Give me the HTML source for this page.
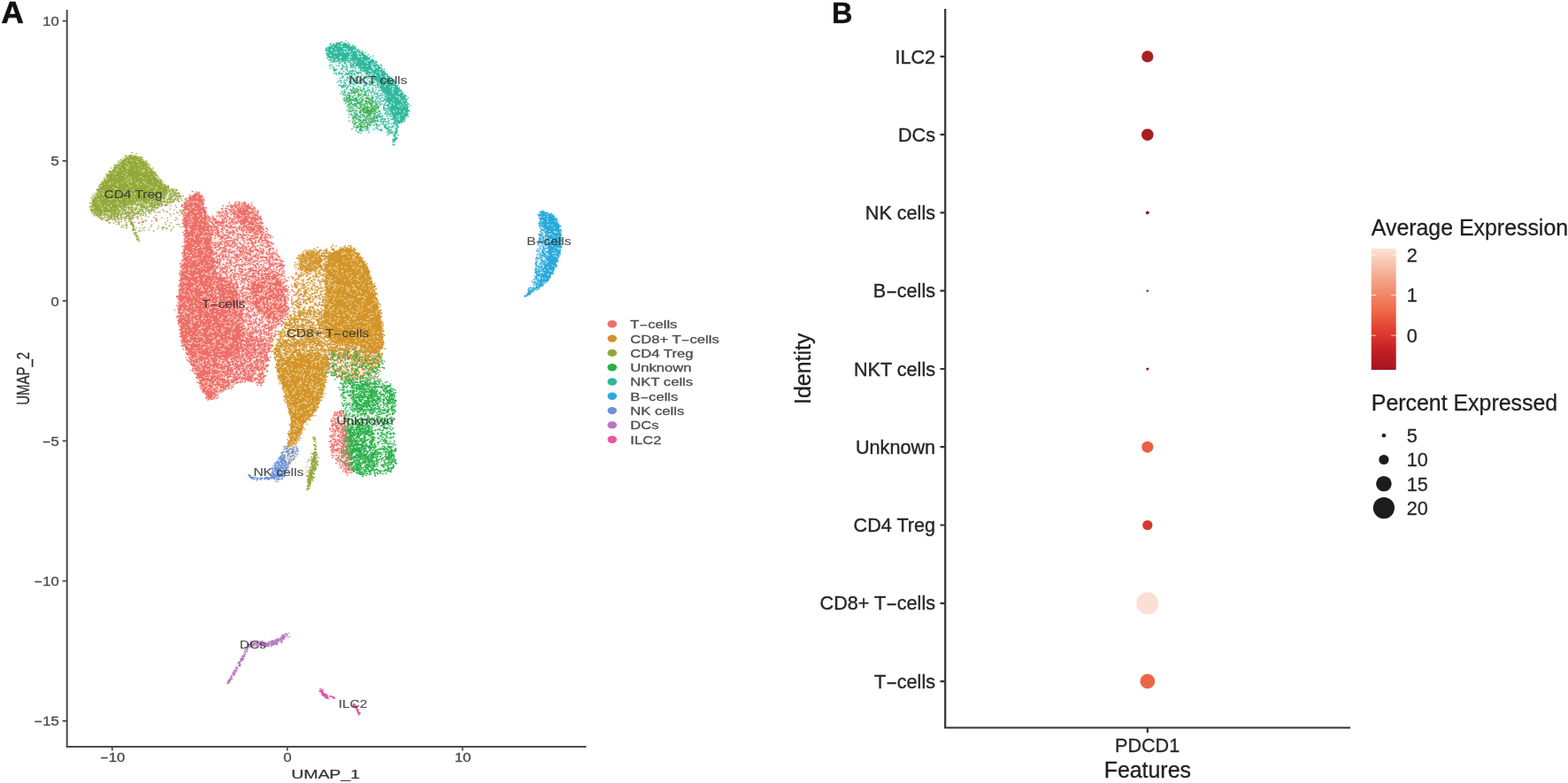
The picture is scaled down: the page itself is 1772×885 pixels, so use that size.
<!DOCTYPE html>
<html lang="en"><head><meta charset="utf-8"><title>UMAP clusters and PDCD1 dot plot</title>
<style>
html,body{margin:0;padding:0;background:#fff}
body{width:1772px;height:885px;overflow:hidden}
svg{display:block;font-family:"Liberation Sans",Arial,Helvetica,sans-serif}
</style></head><body>
<svg width="1772" height="885" viewBox="0 0 1772 885">
<rect width="1772" height="885" fill="#fff"/>
<g id="panelA">
<path d="M75.7 11V845M74.7 844H662.5" fill="none" stroke="#4a4a4a" stroke-width="2"/>
<path d="M70.6 23.6H75M70.6 181.9H75M70.6 340.2H75M70.6 498.4H75M70.6 656.6H75M70.6 814.8H75M126.8 844V848.6M324.7 844V848.6M522.7 844V848.6" fill="none" stroke="#4a4a4a" stroke-width="1.7"/>
<text transform="translate(66.80 29.00) scale(1.2056 1)" font-size="13.80" fill="#4d4d4d" stroke="#4d4d4d" stroke-width="0.35" text-anchor="end">10</text>
<text transform="translate(66.80 187.30) scale(1.2056 1)" font-size="13.80" fill="#4d4d4d" stroke="#4d4d4d" stroke-width="0.35" text-anchor="end">5</text>
<text transform="translate(66.80 345.60) scale(1.2056 1)" font-size="13.80" fill="#4d4d4d" stroke="#4d4d4d" stroke-width="0.35" text-anchor="end">0</text>
<text transform="translate(66.80 503.80) scale(1.2056 1)" font-size="13.80" fill="#4d4d4d" stroke="#4d4d4d" stroke-width="0.35" text-anchor="end"><tspan textLength="8.06" lengthAdjust="spacingAndGlyphs"><tspan textLength="8.06" lengthAdjust="spacingAndGlyphs">-</tspan></tspan>5</text>
<text transform="translate(66.80 662.00) scale(1.2056 1)" font-size="13.80" fill="#4d4d4d" stroke="#4d4d4d" stroke-width="0.35" text-anchor="end"><tspan textLength="8.06" lengthAdjust="spacingAndGlyphs"><tspan textLength="8.06" lengthAdjust="spacingAndGlyphs">-</tspan></tspan>10</text>
<text transform="translate(66.80 820.20) scale(1.2056 1)" font-size="13.80" fill="#4d4d4d" stroke="#4d4d4d" stroke-width="0.35" text-anchor="end"><tspan textLength="8.06" lengthAdjust="spacingAndGlyphs"><tspan textLength="8.06" lengthAdjust="spacingAndGlyphs">-</tspan></tspan>15</text>
<text transform="translate(127.10 861.20) scale(1.2056 1)" font-size="13.80" fill="#4d4d4d" stroke="#4d4d4d" stroke-width="0.35" text-anchor="middle"><tspan textLength="8.06" lengthAdjust="spacingAndGlyphs"><tspan textLength="8.06" lengthAdjust="spacingAndGlyphs">-</tspan></tspan>10</text>
<text transform="translate(325.00 861.20) scale(1.2056 1)" font-size="13.80" fill="#4d4d4d" stroke="#4d4d4d" stroke-width="0.35" text-anchor="middle">0</text>
<text transform="translate(523.00 861.20) scale(1.2056 1)" font-size="13.80" fill="#4d4d4d" stroke="#4d4d4d" stroke-width="0.35" text-anchor="middle">10</text>
<text transform="translate(368.00 879.70) scale(1.2464 1)" font-size="15.52" fill="#333" stroke="#333" stroke-width="0.25" text-anchor="middle">UMAP_1</text>
<text transform="translate(33.3 427.8) scale(1.3351 0.9662) rotate(-90)" text-anchor="middle" font-size="15.52" fill="#333" stroke="#333" stroke-width="0.25">UMAP_2</text>
<text x="1.4" y="26.4" font-size="35" font-weight="bold" fill="#111" stroke="#111" stroke-width="0.7">A</text>
<g id="cells">
<defs><filter id="bl" x="-20%" y="-20%" width="140%" height="140%"><feGaussianBlur stdDeviation="1.6"/></filter></defs>
<path d="M221.0 218.0L221.7 218.0L222.3 218.0L223.0 218.1L223.6 218.2L224.2 218.5L224.8 218.8L225.4 219.1L226.0 219.6L226.5 220.1L227.0 220.6L227.5 221.3L228.0 222.0L228.4 222.8L228.8 223.8L229.2 224.9L229.5 226.1L229.8 227.3L230.1 228.6L230.3 229.9L230.6 231.3L230.9 232.5L231.3 233.8L231.6 234.9L232.0 236.0L232.4 237.0L232.8 238.1L233.3 239.2L233.7 240.2L234.2 241.3L234.7 242.2L235.2 243.2L235.7 244.0L236.2 244.7L236.8 245.3L237.4 245.7L238.0 246.0L238.6 246.1L239.3 245.9L240.0 245.7L240.7 245.3L241.4 244.7L242.2 244.1L243.0 243.5L243.7 242.7L244.5 242.0L245.3 241.3L246.2 240.6L247.0 240.0L247.8 239.4L248.7 238.7L249.6 238.0L250.5 237.3L251.4 236.6L252.3 235.8L253.2 235.1L254.2 234.4L255.1 233.7L256.1 233.1L257.0 232.5L258.0 232.0L259.0 231.6L260.0 231.2L261.0 230.8L262.0 230.5L263.0 230.2L264.1 229.9L265.1 229.7L266.1 229.5L267.1 229.4L268.1 229.2L269.1 229.1L270.0 229.0L270.9 228.9L271.8 228.8L272.6 228.8L273.5 228.7L274.3 228.7L275.1 228.7L275.9 228.7L276.7 228.9L277.5 229.0L278.4 229.3L279.2 229.6L280.0 230.0L280.8 230.5L281.7 231.1L282.5 231.8L283.4 232.6L284.3 233.4L285.1 234.3L286.0 235.2L286.8 236.2L287.6 237.1L288.4 238.1L289.2 239.1L290.0 240.0L290.7 240.9L291.4 241.8L292.1 242.7L292.8 243.6L293.5 244.6L294.1 245.5L294.8 246.5L295.4 247.5L296.0 248.5L296.7 249.6L297.3 250.8L298.0 252.0L298.7 253.3L299.3 254.7L300.0 256.2L300.7 257.7L301.4 259.3L302.1 260.9L302.7 262.5L303.4 264.1L304.1 265.6L304.7 267.2L305.4 268.6L306.0 270.0L306.6 271.3L307.2 272.6L307.8 273.9L308.4 275.1L309.0 276.3L309.6 277.5L310.2 278.7L310.8 279.8L311.3 280.9L311.9 281.9L312.5 283.0L313.0 284.0L313.5 285.0L314.1 285.8L314.6 286.6L315.2 287.4L315.7 288.1L316.2 288.9L316.8 289.6L317.3 290.4L317.7 291.2L318.2 292.0L318.6 293.0L319.0 294.0L319.4 295.1L319.7 296.3L320.0 297.5L320.3 298.7L320.5 300.0L320.8 301.4L321.0 302.7L321.2 304.1L321.4 305.6L321.6 307.0L321.8 308.5L322.0 310.0L322.2 311.5L322.4 313.1L322.6 314.8L322.8 316.4L323.0 318.2L323.1 319.9L323.3 321.6L323.4 323.3L323.6 325.0L323.7 326.7L323.9 328.4L324.0 330.0L324.1 331.6L324.3 333.2L324.4 334.8L324.6 336.4L324.7 337.9L324.8 339.5L324.9 341.0L325.0 342.5L325.1 344.0L325.1 345.4L325.1 346.7L325.0 348.0L324.9 349.2L324.8 350.3L324.6 351.4L324.4 352.4L324.2 353.4L324.0 354.4L323.7 355.3L323.4 356.2L323.1 357.1L322.8 358.1L322.4 359.0L322.0 360.0L321.6 361.0L321.1 362.0L320.5 363.0L319.9 364.0L319.3 364.9L318.7 365.9L318.0 366.9L317.4 367.9L316.8 368.9L316.2 369.9L315.6 371.0L315.0 372.0L314.5 373.0L313.9 374.1L313.4 375.1L312.9 376.1L312.3 377.1L311.8 378.2L311.3 379.2L310.8 380.3L310.3 381.4L309.9 382.6L309.4 383.8L309.0 385.0L308.6 386.3L308.2 387.6L307.9 388.9L307.6 390.3L307.2 391.7L306.9 393.2L306.6 394.6L306.3 396.1L306.0 397.6L305.7 399.1L305.4 400.5L305.0 402.0L304.6 403.5L304.2 405.0L303.8 406.5L303.4 408.0L303.0 409.6L302.6 411.1L302.1 412.7L301.7 414.2L301.3 415.7L300.8 417.2L300.4 418.6L300.0 420.0L299.6 421.4L299.2 422.9L298.9 424.4L298.5 425.9L298.2 427.3L297.8 428.8L297.4 430.1L297.0 431.4L296.6 432.5L296.1 433.5L295.6 434.4L295.0 435.0L294.3 435.4L293.6 435.7L292.9 435.7L292.0 435.6L291.2 435.4L290.3 435.1L289.4 434.7L288.5 434.3L287.6 433.9L286.7 433.5L285.8 433.2L285.0 433.0L284.2 432.8L283.4 432.6L282.6 432.3L281.8 432.1L281.0 431.8L280.2 431.6L279.4 431.3L278.6 431.1L277.7 431.0L276.8 430.9L275.9 430.9L275.0 431.0L274.0 431.2L273.0 431.4L271.9 431.7L270.9 432.0L269.7 432.4L268.6 432.9L267.5 433.3L266.4 433.9L265.2 434.4L264.1 434.9L263.1 435.5L262.0 436.0L261.0 436.6L259.9 437.2L258.9 437.8L257.8 438.5L256.8 439.2L255.8 439.9L254.7 440.6L253.7 441.3L252.8 442.0L251.8 442.7L250.9 443.4L250.0 444.0L249.1 444.6L248.3 445.3L247.5 446.0L246.7 446.7L245.9 447.4L245.2 448.1L244.5 448.8L243.7 449.4L243.0 449.9L242.3 450.4L241.7 450.7L241.0 451.0L240.3 451.2L239.7 451.3L239.1 451.4L238.5 451.4L237.9 451.4L237.4 451.3L236.8 451.1L236.3 450.9L235.7 450.6L235.1 450.1L234.6 449.6L234.0 449.0L233.4 448.3L232.9 447.4L232.3 446.5L231.8 445.5L231.2 444.4L230.7 443.2L230.1 441.9L229.6 440.6L229.0 439.3L228.3 437.9L227.7 436.4L227.0 435.0L226.3 433.5L225.5 431.9L224.7 430.2L223.8 428.5L222.9 426.7L222.1 424.9L221.2 423.1L220.3 421.3L219.4 419.4L218.6 417.6L217.8 415.8L217.0 414.0L216.3 412.2L215.5 410.5L214.8 408.7L214.1 406.9L213.4 405.1L212.7 403.4L212.0 401.6L211.4 399.9L210.7 398.1L210.1 396.4L209.6 394.7L209.0 393.0L208.5 391.4L208.0 389.8L207.5 388.2L207.0 386.6L206.6 385.1L206.2 383.6L205.8 382.0L205.4 380.5L205.0 378.9L204.7 377.3L204.3 375.7L204.0 374.0L203.7 372.3L203.4 370.6L203.1 368.8L202.8 367.1L202.6 365.3L202.3 363.5L202.1 361.7L201.9 359.8L201.8 357.9L201.7 356.0L201.6 354.0L201.5 352.0L201.5 349.9L201.5 347.8L201.6 345.6L201.6 343.3L201.8 341.0L201.9 338.7L202.1 336.4L202.2 334.0L202.4 331.7L202.6 329.4L202.8 327.2L203.0 325.0L203.2 322.9L203.4 320.8L203.6 318.7L203.9 316.7L204.1 314.7L204.4 312.7L204.7 310.7L204.9 308.6L205.2 306.6L205.5 304.4L205.7 302.3L206.0 300.0L206.3 297.7L206.6 295.2L206.9 292.7L207.2 290.2L207.6 287.6L207.9 285.0L208.2 282.4L208.4 279.8L208.7 277.3L208.8 274.8L209.0 272.3L209.0 270.0L209.0 267.7L208.8 265.4L208.6 263.1L208.3 260.9L208.0 258.6L207.7 256.4L207.3 254.3L207.0 252.3L206.7 250.3L206.4 248.4L206.2 246.6L206.0 245.0L205.9 243.5L205.8 242.1L205.6 240.8L205.6 239.6L205.5 238.5L205.4 237.4L205.4 236.5L205.4 235.5L205.5 234.6L205.6 233.7L205.8 232.9L206.0 232.0L206.3 231.2L206.6 230.4L207.0 229.6L207.4 228.9L207.9 228.2L208.4 227.6L209.0 226.9L209.6 226.3L210.1 225.7L210.8 225.2L211.4 224.6L212.0 224.0L212.7 223.4L213.3 222.8L214.1 222.1L214.9 221.5L215.6 220.9L216.4 220.2L217.2 219.7L218.0 219.2L218.8 218.8L219.6 218.4L220.3 218.1Z" fill="#ee6f69" opacity="0.15" filter="url(#bl)"/>
<g transform="scale(0.1290 0.1)" fill="none" stroke-linecap="round"><path d="M1685 2164h0m59 8h0m-82 52h0m1-22h0m3 33h0m2-5h0m22-18h0m5-3h0m2 18h0m9-9h0m10 4h0m3 1h0m0 7h0m9-30h0m11 20h0m5 15h0m8-30h0m1 11h0m17-5h0m-133 56h0m3-24h0m18-2h0m17 28h0m4-9h0m2 17h0m7-4h0m1-7h0m12-9h0m5-17h0m5 27h0m8-14h0m1 2h0m9 9h0m6-6h0m3-15h0m6 35h0m9-22h0m4 21h0m8-11h0m4-7h0m13-19h0m-181 77h0m14-27h0m0-4h0m6 19h0m1 4h0m9-20h0m13 9h0m1-13h0m25 6h0m2 5h0m2 0h0m4 1h0m8-12h0m0 17h0m3 1h0m12 4h0m6-7h0m2 11h0m1 2h0m14-14h0m12-6h0m13-2h0m9-5h0m13 17h0m11 5h0m227-15h0m12 25h0m40-23h0m2 17h0m3-30h0m3 36h0m18-33h0m9 20h0m3-16h0m24 10h0m8 17h0m8-31h0m7 29h0m3-26h0m6 25h0m18-1h0m4-3h0m-579 17h0m13 18h0m6 2h0m3 11h0m12-11h0m7 7h0m1-18h0m13 7h0m25-7h0m12 24h0m4-23h0m8-4h0m3-9h0m9-3h0m10 17h0m1 11h0m2-16h0m0 27h0m13 0h0m5-21h0m15 16h0m3-6h0m2 11h0m19-13h0m23 3h0m134 10h0m8-4h0m5-27h0m23 29h0m5-1h0m7 0h0m2-30h0m7 5h0m23 0h0m2-8h0m1 19h0m5-12h0m2 6h0m8-8h0m18-1h0m9 11h0m10 16h0m2-30h0m2-1h0m7 23h0m28-6h0m16-19h0m1 20h0m6-13h0m24 7h0m1-6h0m4 17h0m7 10h0m38-28h0m3 29h0m12-14h0m9 13h0m-634 23h0m3 3h0m9 12h0m3-24h0m1 29h0m6-16h0m8-9h0m16-1h0m8 25h0m6-5h0m3-19h0m4 11h0m4-20h0m6 2h0m3 5h0m10 10h0m6 0h0m5-16h0m3-4h0m8 17h0m11-14h0m5 9h0m42 2h0m10 15h0m10 6h0m125-3h0m33-10h0m25-4h0m2 12h0m7-7h0m23-18h0m9 5h0m0 6h0m4 18h0m4-18h0m13 20h0m13-37h0m5 5h0m11 26h0m11-7h0m3-21h0m6 2h0m10-2h0m3 26h0m4-18h0m1-2h0m13 24h0m5-12h0m16-3h0m8 3h0m1-2h0m7 14h0m7-10h0m4-11h0m4-10h0m3 29h0m6 7h0m2-38h0m0 30h0m20-25h0m2 11h0m0 8h0m18 13h0m3-7h0m30 1h0m9-11h0m-666 30h0m7 8h0m31 11h0m4 9h0m10-1h0m4-22h0m1 8h0m29-19h0m1 22h0m10-9h0m7 6h0m17-14h0m3 3h0m7-2h0m9-1h0m2 16h0m3-9h0m1-2h0m9-8h0m0-4h0m8 30h0m6-30h0m3 36h0m16-20h0m2 13h0m3-29h0m13-3h0m1 10h0m16 27h0m84-36h0m15 15h0m8-16h0m9 9h0m4-2h0m0 27h0m7 5h0m2-4h0m8-31h0m9 26h0m5-13h0m11 21h0m4-37h0m5 23h0m3-13h0m4-4h0m26 17h0m2 4h0m18-16h0m1-5h0m4 18h0m9-24h0m2 25h0m2-14h0m6 14h0m3-4h0m6-14h0m25 18h0m1-16h0m11-1h0m1 30h0m3-2h0m5-30h0m10-1h0m4 4h0m5 11h0m0 8h0m7-22h0m5 16h0m1-4h0m1 11h0m0-16h0m10 11h0m7-25h0m2 10h0m1 6h0m6-2h0m13-1h0m9 6h0m0-2h0m1 7h0m6-14h0m14 8h0m5 11h0m4-3h0m20-3h0m9-22h0m-650 65h0m1-22h0m0-2h0m0 30h0m3-29h0m5 12h0m9 13h0m6-28h0m6 14h0m13 24h0m2-11h0m8 4h0m2-18h0m25 3h0m3-9h0m6 28h0m3-2h0m13-19h0m14 21h0m3-17h0m3 19h0m6-26h0m6-7h0m1 26h0m4-23h0m2-7h0m0 13h0m17 23h0m10-7h0m3-16h0m7-7h0m2 5h0m5 23h0m2-10h0m2-18h0m7 22h0m9-13h0m9 6h0m3-10h0m1 8h0m2 1h0m14 10h0m14-27h0m3 30h0m1-15h0m9 13h0m8 8h0m5-3h0m10-33h0m19-3h0m14 11h0m17 23h0m9-22h0m8 25h0m6-22h0m3 4h0m2 10h0m5 3h0m10-30h0m5 9h0m14 20h0m3-14h0m1 11h0m16 7h0m2 0h0m14 0h0m7-16h0m17-4h0m17 20h0m18-31h0m10-2h0m10 22h0m0-7h0m13 12h0m14-28h0m3-1h0m19 20h0m9-1h0m4-19h0m9 15h0m3-8h0m23-2h0m29-2h0m1 11h0m14 1h0m3 16h0m11-12h0m1-16h0m3 34h0m2-4h0m-687 13h0m13 13h0m11 0h0m3-10h0m3 11h0m9-2h0m12-9h0m19 13h0m2-9h0m3 25h0m6-28h0m6 11h0m2 1h0m14-10h0m0 22h0m8-30h0m14 32h0m35-24h0m5 25h0m9-17h0m4 13h0m14-20h0m9 20h0m0-31h0m2 10h0m6 27h0m8-19h0m6-18h0m5 2h0m2 6h0m7 13h0m5-23h0m7 33h0m6-2h0m2-9h0m14-15h0m2 6h0m9 26h0m0-26h0m9 24h0m0-9h0m6-9h0m5 15h0m9-9h0m3-1h0m7 6h0m8-1h0m12 1h0m6 9h0m2-35h0m2 14h0m3 0h0m1 6h0m5 3h0m6-6h0m16 10h0m3-9h0m4-9h0m18 25h0m3-31h0m10 31h0m9-14h0m3-9h0m2-9h0m1 28h0m3-18h0m11 22h0m4-37h0m6 20h0m12 7h0m9 10h0m6-25h0m4 19h0m4-2h0m6-13h0m7-7h0m1 15h0m4-8h0m4 4h0m6-4h0m4 4h0m11-6h0m0 9h0m2 6h0m25 4h0m6-14h0m1 1h0m0-21h0m6 16h0m1 21h0m3-5h0m2-17h0m12 4h0m1-13h0m18 26h0m0 4h0m14-32h0m3 19h0m1-1h0m1-6h0m13-3h0m1 4h0m43-13h0m2 28h0m0 2h0m-687 9h0m12 34h0m5-3h0m1 3h0m6-15h0m11-17h0m7 1h0m3 11h0m5-16h0m2 26h0m9-10h0m6 4h0m11 5h0m13 8h0m6-5h0m10-24h0m5 31h0m1-22h0m5-3h0m2 4h0m3 4h0m2 6h0m9-11h0m32 25h0m2-31h0m8 5h0m1 6h0m4 11h0m2 2h0m3-31h0m8 25h0m2-7h0m23-19h0m7 28h0m3-1h0m1 8h0m2-8h0m5 11h0m11-2h0m7-35h0m3 9h0m4 8h0m4-1h0m4 9h0m1-1h0m8 14h0m11-32h0m11-5h0m1-1h0m2 20h0m5-21h0m4 25h0m7-2h0m3-22h0m3 18h0m8-15h0m0 28h0m11 7h0m2-29h0m7 18h0m3-27h0m13 36h0m4-16h0m2 0h0m3 7h0m6 11h0m7-2h0m11-25h0m1-8h0m8 31h0m7-9h0m1 12h0m1-2h0m16-23h0m19-3h0m1 3h0m8-11h0m26 36h0m13-26h0m6-2h0m1-8h0m0 23h0m2-22h0m14 7h0m2 5h0m6 7h0m15 15h0m8-6h0m6-18h0m18-12h0m2 27h0m1 0h0m4-9h0m2-18h0m12 14h0m1 6h0m1-12h0m15 29h0m1-25h0m7 12h0m24-4h0m1 16h0m15 2h0m13-30h0m4-2h0m6-7h0m-679 44h0m19 24h0m0-14h0m4 25h0m11-28h0m10 22h0m1 6h0m23-10h0m16-16h0m7 21h0m0-1h0m1-12h0m10-9h0m9-10h0m7 5h0m16 1h0m2 7h0m9 18h0m7-20h0m5 20h0m0-23h0m12-4h0m1 33h0m5 0h0m4-15h0m12 0h0m1 9h0m13-6h0m4-25h0m25 29h0m2-29h0m1 19h0m0-9h0m5 25h0m1-35h0m0 2h0m3-2h0m11 32h0m1-23h0m7-2h0m13 8h0m0-17h0m6 36h0m1-7h0m1-25h0m7 25h0m1-23h0m28 25h0m9-9h0m1 10h0m2-13h0m15-4h0m8 18h0m21-29h0m1 33h0m12-25h0m8 2h0m7-14h0m3 16h0m15-7h0m5 6h0m1-12h0m16 13h0m0-7h0m10 24h0m9-16h0m13 0h0m2 9h0m2-22h0m0 29h0m5-23h0m13 23h0m1-16h0m13 2h0m3-13h0m5 32h0m14-16h0m20-3h0m5-15h0m6 6h0m6 10h0m31 1h0m10-12h0m8 30h0m5-5h0m9-31h0m4-3h0m1 28h0m2 1h0m7 4h0m8-12h0m7-1h0m6-5h0m5 1h0m6 6h0m2-20h0m1 26h0m5-1h0m26-6h0m10 12h0m-737 32h0m15-19h0m1 1h0m6 28h0m22-29h0m3 25h0m3-22h0m24 27h0m2-15h0m8-10h0m3 8h0m3 2h0m24-5h0m2 5h0m4 7h0m0-16h0m3-9h0m2 31h0m53-17h0m1-12h0m8 28h0m21-24h0m0 15h0m6 4h0m3-25h0m5 10h0m4-10h0m6 34h0m2-29h0m11 22h0m2-6h0m1-20h0m6 21h0m10-6h0m14-15h0m3 27h0m5-31h0m9 18h0m2 21h0m4-13h0m5-9h0m0-8h0m3 28h0m2-10h0m22-8h0m1 3h0m13 13h0m1-27h0m28 19h0m6-24h0m1 8h0m1-9h0m7 34h0m6-13h0m9 16h0m6 0h0m0-19h0m2 7h0m11-3h0m7-24h0m3 32h0m2-18h0m8 20h0m2-18h0m6 23h0m13-36h0m7 9h0m39-7h0m4-2h0m4 18h0m6-15h0m9-2h0m16 23h0m2-10h0m2 14h0m3-31h0m11 0h0m5 25h0m3-25h0m3 7h0m4 7h0m1 21h0m2-14h0m12 2h0m10-14h0m10 28h0m2-15h0m14 5h0m18 8h0m2-29h0m14 17h0m5 3h0m4 8h0m2 2h0m0-22h0m2 19h0m4-7h0m16-26h0m2 29h0m23-10h0m-720 39h0m9-9h0m6-6h0m2-2h0m2 30h0m3-13h0m3-12h0m2 30h0m14-21h0m5 8h0m7 12h0m3-16h0m9-16h0m1 8h0m8 1h0m4 21h0m32-16h0m4 6h0m11-13h0m4-9h0m11 27h0m6-16h0m4 4h0m6 17h0m21-17h0m3 5h0m8 0h0m9 9h0m1-21h0m3 3h0m6 26h0m2-8h0m7 8h0m9-37h0m7 1h0m5 13h0m9-9h0m2 8h0m4-10h0m16 9h0m4 19h0m12-31h0m1 8h0m2 1h0m10 21h0m4-2h0m1-9h0m1 8h0m3-16h0m2 4h0m0 10h0m9 6h0m14 4h0m4-23h0m11 18h0m6-9h0m1-5h0m3-1h0m3 2h0m1 0h0m0-6h0m9 11h0m15 10h0m2-17h0m7 17h0m11-33h0m22 13h0m7 7h0m27 13h0m8-21h0m3 9h0m1-20h0m1 5h0m16 0h0m1 14h0m9-5h0m8 24h0m5-15h0m5-21h0m6 5h0m5 13h0m8-3h0m1 1h0m10-4h0m14 3h0m7 0h0m20 14h0m4-8h0m3 2h0m9-1h0m0 1h0m6-3h0m5 9h0m8-28h0m4 10h0m3 21h0m1-28h0m3 26h0m3-33h0m11 16h0m3-14h0m21 34h0m7-24h0m3 9h0m3 6h0m4-19h0m21 30h0m2-30h0m1 12h0m3-6h0m4 23h0m13-33h0m3 15h0m11 1h0m6 3h0m3 2h0m-753 40h0m5-12h0m16 16h0m6-26h0m13 16h0m17-6h0m9-4h0m3 12h0m31-6h0m4 23h0m22-34h0m7 5h0m1 11h0m9-12h0m11 24h0m9-8h0m0-16h0m8 29h0m6-5h0m5 0h0m26-10h0m4-1h0m7-17h0m11 18h0m1-15h0m5 8h0m31 1h0m44 12h0m8-24h0m3 14h0m8-14h0m0 14h0m8-8h0m2-5h0m14 26h0m3-13h0m7-5h0m7-7h0m6 9h0m12-10h0m3 34h0m11-34h0m8 8h0m3 26h0m11-1h0m8-19h0m9 7h0m16-3h0m0 12h0m5-11h0m1 15h0m4-31h0m8-2h0m20 0h0m12 9h0m1 17h0m3-30h0m2 14h0m13-1h0m20 16h0m4-27h0m2 30h0m7-3h0m7-10h0m9-10h0m0 11h0m1-8h0m7 0h0m1 19h0m14-23h0m2 11h0m14-1h0m3-10h0m8-1h0m8 1h0m7-6h0m12 33h0m1-1h0m8-15h0m3-6h0m1-2h0m0-13h0m2 28h0m7-5h0m2-16h0m5 30h0m12 2h0m2-33h0m8 5h0m3 15h0m0 10h0m13 0h0m1-31h0m0 31h0m6-29h0m24-5h0m1 6h0m17-8h0m-767 51h0m7 7h0m14 16h0m4-26h0m7 14h0m10-17h0m2-5h0m5 2h0m22 37h0m18-15h0m2-3h0m2 17h0m2-10h0m6 9h0m2-17h0m31-3h0m12-3h0m3-3h0m19 7h0m12 9h0m1 2h0m2-2h0m15 8h0m7-4h0m6-5h0m4 5h0m1-19h0m4 27h0m3-13h0m4 1h0m14-10h0m23 10h0m4-3h0m7 5h0m17-11h0m16 10h0m0 11h0m8-26h0m1 9h0m2 5h0m11-25h0m14 14h0m8 20h0m2-15h0m7 2h0m2-19h0m9 14h0m1 13h0m4-25h0m11-4h0m4 23h0m11-21h0m17 18h0m1 8h0m2-11h0m8-4h0m3 17h0m1-26h0m5 20h0m5 11h0m13-2h0m22-16h0m7 10h0m33-28h0m5 18h0m25 14h0m5 3h0m4-13h0m16-20h0m9 23h0m1 4h0m1-25h0m3 22h0m3 11h0m0-6h0m0 5h0m4-21h0m12 20h0m6-12h0m6-15h0m2-7h0m0 21h0m1 0h0m1-20h0m21 6h0m6 5h0m3 5h0m22 5h0m2-19h0m14 32h0m17-34h0m1 22h0m11 0h0m3-13h0m5-6h0m1 11h0m4 8h0m2-9h0m7 1h0m16 4h0m0 8h0m8 9h0m9-4h0m-781 35h0m21-14h0m6-8h0m2 27h0m15-31h0m13 34h0m10-8h0m4-15h0m2 16h0m0-13h0m2 14h0m1-14h0m16-8h0m5 15h0m2 13h0m0-8h0m7-6h0m10 11h0m0-34h0m3 2h0m6 33h0m2-28h0m5 11h0m1 3h0m1-1h0m0 10h0m11 6h0m7-23h0m11 15h0m8-17h0m3 0h0m12-5h0m1 8h0m12-13h0m0 14h0m3-13h0m18 26h0m0-10h0m3-9h0m12 3h0m1 0h0m9 26h0m10-36h0m6 5h0m3 10h0m7 20h0m1-24h0m3-2h0m1 21h0m8 1h0m9-32h0m4 24h0m2-12h0m4-4h0m3 11h0m5-19h0m2 36h0m11 0h0m4-36h0m4 1h0m19 35h0m5-22h0m3 15h0m11-5h0m3-11h0m13-13h0m2 0h0m2 18h0m8-8h0m8 16h0m3-5h0m1-7h0m9-11h0m4 31h0m11-4h0m2-5h0m10-12h0m12 4h0m13 12h0m4 1h0m6 7h0m14-36h0m3 36h0m12-21h0m0 6h0m2-10h0m3 4h0m1 16h0m2 5h0m6-36h0m10 26h0m5-2h0m7 12h0m15-16h0m5 3h0m23 13h0m10-37h0m0 28h0m3-1h0m2-14h0m2 2h0m14 9h0m5 9h0m17-13h0m4-4h0m24-11h0m3 5h0m13 5h0m5 4h0m1 0h0m18 8h0m9 9h0m8-15h0m5-18h0m3 3h0m0 25h0m8-21h0m6 12h0m1-12h0m7 12h0m-755 29h0m20 23h0m7-25h0m1 18h0m0-8h0m4-8h0m6 4h0m0 16h0m12-3h0m3-21h0m13 15h0m14 8h0m7-8h0m15 11h0m23-33h0m11 13h0m2 25h0m1-27h0m1-11h0m1 12h0m4 13h0m9-12h0m12 23h0m1-14h0m4 1h0m29-16h0m0 28h0m2-23h0m3 12h0m6-20h0m2 14h0m0-12h0m12 13h0m2 14h0m8-21h0m1 20h0m0-23h0m1 12h0m2 4h0m9 8h0m6-6h0m10-23h0m8-2h0m11 24h0m16-5h0m2-1h0m0 4h0m9-9h0m1-2h0m2-9h0m9-3h0m11 23h0m4 7h0m1 3h0m1-32h0m2-1h0m1 35h0m4-29h0m3 29h0m2 0h0m3-19h0m2 17h0m1-10h0m9-17h0m0 13h0m18 7h0m14 1h0m3-11h0m47 21h0m10-28h0m11-7h0m0 27h0m13 7h0m2-8h0m4-14h0m3 21h0m5-32h0m7 34h0m5-31h0m8 15h0m0 5h0m7-11h0m11-12h0m8 24h0m0-20h0m1 2h0m16 22h0m13-3h0m1-21h0m4 25h0m2-12h0m1 5h0m1-8h0m1 9h0m1 4h0m14-32h0m4 34h0m2-2h0m16-19h0m4 13h0m10-10h0m2 18h0m3 1h0m7-10h0m2 9h0m15-32h0m6 16h0m8 21h0m5-2h0m5-22h0m7 7h0m1 17h0m47-10h0m0-8h0m9-10h0m0 18h0m4-18h0m15-7h0m10 10h0m31 13h0m-828 29h0m17-13h0m15 9h0m9 17h0m0-26h0m13 23h0m1 3h0m3-3h0m2-7h0m6-14h0m11 12h0m0 3h0m10-2h0m21 16h0m4-30h0m0-3h0m2 17h0m1 8h0m9 13h0m2-31h0m7 21h0m0-15h0m4-4h0m7-4h0m21 13h0m41-16h0m4 10h0m4 18h0m3-13h0m5 7h0m3-2h0m1 5h0m6 2h0m1-25h0m9 10h0m13 6h0m6-12h0m2 6h0m3-6h0m5 2h0m2 27h0m11-4h0m3-12h0m8-8h0m1 0h0m4 16h0m3-7h0m30 11h0m7-19h0m4 3h0m9-9h0m1 21h0m12-26h0m4 0h0m6 6h0m1-7h0m1-1h0m0 33h0m10-34h0m15 16h0m5-10h0m8 5h0m3-5h0m6 5h0m9 9h0m1-16h0m3 0h0m0 5h0m4-6h0m4-4h0m4 2h0m5 23h0m18 7h0m10 4h0m24-7h0m2-11h0m1-12h0m6 7h0m8 23h0m2-34h0m3 22h0m8-22h0m9 28h0m2-19h0m9-4h0m6 11h0m1-2h0m4 11h0m8 8h0m1-16h0m12 15h0m0-11h0m5 5h0m0-1h0m0-21h0m4 30h0m9-34h0m3 6h0m6-6h0m5 4h0m31 20h0m20-19h0m3 27h0m11-34h0m4 15h0m5 8h0m10-8h0m0 14h0m34-15h0m0 10h0m6 14h0m9-1h0m5-29h0m2 25h0m3-17h0m16 9h0m10 14h0m6-18h0m2-10h0m12 18h0m10-13h0m6 21h0m-807 32h0m4 10h0m18-10h0m7 3h0m3-19h0m10 4h0m8-17h0m10 6h0m3 23h0m3-24h0m2 26h0m3 1h0m3 6h0m9-10h0m15 0h0m5-14h0m7-13h0m4 14h0m42 15h0m8-6h0m4 8h0m1-20h0m3 22h0m3 3h0m2-1h0m7 0h0m1-23h0m9 7h0m2 10h0m1-7h0m4-7h0m3 20h0m16-7h0m3-21h0m5 7h0m12-3h0m4 7h0m33 6h0m5-13h0m11 3h0m8-9h0m6 18h0m8-22h0m14 32h0m2-8h0m4-25h0m3 10h0m2 12h0m2-5h0m1-7h0m15 16h0m1-16h0m9 10h0m16 4h0m5-25h0m0 1h0m1 20h0m21 13h0m8-6h0m12-1h0m8-24h0m10 18h0m1-9h0m5-11h0m2 19h0m3 16h0m3-27h0m5 0h0m4 20h0m8-4h0m3-22h0m8 8h0m21 20h0m2-21h0m7 21h0m11-19h0m1 23h0m6-2h0m6-16h0m11 18h0m19-34h0m7 14h0m2 24h0m3-2h0m7-2h0m10-22h0m0 6h0m7 4h0m2-5h0m5-12h0m1 11h0m3-17h0m4 23h0m2 8h0m10-24h0m5 25h0m4-19h0m2 26h0m18-17h0m3 9h0m6-11h0m6 16h0m5-15h0m14 7h0m5 5h0m4-7h0m10 8h0m3-5h0m22-1h0m8-11h0m2-17h0m0 38h0m8-21h0m4 2h0m4 19h0m2-8h0m2-4h0m42-23h0m3 16h0m1 2h0m4 0h0m5 6h0m-854 36h0m36-17h0m9 16h0m1-20h0m3 5h0m10 19h0m5 1h0m4-13h0m3 23h0m3-35h0m0 14h0m6 0h0m10 11h0m6-16h0m13 22h0m1-25h0m0 7h0m8 18h0m10-30h0m11 4h0m8 27h0m19-32h0m16 23h0m3-9h0m0-11h0m13 27h0m1-8h0m1-6h0m3-13h0m29 9h0m7 14h0m5-2h0m8-8h0m2 21h0m4-23h0m1-13h0m12 14h0m4-16h0m4 26h0m5-7h0m1 10h0m2-30h0m8 38h0m1-5h0m0 0h0m2-1h0m12 0h0m2-26h0m1-1h0m2 19h0m15-17h0m4 26h0m2-14h0m1 0h0m4-2h0m1-5h0m25 3h0m1-6h0m32-5h0m1 18h0m14-10h0m5 15h0m7 8h0m0 3h0m3-14h0m4-2h0m26-17h0m7-2h0m11 14h0m0 20h0m1-13h0m0 0h0m15-8h0m10 5h0m13-9h0m1-5h0m12 10h0m23-16h0m5 9h0m1 12h0m7 0h0m0-19h0m0 1h0m15 26h0m7-14h0m4-2h0m4 17h0m3-6h0m2-21h0m2 22h0m4-21h0m0-3h0m13 14h0m18 12h0m13-4h0m14-14h0m1 23h0m5-30h0m12 33h0m16-7h0m13-5h0m17 4h0m12-7h0m3-17h0m2 5h0m4-1h0m4 31h0m8-14h0m4-9h0m5-14h0m1 24h0m24-8h0m1-18h0m13 18h0m1 2h0m12-20h0m2 13h0m6-6h0m2 18h0m4-10h0m17 1h0m13 18h0m2-16h0m13 15h0m9-1h0m-903 28h0m22-14h0m13 20h0m3-2h0m4-1h0m2-15h0m5 27h0m10-13h0m5-6h0m3 2h0m2-3h0m4 20h0m7-11h0m64-16h0m16-2h0m0-2h0m0 26h0m5 8h0m1-3h0m3-18h0m7-15h0m5 19h0m19-16h0m1 6h0m4-11h0m0 18h0m19 6h0m6-7h0m10 6h0m6-7h0m0 23h0m1-25h0m0 7h0m5-11h0m6 27h0m11-2h0m4-10h0m11-16h0m2 4h0m3-1h0m1-3h0m1-2h0m0 6h0m3-1h0m2-9h0m8 36h0m10-30h0m2-4h0m0 10h0m9-2h0m4-8h0m3 9h0m3 13h0m3 6h0m1-5h0m2-28h0m7 10h0m27 17h0m7 5h0m23-22h0m0 15h0m3-12h0m16 0h0m12 3h0m1-7h0m7 16h0m7-18h0m19 7h0m6-3h0m13 21h0m9-30h0m3 25h0m13 6h0m15 2h0m1-3h0m12-31h0m5 26h0m6 5h0m9-15h0m4 13h0m9 5h0m3-30h0m12 25h0m5-13h0m3 3h0m12-11h0m3 22h0m15-20h0m8 22h0m3-33h0m3 34h0m7-32h0m5 34h0m16-12h0m8-8h0m5 17h0m23 1h0m5 1h0m18 1h0m6-24h0m18 0h0m18-11h0m3 21h0m9-21h0m2 14h0m0 18h0m11-13h0m0 19h0m7-8h0m7-23h0m6 18h0m10-1h0m1 0h0m2 3h0m3-15h0m4 6h0m10 7h0m16-11h0m3 23h0m4-2h0m8-6h0m5-16h0m1 22h0m7-9h0m5 9h0m16 1h0m-888 12h0m3 18h0m28-16h0m14-10h0m7 34h0m3-13h0m2 17h0m9-11h0m11-12h0m3 4h0m2 13h0m15-21h0m14 23h0m3-30h0m14-1h0m2 14h0m2-10h0m0 28h0m17-30h0m2 30h0m2-4h0m3-4h0m14 1h0m15-14h0m29 17h0m6-3h0m1-15h0m39 16h0m7-22h0m23 12h0m5 2h0m6 3h0m0 6h0m2-22h0m3 1h0m2 1h0m17 16h0m4-24h0m5 24h0m13 0h0m8 6h0m7-2h0m1 5h0m2-3h0m0-13h0m9-14h0m5 13h0m9 2h0m12-17h0m7 25h0m2-3h0m13-26h0m20 5h0m6 7h0m7 27h0m4-25h0m5-8h0m1-5h0m25 1h0m7 23h0m4 12h0m6 1h0m3-33h0m5-2h0m9 11h0m56 22h0m15-6h0m0-5h0m21 2h0m15-24h0m1-3h0m0 19h0m7-11h0m0 6h0m10 15h0m18 2h0m4-19h0m18 26h0m9-18h0m2-1h0m7 3h0m12 7h0m9 7h0m11 0h0m10-8h0m9-17h0m3 19h0m2-10h0m0 5h0m8-21h0m18 0h0m1 1h0m3 2h0m3 32h0m23-26h0m2 14h0m11-15h0m11-5h0m7 1h0m5 1h0m1 28h0m3-31h0m9-4h0m3 1h0m0 28h0m0 2h0m2-6h0m1-19h0m0 21h0m8-20h0m-889 45h0m9 22h0m4-13h0m4 12h0m6-20h0m9-13h0m0 32h0m2-30h0m5 1h0m5 3h0m3 22h0m4-17h0m2 5h0m2 14h0m4-24h0m2 1h0m3 12h0m5-1h0m3-13h0m2 10h0m2 12h0m11-10h0m15 8h0m10 1h0m1-12h0m5-6h0m11 27h0m1-24h0m2 23h0m13-22h0m5-6h0m2 8h0m7 15h0m20-31h0m7 22h0m3-18h0m7 24h0m9 3h0m6 5h0m2-6h0m3-7h0m5-12h0m12 7h0m14 17h0m2-7h0m7 0h0m3-13h0m5-5h0m13 1h0m6 11h0m6 0h0m2-14h0m1 26h0m35 5h0m6-32h0m0 19h0m15-12h0m1-6h0m1-8h0m8 23h0m2 11h0m11-34h0m6 37h0m0-7h0m13-3h0m0-3h0m2-20h0m0-4h0m1 23h0m30-2h0m4 7h0m0-7h0m4-13h0m8 8h0m23 16h0m0-20h0m36-12h0m4 20h0m0 7h0m14 6h0m3-31h0m3 21h0m0 14h0m1-30h0m3 22h0m5 5h0m1-29h0m20 0h0m0-3h0m2 14h0m24-13h0m2 29h0m9-28h0m1 24h0m5-13h0m1-14h0m3 26h0m4-13h0m5 1h0m6-11h0m3 16h0m3-13h0m3 8h0m1 9h0m10-5h0m11 12h0m1-20h0m2 4h0m11 12h0m11 2h0m5-5h0m2-10h0m11-4h0m1 1h0m3-1h0m7 16h0m16-14h0m0 2h0m4 10h0m8 3h0m5-11h0m1 3h0m1-15h0m8 16h0m3-15h0m9-1h0m5 35h0m5-16h0m13-15h0m6 19h0m7-6h0m6 13h0m11-34h0m5 25h0m4 10h0m14-24h0m22 14h0m1-12h0m6-12h0m20 20h0m15 2h0m-916 28h0m16 25h0m4-35h0m7 28h0m10-12h0m6-16h0m25 30h0m10-4h0m4 3h0m7-19h0m7 24h0m3-10h0m10-8h0m1 21h0m2-38h0m1 10h0m0 6h0m5 6h0m6 2h0m3 2h0m17-9h0m20 21h0m0-32h0m17 29h0m3-10h0m13-16h0m2 7h0m8 8h0m6-16h0m3 3h0m7 27h0m5-34h0m25 8h0m4-9h0m4 21h0m9 10h0m8-16h0m3 6h0m5-14h0m4 21h0m5-13h0m9 1h0m3-16h0m9 6h0m2 23h0m1-32h0m5 3h0m0 19h0m8-17h0m3 11h0m15 13h0m3-10h0m5 9h0m8 6h0m8-28h0m22-5h0m4 8h0m11 22h0m1-17h0m7 23h0m10-37h0m19 37h0m2-14h0m15-18h0m5 34h0m6-21h0m0 3h0m4 5h0m12-12h0m9 7h0m6-8h0m12 10h0m12-5h0m6-15h0m2 8h0m4 26h0m14-9h0m0-2h0m7 5h0m0-3h0m0 3h0m9-8h0m5 11h0m2-26h0m11 21h0m2-19h0m14 0h0m1 28h0m18-2h0m12-25h0m5 10h0m2 3h0m1 1h0m2-20h0m0 25h0m3-5h0m9-15h0m7 29h0m12-28h0m6-8h0m4 15h0m0-2h0m4-11h0m3 4h0m11 18h0m9 5h0m3 0h0m0-14h0m0 1h0m4-14h0m18 11h0m4-2h0m5 13h0m2-2h0m3-15h0m5 4h0m3 6h0m2 16h0m6-18h0m2 0h0m2 0h0m5 11h0m2 0h0m8-3h0m3-15h0m2 4h0m0-7h0m2 4h0m12-10h0m0-1h0m10 16h0m1 12h0m0-1h0m7 11h0m5-17h0m0 17h0m11-14h0m0-24h0m3 22h0m4 13h0m6-31h0m3 33h0m3-35h0m2 11h0m1 18h0m1-14h0m9 5h0m12 6h0m5-13h0m3 21h0m4-3h0m1-2h0m2-30h0m13 6h0m-892 57h0m5 4h0m5 7h0m4-10h0m1-21h0m7 24h0m0-1h0m5 0h0m7 11h0m4-5h0m3-12h0m1-17h0m13 31h0m5-17h0m2-16h0m10 9h0m6-2h0m2 22h0m5-10h0m3-9h0m18 12h0m0 10h0m10-12h0m2 7h0m13 4h0m0-16h0m1 13h0m13 2h0m29-3h0m12-8h0m10 17h0m9-24h0m12 15h0m6-12h0m11-8h0m19 2h0m0 7h0m4 17h0m5-35h0m30 20h0m1-9h0m1 16h0m2-27h0m4 27h0m8-18h0m5 24h0m7-1h0m1 4h0m10-29h0m4-1h0m0 4h0m11 11h0m15-4h0m5-2h0m17 15h0m5-16h0m10 2h0m14 3h0m8-14h0m3 31h0m7-17h0m20-1h0m3-18h0m7 30h0m4-21h0m6-6h0m22 12h0m7 19h0m2-34h0m19 21h0m6 0h0m1 16h0m5-7h0m1 0h0m15-1h0m8-14h0m1 16h0m4-16h0m17-10h0m6 28h0m2-5h0m10-22h0m2 4h0m8-4h0m11 17h0m0-10h0m1-12h0m3 11h0m11-9h0m11 29h0m1-19h0m24 9h0m1 1h0m14 12h0m7-8h0m4-4h0m39 8h0m3-25h0m1 25h0m2-30h0m3 35h0m1-26h0m5 24h0m0-21h0m1-9h0m3 23h0m4-16h0m2-10h0m3 10h0m4 19h0m0 4h0m6-21h0m0-2h0m13-6h0m3 30h0m9-22h0m16 1h0m11-9h0m11 32h0m2-8h0m2-7h0m19-7h0m36-12h0m5 28h0m32-14h0m-932 26h0m3 18h0m5-22h0m4 30h0m1-21h0m0 15h0m35 7h0m10-8h0m1 9h0m2-5h0m24-9h0m1-13h0m7 4h0m5 16h0m10 13h0m2-23h0m0 7h0m7 13h0m8-4h0m14-23h0m19-4h0m0 16h0m6 8h0m5-26h0m6 0h0m1 26h0m1-26h0m15 4h0m9 23h0m1 6h0m3-1h0m16-12h0m8 9h0m4-31h0m1 22h0m9-22h0m7 11h0m0-6h0m2 13h0m1-12h0m3 23h0m26-2h0m3-13h0m8 19h0m10 4h0m8-13h0m0 8h0m5-12h0m9-13h0m6 19h0m12-16h0m2 28h0m12-14h0m11-22h0m37 21h0m5 13h0m19-10h0m1 3h0m5-29h0m2 12h0m20-10h0m10 35h0m4 0h0m1-13h0m6 12h0m1-31h0m4-5h0m33 18h0m8 16h0m1-25h0m10 18h0m4-3h0m4-18h0m11-4h0m16 10h0m4 1h0m0 3h0m0-14h0m1 6h0m1-8h0m7 36h0m6-5h0m1-3h0m11-21h0m11 19h0m4 8h0m15 1h0m11 0h0m7-35h0m3 28h0m3 5h0m2-1h0m4 6h0m5-38h0m13 27h0m7 8h0m1-31h0m1 23h0m2-2h0m6 7h0m24-30h0m20-2h0m0 36h0m5-6h0m5-29h0m5 1h0m3-2h0m2 24h0m2-2h0m7-8h0m8 12h0m76 7h0m7-29h0m6 24h0m13-26h0m12 34h0m11-16h0m10-13h0m11 9h0m-941 42h0m9 19h0m6-16h0m1 1h0m5 0h0m23 9h0m0 3h0m6 1h0m5-25h0m0 28h0m10-17h0m5-2h0m4 0h0m1 10h0m3-18h0m26-7h0m7 0h0m15 17h0m3 12h0m7-7h0m1-23h0m3 24h0m11-24h0m13 33h0m4-20h0m6 17h0m3-1h0m2-29h0m2 23h0m1-23h0m6 23h0m8-4h0m6-1h0m2 7h0m18 2h0m3-17h0m7 11h0m6-19h0m4-5h0m4 27h0m6 6h0m10 3h0m2-20h0m4 7h0m18 14h0m3-16h0m4 6h0m2-26h0m11 31h0m16-21h0m1 6h0m2-16h0m23 35h0m2-33h0m12 0h0m5 5h0m8 27h0m1-5h0m4-17h0m11-13h0m21 22h0m3 6h0m10-2h0m25-17h0m6-8h0m4 29h0m2-24h0m10 4h0m1 18h0m4-13h0m19-3h0m0-3h0m1 12h0m5-2h0m2 14h0m28-22h0m27 17h0m9-28h0m26 18h0m4 14h0m7-11h0m19-17h0m0 35h0m9-18h0m11 7h0m12-23h0m6 27h0m18-13h0m2 0h0m5 5h0m18-1h0m2-10h0m4 19h0m1-25h0m4 29h0m5-10h0m6-12h0m2 15h0m7 4h0m19-3h0m5-25h0m6 15h0m3-7h0m5 5h0m1 4h0m1-9h0m6 18h0m9 6h0m14-18h0m3-13h0m6 24h0m12 0h0m1-27h0m3 25h0m12-24h0m36 1h0m0 33h0m2-15h0m15 16h0m9-33h0m2 31h0m12 0h0m0-1h0m15-7h0m1 1h0m-936 29h0m5 15h0m16-12h0m1-20h0m8 9h0m10 3h0m5 15h0m4 3h0m1-10h0m10 15h0m2-13h0m9-21h0m0 18h0m9 17h0m16-5h0m2-26h0m8 14h0m21-1h0m11-12h0m1 25h0m12-25h0m8 1h0m17 3h0m6 10h0m0 14h0m1-28h0m4 2h0m0 10h0m11-9h0m1 26h0m4 0h0m5-18h0m1 13h0m13-19h0m4-3h0m17 20h0m1-23h0m15 0h0m8 13h0m19-1h0m24 9h0m1-22h0m7 14h0m2 8h0m5-4h0m4-17h0m3 0h0m3 26h0m4 6h0m1-29h0m2 20h0m4-10h0m6 4h0m3 14h0m6-27h0m11 3h0m40 12h0m2-12h0m2-4h0m6-7h0m15 34h0m3-23h0m6 18h0m1-25h0m14 16h0m12-18h0m5 21h0m5 5h0m12-15h0m1-13h0m12 15h0m1-9h0m2-3h0m33 3h0m4 18h0m0 5h0m6-32h0m5 0h0m0 18h0m11 2h0m13-8h0m2-2h0m1 20h0m1-17h0m6 20h0m6-21h0m2 9h0m5 13h0m11-15h0m21 0h0m3 5h0m16 13h0m6-32h0m6 16h0m3-11h0m1 8h0m4-15h0m3 18h0m6-9h0m1-7h0m1 23h0m3 0h0m2-2h0m7-13h0m6-3h0m4-5h0m3 22h0m3-13h0m5-5h0m7-2h0m8-5h0m7 11h0m25 2h0m1-11h0m3 8h0m2-6h0m5 28h0m9 1h0m0-18h0m2-4h0m23-12h0m34 30h0m7-19h0m4-7h0m1 9h0m8-8h0m0 14h0m7-6h0m14-9h0m6 22h0m17-3h0m5-24h0m2 25h0m5 6h0m3-18h0m13 24h0m10 0h0m-952 18h0m9 3h0m17-8h0m5 29h0m7-14h0m31-5h0m5-6h0m1 10h0m2-20h0m49 12h0m16-11h0m1 19h0m5 10h0m8 5h0m2-33h0m20-6h0m1 15h0m2 22h0m3-33h0m1 29h0m9-25h0m2 1h0m9-6h0m23 34h0m4-26h0m2 9h0m0 13h0m3-1h0m0-18h0m7-13h0m3 12h0m15 22h0m0-27h0m13 22h0m1 7h0m3-2h0m1-7h0m1-19h0m5 30h0m4-24h0m3-12h0m14 29h0m9-13h0m3 1h0m6 1h0m8 14h0m17-33h0m2 11h0m27 23h0m1-14h0m6 1h0m1-11h0m6 11h0m2 13h0m5-14h0m6-18h0m32 23h0m4-1h0m0-14h0m5 12h0m17 13h0m2-30h0m4 3h0m26-2h0m7-8h0m27 6h0m2 27h0m1-8h0m11-21h0m1 5h0m1-6h0m5 31h0m17-9h0m10-2h0m15 4h0m1 0h0m23 2h0m26-16h0m10-9h0m12 1h0m14 5h0m7 8h0m6-13h0m6 9h0m0 15h0m15 9h0m7-4h0m5-34h0m3 13h0m16 3h0m1-8h0m2 5h0m10 17h0m1-5h0m2-1h0m7-4h0m0-10h0m2-2h0m6-8h0m1 15h0m22 14h0m12-29h0m5 24h0m3-5h0m2 6h0m10 14h0m7-37h0m10 35h0m6-10h0m17 12h0m6-20h0m8 8h0m6 10h0m1-21h0m0 21h0m20-1h0m2-17h0m1-14h0m21 7h0m4 3h0m-962 62h0m0-8h0m8 7h0m7-13h0m26-14h0m1-8h0m13 32h0m8-7h0m8-17h0m1-4h0m11 12h0m1 4h0m3-17h0m16-3h0m8 37h0m4-20h0m4 9h0m2 8h0m3-3h0m3-24h0m0 8h0m25 5h0m6 12h0m0-25h0m7-7h0m3-1h0m0 12h0m5 20h0m6-13h0m9 2h0m36 18h0m5-24h0m2-14h0m1 21h0m1 10h0m7-11h0m2 18h0m5-4h0m6-33h0m1 34h0m3-16h0m18-10h0m13 23h0m1-10h0m28-20h0m6 14h0m9-6h0m2-6h0m7 1h0m20-2h0m12 28h0m1-25h0m1 24h0m0-24h0m1 13h0m6-2h0m4-13h0m8 9h0m10 4h0m5-7h0m5 22h0m8-33h0m8 29h0m8 9h0m16-11h0m38 11h0m4-24h0m0 17h0m5-13h0m17 10h0m10-2h0m5 4h0m2-2h0m4-5h0m1 6h0m2-21h0m8 25h0m20 5h0m2-20h0m2-15h0m3 29h0m4-31h0m2 25h0m9-8h0m12-7h0m1-6h0m11 24h0m13 6h0m1-30h0m5 24h0m16-6h0m11-13h0m7 28h0m3-9h0m3-29h0m10 2h0m2 26h0m8 4h0m8-11h0m8-13h0m16 2h0m10 0h0m1 2h0m1-6h0m8 18h0m6 3h0m1 4h0m2-14h0m19-9h0m3-3h0m5 28h0m0-29h0m3 1h0m5 31h0m3-9h0m7-21h0m9 23h0m9-15h0m18 0h0m5-10h0m20 34h0m18-32h0m2 7h0m6 7h0m7-3h0m1-3h0m8 8h0m2 3h0m5-14h0m4 27h0m7-18h0m5 8h0m1-11h0m6-5h0m2 15h0m5-24h0m9 26h0m4 8h0m6-11h0m-947 34h0m15 18h0m10-34h0m3 24h0m3-10h0m7 9h0m7-3h0m1-18h0m7 6h0m10-1h0m1-6h0m2 0h0m5 7h0m6 9h0m5 16h0m7-12h0m10 9h0m1-13h0m26-9h0m0-1h0m3 13h0m2 10h0m4 3h0m14-28h0m0 27h0m3-3h0m2-4h0m3 2h0m8-16h0m2 4h0m4-2h0m3-3h0m22 8h0m5-3h0m5-15h0m5 32h0m4-9h0m6-9h0m12-12h0m4 23h0m0 6h0m2-8h0m0-25h0m9 18h0m5 18h0m5-1h0m4-6h0m7 8h0m1-33h0m2-6h0m15 39h0m3-24h0m4 13h0m8-20h0m3 24h0m1-32h0m1 15h0m6 3h0m13-3h0m3-8h0m3 16h0m0-11h0m11 3h0m1 23h0m5-24h0m15 12h0m7 7h0m1-16h0m5 13h0m3-16h0m1 13h0m17-2h0m3 7h0m4-21h0m3-8h0m2 25h0m11-17h0m12-3h0m20-3h0m9 22h0m0-22h0m7 25h0m18 4h0m2-17h0m6 6h0m4-15h0m14-6h0m16 20h0m11 16h0m24-3h0m4-18h0m9 18h0m5-33h0m9 3h0m2 4h0m0 13h0m8 3h0m0 3h0m2-12h0m5-10h0m21 7h0m1 7h0m0-2h0m3-18h0m1 23h0m17-4h0m3-19h0m11 2h0m0 16h0m7 14h0m0-19h0m1 21h0m22-20h0m2 11h0m2-8h0m3 9h0m3-23h0m8 24h0m7 8h0m10 0h0m6-11h0m2-22h0m4 22h0m14 13h0m1-15h0m1-11h0m10 16h0m9-6h0m10-11h0m1 11h0m28 14h0m1 0h0m14 0h0m3-27h0m7 11h0m1-10h0m1 18h0m2 11h0m6-7h0m2 8h0m8-31h0m9 26h0m0-33h0m22 29h0m13-9h0m18 8h0m8 0h0m7-22h0m1 17h0m20-22h0m-941 74h0m44-20h0m3 17h0m11-18h0m2 10h0m1-7h0m4 18h0m3 2h0m2-28h0m5 23h0m0-4h0m14-3h0m4-15h0m3 24h0m2 1h0m1-30h0m5 18h0m7-24h0m1 15h0m7-15h0m10 34h0m11-17h0m1 10h0m10 9h0m4-8h0m9-6h0m8 14h0m8-9h0m10-11h0m15-5h0m2 21h0m4-11h0m7 0h0m5-16h0m14 4h0m14-2h0m10 31h0m5-23h0m2-9h0m10 25h0m10 2h0m15-27h0m5 13h0m2 10h0m5-5h0m1-6h0m8-9h0m6 10h0m4-7h0m12 23h0m1 0h0m7-12h0m6 8h0m4-19h0m1 16h0m2-1h0m2-18h0m4 13h0m24-3h0m0 10h0m4-3h0m25 3h0m6-25h0m6 12h0m8 12h0m6-10h0m3-10h0m6 6h0m11-13h0m5 1h0m1 9h0m9 0h0m5-3h0m11 31h0m20-27h0m9 23h0m3-29h0m10 16h0m3-1h0m1-17h0m12 5h0m8 5h0m5-5h0m1 25h0m1 2h0m16-36h0m0 17h0m0-12h0m8 33h0m4 0h0m2-35h0m2 3h0m2 21h0m0-23h0m11 11h0m5 11h0m1 2h0m5-12h0m5 21h0m7-26h0m1 7h0m4-11h0m13 2h0m0-5h0m26 1h0m22 0h0m8 16h0m12 12h0m8-20h0m6-3h0m10 24h0m19-5h0m3-8h0m8-13h0m2-3h0m6 1h0m7 4h0m3 18h0m15 4h0m0-25h0m10-6h0m24 27h0m1-16h0m3 16h0m4 6h0m5-1h0m0 4h0m3-19h0m8-10h0m6 23h0m7-16h0m20 11h0m20-21h0m8 22h0m-947 19h0m1 5h0m0 1h0m0 24h0m0-3h0m10-13h0m7 11h0m6-6h0m1-17h0m11 6h0m2 11h0m1-15h0m1 16h0m9-19h0m4 0h0m4-2h0m8 8h0m22 19h0m1-17h0m13 3h0m8-16h0m20 7h0m10 20h0m1-19h0m15 20h0m4-28h0m16-2h0m8 0h0m4 21h0m2-4h0m3 14h0m1-15h0m3 12h0m1 1h0m15-13h0m2-1h0m5-3h0m2 21h0m0-26h0m1-5h0m10 20h0m1-1h0m3 12h0m12-1h0m1-11h0m13-6h0m3 19h0m0-26h0m14 0h0m10 30h0m5-9h0m17-20h0m6 25h0m0-5h0m11-17h0m7-2h0m2 3h0m3 16h0m9-3h0m2-22h0m18 19h0m16 1h0m5-23h0m26-1h0m5 34h0m7-10h0m1 10h0m3-3h0m4-2h0m10-20h0m6 30h0m1-27h0m12 8h0m0 4h0m8 14h0m4-38h0m1 7h0m7 10h0m7 2h0m4 9h0m24 9h0m13-18h0m3 16h0m12 3h0m14-23h0m8 22h0m35-6h0m17 6h0m7-23h0m5 1h0m19 1h0m19 1h0m3 20h0m9-26h0m8 10h0m4-15h0m18 2h0m8 31h0m3-11h0m11 10h0m5-7h0m3-17h0m5-12h0m20 23h0m7 6h0m9-29h0m2 1h0m5 22h0m9-1h0m7-12h0m1 27h0m23-35h0m2 21h0m7 13h0m11-4h0m0-27h0m11-3h0m18 10h0m16 20h0m7-30h0m7 19h0m8 4h0m6-7h0m4-4h0m8-2h0m2 12h0m3 12h0m5-13h0m-950 38h0m14-5h0m24 3h0m4 16h0m3-2h0m5 3h0m5-33h0m9 5h0m7-2h0m4-2h0m5 33h0m1-21h0m1 20h0m12-27h0m13 11h0m3-15h0m13-1h0m3-1h0m9 14h0m3-3h0m2 10h0m14 4h0m4 7h0m9-22h0m44-11h0m8 11h0m1 5h0m4 11h0m19-13h0m5 15h0m16-21h0m3 6h0m6 13h0m5-14h0m6 5h0m6 13h0m1-3h0m6-9h0m19-3h0m3-1h0m0-10h0m5 11h0m5-16h0m15 16h0m18-4h0m9-7h0m5 14h0m7 0h0m4 14h0m1-33h0m1-3h0m0 33h0m1-1h0m7 5h0m0-38h0m0 21h0m7 17h0m12 1h0m2-25h0m2 8h0m15-7h0m25 12h0m0-12h0m24 22h0m2-34h0m16 34h0m2-21h0m6-12h0m20 4h0m0 24h0m2-6h0m1-5h0m4-11h0m5 16h0m9 12h0m2-27h0m1-1h0m1 13h0m5 4h0m10-8h0m1-3h0m19-11h0m6 7h0m0 13h0m5-25h0m1 15h0m11 15h0m13-29h0m7 19h0m12-10h0m2 17h0m2-23h0m1 11h0m2-7h0m5-6h0m25 18h0m3-18h0m9 36h0m2-33h0m2-1h0m3 9h0m3 13h0m12-8h0m5 14h0m7 4h0m2-19h0m2 6h0m1-6h0m1 14h0m4-30h0m1 37h0m8-22h0m5-1h0m4 23h0m3-16h0m7-20h0m4 36h0m6-34h0m1 10h0m6-12h0m11 16h0m12-16h0m8 26h0m11-3h0m11-9h0m4 23h0m23-33h0m2 22h0m10-25h0m0 5h0m1 11h0m7-18h0m2 34h0m14-3h0m9 1h0m4 6h0m8-15h0m11-6h0m14 12h0m2 3h0m15-24h0m1 3h0m-962 45h0m2-8h0m3-7h0m19 19h0m3-14h0m7-1h0m7 11h0m3 11h0m1 7h0m13 2h0m8-30h0m17 28h0m16-3h0m4-20h0m1 9h0m5 6h0m3-14h0m16 0h0m12-13h0m1 14h0m0-8h0m2 29h0m3-13h0m8-10h0m5 16h0m2 4h0m11-12h0m2 14h0m2-13h0m4-21h0m1 21h0m2-18h0m2-3h0m1 10h0m11 19h0m6-12h0m9-3h0m15 8h0m5-17h0m3 27h0m6-9h0m2 1h0m12 5h0m5 6h0m7-8h0m2-2h0m6-23h0m2 28h0m4-21h0m15 18h0m6-17h0m5 26h0m3-21h0m4-12h0m1 24h0m6-6h0m12 10h0m2-19h0m1-4h0m4-3h0m10 8h0m10 11h0m8 13h0m6-17h0m4 14h0m16-34h0m16 13h0m10-9h0m36 15h0m24 13h0m7-32h0m2 39h0m5-3h0m0-10h0m0-15h0m8 14h0m0-21h0m1 5h0m5 25h0m4-23h0m38-9h0m7 20h0m6 5h0m16 1h0m15 9h0m1-11h0m2-6h0m12-17h0m2 31h0m3-26h0m2-5h0m3-3h0m16 0h0m11 38h0m14-29h0m3 15h0m31-22h0m8 21h0m8-15h0m11 18h0m4-26h0m8 0h0m56 7h0m1 24h0m21-19h0m1 22h0m0-19h0m10 12h0m6 9h0m10-15h0m1-10h0m1 8h0m1-5h0m26-9h0m1 4h0m4 28h0m16-28h0m7-9h0m5 31h0m2 4h0m1 3h0m5 0h0m40-5h0m9-16h0m-969 33h0m18 3h0m9 16h0m1-11h0m16 18h0m6-6h0m13-20h0m3 14h0m2-3h0m7-7h0m2 10h0m9-10h0m5 1h0m29-7h0m1 26h0m34-12h0m34-17h0m3 20h0m5 2h0m7-12h0m3-7h0m0 0h0m5 30h0m21-11h0m0-23h0m3 4h0m15 19h0m14-5h0m7 9h0m12-6h0m16 1h0m7-26h0m14 1h0m4 35h0m0-9h0m1 1h0m9 4h0m10-24h0m2 31h0m2-22h0m5 0h0m11 18h0m2-13h0m11 1h0m9 1h0m21-3h0m1 1h0m1-10h0m0 16h0m5-27h0m6 30h0m29 4h0m4-12h0m1-13h0m10-5h0m6 18h0m2-5h0m4-8h0m22 25h0m6-24h0m15 21h0m13-29h0m4 20h0m13-3h0m5-7h0m5 23h0m3-30h0m29 19h0m9-13h0m4-9h0m3 4h0m9 23h0m10-18h0m2-6h0m1 27h0m7-18h0m2 0h0m3 6h0m1 12h0m2-16h0m0 11h0m0-10h0m20-12h0m9 3h0m1-9h0m4 4h0m13 29h0m0-28h0m9-5h0m36 22h0m10-4h0m8 4h0m2-22h0m3 1h0m20 30h0m5-17h0m0 14h0m6-19h0m1 10h0m2 1h0m9 5h0m8-21h0m11 29h0m4-3h0m12 5h0m1-19h0m2-8h0m3 5h0m10 22h0m6-35h0m1 24h0m3 13h0m0 0h0m3-14h0m14 6h0m19-10h0m5 16h0m0 4h0m1-29h0m5 2h0m2-3h0m3 25h0m19-23h0m7-8h0m-934 61h0m30 12h0m1-29h0m5 23h0m15-28h0m16 37h0m0-12h0m9 11h0m8-19h0m0-2h0m14 21h0m1-38h0m3 38h0m12-1h0m16-24h0m2 2h0m7-12h0m0 28h0m13 6h0m6-25h0m2 10h0m1 4h0m2-23h0m11 33h0m12-28h0m6 9h0m3-17h0m7 22h0m4 7h0m18 3h0m0-12h0m2 19h0m6-30h0m4 22h0m4-9h0m12-17h0m8-5h0m1 22h0m6-18h0m1 16h0m8-11h0m0 14h0m33 11h0m8-20h0m1-1h0m10 22h0m1-24h0m8-9h0m1 17h0m3-12h0m0 0h0m6 4h0m4-11h0m11 37h0m0-5h0m6-21h0m2 0h0m4 27h0m2-32h0m3 30h0m37-30h0m9-3h0m10 12h0m15 7h0m0 16h0m11-34h0m4 35h0m13-28h0m16 1h0m5 25h0m4-7h0m2-14h0m7 9h0m2-1h0m4 1h0m2-8h0m4-6h0m5 22h0m8-33h0m3 4h0m2-3h0m9 28h0m6-27h0m6 4h0m5 12h0m4 5h0m1 6h0m4-8h0m3 5h0m11-19h0m3 16h0m4 4h0m22 3h0m4-14h0m5 20h0m13-2h0m17-18h0m15 4h0m0 19h0m0-4h0m6-29h0m28 11h0m1-11h0m5 10h0m8 6h0m9-21h0m2 5h0m2-2h0m1 27h0m4 7h0m24-32h0m13 22h0m8-23h0m1 29h0m13 5h0m1-9h0m25-23h0m1 5h0m2 25h0m10-8h0m9-28h0m10 14h0m4-8h0m3 8h0m3 18h0m2-22h0m6 18h0m3 2h0m8-22h0m5-6h0m1 6h0m9 13h0m5 8h0m4 4h0m8-32h0m20 12h0m-935 43h0m11-8h0m4 4h0m9 8h0m9-19h0m3 8h0m6 26h0m4-32h0m4 29h0m7 5h0m15-19h0m7-12h0m3 23h0m7-1h0m2-29h0m22 26h0m5-7h0m3-9h0m4 25h0m14-27h0m7 28h0m0-32h0m13 0h0m11-1h0m8 34h0m10-8h0m4-27h0m7-2h0m1 22h0m7-18h0m5 20h0m3-13h0m2 12h0m4 0h0m16 8h0m4 7h0m3-25h0m6 0h0m9-6h0m22 9h0m1 3h0m22-18h0m3 29h0m0-15h0m3-14h0m6 37h0m7-37h0m10 10h0m9 2h0m6 7h0m6 14h0m35-31h0m1 25h0m19 9h0m6-24h0m2 3h0m14 18h0m1-22h0m12 13h0m1-13h0m5 27h0m2-25h0m5 24h0m1-17h0m1-19h0m3 1h0m2 20h0m7 5h0m6-13h0m1 8h0m1 9h0m2-29h0m2 11h0m3 1h0m1-5h0m1 22h0m7-28h0m0 5h0m4 11h0m3-11h0m10 30h0m2-33h0m3 16h0m0 0h0m9-3h0m1-3h0m2 22h0m8-29h0m10-8h0m12 0h0m1 6h0m0 6h0m2-12h0m7 0h0m20 4h0m19 13h0m0 8h0m16 0h0m3-10h0m0 13h0m8-8h0m10 9h0m10-22h0m6 11h0m6-17h0m7 1h0m5 1h0m5 16h0m11 15h0m8-12h0m3-2h0m1 13h0m7-28h0m15 7h0m18 19h0m12 7h0m3-12h0m13 5h0m12-3h0m2-16h0m18-2h0m5 28h0m8-2h0m2-29h0m3-1h0m8 11h0m11 14h0m5-32h0m4 38h0m1-32h0m10 24h0m5-14h0m0 13h0m5-9h0m12-6h0m18 15h0m9-28h0m-903 46h0m49 27h0m24-6h0m1-17h0m3 4h0m4 6h0m3 0h0m2-19h0m1 26h0m3-15h0m7 8h0m0 10h0m3-28h0m2 23h0m3 4h0m1-30h0m10 25h0m5 12h0m10-10h0m6-18h0m1 26h0m10-26h0m5 24h0m11 3h0m27-25h0m1-11h0m2 29h0m3-19h0m17-8h0m14 33h0m8-14h0m11-8h0m2-2h0m20 17h0m3-5h0m13 5h0m0-2h0m1-2h0m3 11h0m14-1h0m6-11h0m2-5h0m9 1h0m2-7h0m3 8h0m8 6h0m1-11h0m2 18h0m1-25h0m2 18h0m0 1h0m3-15h0m2 8h0m3 15h0m5-25h0m6 15h0m7-24h0m16 33h0m7-15h0m4-11h0m1 2h0m9 9h0m2 13h0m3 5h0m2-11h0m19 5h0m24-17h0m6 17h0m11 1h0m2-17h0m8-2h0m1-12h0m24 25h0m5 7h0m2 2h0m2-15h0m4-9h0m23 12h0m6-1h0m6 17h0m7-1h0m1-36h0m2 2h0m8 23h0m1 9h0m2-7h0m26-25h0m2 25h0m4 3h0m11-16h0m1 2h0m19 18h0m1-21h0m2 14h0m25-15h0m1 16h0m15-23h0m16 19h0m23-10h0m6-11h0m14 13h0m3-4h0m1-2h0m10 22h0m0-28h0m0-4h0m0 0h0m0 29h0m3 4h0m12-3h0m6-13h0m2-9h0m5 25h0m6-7h0m2-6h0m3-4h0m8-4h0m1 6h0m2 17h0m1-9h0m4 6h0m4-13h0m5-4h0m5-16h0m10 27h0m8-13h0m50-9h0m-887 40h0m26 32h0m6-35h0m7 22h0m15-16h0m7 29h0m5-12h0m0 6h0m1-27h0m27 22h0m24-8h0m15-13h0m0-6h0m8 7h0m2 13h0m11-8h0m1-2h0m0 9h0m1 11h0m6-18h0m7 15h0m2 6h0m9-31h0m2 11h0m8 19h0m19-18h0m11 0h0m7-1h0m2 17h0m7-28h0m11 37h0m28-11h0m5-3h0m16-4h0m3 3h0m7-18h0m1 25h0m1-26h0m20 15h0m9 4h0m31-1h0m0-14h0m5-1h0m2 23h0m14 1h0m19 2h0m3-12h0m6 3h0m7-6h0m4-8h0m1 25h0m31 3h0m10-38h0m18 3h0m2 23h0m3 3h0m2-4h0m15-3h0m0-14h0m1 2h0m1 27h0m3-12h0m15-8h0m0 16h0m2-14h0m17 16h0m6-5h0m1 8h0m1-32h0m20 15h0m4-9h0m9-9h0m5 3h0m15 26h0m7-2h0m16-17h0m3 3h0m4 22h0m6-8h0m3-30h0m9 31h0m1-13h0m3 13h0m1-13h0m0-12h0m4 15h0m8 9h0m1-8h0m4 1h0m6-6h0m15 2h0m1-2h0m1 8h0m1-21h0m4 7h0m2 25h0m18-22h0m5-14h0m0 37h0m2-19h0m2 17h0m7-1h0m9-2h0m2 2h0m21-14h0m0 16h0m3-27h0m8-3h0m5 7h0m13-6h0m31 16h0m4 4h0m-840 25h0m2-12h0m7 27h0m7-7h0m2-8h0m1-2h0m14 28h0m1-33h0m0 4h0m42 3h0m6 21h0m3-2h0m5-22h0m2 9h0m2 16h0m7 2h0m3-8h0m10-6h0m11-15h0m1 31h0m15-10h0m6-11h0m1-9h0m3 22h0m31 2h0m8-3h0m26-5h0m2-5h0m5-6h0m5 12h0m7-7h0m7 8h0m2-25h0m1 7h0m0 22h0m5 3h0m1-25h0m9-3h0m4 11h0m17 2h0m7-19h0m1 35h0m1-14h0m3 17h0m19-2h0m1-13h0m6 11h0m1-25h0m29 25h0m1-24h0m3 9h0m0-12h0m4 4h0m1 25h0m7 0h0m11-4h0m11-27h0m12 2h0m0 29h0m1-6h0m1 8h0m5 1h0m3-6h0m9-24h0m8-8h0m3 0h0m19 29h0m4-8h0m5-16h0m8 14h0m6-5h0m1 12h0m0-14h0m2-11h0m1 9h0m5 21h0m1-29h0m11 8h0m2 10h0m2 15h0m11-32h0m5 21h0m11 2h0m1-7h0m2 8h0m1-20h0m1 7h0m15 24h0m2-36h0m6 24h0m1-1h0m6 4h0m6-21h0m2-9h0m4 24h0m13-22h0m5-1h0m2 20h0m1 16h0m3-31h0m1 5h0m3 7h0m2 19h0m9-25h0m0 21h0m3 1h0m3-23h0m1 17h0m0-11h0m2-7h0m8 28h0m1-38h0m2 12h0m1 22h0m15-23h0m28-4h0m18 22h0m3-27h0m3 24h0m6-5h0m1-1h0m1 2h0m0 3h0m10-15h0m20-7h0m3 14h0m18 12h0m1-17h0m3 2h0m0-3h0m2 8h0m12 11h0m0-2h0m1-14h0m18-3h0m2 23h0m4-4h0m6-25h0m11 33h0m16-11h0m1-13h0m2 15h0m-828 23h0m10-5h0m5 29h0m17-2h0m17-5h0m0-3h0m14 10h0m2-8h0m6-20h0m15 21h0m18-7h0m2 7h0m2 1h0m28-6h0m4 3h0m5-18h0m7 8h0m5 0h0m4-3h0m7-1h0m5 17h0m1 2h0m18-13h0m6 14h0m8-2h0m3-26h0m12 33h0m7-35h0m5 11h0m4 10h0m5 0h0m1 3h0m8-10h0m6-17h0m6 39h0m3-9h0m10-22h0m2-1h0m3 13h0m14 8h0m8 8h0m2-7h0m21-16h0m0 13h0m5-18h0m5 17h0m4 12h0m10-8h0m1-22h0m14 18h0m2-7h0m2 15h0m2-20h0m18 19h0m2 2h0m4-18h0m8-16h0m8 35h0m2-26h0m3-7h0m11 36h0m1-32h0m19 22h0m7-27h0m3 13h0m5 9h0m2-19h0m5 27h0m1-1h0m20-27h0m16 34h0m2-29h0m10 29h0m22-6h0m1-2h0m0-18h0m15-7h0m10 17h0m5 0h0m0 18h0m3-17h0m1 12h0m7-14h0m4 12h0m2 2h0m1 0h0m13-24h0m3-1h0m2 2h0m4 2h0m1 25h0m0-14h0m2-13h0m1 6h0m0-5h0m10-6h0m0 15h0m2-14h0m3 10h0m17 21h0m12-33h0m4-2h0m2 16h0m4-7h0m3 25h0m4-1h0m16 1h0m9-15h0m13 16h0m8-6h0m4-22h0m11 14h0m30 0h0m2-5h0m7 3h0m0-2h0m4 6h0m1-2h0m7-16h0m2 8h0m9 11h0m19-23h0m-811 75h0m10-18h0m17-13h0m3 27h0m3-23h0m5-12h0m13 34h0m3-13h0m25-20h0m1 26h0m10-25h0m12 18h0m13-5h0m3 10h0m10 11h0m0-34h0m8 8h0m6 22h0m4-30h0m2 33h0m10 1h0m8-17h0m2 10h0m2-15h0m2-5h0m0-9h0m0 18h0m9 18h0m13-6h0m2-24h0m32 20h0m2-3h0m1-23h0m4 9h0m6 22h0m2 3h0m17-28h0m6 2h0m14 5h0m1 16h0m1-24h0m4 32h0m1-36h0m6 15h0m1 6h0m8 12h0m16-9h0m14 12h0m4-28h0m0 7h0m14 10h0m9-11h0m9 14h0m4-19h0m2 10h0m9 14h0m7-12h0m3-22h0m0 8h0m21 9h0m5-8h0m1 13h0m5-20h0m0 23h0m2-17h0m1 30h0m21-5h0m8-5h0m0-7h0m6-10h0m8 4h0m28-12h0m1 5h0m2 4h0m9-6h0m3 31h0m1-31h0m0 13h0m7 8h0m25-6h0m14 12h0m1-17h0m5 3h0m8-9h0m4 9h0m4 14h0m7-12h0m6 2h0m12-9h0m6-13h0m1 8h0m2-6h0m4 35h0m7-23h0m1-8h0m9 30h0m2-2h0m6-9h0m1 3h0m3-9h0m2-11h0m2 3h0m14 11h0m2 3h0m0 7h0m14-12h0m3-5h0m17-10h0m32-6h0m3 28h0m2-26h0m5 10h0m8-1h0m4 27h0m3-1h0m8-25h0m9-12h0m8 25h0m-786 46h0m38-19h0m2 1h0m5 2h0m1-6h0m4 4h0m3 23h0m5-34h0m2 7h0m2 24h0m2-3h0m3 3h0m2-18h0m3 0h0m15 11h0m8 13h0m7-33h0m0 14h0m1-6h0m0 11h0m4-2h0m3-12h0m8 17h0m8-26h0m11 20h0m23-9h0m3-13h0m8 2h0m29 26h0m10-25h0m4 7h0m15 8h0m3-8h0m4 14h0m12-6h0m9 21h0m2-38h0m33 10h0m10 18h0m3 2h0m15-28h0m3 9h0m10 10h0m4-6h0m4 6h0m9 16h0m2-6h0m1 7h0m3-35h0m6 31h0m0 4h0m22-20h0m24 14h0m23-15h0m6-15h0m5 23h0m0-4h0m4 14h0m12-9h0m7 7h0m1-26h0m1 15h0m0 7h0m2-2h0m3-15h0m17-8h0m5-2h0m8 3h0m4 24h0m9-18h0m1 15h0m1-6h0m1-14h0m8 9h0m1 23h0m13-30h0m6 4h0m2 18h0m1 7h0m1-11h0m16-17h0m0-6h0m0 29h0m3-32h0m2 20h0m3 12h0m1-17h0m9 11h0m5-18h0m4 15h0m1-11h0m6-9h0m2 31h0m1-10h0m2-18h0m9-2h0m14 9h0m3-1h0m0 25h0m14-9h0m16-13h0m0 7h0m6-5h0m1-3h0m5-9h0m3 12h0m2 3h0m16-14h0m4-6h0m3 10h0m17-7h0m1 14h0m12-9h0m4 19h0m4-20h0m1-1h0m22 20h0m7-1h0m3-9h0m4 6h0m13 9h0m1-8h0m-747 37h0m12-4h0m1 8h0m7 12h0m3-17h0m11-14h0m10 7h0m7 22h0m2-17h0m11-9h0m15 17h0m4-2h0m14 14h0m1-2h0m7-19h0m4-13h0m13 4h0m11 24h0m1 0h0m4-21h0m0 10h0m17 7h0m16-15h0m23-4h0m0-2h0m0 1h0m6 4h0m0-2h0m2 27h0m1-1h0m4-4h0m7-7h0m9 11h0m4-35h0m4 32h0m0-2h0m9-31h0m0 21h0m7-10h0m3 13h0m13 3h0m1 9h0m0-3h0m10-17h0m5-8h0m7 21h0m2-14h0m7-7h0m3-8h0m5 12h0m5-7h0m4 34h0m3-13h0m15-19h0m4 19h0m2 1h0m11-23h0m10-3h0m10 3h0m0 32h0m10-1h0m4-2h0m3 0h0m3-6h0m1-19h0m12 18h0m8-25h0m4 15h0m11-11h0m3 7h0m3-7h0m25 6h0m3-2h0m3 28h0m4 0h0m10-33h0m2 15h0m8-5h0m2 15h0m8 2h0m12-2h0m12 10h0m4-21h0m1 21h0m2-26h0m2 18h0m6-30h0m7 14h0m1 4h0m5 0h0m9 6h0m8-21h0m0 29h0m2 3h0m5-1h0m8-22h0m1 5h0m7 8h0m2-7h0m9 7h0m4-1h0m10 5h0m17 6h0m1-18h0m9 5h0m4-6h0m14-15h0m0 24h0m0 10h0m1-36h0m25 26h0m3 5h0m1-24h0m1 29h0m23-1h0m0-23h0m11 18h0m4-11h0m11-5h0m-738 55h0m8-4h0m1 1h0m14-15h0m3-8h0m4 28h0m9-15h0m8-2h0m1 8h0m11-20h0m2 24h0m6-16h0m1-6h0m3 31h0m5-11h0m1-24h0m3 13h0m3-5h0m2 7h0m3 5h0m3 1h0m7-13h0m5 11h0m10 9h0m4-10h0m3-4h0m23 9h0m2-6h0m1 20h0m1-36h0m9 33h0m0-33h0m4 8h0m11 25h0m6 2h0m24 1h0m2 1h0m21 1h0m2-39h0m3 25h0m6-21h0m1 2h0m14 27h0m2-28h0m1-4h0m1 6h0m5 26h0m0-17h0m1 21h0m1-9h0m1-8h0m9 14h0m1-22h0m10 8h0m1-6h0m3-1h0m13-9h0m0 35h0m3-27h0m14-7h0m6 27h0m1-24h0m6 31h0m3-3h0m6 1h0m2-16h0m5 11h0m9-11h0m9 8h0m1-19h0m1 12h0m1 12h0m1-10h0m5 10h0m3-29h0m24 29h0m12-17h0m2-8h0m1 8h0m4 9h0m23 9h0m5-33h0m6 3h0m5 29h0m2-11h0m2-20h0m4 8h0m26 8h0m8-16h0m3 9h0m18 16h0m7 4h0m7-26h0m6 15h0m0 7h0m2-20h0m7 18h0m2 7h0m3-25h0m25 23h0m1-8h0m18-3h0m3 19h0m1 0h0m6-26h0m15 13h0m5-2h0m9 10h0m4-2h0m2-3h0m10 6h0m7-10h0m5-22h0m1 31h0m6-2h0m2-21h0m5 16h0m1-12h0m3-5h0m18 8h0m5 9h0m16-13h0m4-11h0m19 12h0m-741 31h0m24 11h0m2 14h0m8-1h0m6 9h0m3-39h0m14 35h0m4-28h0m2 14h0m2-20h0m0 18h0m11 4h0m1-11h0m2-2h0m1 11h0m8-10h0m4 27h0m2-31h0m1-5h0m5 19h0m1 9h0m8-15h0m3-7h0m3-2h0m16 20h0m22 2h0m4-12h0m2 12h0m8-10h0m8 1h0m4 17h0m0-31h0m3 21h0m13-4h0m8-20h0m1 17h0m0-13h0m4 5h0m1 5h0m6 15h0m1-12h0m3 2h0m4 3h0m4 10h0m4-8h0m7-18h0m11 19h0m4-12h0m8-13h0m6 18h0m3 6h0m14-22h0m3 12h0m3 14h0m6-24h0m1 18h0m6-8h0m6-12h0m5 11h0m2-15h0m6 12h0m0-1h0m1-10h0m3 4h0m1 1h0m6 10h0m3 22h0m13-25h0m9 10h0m1-23h0m1 29h0m11-20h0m16-2h0m10 26h0m14-13h0m3-11h0m9 22h0m3-7h0m6 11h0m6-6h0m9 2h0m4-16h0m1-9h0m2 22h0m9-19h0m12 17h0m9 12h0m0-15h0m2-14h0m9 0h0m7-3h0m2-3h0m12 28h0m6-15h0m3 3h0m2-15h0m3 0h0m7 17h0m1 3h0m0-2h0m16 15h0m3-12h0m1-12h0m15 15h0m3-18h0m10 29h0m1-8h0m18-31h0m9 20h0m17-14h0m13 24h0m7 5h0m2-30h0m24 18h0m0-13h0m2 12h0m2 11h0m4 3h0m11-19h0m7 15h0m0-7h0m-678 17h0m2 22h0m8-16h0m3 5h0m3 11h0m0-17h0m23 9h0m4 0h0m5-8h0m35 25h0m2 6h0m1-2h0m1-4h0m3-22h0m6 17h0m6 0h0m4-10h0m6-7h0m1-5h0m14 12h0m12 18h0m3-19h0m9-9h0m3 17h0m15-17h0m9 24h0m2 4h0m0-2h0m6-25h0m8 7h0m1 0h0m5-4h0m4-4h0m7 20h0m14-11h0m0 17h0m1-32h0m0 17h0m10 2h0m19-19h0m6 36h0m8-27h0m2-9h0m1 16h0m14-3h0m1 9h0m28-1h0m4-5h0m1-4h0m18-8h0m26 12h0m16-4h0m12 25h0m1-20h0m2 11h0m7-17h0m8 25h0m4-7h0m6-30h0m1 24h0m19 9h0m3-3h0m5-1h0m27 4h0m6-4h0m3-17h0m17-11h0m1 25h0m19-9h0m4 7h0m3-19h0m5 22h0m1 9h0m19-26h0m27 23h0m6-13h0m4 4h0m0-9h0m4 13h0m13 8h0m5-11h0m10 0h0m4 13h0m11-6h0m2-30h0m8 33h0m7-20h0m10 11h0m1-4h0m3-23h0m0 24h0m1-19h0m1 25h0m3-13h0m11-10h0m2 22h0m10 6h0m-691 19h0m12-13h0m5 6h0m5 12h0m8 12h0m6 6h0m1-24h0m2 7h0m13-1h0m0 12h0m6-8h0m6 10h0m5-27h0m16-5h0m5 37h0m4-35h0m2 25h0m6 11h0m17-23h0m4 17h0m11-23h0m22-4h0m8 24h0m6-9h0m5-6h0m0-14h0m4 16h0m3-12h0m8 33h0m0-9h0m1-6h0m3 16h0m25 0h0m1-2h0m12-36h0m1 33h0m3-4h0m7-6h0m5 15h0m4-27h0m7 25h0m13-1h0m6-25h0m6 12h0m1-5h0m3-14h0m12 1h0m16-2h0m6 18h0m0 6h0m8-2h0m0-16h0m3 6h0m6 11h0m2-10h0m3 23h0m11-31h0m14 26h0m2-29h0m16-4h0m4 33h0m14-33h0m10 7h0m24 10h0m1 2h0m6-12h0m2 26h0m4-11h0m10 0h0m2 7h0m9-3h0m5-10h0m6-4h0m5-10h0m5 4h0m7 16h0m10-15h0m6-1h0m0-1h0m12 14h0m29-19h0m1 18h0m7-1h0m10-13h0m4 30h0m3-8h0m1-16h0m31 28h0m2-28h0m2 9h0m2-12h0m4-7h0m10 17h0m1-16h0m0 21h0m4-1h0m16-12h0m-636 46h0m7 14h0m12-16h0m10-4h0m19 29h0m0-33h0m29 7h0m4 25h0m2-14h0m4 3h0m3 12h0m12-31h0m19 26h0m1-29h0m12 28h0m0-33h0m12 37h0m14-33h0m16 23h0m11 2h0m3 3h0m2-27h0m5 14h0m17-17h0m2 25h0m9-11h0m17-14h0m5 33h0m3-35h0m1 22h0m3 11h0m8-26h0m6 20h0m11-11h0m5 12h0m7-15h0m2-11h0m6 22h0m18 1h0m0-24h0m4-1h0m1 24h0m10-23h0m13 36h0m6-32h0m11 18h0m9 0h0m13 5h0m12-2h0m3 6h0m4-23h0m5 2h0m1 15h0m4-22h0m8 9h0m15-8h0m5 11h0m8 23h0m15-38h0m5 23h0m2 5h0m3-14h0m9-7h0m7 13h0m1-1h0m4-18h0m1 22h0m0-5h0m16 8h0m0-2h0m3-25h0m4 32h0m1-3h0m9-9h0m20 12h0m2-10h0m0-18h0m6 33h0m14-33h0m0 8h0m8 21h0m29 5h0m8-12h0m3-10h0m1-6h0m4-7h0m15 22h0m2-4h0m6-10h0m12 2h0m1-8h0m-658 39h0m11 35h0m10-32h0m5 10h0m3 22h0m2-20h0m12 2h0m1-8h0m3 25h0m6-6h0m6-6h0m4-16h0m9 10h0m11 1h0m8 11h0m0-13h0m10 18h0m23-25h0m22 21h0m6 2h0m4-19h0m5 15h0m0-26h0m3 34h0m6-33h0m4 19h0m12-11h0m3 9h0m0-12h0m10 9h0m5-6h0m6 12h0m4-11h0m5-10h0m2 29h0m0-9h0m0 7h0m17 5h0m1 0h0m1 1h0m1-37h0m11 0h0m1 8h0m0-8h0m10-1h0m1 15h0m1 23h0m3-25h0m31 8h0m4 17h0m2-37h0m0 12h0m0-9h0m3 20h0m2 13h0m1-33h0m1 12h0m2 0h0m0 6h0m11 9h0m8-6h0m1-23h0m0 22h0m5 14h0m10-7h0m1-14h0m2-1h0m18-7h0m19 6h0m3 23h0m7-24h0m3-5h0m7 16h0m3-22h0m16 35h0m3-28h0m1-5h0m14 3h0m1 7h0m4 15h0m13-17h0m0 9h0m15 8h0m13 3h0m12-26h0m0 7h0m11-13h0m5 23h0m5 12h0m5-2h0m12-7h0m1-19h0m23 5h0m5 8h0m2-18h0m9 29h0m1-6h0m6-9h0m6-12h0m12 34h0m17-30h0m4-8h0m3 2h0m1 15h0m21 11h0m-634 30h0m8-8h0m10-6h0m1 10h0m1 22h0m12-32h0m2 11h0m6 14h0m4-7h0m24 12h0m1 4h0m3-32h0m1-2h0m6 34h0m3-35h0m2 26h0m1 3h0m0 5h0m3-22h0m5-3h0m4-6h0m6 27h0m19-19h0m3 21h0m3-32h0m0 12h0m5 6h0m6-22h0m6 1h0m2 29h0m9-2h0m22 3h0m10 5h0m0-2h0m10 3h0m3-30h0m2-4h0m4-2h0m9 14h0m22-13h0m1 12h0m15-3h0m2-5h0m3 29h0m6-28h0m4 19h0m12-21h0m0 8h0m11 17h0m11-3h0m0 9h0m27-9h0m8-5h0m4 11h0m17-25h0m4 23h0m8-16h0m5 24h0m19-10h0m1-5h0m2-19h0m5 19h0m18 7h0m3-26h0m2-2h0m0 0h0m4 32h0m6-31h0m1 10h0m1-10h0m1 32h0m0-1h0m2-7h0m6-2h0m16 13h0m1-13h0m5-21h0m4-2h0m0 29h0m2-16h0m16 11h0m0 6h0m22-16h0m19 8h0m21 10h0m9-18h0m7 20h0m11-20h0m8 8h0m7 5h0m1-15h0m35-15h0m-621 70h0m6-7h0m25-14h0m2 6h0m4-4h0m4 1h0m22 14h0m1-24h0m4 16h0m1 4h0m16 1h0m1-12h0m15 23h0m2-24h0m2 29h0m3-33h0m20 1h0m5 28h0m3-26h0m4 10h0m12 18h0m14-19h0m8-16h0m5 26h0m10-17h0m5 10h0m3-19h0m8 21h0m2 16h0m7-23h0m4-14h0m12-1h0m2 9h0m16 8h0m28 14h0m10-7h0m6-4h0m2-9h0m6 0h0m25 26h0m4-7h0m14-13h0m5 19h0m3 1h0m1 1h0m4-14h0m21 0h0m3 7h0m12 1h0m25-27h0m6 33h0m4-16h0m6-19h0m15 17h0m3-6h0m3 16h0m11-17h0m2 17h0m1-10h0m4-4h0m8-3h0m5 22h0m7-32h0m27 32h0m8-3h0m13-31h0m4 18h0m11-5h0m9 2h0m0 7h0m18 1h0m9-9h0m3-11h0m5 3h0m9 1h0m-585 44h0m5-12h0m7 32h0m0-32h0m5 18h0m9 17h0m2-2h0m5-28h0m2-5h0m1 1h0m1 28h0m11-18h0m4 17h0m11-22h0m7 11h0m2-8h0m5 27h0m2 0h0m10-11h0m10-25h0m5 25h0m3-21h0m13 30h0m1 2h0m2-6h0m4-7h0m1-12h0m32 25h0m6-24h0m0 22h0m3 4h0m11-27h0m7 13h0m4-20h0m6 1h0m4 7h0m3 17h0m6-26h0m10-1h0m3 34h0m1-16h0m2-9h0m11 24h0m5-10h0m13-2h0m2-3h0m2 7h0m0-10h0m0 8h0m21-12h0m2 25h0m10-14h0m6-6h0m3 12h0m3-2h0m0-7h0m8-10h0m8 12h0m3-16h0m3 2h0m0 4h0m1-2h0m6-4h0m2 0h0m9-8h0m16 38h0m5-8h0m10-17h0m6-4h0m2 25h0m4-33h0m8 0h0m8 12h0m1 25h0m4-7h0m4-29h0m2-1h0m7 11h0m11 12h0m0-19h0m1 6h0m11-3h0m5 18h0m1-21h0m1 18h0m12 0h0m3 8h0m1-6h0m3-2h0m19-7h0m1-16h0m5 9h0m8-3h0m10-3h0m12 11h0m2 9h0m8 5h0m1-10h0m2-17h0m8 0h0m5 2h0m8 14h0m2 18h0m6-4h0m3-29h0m-519 54h0m14-11h0m22 1h0m0 11h0m3-13h0m3 13h0m3 4h0m2 15h0m1-2h0m0 1h0m12-5h0m3-6h0m9 2h0m18 10h0m0 1h0m3-26h0m20 9h0m2 5h0m7-7h0m5 2h0m1-4h0m1-12h0m26 0h0m5 5h0m2-1h0m12 4h0m5 25h0m11-34h0m5 24h0m0-24h0m3-2h0m2 37h0m4-34h0m1 28h0m6-10h0m1 4h0m4 0h0m1-10h0m0 10h0m0-16h0m23-9h0m2 1h0m9 26h0m4-24h0m18 12h0m13-9h0m7-4h0m21 0h0m140 2h0m8 28h0m14-18h0m13-11h0m4 35h0m5-20h0m4-14h0m-542 38h0m22 17h0m4 13h0m3-12h0m3 14h0m3-33h0m4 19h0m1 13h0m2-12h0m16-1h0m0-12h0m2 11h0m1 15h0m1-8h0m6 3h0m2-10h0m2 10h0m1 8h0m1-17h0m4 2h0m6 6h0m1-19h0m8-1h0m2 27h0m11-32h0m8 0h0m3 20h0m8-9h0m4 2h0m2-1h0m2 10h0m7-13h0m3 9h0m1 5h0m7-20h0m24 0h0m9 16h0m1-6h0m3 9h0m2-21h0m10 16h0m2-7h0m1 23h0m2-36h0m6 21h0m24-12h0m6 7h0m2-15h0m4 34h0m13-13h0m10-23h0m5 32h0m7-17h0m4-5h0m-264 59h0m3-20h0m18 22h0m8-1h0m4-16h0m0 0h0m3 24h0m10-17h0m6 3h0m13-9h0m6-3h0m6-7h0m1 15h0m14-11h0m5 12h0m0-17h0m21 33h0m5-1h0m2-17h0m4-13h0m0 0h0m16 25h0m1-5h0m6-26h0m2 16h0m11-5h0m3 19h0m10-13h0m8-5h0m15-12h0m-160 54h0m2-2h0m7-9h0m0 23h0m18 2h0m12 2h0m1-22h0m9 10h0m17-2h0m0 15h0m4-28h0m5 27h0m1 0h0m16-11h0m-89 34h0m5 21h0m8-31h0m0 18h0m2 1h0m8-10h0m1 3h0m8 20h0m9-2h0m11-7h0m26-3h0m12-12h0m-87 31h0" stroke="#ee6f69" stroke-width="16"/></g>
<path d="M221.0 219.0L221.5 218.9L222.1 219.0L222.6 219.0L223.1 219.2L223.7 219.4L224.2 219.7L224.7 220.0L225.2 220.5L225.7 221.0L226.1 221.6L226.6 222.2L227.0 223.0L227.4 223.8L227.8 224.8L228.1 225.8L228.4 226.9L228.8 228.0L229.1 229.2L229.4 230.6L229.7 231.9L230.0 233.4L230.3 234.9L230.6 236.4L231.0 238.0L231.4 239.7L231.8 241.4L232.2 243.3L232.6 245.2L233.1 247.2L233.5 249.2L233.9 251.3L234.4 253.4L234.8 255.5L235.2 257.7L235.6 259.8L236.0 262.0L236.4 264.2L236.7 266.5L237.1 268.9L237.4 271.3L237.8 273.7L238.1 276.1L238.5 278.6L238.8 281.0L239.1 283.3L239.4 285.6L239.7 287.9L240.0 290.0L240.3 292.1L240.7 294.1L241.1 296.1L241.4 298.1L241.8 300.0L242.2 301.9L242.5 303.8L242.8 305.6L243.0 307.3L243.1 308.9L243.1 310.5L243.0 312.0L242.8 313.4L242.4 314.7L242.0 316.0L241.4 317.1L240.8 318.2L240.2 319.2L239.5 320.3L238.8 321.2L238.1 322.2L237.3 323.1L236.7 324.1L236.0 325.0L235.4 326.0L234.8 326.9L234.2 327.8L233.6 328.7L233.0 329.6L232.4 330.5L231.7 331.3L231.1 332.1L230.4 332.9L229.6 333.7L228.8 334.4L228.0 335.0L227.1 335.6L226.1 336.1L225.1 336.6L224.0 337.0L222.8 337.4L221.7 337.8L220.5 338.2L219.4 338.5L218.2 338.9L217.1 339.2L216.0 339.6L215.0 340.0L214.0 340.5L212.9 341.1L211.9 341.8L210.8 342.6L209.8 343.3L208.8 344.1L207.8 344.7L206.9 345.2L206.0 345.5L205.2 345.6L204.6 345.5L204.0 345.0L203.6 344.2L203.2 343.2L203.0 341.9L202.8 340.4L202.7 338.7L202.6 336.9L202.6 335.0L202.7 333.0L202.7 330.9L202.8 328.9L202.9 326.9L203.0 325.0L203.1 323.1L203.3 321.2L203.4 319.2L203.7 317.2L203.9 315.2L204.2 313.1L204.5 311.0L204.8 308.9L205.1 306.7L205.4 304.5L205.7 302.3L206.0 300.0L206.3 297.7L206.7 295.2L207.1 292.7L207.5 290.2L207.9 287.6L208.3 285.0L208.7 282.4L209.1 279.8L209.4 277.3L209.7 274.8L209.9 272.3L210.0 270.0L210.0 267.7L210.0 265.4L209.9 263.1L209.7 260.9L209.4 258.6L209.2 256.4L208.9 254.3L208.7 252.3L208.4 250.3L208.2 248.4L208.1 246.6L208.0 245.0L208.0 243.5L207.9 242.1L207.9 240.8L208.0 239.6L208.0 238.4L208.1 237.4L208.1 236.4L208.3 235.4L208.4 234.5L208.6 233.7L208.8 232.8L209.0 232.0L209.3 231.2L209.6 230.5L209.9 229.8L210.3 229.2L210.7 228.6L211.1 228.1L211.6 227.5L212.0 227.0L212.5 226.5L213.0 226.0L213.5 225.5L214.0 225.0L214.5 224.4L215.1 223.8L215.6 223.2L216.2 222.6L216.8 221.9L217.4 221.3L218.1 220.7L218.7 220.2L219.3 219.8L219.9 219.4L220.4 219.1Z" fill="#ee6f69"/>
<g transform="scale(0.1290 0.1)" fill="none" stroke-linecap="round"><path d="M1708 2186h0m3-1h0m14-15h0m2 17h0m2-2h0m12 7h0m2-7h0m-71 45h0m0-10h0m32-11h0m5-4h0m3-1h0m25 5h0m6 10h0m6 10h0m4-12h0m6 3h0m4 17h0m3-11h0m7-2h0m-144 44h0m11-4h0m3 10h0m14-28h0m0 28h0m3-28h0m2 24h0m5-22h0m7 5h0m17-10h0m71 29h0m1-10h0m2-4h0m1 2h0m11-6h0m1 18h0m5-11h0m5 1h0m-172 53h0m6-14h0m2 11h0m3-11h0m9-7h0m141 18h0m1-30h0m7 15h0m-173 46h0m6-4h0m152-2h0m2-14h0m8 31h0m1-5h0m13 0h0m-186 27h0m1-4h0m19-9h0m150-2h0m3 35h0m5-35h0m1 31h0m5-4h0m1-20h0m1 15h0m5-1h0m2 14h0m1-12h0m-195 47h0m8-5h0m8 13h0m2-14h0m144 11h0m10-14h0m4-5h0m15-1h0m1 1h0m4 6h0m2 5h0m-190 23h0m0-5h0m159 2h0m17-1h0m17 9h0m-202 34h0m6 26h0m15-10h0m171 12h0m1-34h0m3 2h0m-203 34h0m11 14h0m5 13h0m0-1h0m6-13h0m1 8h0m0 14h0m4-16h0m174 5h0m9-22h0m11 10h0m4 14h0m4-15h0m-224 32h0m15-2h0m1 5h0m9-1h0m184 9h0m1 11h0m5-25h0m0 34h0m9-5h0m2-15h0m6-4h0m3-2h0m-218 44h0m2 24h0m19 3h0m186-11h0m2-14h0m8 24h0m-226 13h0m0 3h0m1-8h0m4 30h0m3-18h0m6 10h0m2-4h0m2-17h0m2 17h0m193-24h0m8 38h0m2-6h0m6-15h0m1 8h0m10 11h0m-233 23h0m18-11h0m8 16h0m195 7h0m3-27h0m0 28h0m2-28h0m5 31h0m-235 18h0m1-10h0m5 31h0m3-30h0m5-1h0m2 6h0m205 16h0m7-22h0m14 20h0m8 3h0m-268 41h0m15-6h0m2-4h0m4 10h0m10 2h0m6-18h0m203 15h0m3-12h0m11 12h0m-243 35h0m3 11h0m1-1h0m1-2h0m2 6h0m2-22h0m0 19h0m5-4h0m8 6h0m214-15h0m0 10h0m10-28h0m-255 71h0m4 1h0m5-17h0m7 1h0m1-10h0m1 28h0m10-35h0m9 6h0m208 7h0m8 23h0m9-19h0m5-10h0m2 22h0m0-8h0m-267 33h0m4 2h0m4 0h0m5-8h0m2-1h0m1 4h0m0-2h0m3-3h0m236 10h0m7-13h0m-264 57h0m14-7h0m239 14h0m11-21h0m6 16h0m3 10h0m0-27h0m1 19h0m13 8h0m-308 31h0m16 8h0m2 2h0m1-26h0m6 25h0m252 2h0m1-9h0m11 2h0m10-22h0m-295 55h0m2-15h0m5 1h0m5 8h0m0 4h0m5 3h0m2 8h0m2-29h0m5 30h0m257-8h0m12 2h0m3-3h0m5-17h0m6 32h0m-312 18h0m3 16h0m9 7h0m5-34h0m273 1h0m0 18h0m10 12h0m0-16h0m1 7h0m4 3h0m1-6h0m-314 35h0m5 9h0m8 2h0m275-27h0m17 16h0m5 21h0m3-4h0m-300 17h0m1 24h0m13-18h0m274 4h0m4-18h0m11 12h0m6-14h0m-321 53h0m5-5h0m1-3h0m7 10h0m11-12h0m249 29h0m51-31h0m-333 74h0m5-17h0m14 16h0m3-22h0m239 21h0m8-4h0m3-22h0m7 16h0m2 6h0m2 0h0m17-14h0m4 5h0m-299 58h0m2-7h0m13-4h0m10-25h0m212 28h0m0-19h0m24 24h0m1-17h0m-260 49h0m9-5h0m5-12h0m204 2h0m7 17h0m4-12h0m2-4h0m8-12h0m3 13h0m4-8h0m4 20h0m1-13h0m2-5h0m-251 53h0m5-19h0m7 2h0m179 28h0m18-8h0m14-14h0m-231 31h0m2 18h0m1 8h0m2-2h0m1-26h0m3 25h0m6 2h0m67 12h0m35-23h0m17 6h0m0 16h0m0-21h0m5-4h0m3 10h0m1-20h0m9 20h0m10-11h0m0-2h0m13-3h0m8 14h0m4-21h0m4 23h0m4-22h0m14 14h0m-210 56h0m12-4h0m4-4h0m15 3h0m2 4h0m7 9h0m15-1h0m3-7h0m21-11h0m1-9h0m11-11h0m35 0h0m-111 43h0m7 4h0m5 2h0m9 4h0m48-6h0" stroke="#ee6f69" stroke-width="14"/></g>
<g transform="scale(0.1290 0.1)" fill="none" stroke-linecap="round"><path d="M1727 2236h0m1-5h0m4-20h0m-90 65h0m28 3h0m26-3h0m27 0h0m-92 20h0m14 6h0m12-10h0m33-1h0m12-11h0m22 0h0m7 9h0m21 10h0m-97 44h0m31 1h0m8-19h0m7 14h0m18 19h0m46-35h0m1 16h0m-147 41h0m0-4h0m4 16h0m4 3h0m1-6h0m8-17h0m2 13h0m9 3h0m21-23h0m1-3h0m36 33h0m13 3h0m12-7h0m37-3h0m1 0h0m-154 38h0m14-9h0m8-12h0m4-2h0m31 21h0m64 8h0m43-19h0m0 15h0m5-14h0m-164 32h0m20 19h0m30-9h0m5 23h0m1-29h0m13-10h0m48 1h0m19 32h0m22-30h0m3 6h0m-125 62h0m0-28h0m18 26h0m11-28h0m6 22h0m55-14h0m0 3h0m34-2h0m27 11h0m-146 39h0m18-5h0m59-3h0m33 3h0m7 12h0m29 4h0m-161 37h0m2-26h0m7 32h0m2-16h0m10 17h0m60-23h0m79 11h0m-149 29h0m52 2h0m8 24h0m2-5h0m8-32h0m3 15h0m13 16h0m25-27h0m19 24h0m4-8h0m17-3h0m12 5h0m-190 33h0m41 19h0m33-20h0m56 20h0m15-21h0m2 18h0m17-5h0m7 8h0m18-16h0m-188 48h0m17-16h0m22-5h0m27-6h0m6 11h0m3 10h0m1 0h0m45 6h0m16-26h0m14 32h0m20-32h0m25 1h0m-192 70h0m25-31h0m26 26h0m84 2h0m10-19h0m1 26h0m-79 42h0m10-28h0m7 3h0m16 23h0m9-2h0m13-25h0m12 9h0m1 20h0m3-1h0m18-15h0m4-6h0m48-5h0m-213 65h0m11 3h0m45-38h0m7 26h0m35-17h0m47 15h0m15 9h0m6-1h0m-163 16h0m10 28h0m13-23h0m3 4h0m34 1h0m24-18h0m7 0h0m1 20h0m8 14h0m59-16h0m24-2h0m9 19h0m6-33h0m-208 58h0m14-13h0m23 27h0m8-29h0m5 7h0m5-5h0m34-7h0m13 35h0m20 3h0m26-1h0m0-26h0m14-8h0m71-3h0m2 19h0m-246 49h0m5 4h0m36-12h0m36-16h0m0 14h0m16-12h0m8 4h0m13 7h0m15 14h0m74-23h0m24 1h0m-234 35h0m2 11h0m24-10h0m25 25h0m20-30h0m51 6h0m31 24h0m28 4h0m4-22h0m42-9h0m1-1h0m2 36h0m17-20h0m-244 44h0m45 11h0m29 5h0m20-6h0m30-12h0m14 2h0m11-14h0m6 30h0m9-27h0m14 17h0m22-25h0m-210 47h0m13 7h0m11-11h0m35 31h0m1-1h0m4-25h0m1-8h0m27 10h0m35 5h0m80-19h0m35 39h0m9-17h0m12 3h0m0-9h0m12-16h0m-250 56h0m18 4h0m9 14h0m11 4h0m2 1h0m55-9h0m10 5h0m8-3h0m36-17h0m2 0h0m11-15h0m19 23h0m7-15h0m6 16h0m8 2h0m19-6h0m0-1h0m5 15h0m3-34h0m2 37h0m23-3h0m-276 14h0m67 1h0m42-6h0m30 24h0m45 4h0m13-16h0m67 12h0m-282 37h0m5 0h0m18-8h0m8-3h0m10 19h0m3-12h0m14 2h0m40-5h0m6 9h0m14 9h0m39-33h0m3 30h0m43-24h0m2-3h0m48 15h0m19 11h0m14-19h0m-271 39h0m21 27h0m85-12h0m5 10h0m14-20h0m13-3h0m20 18h0m68-24h0m-249 49h0m11-5h0m26-7h0m12 26h0m15-29h0m38 17h0m5-3h0m16 17h0m1-30h0m18 9h0m25 5h0m8-16h0m18 35h0m1-20h0m3-14h0m3 31h0m0-4h0m31-23h0m-224 61h0m2-10h0m31-4h0m35-3h0m10 16h0m38 5h0m65-28h0m22-2h0m10 6h0m2 21h0m-196 15h0m1 10h0m16 1h0m25 10h0m25-20h0m5 22h0m19-24h0m14 14h0m13 21h0m-102 28h0m64-22h0m60 2h0m-142 50h0m21-4h0m6-7h0m14 9h0m4-6h0m-55 43h0m5 4h0m6-8h0" stroke="#fde3de" stroke-width="14" opacity="0.9"/></g>
<path d="M203.0 342.0L203.9 341.4L204.9 340.9L206.1 340.6L207.5 340.3L209.0 340.1L210.6 339.9L212.2 339.8L213.8 339.6L215.4 339.4L217.0 339.0L218.6 338.6L220.0 338.0L221.4 337.3L222.8 336.5L224.2 335.6L225.6 334.6L227.0 333.6L228.4 332.5L229.8 331.4L231.1 330.3L232.4 329.2L233.7 328.1L234.9 327.0L236.0 326.0L237.0 324.9L238.0 323.8L238.9 322.6L239.7 321.4L240.5 320.2L241.2 319.0L242.0 317.9L242.7 316.8L243.5 315.9L244.3 315.1L245.1 314.4L246.0 314.0L246.9 313.7L247.9 313.6L248.9 313.6L249.9 313.7L250.9 313.9L251.9 314.2L252.9 314.6L253.9 315.1L255.0 315.7L256.0 316.4L257.0 317.2L258.0 318.0L259.0 318.9L260.1 320.0L261.2 321.1L262.3 322.4L263.5 323.8L264.6 325.2L265.6 326.7L266.7 328.3L267.6 329.9L268.5 331.6L269.3 333.3L270.0 335.0L270.6 336.8L271.1 338.7L271.5 340.7L271.8 342.7L272.1 344.8L272.3 347.0L272.5 349.2L272.6 351.4L272.7 353.6L272.8 355.7L272.9 357.9L273.0 360.0L273.1 362.1L273.1 364.3L273.1 366.5L273.1 368.7L273.1 370.9L273.1 373.1L273.0 375.3L272.9 377.4L272.7 379.5L272.5 381.4L272.3 383.3L272.0 385.0L271.7 386.6L271.4 388.2L271.1 389.7L270.7 391.1L270.4 392.5L269.9 393.8L269.5 395.0L268.9 396.2L268.3 397.3L267.6 398.3L266.9 399.2L266.0 400.0L265.0 400.7L263.9 401.4L262.8 401.9L261.5 402.4L260.1 402.8L258.8 403.1L257.3 403.3L255.9 403.5L254.4 403.7L252.9 403.8L251.4 403.9L250.0 404.0L248.6 404.0L247.1 404.0L245.6 403.9L244.1 403.8L242.6 403.6L241.1 403.4L239.6 403.1L238.1 402.9L236.5 402.6L235.0 402.4L233.5 402.2L232.0 402.0L230.5 401.9L228.9 401.8L227.2 401.7L225.6 401.6L223.9 401.6L222.2 401.5L220.6 401.4L219.1 401.3L217.7 401.1L216.3 400.8L215.1 400.4L214.0 400.0L213.1 399.5L212.3 398.9L211.6 398.2L211.0 397.6L210.5 396.8L210.1 396.0L209.8 395.1L209.4 394.2L209.1 393.2L208.7 392.2L208.4 391.1L208.0 390.0L207.6 388.8L207.2 387.5L206.8 386.0L206.4 384.6L206.1 383.0L205.8 381.4L205.4 379.8L205.1 378.2L204.8 376.6L204.5 375.0L204.3 373.5L204.0 372.0L203.8 370.5L203.5 369.1L203.3 367.6L203.1 366.1L202.9 364.6L202.7 363.2L202.5 361.7L202.4 360.3L202.2 358.9L202.1 357.6L202.1 356.3L202.0 355.0L201.9 353.7L201.8 352.5L201.7 351.3L201.5 350.0L201.4 348.8L201.3 347.7L201.3 346.6L201.4 345.5L201.6 344.5L201.9 343.6L202.3 342.8Z" fill="#ee6f69"/>
<g transform="scale(0.1290 0.1)" fill="none" stroke-linecap="round"><path d="M1864 3155h0m29-16h0m1-1h0m2 20h0m7-16h0m4 5h0m10-3h0m0-3h0m1 7h0m3 3h0m0-4h0m4-13h0m1 18h0m8-15h0m0 17h0m17-6h0m9 10h0m7-19h0m3 7h0m16-7h0m-126 43h0m17-19h0m4 14h0m7-14h0m87 5h0m6 3h0m7 10h0m6-21h0m1 37h0m11-17h0m11-2h0m3 11h0m3-8h0m-190 58h0m11-16h0m14 11h0m3-29h0m160 30h0m5-25h0m0-9h0m4 4h0m2 34h0m2-28h0m5 11h0m8 14h0m-234 33h0m2-1h0m1 10h0m11-13h0m22-13h0m200-11h0m2 12h0m2 2h0m28-2h0m-299 62h0m5-16h0m10-15h0m2 22h0m5-19h0m2 13h0m1-1h0m14 4h0m6-17h0m238 12h0m5-8h0m1 0h0m3 0h0m3-4h0m0 3h0m2 20h0m1 1h0m25 3h0m-372 34h0m5-3h0m10 9h0m6-3h0m11-26h0m1 10h0m4-1h0m4 2h0m307 23h0m4-18h0m3-1h0m6 11h0m1-16h0m0 25h0m3-17h0m-505 57h0m18-4h0m8 2h0m24 0h0m7-24h0m5 25h0m4-21h0m3 5h0m44-9h0m3 13h0m1-9h0m1-17h0m3 10h0m9 10h0m375 12h0m6-6h0m-544 28h0m19 8h0m1-12h0m0 21h0m7 6h0m2-25h0m3 0h0m4-4h0m8-2h0m19 29h0m37-26h0m13-7h0m1-2h0m25 7h0m391 20h0m2-22h0m10 7h0m17 10h0m5 8h0m-575 23h0m8 11h0m5 11h0m16-4h0m519-31h0m7 26h0m5-1h0m-578 39h0m29-12h0m8 14h0m1-9h0m0 3h0m14 9h0m506 8h0m24-25h0m0 2h0m1-6h0m5-6h0m-557 42h0m5 13h0m5-16h0m530 24h0m4-23h0m5 22h0m5 2h0m2-24h0m6 7h0m0 29h0m-577 21h0m8 12h0m7-4h0m0-6h0m1 0h0m1-2h0m8 4h0m549 15h0m3-14h0m0-1h0m-562 38h0m2 17h0m1-24h0m3 16h0m4-9h0m3-12h0m540 15h0m0 1h0m1 7h0m3-16h0m2-5h0m-558 52h0m2-19h0m10 18h0m2 10h0m529-28h0m10-3h0m7 11h0m6 18h0m-529 27h0m508 10h0m3-18h0m3-3h0m2 28h0m1-8h0m6-11h0m2-15h0m-552 49h0m19-4h0m1 34h0m2-11h0m514-17h0m5-6h0m4-2h0m5 9h0m-531 65h0m0-36h0m511 31h0m4-7h0m7-21h0m2 11h0m10 10h0m2-10h0m-550 27h0m5 6h0m14 26h0m5-34h0m4 39h0m0-8h0m490-9h0m5-5h0m28-3h0m-544 43h0m9-9h0m4 21h0m5-27h0m494 26h0m3-11h0m5-6h0m5 6h0m6-15h0m3 15h0m-524 46h0m11 13h0m1-13h0m5-11h0m14 4h0m3-2h0m460 7h0m1-17h0m11 33h0m16-27h0m-512 51h0m2 10h0m20 5h0m10-29h0m444 22h0m8-10h0m4 19h0m5-26h0m4-1h0m1 21h0m8-30h0m-480 65h0m11 7h0m6 4h0m2-14h0m29 10h0m126 0h0m40-10h0m175 13h0m36-4h0m1-7h0m3 1h0m5 9h0m4-14h0m-420 27h0m22-3h0m4 14h0m15-9h0m1 3h0m1 4h0m12-12h0m0 4h0m3 7h0m10 5h0m2-19h0m19 2h0m3 8h0m2-1h0m8 14h0m1-20h0m14 8h0m11-8h0m4 13h0m3-11h0m8 8h0m2-15h0m21 34h0m6-18h0m8 18h0m1-22h0m0 22h0m9-8h0m1 9h0m3-2h0m15-6h0m3-8h0m5 19h0m12-12h0m13 10h0m4-3h0m6 0h0m10 4h0m2-15h0m15 13h0m11-12h0m12-5h0m2 8h0m28-10h0m10 21h0m14-6h0m7 0h0m6-16h0m3-8h0m0 26h0m2-16h0m11-1h0m10-13h0m12 30h0m10-32h0m3 9h0m-219 44h0m10-4h0m8-5h0m16 5h0m36-8h0m45 3h0m15 8h0m2-11h0m9 10h0m9-10h0" stroke="#ee6f69" stroke-width="14"/></g>
<g transform="scale(0.1290 0.1)" fill="none" stroke-linecap="round"><path d="M1889 3170h0m13-2h0m1 3h0m27 19h0m23 2h0m5 1h0m2 5h0m18-36h0m17 30h0m-133 44h0m10-17h0m3 7h0m7 3h0m6-28h0m5 11h0m21-7h0m12 32h0m36-30h0m2 4h0m19-4h0m12 28h0m32-7h0m2-9h0m-195 45h0m1 12h0m41-6h0m6-27h0m4-1h0m8 24h0m72-20h0m25 18h0m11 7h0m23-10h0m10 9h0m2 6h0m2-1h0m-217 9h0m3 33h0m16-5h0m4-7h0m21-8h0m3 18h0m23-18h0m3-11h0m9 18h0m4-16h0m1 12h0m24 13h0m42-21h0m11 24h0m69-2h0m-298 43h0m11 1h0m10-28h0m5 24h0m6-23h0m2 11h0m1-9h0m9-2h0m9 22h0m26 1h0m39-9h0m8-21h0m16 2h0m2 19h0m2-14h0m2 0h0m9 7h0m1 7h0m61-5h0m9 3h0m25-9h0m16 7h0m55 18h0m4-6h0m2-5h0m-352 32h0m27 14h0m60-27h0m31 7h0m26 25h0m26-13h0m7 8h0m1-8h0m3-19h0m28 5h0m35 18h0m19-13h0m6 7h0m4-2h0m45 15h0m2-36h0m6 24h0m25 9h0m4-9h0m-505 47h0m4-8h0m16-16h0m22 0h0m4 22h0m18 6h0m16-16h0m30-3h0m2-16h0m30 29h0m43-28h0m9 6h0m33 19h0m13-26h0m7 14h0m7 23h0m0-1h0m4 0h0m6-13h0m1-20h0m14 26h0m37-5h0m5-18h0m9 16h0m17-3h0m1-9h0m19 0h0m1 19h0m11-5h0m49 7h0m73-14h0m7 15h0m-531 32h0m5-24h0m71 1h0m6 0h0m3 22h0m30 7h0m18-15h0m6 3h0m0-5h0m1 14h0m37-21h0m33 14h0m46 0h0m21 18h0m10-37h0m2 36h0m15-35h0m26 26h0m1-28h0m12 36h0m10-37h0m3 31h0m28-6h0m34-24h0m17 38h0m15-12h0m0-16h0m26 21h0m28-12h0m20 8h0m3-27h0m16 29h0m-511 45h0m0-5h0m3-23h0m5-5h0m21 32h0m16-30h0m32 32h0m34-23h0m24 2h0m51 5h0m24-14h0m2 16h0m17 12h0m5-17h0m14-14h0m41 34h0m38-23h0m11-9h0m32 7h0m17 7h0m11-6h0m30 8h0m6 14h0m2-31h0m1-1h0m11 33h0m20-19h0m4-11h0m10 23h0m9-10h0m10 18h0m1-20h0m15-5h0m-535 65h0m6-37h0m18 30h0m7-1h0m5-23h0m6 10h0m17-14h0m3 18h0m9-10h0m10 9h0m1-3h0m47 18h0m5-23h0m5 8h0m10 16h0m3-30h0m5 24h0m43-5h0m18-23h0m34 0h0m9 12h0m41 21h0m9-2h0m38-32h0m47 34h0m18-2h0m10-23h0m13 21h0m16-12h0m17 19h0m32-15h0m14-9h0m-521 56h0m26-3h0m20-26h0m8 23h0m44-5h0m8-16h0m19 6h0m36 25h0m4-6h0m40 2h0m4-22h0m10 29h0m41-2h0m12-33h0m69 23h0m0-17h0m31 21h0m3-3h0m4 12h0m51-16h0m3-7h0m0 22h0m14-12h0m14-3h0m7 17h0m12-22h0m17 11h0m19-15h0m1 26h0m-483 31h0m30-24h0m35-2h0m3 29h0m23-27h0m3 17h0m4-9h0m4 19h0m14-8h0m20-3h0m26-20h0m2 10h0m2-10h0m18 26h0m13-22h0m52-2h0m4 8h0m9 26h0m53 2h0m7-29h0m12 5h0m6 6h0m46-17h0m5-3h0m12 31h0m14-25h0m28 10h0m1 21h0m14-14h0m0-11h0m13-7h0m21 32h0m11-26h0m1 20h0m4 4h0m2 3h0m-540 23h0m1 0h0m6 10h0m32-26h0m41 26h0m6 2h0m13-15h0m6-10h0m22-9h0m38 21h0m5-13h0m19 29h0m46-6h0m37-3h0m10-20h0m1-6h0m31 33h0m46-28h0m22-3h0m14 16h0m5 19h0m4-35h0m30 5h0m11 11h0m29 15h0m18-9h0m10-20h0m10 1h0m17 30h0m7-29h0m-485 52h0m46-18h0m0 19h0m10-15h0m58 26h0m9 3h0m6-12h0m11-1h0m15 4h0m10-13h0m58 9h0m24-13h0m8 23h0m23-2h0m39 9h0m3-10h0m22-20h0m18-3h0m13 4h0m13 7h0m2-12h0m27 28h0m0-19h0m12 5h0m51 15h0m-500 13h0m3 6h0m33 5h0m48-5h0m43 8h0m4 3h0m17-21h0m9 21h0m7-2h0m1 9h0m5 2h0m53 3h0m2-21h0m3 4h0m16-6h0m0 19h0m15 3h0m2-5h0m21-17h0m3 1h0m12 24h0m37-7h0m5-20h0m7 14h0m13-17h0m58 29h0m9-29h0m-419 44h0m32 19h0m27-21h0m48-6h0m19 14h0m7 19h0m19-19h0m55-5h0m2-13h0m39 35h0m66-17h0m30-9h0m37 17h0m2 9h0m24-3h0m4-18h0m4 24h0m18-35h0m11 8h0m52-6h0m-472 63h0m13 0h0m2-15h0m8 21h0m2-28h0m35-5h0m23 3h0m15 10h0m25-12h0m13 7h0m10 11h0m9 13h0m2 1h0m39-20h0m10 2h0m17 5h0m12-19h0m28 27h0m8-2h0m5-13h0m4-1h0m4 19h0m38-26h0m35 25h0m28-27h0m-370 74h0m28-8h0m2-19h0m2 5h0m20 16h0m22-27h0m11 33h0m20-1h0m10-9h0m20-19h0m76 16h0m6-11h0m10 19h0m1-24h0m3-5h0m1 23h0m51 1h0m3-10h0m19 18h0m4-25h0m13 26h0m25-22h0m9 6h0m9-13h0m5 22h0m3-19h0m5 13h0m58-23h0m0 14h0m9 7h0m-473 20h0m12 17h0m14 16h0m9 0h0m3-33h0m10 0h0m46-1h0m44 15h0m19-8h0m27 9h0m14 20h0m5-22h0m10 13h0m30-5h0m19-11h0m29 22h0m7-2h0m0 0h0m5-8h0m44-9h0m4 21h0m12-20h0m7 11h0m2-24h0m11 0h0m47 3h0m6 26h0m4-28h0m31 8h0m2 21h0m-437 12h0m44 11h0m16 1h0m32-13h0m25 12h0m10 4h0m3-13h0m8-6h0m40 21h0m20-2h0m20-17h0m52 19h0m22 4h0m1-3h0m7 13h0m47-36h0m33 35h0m10-18h0m-413 34h0m5 12h0m2-19h0m15 33h0m28-3h0m5-32h0m23 2h0m13 23h0m7-23h0m27-3h0m6 38h0m59-36h0m21 8h0m11 27h0m1-5h0m31-20h0m29 2h0m20-14h0m2 4h0m24-5h0m51 12h0m14-11h0m10 36h0m22-20h0m-373 30h0m20-7h0m50 15h0m48-1h0m44-14h0m8 28h0m7 4h0m47-27h0m2 5h0m22 1h0m23-9h0m36 25h0" stroke="#fde3de" stroke-width="14" opacity="0.9"/></g>
<path d="M214.0 400.0L214.7 399.6L215.8 399.3L217.1 399.2L218.6 399.3L220.2 399.4L221.9 399.6L223.7 399.9L225.6 400.3L227.3 400.7L229.0 401.1L230.6 401.6L232.0 402.0L233.3 402.4L234.6 402.8L235.9 403.3L237.1 403.8L238.4 404.3L239.6 404.9L240.7 405.5L241.7 406.2L242.7 407.0L243.6 407.9L244.4 408.9L245.0 410.0L245.5 411.3L245.9 412.7L246.2 414.2L246.4 415.9L246.5 417.7L246.5 419.5L246.5 421.3L246.4 423.2L246.3 425.0L246.2 426.8L246.1 428.4L246.0 430.0L245.9 431.5L245.8 433.0L245.6 434.6L245.4 436.1L245.1 437.6L244.9 439.0L244.6 440.4L244.3 441.7L244.0 442.9L243.7 444.1L243.3 445.1L243.0 446.0L242.7 446.8L242.3 447.4L241.9 448.0L241.5 448.5L241.1 448.9L240.6 449.2L240.2 449.4L239.7 449.6L239.3 449.8L238.9 449.9L238.4 449.9L238.0 450.0L237.6 450.0L237.2 450.0L236.8 450.0L236.4 449.9L236.0 449.8L235.6 449.6L235.2 449.4L234.8 449.1L234.4 448.7L233.9 448.2L233.5 447.7L233.0 447.0L232.5 446.2L232.0 445.4L231.4 444.4L230.9 443.3L230.3 442.2L229.7 441.0L229.1 439.7L228.5 438.4L227.9 437.1L227.2 435.8L226.6 434.4L226.0 433.0L225.4 431.6L224.7 430.1L224.0 428.5L223.3 426.9L222.5 425.2L221.8 423.5L221.1 421.8L220.4 420.1L219.7 418.5L219.1 416.9L218.5 415.4L218.0 414.0L217.5 412.6L216.8 411.2L216.2 409.8L215.6 408.4L214.9 407.0L214.4 405.7L213.9 404.4L213.6 403.3L213.4 402.3L213.3 401.3L213.6 400.6Z" fill="#ee6f69"/>
<g transform="scale(0.1290 0.1)" fill="none" stroke-linecap="round"><path d="M1651 3968h0m23 22h0m6 2h0m0-20h0m7 18h0m14-8h0m3 15h0m7-12h0m63 13h0m30-2h0m6-5h0m-158 13h0m5 27h0m8-15h0m44 5h0m36-12h0m1-3h0m4-2h0m5 12h0m5-15h0m11 24h0m2-13h0m1 0h0m14 12h0m3-11h0m1 2h0m2-14h0m3 20h0m12-9h0m17 0h0m6 21h0m22-16h0m-225 23h0m10 25h0m6 13h0m8-33h0m6-2h0m14 27h0m15 7h0m126-31h0m24 25h0m12-29h0m9 12h0m2 4h0m7-5h0m8 7h0m0-12h0m5 25h0m2 5h0m7-25h0m4 2h0m4 19h0m5-6h0m-247 14h0m3 8h0m12 25h0m2-7h0m4 11h0m3-13h0m0 13h0m9-9h0m0 9h0m203-11h0m-216 16h0m13 1h0m2 23h0m9-7h0m3-17h0m205 21h0m5-7h0m5-3h0m3 23h0m-251 28h0m15 7h0m4-23h0m1 14h0m36 9h0m181-32h0m5 14h0m-204 49h0m17-20h0m182 30h0m4-33h0m12 21h0m-200 52h0m2-4h0m5 4h0m2-6h0m11-20h0m5 31h0m131-39h0m26 24h0m5-2h0m4-20h0m11 28h0m-177 26h0m19 20h0m6-28h0m138-5h0m3 14h0m-188 24h0m12 3h0m7 14h0m5-5h0m9-8h0m2 1h0m9 18h0m9 6h0m4-1h0m113 5h0m2-5h0m9-23h0m4-3h0m2 30h0m-158 25h0m5 14h0m14-13h0m2 1h0m108-12h0m8-1h0m1 6h0m8 17h0m6-29h0m1 22h0m16-17h0m-154 39h0m11 18h0m9 7h0m89-20h0m6 10h0m2-10h0m3 16h0m9 0h0m1-18h0m2 14h0m-117 18h0m14 16h0m6-7h0m2 5h0m8 11h0m2 7h0m6-11h0m44 2h0m4 8h0m29-2h0m-97 36h0m4-20h0m4 9h0m0-4h0m6-7h0m14 10h0m2-3h0m4 10h0m2 8h0m1-21h0m5 19h0m19-23h0m7 2h0m2 1h0m5-1h0m3 15h0m2-20h0" stroke="#ee6f69" stroke-width="14"/></g>
<g transform="scale(0.1290 0.1)" fill="none" stroke-linecap="round"><path d="M1656 4029h0m3-4h0m11-1h0m59-11h0m3 3h0m1 13h0m6-27h0m3 31h0m2-28h0m20 10h0m20 6h0m10 12h0m8-9h0m-132 25h0m18 12h0m13-7h0m3 15h0m6-27h0m16 6h0m16 25h0m40-1h0m19-6h0m14 9h0m6-7h0m13-26h0m7 20h0m0-22h0m13 34h0m-170 16h0m3 13h0m23 2h0m9 12h0m5 1h0m12-24h0m4 14h0m16-21h0m1 12h0m11 10h0m7-16h0m3-1h0m5 22h0m2 2h0m20-36h0m3 27h0m29 4h0m2-25h0m10 9h0m8 8h0m2 6h0m5-1h0m-171 39h0m7 12h0m17-9h0m21-19h0m2-7h0m13 22h0m2-9h0m10 22h0m1-3h0m11-29h0m43 8h0m12-4h0m17 20h0m3-9h0m1 2h0m12 14h0m24-9h0m-182 44h0m1 3h0m29-19h0m25 2h0m4-7h0m35-7h0m7 18h0m8-2h0m9-5h0m20 14h0m4-28h0m20 14h0m16-9h0m9 8h0m9-6h0m7 12h0m-199 22h0m5 4h0m5 9h0m7-16h0m16 6h0m100 28h0m7-4h0m6-23h0m15 29h0m16-1h0m13-1h0m-166 39h0m48-15h0m16 10h0m2-27h0m15 25h0m8-21h0m10 23h0m4 7h0m1-16h0m10-15h0m32 30h0m15-23h0m-150 44h0m7-14h0m6 4h0m14 32h0m6 0h0m4-1h0m20-12h0m15 15h0m11-6h0m38-15h0m18 21h0m5-4h0m7-17h0m-112 39h0m13-16h0m19 35h0m7-13h0m3-13h0m16-4h0m7 16h0m19 14h0m8-23h0m6 4h0m7-10h0m-108 57h0m11-20h0m14-2h0m7 30h0m9-15h0m7 3h0m20 17h0m6-6h0m10-31h0m5 26h0m2-12h0m4-6h0m0 15h0m1 3h0m2-7h0m11-12h0m10-6h0m-97 46h0m32 5h0m1 0h0m27 1h0m4 10h0m21 12h0m6-32h0m-99 38h0m17 35h0m56-1h0m1-10h0m2 5h0" stroke="#fde3de" stroke-width="14" opacity="0.9"/></g>
<g transform="scale(0.1290 0.1)" fill="none" stroke-linecap="round"><path d="M2195 3796h0m-5 35h0m9-31h0m32 33h0m1-17h0m19 18h0m0-13h0m27 5h0m0-2h0m4-22h0m9 5h0m21 32h0m-213 13h0m17 1h0m5-9h0m1 9h0m7-9h0m2 13h0m9-11h0m13 12h0m3 8h0m18-3h0m8-19h0m6 18h0m22-4h0m7-4h0m5-13h0m19 3h0m4 1h0m15 7h0m11 6h0m9 4h0m9-21h0m1 17h0m3 1h0m2-16h0m6-3h0m3 21h0m1-4h0m1-3h0m17 25h0m39-5h0m5-24h0m-300 54h0m10-8h0m35 6h0m11-14h0m21 9h0m0 9h0m27-12h0m2 1h0m8 16h0m18 4h0m1-28h0m0 23h0m1-17h0m14 11h0m4-8h0m2 17h0m12-24h0m3 28h0m23-29h0m0 15h0m1 14h0m6-13h0m3-7h0m0 21h0m6-1h0m2-10h0m9-9h0m14 2h0m15 4h0m3 11h0m1-13h0m10 15h0m6-5h0m0-2h0m14-14h0m-353 53h0m47-7h0m13 10h0m6 2h0m5-30h0m12 4h0m1 6h0m5-8h0m1 5h0m3 12h0m2-20h0m3 4h0m31 32h0m1-34h0m18 9h0m12 11h0m11 12h0m46-7h0m8 9h0m5-34h0m6 29h0m4-14h0m3 13h0m7 5h0m13-8h0m28-27h0m19 25h0m1-19h0m2 23h0m7-10h0m24 13h0m7-16h0m5-7h0m5-12h0m-383 79h0m22-29h0m10-4h0m1 23h0m14-18h0m4 14h0m3 7h0m10-3h0m1-16h0m12-13h0m19 0h0m5 30h0m9-20h0m1 1h0m3 14h0m3-18h0m25 7h0m9-2h0m25 17h0m10-19h0m14 28h0m5-4h0m2 2h0m14-1h0m1-10h0m3 0h0m3 1h0m1-11h0m22 8h0m4-12h0m0-4h0m4-1h0m4 14h0m38 1h0m8-11h0m2 6h0m0 12h0m5 2h0m3-8h0m0 12h0m27-27h0m10 18h0m1 0h0m8 6h0m1-3h0m19-24h0m-400 62h0m10 13h0m12-13h0m13-3h0m7-20h0m5 13h0m15-3h0m33 23h0m39-33h0m5 34h0m7-1h0m14-35h0m8 22h0m2 8h0m17-26h0m13 13h0m29 17h0m4-16h0m12 0h0m4-12h0m23 5h0m6 27h0m9-6h0m14-1h0m1-9h0m4-6h0m14-15h0m6 22h0m5-5h0m22 10h0m5 7h0m4 1h0m1-27h0m7-2h0m1 5h0m4-4h0m36 29h0m-451 20h0m13 2h0m27 0h0m7 3h0m11 3h0m2-15h0m2-3h0m0 14h0m6 10h0m3 1h0m2-22h0m3 21h0m29-9h0m3-9h0m6 18h0m1-18h0m7 2h0m5-11h0m19 11h0m9-16h0m4 6h0m22 6h0m0-8h0m1 6h0m12 3h0m17 17h0m1-25h0m4 14h0m11 15h0m29-25h0m3-8h0m11 11h0m6 15h0m8-14h0m47 17h0m2-14h0m3 22h0m21-19h0m2 9h0m8-27h0m10-1h0m32 28h0m15 4h0m6-15h0m-449 58h0m20-23h0m45-11h0m2 33h0m41-11h0m24-10h0m7 22h0m1-15h0m4-5h0m19 9h0m15-9h0m3 19h0m9-27h0m42 20h0m16-17h0m36-7h0m2 34h0m18-12h0m21-14h0m11 16h0m9 10h0m2-37h0m12 13h0m9 5h0m19 19h0m1-31h0m3 2h0m14 24h0m2-18h0m25-11h0m-400 64h0m8-6h0m6-12h0m10 16h0m12 2h0m25-3h0m4 5h0m4-15h0m8-14h0m8 11h0m4 25h0m37-31h0m8-4h0m1 23h0m7 5h0m2-20h0m2-8h0m1 38h0m1-18h0m2 16h0m2 2h0m0-27h0m26-2h0m2-8h0m2 28h0m2-21h0m11 8h0m1 3h0m2-20h0m4 23h0m33 15h0m17-10h0m4-20h0m8-7h0m2 4h0m4 11h0m4-2h0m7-9h0m3-5h0m13 33h0m16-26h0m2 26h0m7-8h0m14 4h0m0 10h0m17-17h0m10 6h0m7 11h0m34-37h0m5 21h0m-423 17h0m18 26h0m20 13h0m2-3h0m9-22h0m1-13h0m8 35h0m16-28h0m1-4h0m7 30h0m6-18h0m9-1h0m8-4h0m4-3h0m1 22h0m29-16h0m1-5h0m6-9h0m6 32h0m31-17h0m31 11h0m4 10h0m1-11h0m2 9h0m10-14h0m15-17h0m8 36h0m10-12h0m5-22h0m14 30h0m3-11h0m8-4h0m1 5h0m3 0h0m4 4h0m1-27h0m24 3h0m5 15h0m5-18h0m14 31h0m11-20h0m11-3h0m5-5h0m4 17h0m23-16h0m-391 65h0m14 3h0m13-21h0m13 12h0m18 8h0m3-11h0m2 3h0m5-10h0m17 23h0m1-23h0m1-13h0m1-1h0m1 3h0m2 9h0m8 16h0m8-27h0m21 33h0m1-25h0m13 11h0m5-11h0m18 20h0m2 1h0m9-14h0m19-14h0m17-3h0m4 7h0m7 2h0m18 19h0m37-20h0m10 13h0m4 13h0m6-16h0m4-17h0m48 25h0m13 7h0m2-10h0m-388 45h0m13-21h0m25 27h0m28-31h0m13 1h0m4 7h0m3 11h0m6-7h0m28 2h0m16 1h0m3-17h0m10 22h0m1-23h0m21 17h0m8-16h0m5 32h0m6 5h0m3-24h0m23 22h0m0-12h0m22-16h0m4 18h0m16 13h0m10-2h0m3-21h0m6-6h0m1 29h0m2-17h0m6 6h0m2-15h0m14 7h0m1 9h0m36 9h0m29-36h0m6 3h0m30 14h0m-385 31h0m8 1h0m8-1h0m6 17h0m3-2h0m3-15h0m2 10h0m10-1h0m4-8h0m1 27h0m8 1h0m12-39h0m2 19h0m5 8h0m30-7h0m7 4h0m4 0h0m14-18h0m1 1h0m6-6h0m14 34h0m4-31h0m0 9h0m42-10h0m56 16h0m19-3h0m0 13h0m4-28h0m26 2h0m2 17h0m63-20h0m-373 71h0m6-11h0m6 13h0m2-8h0m10 2h0m6-24h0m0 20h0m5 5h0m0-27h0m7 29h0m18-21h0m18 12h0m4 1h0m2-22h0m37 2h0m219-2h0m6 0h0m10 3h0m-336 55h0m8-5h0m3-5h0m9 9h0m12 15h0m2-25h0m2 27h0m3-18h0m4-16h0m18 7h0" stroke="#ee6f69" stroke-width="16"/></g>
<path d="M288.0 318.0L288.7 317.4L289.5 316.8L290.4 316.1L291.3 315.5L292.3 314.9L293.4 314.2L294.5 313.7L295.6 313.2L296.7 312.8L297.8 312.4L298.9 312.1L300.0 312.0L301.1 312.0L302.3 312.0L303.5 312.1L304.8 312.3L306.0 312.6L307.3 312.9L308.6 313.3L309.8 313.7L310.9 314.2L312.0 314.8L313.1 315.4L314.0 316.0L314.8 316.7L315.6 317.5L316.4 318.3L317.0 319.2L317.7 320.2L318.2 321.2L318.8 322.2L319.3 323.3L319.8 324.5L320.2 325.6L320.6 326.8L321.0 328.0L321.4 329.3L321.7 330.6L322.0 332.0L322.3 333.5L322.5 335.0L322.8 336.5L322.9 338.0L323.0 339.5L323.1 341.0L323.1 342.4L323.1 343.7L323.0 345.0L322.9 346.2L322.7 347.4L322.4 348.6L322.1 349.7L321.8 350.8L321.4 351.9L320.9 352.9L320.4 353.9L319.9 354.8L319.3 355.6L318.7 356.3L318.0 357.0L317.2 357.6L316.4 358.1L315.5 358.6L314.5 359.0L313.5 359.3L312.4 359.6L311.4 359.8L310.3 360.0L309.2 360.1L308.1 360.1L307.0 360.1L306.0 360.0L305.0 359.8L304.0 359.6L302.9 359.3L301.9 359.0L300.8 358.5L299.8 358.1L298.7 357.5L297.7 356.9L296.7 356.3L295.8 355.6L294.9 354.8L294.0 354.0L293.2 353.1L292.4 352.1L291.6 351.1L290.8 349.9L290.1 348.7L289.4 347.5L288.7 346.2L288.1 345.0L287.5 343.7L286.9 342.4L286.4 341.2L286.0 340.0L285.6 338.8L285.2 337.6L284.9 336.4L284.7 335.1L284.4 333.9L284.2 332.6L284.1 331.4L284.0 330.2L283.9 329.1L283.9 328.0L283.9 327.0L284.0 326.0L284.1 325.1L284.2 324.3L284.4 323.5L284.6 322.8L284.8 322.1L285.1 321.5L285.5 320.9L285.9 320.3L286.3 319.7L286.8 319.1L287.4 318.6Z" fill="#ee6f69"/>
<g transform="scale(0.1290 0.1)" fill="none" stroke-linecap="round"><path d="M2263 3114h0m36-1h0m11-7h0m6-3h0m9-2h0m27 17h0m15-35h0m-134 71h0m25-20h0m2 14h0m13 5h0m4-8h0m6-7h0m6 6h0m4 0h0m3-18h0m3 15h0m5-2h0m10 10h0m30 2h0m5-27h0m0 10h0m1-1h0m17-3h0m9 13h0m5-1h0m3-21h0m1 26h0m6-6h0m7-13h0m4 21h0m0-21h0m2 19h0m12-1h0m0 8h0m1-21h0m15 13h0m10 5h0m-228 19h0m10 22h0m8-17h0m1 14h0m30-4h0m1-6h0m3-16h0m8 1h0m1-1h0m156 0h0m0 24h0m21-12h0m1 19h0m7-4h0m1-4h0m16 2h0m-295 40h0m14-17h0m18 1h0m15-6h0m227 31h0m9-9h0m4-18h0m1 18h0m-287 38h0m6 7h0m8 0h0m11-19h0m8-2h0m11 14h0m234-9h0m19-14h0m1 23h0m3 13h0m3-14h0m2 7h0m-295 45h0m1-32h0m17-2h0m276 13h0m5-9h0m1-4h0m0 13h0m5-1h0m2-12h0m1-2h0m-320 75h0m30-36h0m3 15h0m271 4h0m6 3h0m4 5h0m1 10h0m5-11h0m-277 53h0m6-16h0m259-7h0m6 18h0m6-5h0m3 10h0m19-22h0m-310 26h0m5 0h0m0 30h0m5-27h0m3 15h0m3 7h0m263-1h0m6-3h0m13 1h0m-284 18h0m7 31h0m9-12h0m6 16h0m1-37h0m4 20h0m248 3h0m-250 20h0m5 30h0m2-14h0m11 14h0m2-10h0m207 10h0m8-25h0m14 26h0m7-24h0m6 14h0m5-6h0m3-11h0m-271 47h0m23 0h0m7 9h0m4 1h0m4 6h0m3-12h0m5 13h0m6 1h0m22-11h0m148-6h0m0 11h0m6 10h0m14-36h0m1 20h0m1-17h0m4 23h0m8-19h0m-206 46h0m0 3h0m21-8h0m23 23h0m10 5h0m13-13h0m35-12h0m3 12h0m7 11h0m27-27h0m17 5h0m18-10h0m4 20h0m-124 28h0m20-11h0m15 29h0m7-25h0m3 6h0m6-9h0m14-1h0m6 34h0m12-20h0" stroke="#ee6f69" stroke-width="14"/></g>
<g transform="scale(0.1290 0.1)" fill="none" stroke-linecap="round"><path d="M2276 3155h0m9-10h0m32-10h0m5 16h0m20-12h0m26-4h0m8 18h0m-129 33h0m6 8h0m3-7h0m3-4h0m11-1h0m12-4h0m10-5h0m8-6h0m9 6h0m16-9h0m16 18h0m4-2h0m5-13h0m9 16h0m9-12h0m0-1h0m5 17h0m11-15h0m6 22h0m6-11h0m2-11h0m7 2h0m5 12h0m0-24h0m-162 41h0m29 4h0m2 0h0m18 4h0m7 0h0m11 22h0m13-10h0m0-12h0m5-11h0m6 1h0m1 4h0m6 21h0m9-2h0m2-4h0m21 1h0m8 16h0m8-1h0m3-3h0m34 4h0m40-7h0m1 5h0m-236 7h0m0-1h0m1 33h0m39-1h0m2-3h0m1-7h0m29 10h0m12-1h0m6-14h0m2 15h0m11-15h0m12-16h0m2 37h0m25-30h0m5 11h0m1-5h0m21-11h0m1 33h0m24-19h0m6-15h0m12 8h0m12 3h0m11 7h0m-260 19h0m61 1h0m4 37h0m24-6h0m2-1h0m6-14h0m2-1h0m9 19h0m4-14h0m9-20h0m9 13h0m30 25h0m11-5h0m23-24h0m3 19h0m12-6h0m28-14h0m5 18h0m32-14h0m2-2h0m4 15h0m2 12h0m-283 16h0m1 19h0m15-30h0m21 33h0m12-36h0m0 38h0m2-34h0m7 27h0m6-20h0m7 11h0m5-20h0m11 6h0m0 8h0m13-1h0m9 10h0m22 5h0m4-8h0m0-9h0m8-10h0m14-2h0m31 24h0m25-20h0m29 26h0m1 3h0m14-30h0m28 17h0m4 5h0m-271 38h0m4-14h0m3 24h0m3-7h0m26-22h0m2 24h0m33 8h0m22-8h0m7-4h0m28 13h0m21-32h0m2 27h0m3-4h0m9-8h0m16 8h0m7-1h0m28-16h0m30-5h0m0 18h0m11-12h0m-263 33h0m60 31h0m8-19h0m1 5h0m2 9h0m25-22h0m3-5h0m8 0h0m2 23h0m2 2h0m24-19h0m0 7h0m3 18h0m2-27h0m4-1h0m6 30h0m1-32h0m8-3h0m3 13h0m11 3h0m2-11h0m2 8h0m21 7h0m7-14h0m8 4h0m5 23h0m3-12h0m10-21h0m3 20h0m12-7h0m6-2h0m6 13h0m2 5h0m1-32h0m1 5h0m2 18h0m-221 22h0m15 4h0m4 27h0m10-16h0m3-11h0m9 22h0m1-15h0m24 4h0m8-7h0m17 20h0m12-21h0m19 11h0m6-1h0m34 5h0m10-11h0m6-15h0m30 6h0m15 28h0m0 2h0m0-5h0m7-5h0m-239 29h0m46-3h0m3 2h0m11 18h0m8-10h0m3-13h0m3 8h0m32 21h0m19-8h0m7-5h0m5-25h0m6 11h0m6 16h0m15-6h0m6 9h0m33-14h0m16-4h0m-192 40h0m9 19h0m2-23h0m4 28h0m0 2h0m9-16h0m28 9h0m20-14h0m0-3h0m54 3h0m11-8h0m8 26h0m9-9h0m3-12h0m12 17h0m3-11h0m15 13h0m-155 16h0m19-2h0m47 25h0m4-31h0m1 12h0m2-14h0m30 8h0m6 6h0m2-9h0m0 3h0m15 9h0m1-3h0m4 12h0" stroke="#fde3de" stroke-width="14" opacity="0.9"/></g>
<path d="M270.0 231.0L270.7 230.8L271.4 230.6L272.2 230.5L273.1 230.4L273.9 230.4L274.8 230.4L275.7 230.5L276.6 230.7L277.5 230.9L278.3 231.2L279.2 231.6L280.0 232.0L280.8 232.5L281.6 233.1L282.4 233.8L283.1 234.6L283.9 235.4L284.7 236.3L285.4 237.2L286.2 238.2L286.9 239.1L287.6 240.1L288.3 241.1L289.0 242.0L289.7 242.9L290.4 243.9L291.1 245.0L291.9 246.0L292.6 247.1L293.3 248.1L294.0 249.2L294.6 250.2L295.1 251.2L295.5 252.2L295.8 253.1L296.0 254.0L296.1 254.8L296.1 255.7L296.0 256.6L295.8 257.4L295.5 258.2L295.2 259.0L294.8 259.7L294.3 260.4L293.8 260.9L293.3 261.4L292.6 261.8L292.0 262.0L291.3 262.1L290.4 262.1L289.5 262.0L288.5 261.8L287.5 261.5L286.4 261.1L285.3 260.7L284.1 260.2L283.0 259.7L282.0 259.2L281.0 258.6L280.0 258.0L279.1 257.4L278.2 256.7L277.3 255.9L276.4 255.1L275.5 254.3L274.6 253.4L273.8 252.5L273.0 251.6L272.2 250.6L271.4 249.7L270.7 248.9L270.0 248.0L269.3 247.2L268.6 246.3L267.9 245.4L267.3 244.6L266.6 243.7L266.0 242.8L265.4 242.0L265.0 241.1L264.6 240.3L264.3 239.5L264.1 238.7L264.0 238.0L264.1 237.3L264.3 236.6L264.6 235.9L265.0 235.1L265.4 234.5L266.0 233.8L266.6 233.2L267.3 232.6L267.9 232.1L268.6 231.7L269.3 231.3Z" fill="#ee6f69"/>
<g transform="scale(0.1290 0.1)" fill="none" stroke-linecap="round"><path d="M2052 2314h0m25 2h0m9-7h0m2 7h0m28-2h0m18-7h0m1-8h0m6 1h0m8 7h0m5 4h0m46-2h0m8-18h0m-171 56h0m7-14h0m14-4h0m6 16h0m5 6h0m4-17h0m13 22h0m18-30h0m17-6h0m38 8h0m6 25h0m12-31h0m2 5h0m12 17h0m5-10h0m9 22h0m9 0h0m2-4h0m-187 8h0m2 20h0m12-6h0m3-1h0m0-12h0m3 18h0m1 1h0m136 10h0m10-8h0m18-10h0m2-3h0m1 26h0m6-29h0m5 32h0m7-21h0m5 20h0m-208 4h0m23 6h0m5 22h0m1-10h0m10-17h0m12 37h0m121-24h0m41 17h0m8-21h0m3 23h0m3-13h0m-203 23h0m16 14h0m2 12h0m2-14h0m19 1h0m146-6h0m3-3h0m7 4h0m1 5h0m11-5h0m-178 36h0m5-4h0m18 14h0m6 18h0m4-5h0m7 2h0m130-26h0m8-3h0m3 12h0m1-15h0m14 22h0m0 16h0m-175 3h0m26 35h0m3-21h0m6 18h0m1-5h0m127-20h0m17 13h0m18-16h0m-166 44h0m11-9h0m13 14h0m6 19h0m1-2h0m10-11h0m6 15h0m2-27h0m1 29h0m0-10h0m10 2h0m7-9h0m9 16h0m2-3h0m1 4h0m30-4h0m34-27h0m6 2h0m-84 36h0m3 0h0m4 9h0m9 25h0m2-33h0m22 15h0m44-6h0m9-4h0m2 10h0m-56 20h0" stroke="#ee6f69" stroke-width="14"/></g>
<g transform="scale(0.1290 0.1)" fill="none" stroke-linecap="round"><path d="M2106 2314h0m4 5h0m11-12h0m36 10h0m-94 37h0m18-13h0m2-14h0m9 4h0m4 20h0m12-23h0m5 16h0m18-21h0m5 16h0m14 13h0m-95 9h0m3 4h0m5 16h0m7-20h0m0 36h0m9-23h0m41-6h0m59 1h0m2 14h0m6-12h0m4 14h0m8-1h0m3-14h0m16 19h0m-151 47h0m10-24h0m21 6h0m7 16h0m6 3h0m22 2h0m27-6h0m1-29h0m25 32h0m6-10h0m10 1h0m5-1h0m9-5h0m1 0h0m13-15h0m-136 71h0m19-9h0m4 10h0m15-23h0m1-1h0m39 5h0m8 20h0m4-3h0m10-35h0m4 8h0m7-6h0m19 0h0m19 9h0m4 0h0m9 13h0m-157 23h0m84-5h0m1 9h0m5-10h0m3 11h0m27 14h0m0-26h0m2 25h0m26-7h0m9-1h0m0 16h0m5-7h0m6-10h0m1 2h0m5-18h0m2 31h0m2-20h0m-130 48h0m11-18h0m3 19h0m4-11h0m5-8h0m0 37h0m13-11h0m12-1h0m0 2h0m18 3h0m7 6h0m12-17h0m4-18h0m11 16h0m17-5h0m14 0h0m9 9h0m5 6h0m-107 32h0m24-20h0m30 20h0m0-8h0m8 15h0m12 9h0m2-35h0m-26 45h0" stroke="#fde3de" stroke-width="14" opacity="0.9"/></g>
<g transform="scale(0.1290 0.1)" fill="none" stroke-linecap="round"><path d="M2615 3133h0m-61 90h0m28-1h0m8 2h0m14-5h0m3 3h0m48 10h0m-150 33h0m10 6h0m13-25h0m30 28h0m6-32h0m31 6h0m-76 51h0m19 6h0m21-16h0m34 29h0m13-22h0m11-14h0m-97 44h0m12 9h0m38 0h0m22 2h0m37-7h0m11-8h0m2 18h0m12 15h0m-130 35h0m31 5h0m3-16h0m38 16h0m43-12h0m38 6h0m-124 44h0m4-22h0m52-10h0m18 15h0m5-3h0m-113 54h0m13 9h0m26-4h0m69-2h0m-91 46h0m-44 15h0m12 20h0m16 4h0m47-34h0m18 7h0m-78 55h0m-45 45h0m63-15h0m70 21h0m15-11h0m-125 34h0m22 7h0m38 15h0" stroke="#ee6f69" stroke-width="15"/></g>
<path d="M337.0 290.0L337.6 289.0L338.1 288.1L338.7 287.4L339.4 286.8L340.0 286.3L340.7 285.9L341.4 285.5L342.1 285.2L342.8 284.9L343.5 284.6L344.3 284.3L345.0 284.0L345.8 283.7L346.6 283.4L347.4 283.1L348.2 282.9L349.0 282.6L349.9 282.4L350.7 282.3L351.6 282.1L352.5 282.1L353.3 282.0L354.2 282.0L355.0 282.0L355.8 282.1L356.7 282.3L357.5 282.5L358.3 282.9L359.2 283.2L360.0 283.6L360.8 283.9L361.7 284.3L362.5 284.6L363.3 284.8L364.2 284.9L365.0 285.0L365.8 285.0L366.6 284.8L367.4 284.7L368.1 284.4L368.9 284.2L369.7 283.9L370.5 283.6L371.3 283.2L372.1 282.9L373.0 282.6L374.0 282.3L375.0 282.0L376.1 281.7L377.3 281.4L378.5 281.1L379.8 280.7L381.1 280.4L382.5 280.1L383.9 279.8L385.2 279.5L386.5 279.3L387.7 279.1L388.9 279.0L390.0 279.0L391.0 279.1L392.0 279.2L392.9 279.4L393.8 279.7L394.6 280.0L395.4 280.4L396.2 280.8L397.0 281.2L397.8 281.6L398.5 282.1L399.3 282.5L400.0 283.0L400.7 283.5L401.5 284.0L402.2 284.5L402.9 285.0L403.6 285.6L404.2 286.1L404.9 286.7L405.6 287.3L406.2 288.0L406.8 288.6L407.4 289.3L408.0 290.0L408.6 290.7L409.1 291.5L409.7 292.2L410.2 293.0L410.7 293.8L411.2 294.6L411.7 295.5L412.1 296.3L412.6 297.2L413.1 298.1L413.5 299.1L414.0 300.0L414.5 301.0L414.9 301.9L415.3 302.9L415.7 304.0L416.2 305.0L416.6 306.1L417.0 307.1L417.4 308.3L417.8 309.4L418.2 310.6L418.6 311.8L419.0 313.0L419.4 314.3L419.8 315.6L420.3 317.0L420.7 318.4L421.1 319.8L421.6 321.2L422.0 322.7L422.4 324.2L422.8 325.7L423.2 327.1L423.6 328.6L424.0 330.0L424.4 331.4L424.7 332.8L425.1 334.2L425.4 335.6L425.8 337.0L426.1 338.4L426.5 339.8L426.8 341.3L427.1 342.7L427.4 344.1L427.7 345.5L428.0 347.0L428.3 348.5L428.6 350.0L428.9 351.5L429.1 353.0L429.4 354.5L429.7 356.0L429.9 357.5L430.2 359.0L430.4 360.5L430.6 362.0L430.8 363.5L431.0 365.0L431.2 366.4L431.3 367.9L431.4 369.3L431.6 370.7L431.7 372.1L431.8 373.5L431.8 374.9L431.9 376.3L431.9 377.7L432.0 379.1L432.0 380.6L432.0 382.0L432.0 383.5L432.0 385.0L431.9 386.5L431.9 388.1L431.8 389.6L431.7 391.2L431.6 392.7L431.5 394.3L431.4 395.8L431.2 397.2L431.1 398.6L431.0 400.0L430.9 401.3L430.8 402.6L430.7 403.9L430.6 405.1L430.5 406.3L430.4 407.5L430.2 408.7L430.1 409.8L429.9 410.9L429.6 411.9L429.3 413.0L429.0 414.0L428.6 415.0L428.3 415.9L428.0 416.9L427.6 417.8L427.2 418.7L426.8 419.5L426.2 420.3L425.6 421.1L424.9 421.9L424.1 422.6L423.1 423.3L422.0 424.0L420.7 424.7L419.1 425.3L417.4 426.0L415.5 426.6L413.5 427.2L411.5 427.8L409.4 428.3L407.4 428.7L405.4 429.2L403.4 429.5L401.6 429.8L400.0 430.0L398.5 430.1L397.1 430.2L395.8 430.2L394.5 430.1L393.3 430.0L392.1 429.9L390.9 429.7L389.7 429.4L388.6 429.1L387.4 428.8L386.2 428.4L385.0 428.0L383.7 427.5L382.4 426.7L381.0 425.9L379.6 424.9L378.2 423.9L376.8 422.9L375.5 421.9L374.2 421.1L373.0 420.5L371.9 420.0L370.9 419.8L370.0 420.0L369.3 420.5L368.8 421.1L368.3 422.0L368.0 423.1L367.8 424.3L367.6 425.7L367.5 427.2L367.3 428.8L367.1 430.5L366.8 432.3L366.5 434.1L366.0 436.0L365.4 438.0L364.8 440.3L364.2 442.7L363.6 445.3L362.9 448.0L362.1 450.8L361.4 453.5L360.6 456.1L359.7 458.6L358.8 461.0L357.9 463.1L357.0 465.0L356.0 466.6L354.9 467.9L353.7 469.0L352.4 470.0L351.2 470.8L349.9 471.6L348.6 472.3L347.3 473.0L346.1 473.8L345.0 474.7L343.9 475.8L343.0 477.0L342.2 478.4L341.4 480.0L340.7 481.8L340.1 483.6L339.5 485.5L338.9 487.4L338.4 489.3L337.9 491.1L337.4 492.9L337.0 494.4L336.5 495.8L336.0 497.0L335.5 498.0L335.0 498.8L334.6 499.5L334.1 500.1L333.7 500.7L333.3 501.1L332.9 501.4L332.5 501.6L332.1 501.8L331.8 501.9L331.4 502.0L331.0 502.0L330.6 502.0L330.2 501.9L329.8 501.7L329.4 501.4L329.0 501.1L328.6 500.8L328.2 500.3L327.9 499.8L327.6 499.2L327.3 498.5L327.1 497.8L327.0 497.0L327.0 496.1L327.1 495.2L327.2 494.1L327.4 493.0L327.7 491.9L328.0 490.6L328.3 489.3L328.6 488.0L328.8 486.5L328.9 485.1L329.0 483.6L329.0 482.0L328.9 480.4L328.7 478.8L328.5 477.1L328.3 475.3L328.0 473.5L327.7 471.7L327.3 469.8L326.9 467.8L326.5 465.7L326.0 463.6L325.5 461.3L325.0 459.0L324.4 456.6L323.8 454.0L323.1 451.3L322.4 448.5L321.6 445.6L320.8 442.7L320.0 439.7L319.2 436.7L318.4 433.8L317.6 430.8L316.8 427.9L316.0 425.0L315.2 422.1L314.3 419.2L313.3 416.1L312.3 413.1L311.2 410.1L310.2 407.1L309.3 404.1L308.5 401.2L307.8 398.4L307.3 395.8L307.0 393.3L307.0 391.0L307.2 388.9L307.7 387.0L308.3 385.2L309.1 383.6L310.1 382.1L311.2 380.6L312.3 379.2L313.5 377.9L314.7 376.5L315.9 375.1L317.0 373.6L318.0 372.0L319.0 370.4L320.0 368.7L321.1 367.1L322.2 365.5L323.3 363.8L324.4 362.2L325.5 360.5L326.6 358.9L327.5 357.2L328.5 355.5L329.3 353.7L330.0 352.0L330.6 350.2L331.2 348.4L331.7 346.6L332.1 344.7L332.5 342.9L332.9 341.0L333.2 339.1L333.4 337.3L333.6 335.4L333.8 333.6L333.9 331.8L334.0 330.0L334.0 328.3L333.9 326.6L333.8 324.9L333.5 323.2L333.2 321.5L332.9 319.9L332.6 318.2L332.4 316.6L332.1 315.0L332.0 313.3L331.9 311.7L332.0 310.0L332.2 308.3L332.4 306.5L332.7 304.7L333.0 302.8L333.4 301.0L333.9 299.1L334.3 297.3L334.9 295.6L335.4 294.0L335.9 292.5L336.5 291.2Z" fill="#d3952b" opacity="0.11" filter="url(#bl)"/>
<g transform="scale(0.1290 0.1)" fill="none" stroke-linecap="round"><path d="M2984 2798h0m71-20h0m16-1h0m-367 52h0m38 10h0m27-11h0m93-18h0m49 13h0m4 3h0m1-12h0m68 25h0m8-4h0m1 2h0m8-9h0m18-27h0m2 14h0m4 8h0m0-5h0m20 11h0m3 4h0m26-28h0m6 17h0m24-13h0m-455 58h0m34-20h0m7 17h0m8 6h0m8-7h0m3 8h0m17-13h0m15 1h0m4 13h0m1-7h0m24-10h0m1 6h0m19 15h0m8-32h0m49 14h0m8 4h0m5-15h0m25 7h0m25 18h0m22-4h0m30-13h0m45-14h0m1 38h0m5-29h0m1 14h0m7 9h0m16-6h0m16-12h0m28 12h0m4 9h0m9 3h0m41-20h0m-518 34h0m17 3h0m13 5h0m0-17h0m26 14h0m23-16h0m3 21h0m4-2h0m3-18h0m4 24h0m8 8h0m4-13h0m9-8h0m1 17h0m5-22h0m1 27h0m54-3h0m2-3h0m3 9h0m2-15h0m17-8h0m12-3h0m2 0h0m2 7h0m2 0h0m11-16h0m3 25h0m6-4h0m11-5h0m2-7h0m0 14h0m1 1h0m7-4h0m22-23h0m4 13h0m22-3h0m1 13h0m5-8h0m3 14h0m9-9h0m14 18h0m7-14h0m25 8h0m11-18h0m7 12h0m14-20h0m21 24h0m34-20h0m20 9h0m7 1h0m1 0h0m7 5h0m3-16h0m4 27h0m5-28h0m2-2h0m22 14h0m-522 22h0m47 27h0m1-25h0m13 22h0m11-23h0m6 1h0m7-4h0m14 25h0m20 4h0m11-5h0m2 5h0m13-18h0m0 25h0m22-5h0m8-3h0m4-4h0m3-12h0m5 7h0m3 7h0m1-25h0m1 18h0m11-1h0m16-15h0m1 12h0m9 19h0m24 2h0m8-16h0m31-13h0m28-1h0m4 17h0m29-8h0m10 10h0m1-22h0m5 5h0m1-6h0m9 11h0m1 7h0m22-20h0m6 23h0m5 13h0m11-7h0m2-25h0m8 20h0m3-22h0m11 29h0m77 6h0m17-30h0m4 16h0m5 14h0m21-4h0m-612 45h0m3-32h0m17 20h0m33-14h0m4 7h0m3-17h0m2 33h0m8-26h0m41 26h0m9 3h0m4-26h0m13 14h0m6-3h0m1-2h0m12 12h0m14-28h0m11 13h0m12 7h0m3-13h0m0-2h0m12 5h0m2-10h0m12 31h0m5 2h0m23-16h0m9 14h0m3-20h0m11 6h0m6-21h0m10 24h0m13-19h0m1 20h0m8-12h0m31 20h0m36-34h0m32 4h0m2 9h0m4 23h0m24-30h0m2 24h0m2-10h0m9-20h0m26-1h0m10 27h0m2 2h0m28 2h0m3-9h0m6 12h0m58-3h0m0-29h0m11 1h0m17 25h0m-605 37h0m23 12h0m5-4h0m13-3h0m2-12h0m9-3h0m12-7h0m11 14h0m6 11h0m4 0h0m14-4h0m21-6h0m9-18h0m1 8h0m7 17h0m14-27h0m2 28h0m16 8h0m11-23h0m1 0h0m9 19h0m21-28h0m9 12h0m1-12h0m0 23h0m1-9h0m2-1h0m4-13h0m1 28h0m28-9h0m3 3h0m0-28h0m42 38h0m4-25h0m3-7h0m14-1h0m10 7h0m6-4h0m5 29h0m3-19h0m1-14h0m2 1h0m1 32h0m2-24h0m3 6h0m11 0h0m13 19h0m2-25h0m5 16h0m17 8h0m2-14h0m17 8h0m6-28h0m13 2h0m5 20h0m6 4h0m9 9h0m5-28h0m0 17h0m11 6h0m5-16h0m6 5h0m4-18h0m11 20h0m9 10h0m5-11h0m3 11h0m22-22h0m22-8h0m1-5h0m6 23h0m2-11h0m20 24h0m16 0h0m-589 7h0m56 16h0m15-2h0m4 22h0m19-31h0m1 23h0m7-28h0m13 20h0m7-13h0m28 19h0m31 1h0m0-7h0m12-9h0m17-4h0m3-8h0m5 2h0m1 4h0m4 19h0m9-22h0m47 2h0m16-5h0m12 30h0m19-18h0m3 16h0m11-29h0m20 11h0m14 20h0m3-4h0m7 0h0m5-1h0m1-21h0m28 9h0m11-13h0m7 29h0m11-7h0m3-16h0m0 0h0m0 11h0m6-18h0m23 9h0m8 14h0m4 6h0m1-30h0m25 3h0m1-3h0m0 13h0m0 1h0m1-3h0m1 5h0m8-5h0m3 5h0m7-11h0m38 30h0m4-5h0m9 2h0m5-25h0m2 30h0m15-36h0m10 34h0m-642 20h0m2 6h0m1-14h0m1-4h0m20 22h0m9 12h0m13-18h0m2-13h0m0 32h0m1-36h0m11 31h0m6-5h0m6-18h0m17 5h0m4 24h0m8-4h0m0-30h0m52 31h0m21-1h0m3-28h0m0 10h0m4 10h0m19-20h0m1-4h0m1 13h0m14-12h0m0 21h0m11 8h0m9-10h0m32 6h0m5-27h0m3 37h0m55-13h0m20-8h0m34 16h0m15-8h0m1 10h0m1-26h0m1 28h0m13-30h0m5 14h0m20 16h0m0-35h0m5 13h0m13 17h0m6-22h0m13 28h0m23-12h0m14-11h0m2-8h0m6 19h0m8-18h0m17-4h0m2 26h0m1-13h0m4 14h0m1-9h0m3 10h0m17-14h0m22-3h0m8 20h0m9-4h0m18-32h0m9 6h0m2 2h0m-681 39h0m11 23h0m1-11h0m28 18h0m15-17h0m7 16h0m4-33h0m9 5h0m73 31h0m2-7h0m3 2h0m3-9h0m9-6h0m25-7h0m4 26h0m16-28h0m1-5h0m10-5h0m5 11h0m15-1h0m27 27h0m5-4h0m12-33h0m30 36h0m9-14h0m20-6h0m20-12h0m7 18h0m7-20h0m0 29h0m10-26h0m11 22h0m0-6h0m4-14h0m2 28h0m2-29h0m1 32h0m38-29h0m2 21h0m15 6h0m9-31h0m8-3h0m37 0h0m18 2h0m3 12h0m1-5h0m2-2h0m42 17h0m0-20h0m13 18h0m45 8h0m8-2h0m16-5h0m23-3h0m-659 57h0m1-31h0m9-6h0m9 28h0m2 6h0m43-25h0m9 12h0m1-21h0m36 0h0m5 28h0m27-16h0m9 9h0m0-10h0m21 25h0m1-35h0m29 1h0m3 6h0m13 27h0m1-25h0m0 27h0m0-16h0m16 3h0m6-10h0m16 7h0m7-19h0m27 1h0m7 14h0m17 4h0m18 14h0m10-34h0m4-1h0m31 36h0m9-12h0m6 2h0m3-6h0m10-15h0m8 10h0m2-9h0m20 27h0m4-5h0m28-22h0m2-6h0m3-1h0m1 9h0m22 11h0m8-14h0m20 3h0m21 10h0m1 2h0m16 13h0m8-33h0m7 16h0m6-12h0m2 29h0m29-24h0m10 4h0m9 8h0m0-3h0m16 18h0m5-21h0m0 19h0m4-17h0m9 19h0m-671 37h0m2-24h0m8 0h0m12 28h0m17-34h0m9 3h0m15 25h0m4-27h0m6 8h0m10-2h0m1 16h0m4-8h0m17-18h0m1 1h0m14 19h0m20-21h0m23 13h0m1 4h0m10 6h0m7 11h0m45-18h0m55-3h0m7 5h0m17 18h0m5-26h0m3-8h0m12-3h0m4 15h0m20-6h0m1-3h0m6 7h0m22 15h0m7-10h0m10 11h0m5-12h0m17 7h0m6 6h0m3 3h0m2-30h0m1 26h0m9-8h0m1 11h0m5-26h0m14 31h0m34-36h0m24 37h0m13-16h0m40-12h0m17-1h0m5-7h0m2 37h0m14-19h0m12 3h0m0-20h0m8 12h0m3-13h0m5 7h0m12 12h0m5-19h0m6 13h0m5 3h0m1 5h0m3-10h0m11 1h0m6 18h0m14 2h0m-689 10h0m7 8h0m21 24h0m2-8h0m16-8h0m15-4h0m13 3h0m1-8h0m9 28h0m5-38h0m9 35h0m6-18h0m12 2h0m22-1h0m5 12h0m1 7h0m1-37h0m3 27h0m20 8h0m11-23h0m10 26h0m2-39h0m6 4h0m5 24h0m7-10h0m16 2h0m1-17h0m0 16h0m37 20h0m8-11h0m4 1h0m1-27h0m6-1h0m1 13h0m10 7h0m20 18h0m4-27h0m7 20h0m4-19h0m5 18h0m8-31h0m4 38h0m1-26h0m25 12h0m21-9h0m1-6h0m13-3h0m3 8h0m8 24h0m3-22h0m34 23h0m12-2h0m11-2h0m8-19h0m10-3h0m6 12h0m6 5h0m11-11h0m2-6h0m15 16h0m3-9h0m47 18h0m28-12h0m20-2h0m1 13h0m17-8h0m6-25h0m1-1h0m14-2h0m3 30h0m1-3h0m1-6h0m0 2h0m15-21h0m-704 56h0m24 19h0m12-18h0m0 8h0m20-24h0m30 11h0m1 5h0m4 11h0m9 8h0m0-34h0m1 18h0m3-11h0m12 16h0m17-22h0m24 33h0m7-1h0m17-2h0m2-9h0m16-17h0m0 18h0m1-23h0m31 20h0m7-14h0m11 0h0m1-2h0m38 24h0m19-19h0m2 12h0m10-10h0m14 1h0m30-2h0m21 16h0m7-12h0m65 6h0m30 13h0m13-17h0m15 7h0m2-17h0m1 10h0m1 8h0m3-26h0m7 0h0m19 19h0m3-1h0m14-8h0m7-13h0m3 11h0m3 18h0m22-5h0m7-15h0m5 18h0m12-16h0m6 1h0m0 1h0m5 22h0m1-35h0m17 2h0m25 22h0m8-20h0m1-4h0m39 38h0m-744 39h0m23-22h0m14-11h0m19 24h0m8-12h0m14-16h0m24 18h0m2 16h0m2-24h0m2-1h0m11 13h0m4-21h0m12 35h0m13-29h0m12 19h0m5-3h0m9-18h0m7 30h0m23-6h0m1-3h0m6 8h0m6-5h0m20-13h0m1 13h0m16-27h0m1 12h0m12 22h0m15-2h0m31-17h0m4-17h0m26 2h0m2 20h0m26-5h0m2-13h0m1 21h0m13 2h0m19-16h0m2-6h0m1 30h0m9 3h0m13-9h0m59-6h0m53-19h0m53 24h0m50 4h0m18-2h0m13-5h0m14-4h0m20-13h0m10 24h0m3 2h0m-669 25h0m2 5h0m7-18h0m37 18h0m3 15h0m7-2h0m20-12h0m10 7h0m2-17h0m5-8h0m2 14h0m7-10h0m2 8h0m2-14h0m22 13h0m6 7h0m14-19h0m21 4h0m20-3h0m1 14h0m24 10h0m5-10h0m4 9h0m25-11h0m14-15h0m13 5h0m20 5h0m3-10h0m2 0h0m6 3h0m25 14h0m7-9h0m5-11h0m28 14h0m11 4h0m1 19h0m1-24h0m20-7h0m0 8h0m18 14h0m10 7h0m15-24h0m19 19h0m14-30h0m18 6h0m23 25h0m32-32h0m2 1h0m0 35h0m7-16h0m6-16h0m6 33h0m18-20h0m10 18h0m2-32h0m22 27h0m7 1h0m14-3h0m7-9h0m0 19h0m5-2h0m1-17h0m14-2h0m7-10h0m1 15h0m6 14h0m-736 38h0m1-7h0m10-11h0m10-1h0m8-14h0m8 21h0m1-5h0m10 17h0m10 0h0m14 5h0m20-22h0m3 6h0m0-5h0m14-11h0m7 19h0m1 7h0m2 1h0m5-10h0m24-23h0m4 18h0m1-2h0m14-3h0m5-12h0m21 21h0m9 13h0m28 3h0m4 0h0m0-20h0m24-2h0m6-15h0m21 4h0m9 3h0m1 4h0m6-11h0m4 29h0m2-27h0m2-4h0m19 0h0m15 29h0m38-24h0m13 12h0m1 5h0m0 12h0m9-7h0m24-18h0m6 10h0m2 14h0m3-23h0m10 23h0m7-10h0m25-23h0m22 18h0m2-2h0m15 0h0m4 5h0m7-15h0m10 4h0m14 23h0m26-24h0m5 28h0m25-28h0m66 8h0m8-17h0m0 22h0m10 0h0m44 16h0m24 1h0m-761 8h0m20-2h0m11 5h0m4 14h0m6 11h0m0-12h0m5-5h0m3 10h0m8 7h0m1-28h0m16-2h0m26 29h0m46 0h0m4-7h0m10 1h0m11 11h0m5-11h0m14-24h0m17 6h0m9 10h0m22-10h0m16-4h0m0 11h0m7-2h0m6-6h0m12 1h0m3 29h0m1-35h0m24 4h0m27 0h0m7 13h0m14 12h0m7-25h0m3 18h0m8 13h0m15-6h0m9-10h0m2 14h0m10-35h0m3 18h0m15 3h0m16-23h0m3 18h0m66 0h0m21-14h0m25-4h0m35 30h0m42-20h0m18-7h0m4 27h0m13-20h0m16 24h0m31 5h0m1 0h0m2-1h0m1-27h0m22 20h0m-733 26h0m3-12h0m41 6h0m2 22h0m7 4h0m25-13h0m1-16h0m1 18h0m4-4h0m4-2h0m4 2h0m31 4h0m15-20h0m31-5h0m2 21h0m4-1h0m6 17h0m22-20h0m9 16h0m6 2h0m17-29h0m10 16h0m14 4h0m27-20h0m10 2h0m0 19h0m8-12h0m13-12h0m8 17h0m1 5h0m18-20h0m14 18h0m1 13h0m19-32h0m4 8h0m0 24h0m20-21h0m7 10h0m9 8h0m6-10h0m25 8h0m1-15h0m45 14h0m5-16h0m4 0h0m4 24h0m11-2h0m10-20h0m15 11h0m6-19h0m22 25h0m2-4h0m18-3h0m28-25h0m11 28h0m4-24h0m12-2h0m0 12h0m8-14h0m2 23h0m14-15h0m2 5h0m7-8h0m2-4h0m3 32h0m1-2h0m0-25h0m19-3h0m6 8h0m3 16h0m1-19h0m2-4h0m11-6h0m9 7h0m19 25h0m3-8h0m-790 54h0m62-26h0m14 27h0m9-19h0m4 17h0m6-25h0m21 16h0m2 4h0m3-26h0m19 17h0m12 5h0m18-17h0m1 5h0m7 20h0m18-31h0m10 0h0m1 26h0m4-28h0m8 7h0m0-3h0m14 23h0m7-9h0m9 10h0m23-30h0m19 29h0m4-30h0m8 29h0m7 1h0m10-24h0m2 7h0m12-12h0m14 21h0m5-11h0m17 2h0m1 4h0m4-1h0m2 4h0m1-2h0m6-5h0m47 1h0m4-12h0m7 32h0m10-17h0m5-6h0m3 19h0m10 1h0m1-7h0m10 8h0m0-7h0m2 7h0m9-6h0m9-22h0m32 17h0m5-14h0m7-3h0m20 0h0m10 20h0m6 8h0m29 1h0m33 4h0m2-2h0m10-33h0m7 31h0m34-1h0m11-3h0m11-18h0m9 19h0m22-8h0m5-1h0m6-11h0m0 11h0m9 7h0m0-24h0m27 16h0m-824 48h0m4-7h0m23 10h0m1-30h0m0 27h0m6-18h0m5 26h0m20-4h0m1 4h0m9-22h0m3 4h0m21-18h0m1 6h0m10 8h0m2-5h0m2-5h0m30 0h0m9 17h0m17-9h0m2 13h0m3-12h0m13-12h0m20 2h0m17 22h0m17-13h0m16 6h0m26 21h0m16-37h0m4 29h0m0-20h0m2-3h0m13-7h0m31 20h0m9 11h0m16 4h0m10-35h0m9 37h0m4-12h0m9-1h0m8 3h0m29 8h0m1-21h0m1 10h0m7-1h0m23 6h0m12 7h0m3-35h0m2 33h0m8-9h0m4 12h0m31-20h0m12 9h0m2-9h0m32 18h0m1-26h0m4 2h0m8 9h0m3-4h0m15 5h0m5 13h0m5 3h0m8-24h0m17 4h0m34-4h0m4 13h0m18-18h0m24 27h0m4-25h0m12 17h0m4-19h0m14 18h0m23-27h0m9 14h0m12 14h0m2 8h0m0-35h0m1 1h0m-821 47h0m34 30h0m4-33h0m8 11h0m12-1h0m1-7h0m15 4h0m4-2h0m0 19h0m4-10h0m9-6h0m18 25h0m8-30h0m9-9h0m5 4h0m58 16h0m9 4h0m11 8h0m1-12h0m21-9h0m41 9h0m14 19h0m9-19h0m3-15h0m16-1h0m2 33h0m2 0h0m3-9h0m19-7h0m1 15h0m6-21h0m4-13h0m8-2h0m3 9h0m1 20h0m29 5h0m6-31h0m17 31h0m6-5h0m2 2h0m8-23h0m4 1h0m7 19h0m1 2h0m13-30h0m2 24h0m1 8h0m3 2h0m7-31h0m0 7h0m28 29h0m10-12h0m12-18h0m24 3h0m13-7h0m7 0h0m3 34h0m10-4h0m8-1h0m11 2h0m15-9h0m14-8h0m22 18h0m6-12h0m2 7h0m5-17h0m5-12h0m4 26h0m10-14h0m25 3h0m8-7h0m2 2h0m18-2h0m7 24h0m0-21h0m5 20h0m3-16h0m4 14h0m0-32h0m5 20h0m0-5h0m26-10h0m9-2h0m1 34h0m19-8h0m-817 17h0m0 23h0m17 1h0m7 0h0m8 3h0m10-7h0m8-23h0m11 19h0m4 7h0m17-23h0m10 25h0m1-12h0m2 16h0m23-7h0m32 7h0m1-11h0m7-1h0m6 15h0m5-12h0m3 13h0m11-36h0m9 14h0m3-7h0m1-4h0m1-3h0m7 3h0m5 6h0m7 24h0m26-11h0m4 1h0m11-23h0m32 27h0m2-9h0m10-1h0m3 14h0m9-10h0m4-20h0m2 19h0m10-10h0m3 20h0m3-5h0m14-27h0m0 21h0m3 17h0m5-21h0m46-16h0m7 19h0m2 11h0m7-32h0m1 25h0m1-23h0m11 15h0m17 9h0m3-18h0m18 9h0m4 14h0m10-20h0m10-7h0m4 4h0m2 14h0m1 14h0m16-35h0m0 3h0m25 15h0m5-5h0m7-2h0m6 14h0m16-2h0m9 5h0m26 9h0m17-35h0m7 16h0m11-12h0m9 4h0m1 19h0m14-15h0m3 9h0m4 15h0m14-38h0m1 12h0m14-4h0m6-5h0m7 29h0m1-29h0m6 17h0m11-16h0m12 22h0m15-17h0m2 15h0m3 11h0m12-4h0m0-26h0m2 6h0m14 22h0m5-33h0m12 21h0m7 12h0m11-7h0m1-11h0m4 20h0m10-36h0m-847 61h0m13 11h0m3-3h0m1-28h0m16 34h0m5-3h0m7-27h0m0-4h0m3 24h0m0 2h0m16-15h0m9 9h0m5-2h0m1-15h0m10 5h0m7 29h0m5-12h0m15-5h0m3-9h0m9-12h0m13 17h0m5-16h0m9 6h0m5 8h0m24-12h0m15 14h0m6 20h0m17-34h0m2 8h0m1 25h0m7-14h0m30 16h0m7-16h0m26 8h0m9-18h0m2 25h0m0-26h0m1 16h0m10 6h0m2-33h0m6 4h0m2 23h0m2 5h0m14-4h0m5 7h0m4-21h0m6-7h0m14 13h0m12-2h0m2 17h0m22-8h0m44 4h0m7 2h0m9-19h0m23 5h0m6 10h0m22-9h0m1 3h0m4-13h0m14 27h0m9-24h0m2 8h0m12 1h0m13 2h0m2-15h0m6 11h0m20-1h0m31-19h0m5 19h0m18 3h0m5 7h0m5-2h0m21-10h0m23 1h0m7-13h0m1 0h0m13 30h0m1-3h0m8-2h0m1-12h0m4-11h0m2-4h0m4 17h0m11 8h0m5-26h0m0 5h0m10 1h0m0 17h0m1-11h0m3-14h0m1 31h0m7 3h0m43-11h0m7-4h0m5 7h0m12-20h0m-908 56h0m1 9h0m26 4h0m9-25h0m21 25h0m22-11h0m3-3h0m4 2h0m17-7h0m35-9h0m6 9h0m17-16h0m3 0h0m1 6h0m4 15h0m1 14h0m30-26h0m2 30h0m2-10h0m8 2h0m4-27h0m9 4h0m5 19h0m12 4h0m5-4h0m23 12h0m3-1h0m7-7h0m1-14h0m8-10h0m11 9h0m5-10h0m10 23h0m11-3h0m8-2h0m29 9h0m23 4h0m24-3h0m5-17h0m1 18h0m4-20h0m15 9h0m8-10h0m28 12h0m2-6h0m3 2h0m10 7h0m8-6h0m15-13h0m1 21h0m12-22h0m5 17h0m6 1h0m4-7h0m6 10h0m28-7h0m1-5h0m8-17h0m20 6h0m20 5h0m6-2h0m32 17h0m6 10h0m9-16h0m6 5h0m10-23h0m2 2h0m19 30h0m16-25h0m15-7h0m7 18h0m2 15h0m18 0h0m8-27h0m42 28h0m3-35h0m1 14h0m4 21h0m12-21h0m5-3h0m11 11h0m5 1h0m2 11h0m19-35h0m-885 59h0m18 6h0m4-1h0m13 9h0m21-1h0m2 0h0m8-10h0m40-16h0m19 2h0m34 26h0m21-2h0m3-12h0m23 14h0m2-24h0m19 6h0m3-17h0m2 22h0m12-10h0m1 14h0m13 1h0m1-6h0m0-12h0m8 21h0m4-28h0m1 29h0m2-30h0m13 30h0m8 5h0m6 1h0m3-6h0m5-21h0m0-10h0m31 21h0m21-9h0m9-12h0m43 6h0m4-1h0m3 4h0m1 23h0m7-27h0m3 10h0m14 23h0m0-37h0m19 35h0m81-19h0m6 0h0m3 15h0m24-19h0m13 2h0m8 10h0m21-9h0m23-10h0m6-3h0m2 15h0m11 3h0m1-10h0m1-2h0m25 19h0m1-7h0m30-17h0m18 26h0m10-8h0m10-2h0m4-7h0m3 13h0m13 3h0m6 0h0m32 5h0m37-32h0m25 6h0m2 6h0m2 20h0m13-7h0m4 5h0m8 7h0m5-22h0m8-1h0m-963 62h0m60-31h0m1 20h0m0 7h0m10-31h0m8 10h0m3 21h0m32-33h0m14 3h0m4 32h0m22-23h0m1-3h0m10 1h0m1 16h0m10-11h0m1 5h0m1-11h0m2 29h0m2-10h0m74-20h0m8 26h0m10-26h0m12 11h0m9 5h0m1-2h0m4-4h0m1 8h0m2-21h0m4 11h0m11 16h0m1 0h0m7-9h0m22 9h0m10-13h0m1 16h0m16-4h0m2-10h0m0-21h0m7 17h0m19-11h0m31 18h0m13-15h0m1 4h0m20-9h0m3 10h0m14-14h0m34 9h0m2 18h0m13-17h0m33 7h0m22 11h0m4-25h0m10 16h0m0 16h0m13-22h0m4-12h0m27 7h0m6 5h0m5 11h0m14 6h0m22-12h0m11 13h0m9-23h0m4 27h0m19 0h0m5-29h0m18 1h0m5 26h0m6-26h0m9-2h0m5-3h0m7 22h0m4-13h0m37 21h0m36-3h0m2-1h0m6 4h0m14-21h0m1 12h0m19-10h0m15 6h0m17 5h0m15-12h0m-964 36h0m50 28h0m1-30h0m6 4h0m3-5h0m11 25h0m25 8h0m5-30h0m1 1h0m1 5h0m1-1h0m8 10h0m1 13h0m3-32h0m1 23h0m5-9h0m0 7h0m9 10h0m21-23h0m31-6h0m3-3h0m3 19h0m13 3h0m34-13h0m12 1h0m5-13h0m14 34h0m1-16h0m60-4h0m2 22h0m2-17h0m7-8h0m20-4h0m12 21h0m18-18h0m12-3h0m14 16h0m1-4h0m7 1h0m11 2h0m27 7h0m6-17h0m25-4h0m14 2h0m8 20h0m30-6h0m17 12h0m3 1h0m3-30h0m1 4h0m11 4h0m17-16h0m9 24h0m17 10h0m4-16h0m14 17h0m5-35h0m8 29h0m17-6h0m6-4h0m7 9h0m17-9h0m1 8h0m3-21h0m2 7h0m30 16h0m15 4h0m8-20h0m11 4h0m9-17h0m0 30h0m22 2h0m13-22h0m1 24h0m15-27h0m17-1h0m13 3h0m9 14h0m2-15h0m23 6h0m7 18h0m15-13h0m8-11h0m40 11h0m4-7h0m7 23h0m-980 20h0m8 15h0m34-3h0m9-26h0m6 21h0m40 0h0m65-1h0m24-12h0m16-9h0m7 20h0m4 0h0m11-14h0m11 30h0m3-27h0m7 22h0m5-24h0m43 26h0m13-15h0m11-3h0m13 17h0m1-20h0m25 5h0m7-3h0m6-12h0m40 1h0m15 17h0m1-1h0m30 15h0m6-21h0m3-7h0m6 11h0m8 4h0m11 18h0m2-26h0m6 3h0m10-14h0m3 8h0m8 24h0m32-20h0m12 12h0m6 9h0m0-35h0m0 5h0m3 25h0m20-27h0m3 28h0m3-12h0m1 10h0m19-5h0m2-24h0m0 26h0m22 1h0m4-20h0m1 12h0m17-6h0m12 2h0m15 20h0m14 1h0m5-19h0m4 22h0m7-39h0m5 7h0m55 28h0m3-26h0m14 4h0m4 8h0m5 7h0m22-27h0m24 25h0m1-18h0m8 29h0m12-30h0m19 9h0m0-10h0m13 8h0m4-13h0m22 0h0m32 36h0m10-35h0m-949 72h0m1-13h0m13 7h0m0 4h0m8-16h0m8 5h0m5 15h0m9-31h0m24 18h0m24 9h0m2-21h0m20 12h0m42 7h0m19-11h0m1-5h0m2 24h0m7 1h0m6-11h0m9 3h0m0-2h0m1 1h0m43-23h0m2 20h0m0 7h0m16-33h0m18 29h0m44-27h0m22 9h0m5 24h0m7-22h0m17-2h0m2 9h0m8 17h0m3-2h0m5 0h0m12 0h0m8-34h0m7 22h0m19 2h0m5 12h0m23-28h0m6 26h0m4-15h0m5-4h0m11-15h0m27 0h0m0-2h0m8 34h0m5-18h0m4 13h0m8-28h0m14 30h0m17-6h0m12-2h0m0-11h0m7 18h0m27-20h0m12-1h0m1 19h0m4-2h0m12-11h0m40 0h0m16 10h0m5 2h0m3-9h0m34 17h0m5-10h0m13 9h0m20-18h0m12 17h0m2-24h0m18 29h0m0-18h0m5-9h0m6 23h0m20-11h0m7 1h0m5 11h0m6-35h0m4 11h0m4-6h0m6 27h0m4 4h0m17-8h0m24-11h0m10-13h0m5 1h0m-944 60h0m7-2h0m0 14h0m2-19h0m1 11h0m18-14h0m0-12h0m10 17h0m3-12h0m9 16h0m48-11h0m10-4h0m2 25h0m3-31h0m40 31h0m13-11h0m15-9h0m4 6h0m14 13h0m12-30h0m3 26h0m3-18h0m5 0h0m6 8h0m0 1h0m9 18h0m8-37h0m15 1h0m9 8h0m28-2h0m8-6h0m3 8h0m19-9h0m3 17h0m14 13h0m8 5h0m21-2h0m12-8h0m4 12h0m22-21h0m3-6h0m18 8h0m2-11h0m18 16h0m24-3h0m24 7h0m26-26h0m12 15h0m25 20h0m9-35h0m2 20h0m32-17h0m2 22h0m3-3h0m32-2h0m12-8h0m16-11h0m23 27h0m16-3h0m0-21h0m12 28h0m15-4h0m15-14h0m8-16h0m5 4h0m23 9h0m1 10h0m3-10h0m15-11h0m1 0h0m1 15h0m11-1h0m17 3h0m0 3h0m12 0h0m5-6h0m19 9h0m8-4h0m7 10h0m24-6h0m9-21h0m19 28h0m-936 12h0m14 18h0m7 3h0m11-12h0m2 20h0m4-32h0m9 23h0m3-15h0m9 24h0m1-23h0m17 18h0m9-27h0m8 22h0m22-18h0m19 27h0m6-27h0m6 5h0m11 3h0m2-12h0m9 23h0m28-19h0m7 33h0m11-23h0m1-13h0m10 22h0m4-16h0m16 22h0m2-1h0m23-23h0m1 22h0m31-27h0m8 30h0m21 0h0m2-18h0m27 9h0m27-17h0m4 24h0m9-1h0m37-19h0m7-6h0m2 33h0m7-2h0m4-2h0m5 3h0m16-26h0m22 0h0m2 14h0m5-16h0m1 32h0m2-25h0m7 16h0m7-8h0m18-14h0m12 12h0m3-13h0m7 5h0m3 26h0m10-24h0m23 9h0m1-12h0m2-10h0m3 38h0m26-39h0m5 32h0m16-12h0m3 16h0m1-25h0m4 10h0m5 11h0m4-18h0m9 16h0m7-6h0m0 11h0m5-10h0m1-7h0m7 21h0m22-2h0m22-14h0m4 10h0m14-15h0m58-3h0m2 16h0m1-12h0m95 13h0m2-3h0m5 4h0m4 1h0m2-8h0m-927 23h0m4-4h0m35-5h0m8 27h0m5-4h0m1-23h0m0 17h0m8-6h0m8 12h0m40-17h0m20 21h0m38 5h0m4 4h0m12-6h0m1 0h0m20-4h0m29 6h0m1-21h0m12 7h0m0 12h0m1-8h0m3 7h0m5-17h0m0 21h0m13-29h0m5 35h0m8-37h0m17 21h0m13 13h0m4 0h0m28-31h0m15 31h0m36-10h0m14-12h0m16 6h0m2-3h0m2-12h0m6 20h0m14-18h0m13 0h0m16 17h0m2-13h0m5 11h0m3-19h0m3 26h0m0-26h0m4-2h0m3 21h0m7 4h0m17 2h0m9 2h0m7 6h0m0-4h0m6-18h0m0 18h0m25-28h0m3-1h0m22 12h0m23 1h0m1-11h0m23 10h0m12-2h0m2-4h0m15 12h0m22 0h0m10 11h0m33-20h0m7 8h0m21 11h0m2-4h0m3-24h0m16 12h0m1 1h0m4 22h0m4-25h0m5 0h0m2 10h0m0-18h0m4 12h0m36 13h0m5 6h0m4-22h0m3-14h0m1 16h0m16 11h0m1-6h0m3-17h0m5-1h0m8 26h0m6-4h0m14 4h0m9-22h0m-893 35h0m21 5h0m35 4h0m12 13h0m17 8h0m5-23h0m1 15h0m7-13h0m31-11h0m4 22h0m1 8h0m1-29h0m0 6h0m12 29h0m4-10h0m16 8h0m0-5h0m7-14h0m6 18h0m6-24h0m8 23h0m3-25h0m35 1h0m21 9h0m33 17h0m1-4h0m16 9h0m4-7h0m16-29h0m4 10h0m5 5h0m14-8h0m4 0h0m7-2h0m31 9h0m2-17h0m33 26h0m3 6h0m5-26h0m25 33h0m44-39h0m11 31h0m17-9h0m2-9h0m19 10h0m0-16h0m0-4h0m3 7h0m20-9h0m19 19h0m4 1h0m39-3h0m12 10h0m4-28h0m13 23h0m14-4h0m16-15h0m4 10h0m5-1h0m2 18h0m6-28h0m18 12h0m5 5h0m2 17h0m2 2h0m1-38h0m20 16h0m1 19h0m5-21h0m8 8h0m14-12h0m12 9h0m12-19h0m3 2h0m16 26h0m13-17h0m13 7h0m26-9h0m3-1h0m5 29h0m2-27h0m5-8h0m-900 55h0m21 0h0m14 11h0m1 10h0m3-37h0m4 29h0m1-24h0m1-4h0m2 23h0m9 10h0m3-8h0m0 4h0m2-23h0m10 7h0m9 12h0m7-16h0m3 15h0m3 4h0m7-26h0m12 25h0m3-4h0m9 7h0m4-19h0m7-10h0m1-2h0m2 11h0m2-12h0m2 33h0m4-1h0m30-10h0m0 9h0m15-10h0m0-16h0m5-1h0m2 4h0m2 23h0m1-29h0m3 7h0m13 29h0m17-38h0m7 2h0m3 15h0m17 17h0m2-31h0m4 7h0m6 6h0m7 15h0m9-18h0m2 7h0m13-3h0m6 9h0m3-24h0m26 18h0m0 10h0m9-20h0m13-5h0m0 33h0m17-28h0m1 14h0m1 5h0m0-9h0m2-7h0m2-14h0m6 0h0m16 11h0m6 1h0m2-7h0m2 31h0m0-35h0m3 6h0m25-2h0m9 22h0m10-26h0m17 28h0m1 2h0m1-1h0m3-1h0m2-25h0m7 14h0m1 8h0m0-20h0m28 14h0m25 6h0m12 9h0m0-10h0m7-18h0m5 8h0m24 24h0m1-36h0m7 17h0m5 18h0m6-22h0m14-10h0m17-1h0m4 10h0m8-6h0m7 1h0m9-6h0m8 13h0m14 3h0m16 6h0m11-5h0m9 6h0m5-27h0m1 30h0m7-9h0m1 0h0m11-11h0m15 15h0m0 0h0m12-11h0m3-8h0m12-5h0m2 18h0m10 16h0m4-30h0m17 15h0m6 0h0m4 14h0m16 1h0m14-5h0m12-29h0m1 29h0m2-11h0m11-14h0m-896 70h0m19-21h0m4 7h0m3-2h0m3-14h0m38 6h0m38 25h0m15-35h0m3-1h0m6 23h0m0 1h0m3-22h0m19 1h0m2 32h0m19-26h0m28 16h0m10 3h0m2-2h0m0-11h0m0 2h0m2-14h0m7 2h0m2 34h0m1-39h0m3 27h0m12 4h0m3-27h0m5 12h0m25 10h0m12 0h0m9-20h0m3-4h0m24 9h0m6 6h0m16-3h0m7 10h0m1 1h0m27-12h0m2 7h0m4-15h0m15 6h0m19-9h0m19 18h0m8-18h0m7 13h0m38 2h0m6-9h0m7 13h0m9 2h0m1 14h0m15-28h0m5 24h0m10-28h0m0 18h0m3-16h0m6 15h0m3-6h0m4 2h0m2-14h0m9 28h0m13-3h0m33-4h0m38 0h0m7-10h0m5-10h0m7 24h0m12-15h0m12 7h0m7-13h0m5 26h0m37-12h0m7-5h0m10-10h0m23-1h0m2 30h0m9-27h0m3 6h0m13-4h0m12 28h0m35-37h0m-839 71h0m1-3h0m1-15h0m3 2h0m7-15h0m31 5h0m4 12h0m12-15h0m11-1h0m5 13h0m28 23h0m23-6h0m4-21h0m1 4h0m26 15h0m9-12h0m1-3h0m23 1h0m5 4h0m9-3h0m0 6h0m9-20h0m10 11h0m24-14h0m0 0h0m2 11h0m13 27h0m1-6h0m14-20h0m6-4h0m2-5h0m4 12h0m19 19h0m6-19h0m8-6h0m3 12h0m1-3h0m17-8h0m16 12h0m5 11h0m72-28h0m21 4h0m10 2h0m6 8h0m6-18h0m18 29h0m16-27h0m10 28h0m25 2h0m0-14h0m2 16h0m5-13h0m11 9h0m8-30h0m2 24h0m0 9h0m4 3h0m15-37h0m9 37h0m4-11h0m2 2h0m10-29h0m4 2h0m14 26h0m10-22h0m3 1h0m2 17h0m7 1h0m0 13h0m1-2h0m4-22h0m6-11h0m2 23h0m9 8h0m10-27h0m0 16h0m7-11h0m17 25h0m20-27h0m2 12h0m10-12h0m19 16h0m3 0h0m0-10h0m2 4h0m13-17h0m3 11h0m33-4h0m21 22h0m26 4h0m-853 7h0m20 5h0m34 10h0m4 5h0m2 14h0m2-25h0m13 23h0m8-29h0m7 32h0m18-4h0m13-10h0m6-21h0m4 11h0m3 20h0m5-7h0m7-10h0m25-17h0m42 14h0m3-5h0m3-8h0m18 28h0m1 5h0m0-25h0m6 26h0m2-13h0m0 5h0m2-22h0m46 33h0m24-8h0m7-9h0m16-12h0m1 15h0m20-13h0m7 13h0m118-5h0m5 4h0m1-5h0m10-13h0m5 12h0m5-7h0m15 24h0m2-29h0m3 15h0m3 19h0m21-20h0m12 1h0m4 0h0m8-2h0m10 2h0m4-14h0m1 26h0m7-32h0m7 3h0m13 27h0m1-2h0m1-21h0m23 16h0m3 14h0m17-21h0m4-2h0m15 14h0m20-23h0m3 31h0m4-31h0m0 9h0m4-6h0m2 20h0m1-26h0m11-2h0m24 30h0m43-13h0m-801 23h0m18 12h0m0 15h0m25-4h0m4-20h0m5 23h0m4-17h0m26-2h0m1 10h0m18-8h0m8 2h0m13-10h0m12 29h0m23-5h0m14-19h0m11-3h0m7 14h0m2 22h0m18-20h0m2 4h0m15 7h0m8-9h0m2-15h0m6 18h0m2 8h0m6-24h0m16 29h0m10-9h0m10 9h0m22-30h0m14-5h0m6 35h0m1-30h0m3 20h0m4 3h0m15-19h0m2-10h0m37 14h0m162 2h0m12-13h0m4 5h0m15 13h0m4-11h0m7-5h0m9 33h0m19-36h0m8 15h0m27-14h0m12 2h0m27-6h0m2 25h0m-671 32h0m8 19h0m9-22h0m1 20h0m18 1h0m15-5h0m1-2h0m17-14h0m7-6h0m2 31h0m3-6h0m17-10h0m0 4h0m1 12h0m1-4h0m13-7h0m7-24h0m9 8h0m1 19h0m9 7h0m17-18h0m27 19h0m1-25h0m2 0h0m2 2h0m0 2h0m0-1h0m4-10h0m6 28h0m3-12h0m2-6h0m6 5h0m51 8h0m30-3h0m2 10h0m15-29h0m31 25h0m5 1h0m25-31h0m-371 66h0m10-26h0m33 28h0m10-11h0m0-1h0m12-19h0m2 25h0m9-19h0m13 22h0m0 2h0m2-19h0m3 15h0m2-22h0m8 33h0m9-31h0m20 0h0m4 19h0m18-25h0m0 22h0m26 17h0m8-19h0m4-20h0m1 18h0m21-12h0m31-4h0m9 23h0m6-24h0m5 35h0m11-7h0m5-6h0m0-17h0m24 16h0m1 16h0m14-16h0m19 7h0m-342 28h0m2-14h0m2 29h0m13-26h0m2 16h0m1-19h0m4 26h0m6 6h0m30-31h0m1 30h0m5 1h0m18-18h0m2-4h0m3-11h0m6 22h0m8 13h0m3-23h0m6 25h0m9-25h0m5 24h0m1-35h0m5 8h0m13 3h0m27 12h0m7 9h0m0-17h0m11 3h0m6-9h0m1 19h0m26-16h0m4 7h0m26-5h0m4 8h0m27-3h0m3-19h0m19 16h0m18 7h0m25-17h0m-349 68h0m44-3h0m13 2h0m6-18h0m0-10h0m3 13h0m24-6h0m1-1h0m11 1h0m2 11h0m1-19h0m16 7h0m19 9h0m16-23h0m2 19h0m21-14h0m1 22h0m26-11h0m1-5h0m11 19h0m28-17h0m19 24h0m32-10h0m25-7h0m-314 29h0m3-1h0m22 13h0m3 12h0m21-27h0m19 27h0m5-24h0m6 14h0m19-1h0m5 7h0m7-13h0m7 11h0m15-9h0m2-15h0m1 11h0m0-11h0m10 22h0m15-16h0m4 26h0m8 4h0m2-23h0m1 2h0m3 20h0m8-37h0m25 13h0m16 15h0m8-3h0m13-24h0m13 17h0m11 16h0m9-11h0m10 3h0m-285 37h0m26-11h0m5 9h0m5-22h0m1 24h0m4 8h0m6 4h0m1-5h0m4-17h0m2 17h0m9-5h0m5-11h0m8 1h0m6 2h0m10 14h0m23-13h0m7-18h0m3 1h0m28 9h0m20 11h0m23 9h0m23-26h0m9 22h0m6-8h0m13-9h0m11 6h0m1-7h0m2 18h0m10-8h0m13 15h0m8-12h0m4 14h0m20-35h0m-298 44h0m2 2h0m1 26h0m2 6h0m13-16h0m10-8h0m9 22h0m2-17h0m3-16h0m14 2h0m3 32h0m27-1h0m39-20h0m1 5h0m2 17h0m10 0h0m16-22h0m21-10h0m9 1h0m3 28h0m20-12h0m12-17h0m1 29h0m14-3h0m7-28h0m13 30h0m6 1h0m1-22h0m1 11h0m-254 25h0m9 21h0m17-10h0m7-6h0m7-1h0m13 23h0m16-16h0m9 2h0m2-6h0m2-13h0m19-2h0m36 12h0m5-1h0m4 9h0m12-8h0m3 6h0m5 13h0m1-30h0m23 15h0m14 0h0m17 13h0m3-14h0m2 6h0m34-15h0m-257 55h0m3-10h0m7 3h0m8 18h0m8-34h0m20 11h0m5 20h0m45-22h0m10 15h0m6-5h0m30-5h0m10 23h0m6 0h0m51-21h0m7-13h0m-207 44h0m30 12h0m28-9h0m2 29h0m0-16h0m24-5h0m40 17h0m26-22h0m39-10h0m38 14h0m-215 33h0m20 13h0m1 6h0m6-12h0m18 13h0m4 7h0m20-24h0m10 13h0m26-6h0m5 9h0m-104 22h0m5 13h0m3-7h0m4-10h0m11-3h0m3 28h0m2 4h0m17-32h0m5 10h0m7-3h0m8 3h0m20-7h0m-74 36h0m0 1h0m1-1h0m19 15h0m14 7h0m6 14h0m8-1h0m8-29h0m-69 48h0m7-16h0m20 23h0m3-17h0m27 7h0m17 24h0m-98 40h0m12 1h0m53-28h0m11 13h0m10-6h0m-58 37h0m1 14h0m28-1h0m5-21h0m12-4h0m7 8h0m-46 51h0m9-5h0m8 13h0m6-18h0m2 13h0m4-10h0m6 15h0m-24 17h0m8 11h0m10 0h0m-43 23h0" stroke="#d3952b" stroke-width="16"/></g>
<g transform="scale(0.1290 0.1)" fill="none" stroke-linecap="round"><path d="M2640 3515h0m35-9h0m30 13h0m4-4h0m2-17h0m11 10h0m5 9h0m57-12h0m-210 40h0m7 9h0m2-32h0m29 2h0m9 17h0m1 11h0m1-7h0m6-14h0m8 25h0m6-11h0m7-1h0m2-11h0m5-11h0m8 9h0m5 0h0m9 22h0m3-11h0m0 4h0m5-2h0m3-12h0m5-10h0m15 16h0m5 6h0m4 15h0m6-11h0m0-22h0m18 24h0m13-19h0m3 17h0m8-23h0m25 16h0m6 10h0m2-13h0m1-4h0m9-2h0m0-10h0m6 24h0m-277 23h0m34 24h0m1 6h0m10-25h0m8 24h0m6-21h0m24 5h0m11-5h0m7-13h0m34 18h0m28 0h0m15 5h0m28 3h0m6-23h0m10 11h0m6-2h0m4 4h0m1 5h0m4-9h0m20 1h0m1-4h0m15 26h0m8-18h0m12 0h0m-307 27h0m13 21h0m5-3h0m31-8h0m0 3h0m5 12h0m5-24h0m13 29h0m0-26h0m7-7h0m8-3h0m18 4h0m3-1h0m4 5h0m7 20h0m2-16h0m3-8h0m5 28h0m4-14h0m2-15h0m10 11h0m2-4h0m4-12h0m1 19h0m16-9h0m0 2h0m26 21h0m5 2h0m3 4h0m24-34h0m21 4h0m5 6h0m4 11h0m8-19h0m2 16h0m10 12h0m9-28h0m4 2h0m11 19h0m2 9h0m0-3h0m-323 10h0m2 29h0m6-15h0m2-7h0m0 25h0m10-3h0m12-24h0m7 8h0m15 4h0m0-2h0m4-14h0m19-2h0m7 12h0m10 21h0m16-30h0m30 12h0m5 15h0m5-1h0m30-4h0m17-18h0m15 25h0m0-29h0m16 31h0m1-28h0m2 28h0m12-22h0m6 22h0m14 1h0m22-34h0m4 25h0m1-23h0m1 22h0m3 1h0m21 1h0m18-10h0m17-20h0m0 39h0m-358 15h0m3 11h0m26-21h0m21 0h0m9 26h0m18-11h0m31-10h0m12 29h0m3-22h0m13-7h0m18 18h0m2 5h0m5 2h0m3-16h0m1-17h0m7 30h0m29-20h0m16 16h0m11-9h0m1 8h0m13-10h0m2 11h0m2-4h0m2-3h0m3 4h0m20 10h0m2 2h0m30-21h0m3 10h0m7 12h0m7-28h0m1 28h0m1-31h0m15-3h0m1 0h0m5 22h0m2 13h0m1-18h0m0-6h0m3 8h0m6 10h0m3 5h0m-400 42h0m10-13h0m18-25h0m2 19h0m11 10h0m37-22h0m3 16h0m5-8h0m0 7h0m2 13h0m3-29h0m20 11h0m6 21h0m16-20h0m3 3h0m9-14h0m3 6h0m1 2h0m0-14h0m17 34h0m6-9h0m10 7h0m9-12h0m3 13h0m5-8h0m3-7h0m12-9h0m12-7h0m6 26h0m2-16h0m23 8h0m33 17h0m1-39h0m7 23h0m3 7h0m1-12h0m0 6h0m6-8h0m3-5h0m0-1h0m0 12h0m0-7h0m32 9h0m2-24h0m5 26h0m1-4h0m9 5h0m4-27h0m7 30h0m7 4h0m5-17h0m9 4h0m16-12h0m3 29h0m-417 20h0m7 7h0m7-14h0m18-5h0m12 6h0m23 10h0m15-5h0m0-7h0m20-1h0m9-4h0m15 30h0m3-8h0m21 1h0m2-6h0m24 7h0m3-16h0m1-9h0m24 29h0m16 5h0m6-5h0m4 1h0m14 4h0m6-33h0m8 21h0m14-26h0m1 24h0m3 2h0m0-18h0m6 19h0m16 6h0m18-9h0m0-1h0m12-4h0m8-4h0m19 18h0m2-16h0m4-10h0m12-4h0m8 13h0m19 22h0m3-33h0m11 13h0m-433 58h0m27 0h0m8-26h0m23-4h0m46-5h0m2 14h0m9-13h0m13 19h0m0-11h0m17 27h0m5-27h0m5 18h0m3 8h0m37-3h0m13-7h0m5 0h0m24 6h0m9 1h0m11-31h0m5 12h0m1 3h0m5 22h0m13-21h0m1 4h0m5-18h0m0 21h0m17 7h0m10-19h0m1 4h0m7-11h0m5 22h0m5 2h0m0-5h0m13-17h0m9 18h0m12 6h0m4-29h0m7-1h0m5 15h0m11-6h0m14 25h0m5 3h0m11-25h0m-414 58h0m0-30h0m7 11h0m3 19h0m1-25h0m7 16h0m23-15h0m0 1h0m1 13h0m10-4h0m3 17h0m9-1h0m10-22h0m3 7h0m2-8h0m1 21h0m4-27h0m1-2h0m3-2h0m11 7h0m18-7h0m22 38h0m8-2h0m3 2h0m11-39h0m4 34h0m2-20h0m4 21h0m11-2h0m15-21h0m10-3h0m9 6h0m3 6h0m1 15h0m10-1h0m4-19h0m4 16h0m2-4h0m5 6h0m9-27h0m13-2h0m17 4h0m8 26h0m7-27h0m8 3h0m15 5h0m4 5h0m6-11h0m12 25h0m9-16h0m4 10h0m8-5h0m11-17h0m31-7h0m-419 77h0m7-12h0m18-2h0m13-20h0m3 19h0m2-15h0m5 12h0m11 15h0m17-12h0m11-22h0m11 21h0m14-15h0m0 8h0m8 9h0m2-17h0m9 20h0m14-4h0m1 14h0m14-1h0m7-29h0m2 16h0m37 17h0m20-32h0m0 1h0m18 1h0m20 5h0m30-3h0m53 10h0m2-19h0m11 2h0m-361 37h0m18 20h0m6-14h0m1 32h0m20-38h0m39 15h0m22 8h0m1-20h0m9 23h0m22-27h0m31 4h0m4-1h0m53 0h0m-123 59h0" stroke="#d3952b" stroke-width="16"/></g>
<g transform="scale(0.1290 0.1)" fill="none" stroke-linecap="round"><path d="M2923 3830h0m32 4h0m-89 25h0m0 4h0m37 2h0m6 1h0m3-1h0m2-4h0m15-7h0m4-9h0m2 28h0m7 6h0m6 0h0m8-29h0m9 26h0m37 1h0m14-20h0m5 8h0m46-4h0m8 6h0m17 10h0m40-21h0m81 13h0m-345 13h0m0 30h0m8-19h0m3-6h0m2 9h0m7 0h0m5-11h0m5 27h0m10-21h0m9 2h0m12-1h0m3 6h0m25 20h0m1-21h0m3 6h0m18-15h0m16 2h0m5 2h0m17-3h0m1-7h0m3 0h0m4 4h0m11 18h0m1 8h0m3-14h0m5-5h0m4 14h0m1-8h0m2-2h0m8 3h0m1 11h0m11 2h0m4-2h0m9 0h0m18-22h0m5 3h0m3-10h0m6 22h0m0 14h0m10-20h0m1-1h0m7-1h0m8-8h0m3 12h0m17 5h0m4-2h0m1 8h0m0 3h0m10-20h0m15 17h0m0-13h0m35 14h0m2 4h0m12-2h0m16-4h0m3-5h0m3-7h0m9 20h0m36-1h0m8 1h0m32-6h0m-458 22h0m1 20h0m5 3h0m8-3h0m4-10h0m1-20h0m4 19h0m2-1h0m4-6h0m0 16h0m4-24h0m14 9h0m2-11h0m6 7h0m0-11h0m1 13h0m17 4h0m3 15h0m4-18h0m2 10h0m9-10h0m3 2h0m1 11h0m0-1h0m7 8h0m9-17h0m4 18h0m8-13h0m11 11h0m2-21h0m5-13h0m1 5h0m11 26h0m3-11h0m8 7h0m2-25h0m1 24h0m4-2h0m10-5h0m8-10h0m9 21h0m10-16h0m4 5h0m4 1h0m5-11h0m7-3h0m35 30h0m6-19h0m3-17h0m8 32h0m5-22h0m11-3h0m9-5h0m6-1h0m20 37h0m7-5h0m22 0h0m6-13h0m2-21h0m8 23h0m1 0h0m7-16h0m3-5h0m5 7h0m39 10h0m50 2h0m-502 23h0m14 2h0m8-3h0m13 6h0m5-3h0m5 0h0m1 18h0m5 10h0m0-11h0m0-6h0m1 18h0m6-5h0m2-11h0m0-15h0m21 4h0m3 1h0m7-6h0m14 33h0m5-2h0m6-3h0m5-31h0m4 31h0m6 5h0m13-9h0m5 0h0m0-17h0m0 3h0m2-13h0m3 16h0m9-11h0m7 3h0m10 21h0m0-25h0m2 10h0m2 1h0m6 9h0m0-10h0m43 8h0m7-8h0m8 16h0m5-16h0m1-9h0m12 1h0m2 31h0m1-8h0m1-20h0m3-9h0m0 0h0m3 35h0m4-21h0m7 9h0m4-17h0m12 12h0m7-1h0m6 13h0m4-27h0m11 30h0m26-24h0m2 3h0m5 14h0m10 8h0m2-5h0m5-21h0m1 28h0m12-20h0m9 20h0m4-22h0m2 4h0m7 12h0m2-21h0m8 25h0m3-29h0m9 12h0m0-8h0m4 1h0m4 14h0m3-11h0m4-6h0m3 30h0m21 0h0m-441 29h0m5-20h0m1-4h0m24 8h0m0 5h0m7-15h0m29 13h0m10 4h0m13 12h0m2-19h0m9 9h0m11-7h0m9 22h0m2-22h0m4-5h0m2 2h0m10 12h0m9 7h0m10-18h0m2 12h0m6 1h0m4-15h0m2 4h0m4 25h0m10-27h0m4 22h0m5-13h0m6-18h0m12 9h0m8 22h0m3-17h0m10-3h0m6 6h0m8-18h0m3 29h0m22 7h0m6-34h0m13 19h0m1-11h0m3-3h0m3 9h0m5-14h0m3 22h0m15-16h0m4 14h0m9-20h0m1 35h0m4-8h0m2-23h0m26 12h0m11 4h0m10-7h0m12 5h0m5-14h0m8 10h0m13-9h0m17 4h0m-325 38h0m19-7h0m4 4h0m10 2h0m0 0h0m20 5h0m11-1h0m10 7h0m3-1h0m7-13h0m6-5h0m0 13h0m11 13h0m1-25h0m2 22h0m0-23h0m20 10h0m12-8h0m0 23h0m9-24h0m3 18h0m23 17h0m2-6h0m1-25h0m0 2h0m7 14h0m4 14h0m3 0h0m5 3h0m2-13h0m3-24h0m3 13h0m5 12h0m2 8h0m0-9h0m17-1h0m5 7h0m17 5h0m13-27h0m2-3h0m0 19h0m3-20h0m6-3h0m8 34h0m3-19h0m1 4h0m4 6h0m2 5h0m6-5h0m19-22h0m-252 46h0m62-11h0m21 10h0m10 5h0m5 19h0m4-22h0m12 8h0m8-13h0m6 18h0m5 0h0m16 6h0m3-11h0m2 14h0m6-21h0m1 10h0m2 0h0m10 4h0m13 0h0m9-14h0m4 21h0m9-8h0m1-22h0m8 29h0m3-26h0m6 14h0m6-19h0m7 6h0m-58 57h0m8-1h0m13-3h0m4-2h0" stroke="#d3952b" stroke-width="16"/></g>
<path d="M372.0 290.0L372.6 288.9L373.3 288.0L374.1 287.2L374.9 286.6L375.7 286.0L376.6 285.4L377.5 285.0L378.4 284.6L379.4 284.2L380.3 283.8L381.1 283.4L382.0 283.0L382.8 282.6L383.7 282.2L384.5 281.8L385.4 281.4L386.2 281.1L387.1 280.8L387.9 280.6L388.7 280.3L389.6 280.2L390.4 280.0L391.2 280.0L392.0 280.0L392.8 280.1L393.6 280.2L394.4 280.4L395.1 280.7L395.9 281.0L396.7 281.4L397.4 281.8L398.2 282.2L398.9 282.6L399.6 283.1L400.3 283.5L401.0 284.0L401.7 284.5L402.3 285.0L402.9 285.5L403.5 286.0L404.1 286.6L404.7 287.1L405.3 287.7L405.8 288.3L406.4 289.0L406.9 289.6L407.5 290.3L408.0 291.0L408.5 291.7L409.1 292.5L409.6 293.2L410.1 294.0L410.6 294.8L411.1 295.6L411.6 296.5L412.1 297.3L412.6 298.2L413.1 299.1L413.5 300.1L414.0 301.0L414.5 302.0L414.9 302.9L415.3 303.9L415.7 305.0L416.2 306.0L416.6 307.1L417.0 308.1L417.4 309.3L417.8 310.4L418.2 311.6L418.6 312.8L419.0 314.0L419.4 315.3L419.8 316.6L420.3 318.0L420.7 319.4L421.1 320.8L421.6 322.2L422.0 323.7L422.4 325.2L422.8 326.7L423.2 328.1L423.6 329.6L424.0 331.0L424.4 332.4L424.7 333.8L425.1 335.2L425.4 336.6L425.8 338.0L426.1 339.4L426.5 340.8L426.8 342.3L427.1 343.7L427.4 345.1L427.7 346.5L428.0 348.0L428.3 349.5L428.6 351.0L428.9 352.5L429.1 354.0L429.4 355.5L429.7 357.0L429.9 358.5L430.2 360.0L430.4 361.5L430.6 363.0L430.8 364.5L431.0 366.0L431.2 367.5L431.3 369.0L431.4 370.5L431.6 372.0L431.7 373.6L431.8 375.1L431.8 376.5L431.9 378.0L431.9 379.3L432.0 380.6L432.0 381.9L432.0 383.0L432.0 384.0L432.0 385.0L432.0 385.9L432.0 386.7L431.9 387.5L431.9 388.2L431.8 388.9L431.7 389.5L431.6 390.1L431.4 390.8L431.2 391.4L431.0 392.0L430.7 392.6L430.5 393.3L430.1 393.9L429.8 394.5L429.5 395.1L429.1 395.7L428.6 396.2L428.2 396.7L427.7 397.1L427.2 397.5L426.6 397.8L426.0 398.0L425.3 398.1L424.6 398.2L423.9 398.2L423.1 398.1L422.3 397.9L421.4 397.8L420.6 397.5L419.7 397.3L418.8 397.0L417.8 396.7L416.9 396.3L416.0 396.0L415.1 395.6L414.1 395.2L413.2 394.7L412.2 394.1L411.2 393.6L410.2 393.0L409.2 392.4L408.2 391.9L407.2 391.3L406.1 390.8L405.1 390.4L404.0 390.0L402.9 389.7L401.8 389.4L400.6 389.2L399.4 389.0L398.2 388.9L397.0 388.8L395.8 388.6L394.6 388.5L393.4 388.4L392.2 388.3L391.1 388.2L390.0 388.0L388.9 387.9L387.9 387.7L386.8 387.6L385.8 387.6L384.8 387.5L383.8 387.4L382.8 387.3L381.8 387.1L380.8 386.9L379.9 386.7L378.9 386.4L378.0 386.0L377.1 385.6L376.1 385.1L375.2 384.7L374.2 384.1L373.3 383.6L372.4 383.0L371.5 382.3L370.7 381.6L369.9 380.8L369.2 380.0L368.5 379.0L368.0 378.0L367.5 376.9L367.2 375.7L366.8 374.4L366.6 373.0L366.4 371.6L366.2 370.1L366.1 368.5L366.1 366.9L366.0 365.2L366.0 363.5L366.0 361.8L366.0 360.0L366.0 358.2L366.1 356.2L366.3 354.2L366.4 352.2L366.7 350.1L366.9 347.9L367.1 345.8L367.3 343.6L367.5 341.4L367.7 339.2L367.9 337.1L368.0 335.0L368.1 332.9L368.1 330.8L368.0 328.6L368.0 326.5L367.9 324.3L367.9 322.2L367.8 320.1L367.8 318.0L367.8 315.9L367.8 313.9L367.9 311.9L368.0 310.0L368.2 308.1L368.4 306.2L368.6 304.3L368.8 302.5L369.1 300.7L369.4 298.9L369.7 297.2L370.1 295.5L370.5 294.0L370.9 292.5L371.4 291.2Z" fill="#d3952b"/>
<g transform="scale(0.1290 0.1)" fill="none" stroke-linecap="round"><path d="M3015 2789h0m10-11h0m18 19h0m30 0h0m1-12h0m3 6h0m-149 47h0m44-3h0m0-15h0m8 8h0m1-5h0m6 5h0m1-18h0m1 6h0m7 6h0m1-9h0m3 1h0m2 12h0m7-7h0m1-7h0m9-12h0m17 14h0m4-13h0m22 10h0m14 12h0m4 11h0m5-8h0m11-10h0m0-15h0m7 27h0m6 2h0m7-7h0m-223 51h0m10-13h0m25-1h0m11-15h0m12-5h0m143 14h0m28 9h0m21 7h0m1 2h0m7-4h0m2 5h0m-293 29h0m21 0h0m0-8h0m2 6h0m4-14h0m10 27h0m16-24h0m214-2h0m1 2h0m4 6h0m4-10h0m11 33h0m4-10h0m0 6h0m7-12h0m4 9h0m1 6h0m1-5h0m11 7h0m-316 38h0m21-36h0m285 0h0m16-1h0m-318 72h0m1-8h0m320-21h0m8 28h0m12-1h0m1-3h0m7-5h0m3 1h0m-371 47h0m11-17h0m2 19h0m3-23h0m4 26h0m3-18h0m331-13h0m9 34h0m5 1h0m2-31h0m4 23h0m1-14h0m1 14h0m-377 24h0m9 8h0m0-8h0m4 9h0m351-19h0m7 5h0m5 27h0m4-29h0m3 29h0m0-6h0m1-13h0m0 0h0m4 15h0m7-5h0m-408 42h0m6 8h0m2-27h0m9 8h0m14-13h0m346 0h0m31 17h0m-391 32h0m10-1h0m19 12h0m369 0h0m2-18h0m1 27h0m3-16h0m2 12h0m-416 18h0m2 7h0m6-2h0m2 18h0m1-3h0m4-21h0m6 15h0m3-23h0m392 24h0m4-8h0m1 15h0m-410 17h0m1 8h0m1 23h0m1-33h0m3 4h0m2-7h0m413 12h0m14-12h0m2 27h0m3 5h0m-454 25h0m12-12h0m2-7h0m13 22h0m408-7h0m4-10h0m3 3h0m17 19h0m0-6h0m3-2h0m-451 24h0m8 34h0m3-28h0m426-8h0m2 18h0m8 18h0m-450 4h0m5 4h0m3 9h0m0-9h0m5 29h0m414-35h0m5 6h0m18-1h0m15 1h0m-465 59h0m1-5h0m3 0h0m4-19h0m6 0h0m17 31h0m416-3h0m4 7h0m8-1h0m1-10h0m4-8h0m5 19h0m-479 20h0m10 12h0m18-7h0m430-7h0m18 12h0m1-16h0m0 4h0m1-1h0m10 20h0m-478 35h0m6-13h0m5 24h0m2-34h0m2 4h0m472 15h0m-483 55h0m8-13h0m9 0h0m456 5h0m-483 31h0m1 11h0m1-10h0m1-3h0m3 6h0m0-10h0m2-12h0m8 16h0m457-15h0m0-1h0m11 9h0m5-11h0m1 21h0m6-6h0m13 3h0m-526 57h0m11 0h0m8-2h0m1-27h0m5 17h0m0 11h0m1-27h0m4-3h0m470 31h0m2-24h0m6-7h0m1 26h0m11-13h0m2 3h0m1-9h0m-502 35h0m1-5h0m4 23h0m7 0h0m469 1h0m13-12h0m5-3h0m8 20h0m-514 15h0m0 3h0m1 9h0m6 4h0m2 10h0m4-10h0m495-19h0m0-2h0m3 6h0m7 13h0m5 17h0m1-24h0m-520 39h0m0 23h0m3-34h0m485 7h0m11-7h0m0 33h0m11-10h0m3-19h0m3 26h0m-520 17h0m1-9h0m15 14h0m0-5h0m490 4h0m13 2h0m8 1h0m0 12h0m-528 14h0m6 13h0m17 0h0m507 8h0m6 9h0m-515 14h0m16 4h0m1 3h0m2-1h0m5 12h0m2-12h0m4 17h0m3-9h0m11 19h0m7-4h0m25-4h0m405-6h0m2-18h0m6 0h0m11 26h0m1-21h0m1-9h0m-452 40h0m9 14h0m0 7h0m9-4h0m10 4h0m0-14h0m18 24h0m1-13h0m3 2h0m4 4h0m6 12h0m1-9h0m2 7h0m25-7h0m8 8h0m6-13h0m10 14h0m9-11h0m3 4h0m28 3h0m13 3h0m11-4h0m10-5h0m10 8h0m21 2h0m221-36h0m4 21h0m3 9h0m3-30h0m9 19h0m-431 18h0m52 4h0m35 12h0m6-16h0m10 14h0m11 3h0m4-10h0m28-6h0m1-1h0m2 24h0m9-13h0m5-6h0m6 7h0m9 3h0m2 17h0m15-17h0m5 5h0m30 19h0m8-11h0m1 8h0m161 3h0m9-11h0m6-28h0m5 16h0m2-12h0m5 5h0m4 9h0m-251 33h0m27-6h0m54 7h0m1 7h0m4 13h0m16-4h0m52 10h0m60-5h0m3-29h0m3 14h0m0 4h0m8-12h0m6 13h0m7-6h0m1-14h0m-123 46h0m16-3h0m7 18h0m3-10h0m8-1h0m4 6h0m0-18h0m3 25h0m7-6h0m10-11h0m3 8h0m3 4h0m2-14h0m8 21h0m0 0h0m7-12h0" stroke="#d3952b" stroke-width="14"/></g>
<g transform="scale(0.1290 0.1)" fill="none" stroke-linecap="round"><path d="M3021 2813h0m-28 60h0m8-23h0m2 25h0m14-9h0m1-11h0m5-2h0m15 17h0m41-8h0m13-10h0m5 20h0m-40 32h0m35-4h0m8 6h0m10-24h0m1 30h0m9-28h0m28 14h0m-247 57h0m24 2h0m8-23h0m78-10h0m1 28h0m26 4h0m33-8h0m20-25h0m3-3h0m1 21h0m17-3h0m19-1h0m3-1h0m-261 38h0m6 2h0m24 3h0m43 10h0m7-2h0m7-9h0m116 3h0m5 5h0m48-24h0m19 28h0m12-10h0m1 2h0m7 9h0m-290 47h0m13-13h0m1-6h0m4 1h0m24 15h0m13-15h0m22-3h0m38-5h0m30 12h0m16-3h0m56 0h0m0 7h0m3 4h0m7-28h0m22 24h0m15-1h0m24 11h0m-273 3h0m15 23h0m28-24h0m15 4h0m9 17h0m38-1h0m4 13h0m121-23h0m43 5h0m7 23h0m1-12h0m-310 27h0m61-8h0m24 4h0m12 24h0m46-2h0m28-15h0m8-11h0m5 27h0m22-29h0m68 33h0m17-17h0m48 15h0m34-13h0m-364 58h0m2-34h0m19 17h0m7-8h0m34 25h0m44-26h0m81 26h0m11-16h0m5 1h0m8-24h0m27 34h0m18-34h0m1 34h0m8-25h0m71 9h0m30-14h0m-371 37h0m14 12h0m1 22h0m11-32h0m4 27h0m9-14h0m4-3h0m108-5h0m62 8h0m53-9h0m17 5h0m10 27h0m13-34h0m23 26h0m31-3h0m12-22h0m4 5h0m-379 59h0m10-29h0m2 6h0m9 11h0m10 11h0m17-5h0m19-15h0m0 23h0m4-3h0m9-14h0m15 11h0m14 8h0m22-12h0m9 16h0m82-10h0m12-3h0m39-9h0m5 7h0m40 4h0m3-8h0m45 9h0m16 1h0m14 2h0m-381 19h0m40 16h0m3 0h0m6-23h0m12 33h0m1-23h0m2 23h0m17-22h0m37 16h0m37-22h0m3 19h0m14-10h0m7 15h0m29-4h0m14-8h0m1-16h0m4 8h0m7 23h0m1-10h0m2 2h0m55-16h0m28 9h0m35 11h0m8-20h0m25 10h0m-412 28h0m56 10h0m130-4h0m4-10h0m15 15h0m67 18h0m2-25h0m19-2h0m12 1h0m2 15h0m42 12h0m42-27h0m7-7h0m19 18h0m-419 38h0m8 8h0m9-28h0m21 14h0m10-9h0m17 1h0m19 17h0m4-17h0m41 5h0m39 6h0m55-16h0m28 10h0m34 23h0m10-9h0m4 7h0m4 0h0m24 4h0m7-7h0m28-10h0m76 12h0m-430 23h0m9-2h0m15-2h0m39 11h0m3-15h0m28 14h0m21-13h0m6-5h0m19 9h0m15 20h0m37-15h0m18 11h0m15-7h0m2 13h0m48-31h0m48 34h0m10-22h0m6-8h0m64 23h0m16-5h0m12 12h0m-435 35h0m3-8h0m9-21h0m17 27h0m28-28h0m18 15h0m93-11h0m15 30h0m3-2h0m1-33h0m26 19h0m42 7h0m58-24h0m2 1h0m2 34h0m19-24h0m80 15h0m16-23h0m3 20h0m6-21h0m-416 67h0m2-23h0m9-5h0m2 5h0m14-8h0m68 36h0m87 0h0m2-14h0m64-19h0m16 15h0m24-3h0m54 16h0m3-10h0m11 16h0m12-17h0m3-19h0m-394 66h0m15-19h0m15 27h0m8-11h0m12 3h0m9-19h0m4-9h0m36 20h0m35-19h0m7 10h0m0 16h0m29-2h0m55 3h0m14 9h0m28-35h0m16 5h0m4 23h0m18-1h0m9-19h0m80 6h0m54 13h0m8-11h0m-420 39h0m28 3h0m29-17h0m4 33h0m56-1h0m22-17h0m12 6h0m10-17h0m6 26h0m23 5h0m40-33h0m5 10h0m37 12h0m26-13h0m39 20h0m11-10h0m19 1h0m34 4h0m0-26h0m2 20h0m-434 51h0m33-23h0m34 22h0m10 6h0m20-36h0m13 4h0m38 0h0m60-2h0m2 12h0m4 2h0m30 14h0m1-24h0m13-7h0m120 20h0m16 1h0m14-14h0m-430 36h0m45 28h0m1-32h0m10 10h0m59 25h0m0-9h0m6-26h0m12 9h0m48 0h0m12 26h0m11-7h0m4 3h0m1 7h0m12-29h0m29-7h0m17 3h0m49 21h0m24 7h0m33-29h0m5 34h0m5-32h0m51 31h0m58-22h0m-494 46h0m21 5h0m7 1h0m33-27h0m12 16h0m9-4h0m4-13h0m84 24h0m19 4h0m28-10h0m1 6h0m39-4h0m23-18h0m18-2h0m56 9h0m11-4h0m31 30h0m6-24h0m2 21h0m-400 10h0m30 8h0m11-6h0m15 18h0m58-11h0m14 8h0m17-10h0m2 13h0m2-6h0m7 22h0m67-19h0m51-6h0m30-7h0m34 11h0m26 8h0m4 5h0m7-29h0m29 26h0m-393 38h0m33-8h0m18 9h0m10-22h0m100 34h0m61 0h0m17-12h0m6-19h0m4 6h0m16-4h0m16 10h0m3-14h0m23 34h0m20-7h0m4-3h0m11-3h0m12 10h0m44-10h0m23 10h0m0-27h0m43 24h0m-453 23h0m56-14h0m32 20h0m13-11h0m12-3h0m22 27h0m9-32h0m43 29h0m26-11h0m44 9h0m30-12h0m5-7h0m2 3h0m28-6h0m11 29h0m63-30h0m47-3h0m-398 42h0m6 27h0m5 3h0m25-17h0m52-17h0m80 1h0m19 6h0m10 10h0m39-19h0m18 22h0m8 1h0m36 5h0m30-6h0m25-8h0m15-10h0m23-4h0m7 10h0m21 11h0m-390 24h0m70 33h0m32-26h0m71-1h0m6 1h0m6 9h0m28-21h0m34 36h0m21-33h0m26 19h0m16 1h0m27-23h0m18 26h0m13-9h0m36-2h0m-312 26h0m74 11h0m44-6h0m24 1h0m25 0h0m14 14h0m8 2h0m38-10h0m1 1h0m21 25h0m16-23h0m24-7h0m6-3h0m-113 40h0m28 22h0m68 7h0" stroke="#f3dfa4" stroke-width="14" opacity="0.9"/></g>
<g transform="scale(0.1290 0.1)" fill="none" stroke-linecap="round"><path d="M2677 3837h0m30-1h0m17-1h0m14 0h0m59-4h0m-248 35h0m10 7h0m31-4h0m8-2h0m11 1h0m0-19h0m2 15h0m5 6h0m0-6h0m9-5h0m2 12h0m17 8h0m14-9h0m13 4h0m10-30h0m2 8h0m16 14h0m8-1h0m2 12h0m1-1h0m11-16h0m11 7h0m9-8h0m3 0h0m6 18h0m1-13h0m8-5h0m3 16h0m22-28h0m7 2h0m9 19h0m1 5h0m9-7h0m18 10h0m3-6h0m-410 32h0m3-5h0m9 15h0m6-1h0m16 7h0m0-37h0m6 27h0m1-17h0m5 7h0m6-16h0m1 7h0m13 27h0m1-18h0m3 21h0m12-16h0m1-16h0m3 25h0m8 0h0m2-9h0m10-16h0m11 20h0m5 5h0m2-7h0m0-10h0m13 7h0m0-5h0m1 20h0m0 2h0m0-10h0m4-16h0m5 10h0m5 2h0m11-12h0m0 24h0m8-19h0m0 19h0m4-22h0m5-5h0m15 16h0m14-10h0m2-5h0m6-4h0m1 11h0m0-7h0m4-3h0m7 14h0m6-3h0m1-7h0m2 19h0m3-18h0m0 11h0m5-6h0m0 13h0m0 0h0m15-10h0m4 15h0m29 1h0m21-3h0m18-31h0m7 26h0m9-20h0m3 22h0m3-19h0m2 19h0m0-3h0m6-22h0m1-4h0m2 8h0m7 14h0m3 4h0m2-13h0m2-14h0m1 0h0m5 29h0m8-10h0m3-17h0m1 20h0m4 15h0m2-9h0m7 10h0m6-35h0m-432 64h0m6-13h0m3 10h0m24 13h0m14-10h0m10-22h0m0-1h0m5-5h0m15 39h0m6-10h0m3 4h0m0-7h0m7 7h0m4-26h0m23 21h0m5-26h0m3 11h0m11 7h0m4 18h0m25-22h0m10 19h0m4-34h0m6 35h0m14 0h0m15 2h0m0-14h0m1 15h0m14-12h0m13-17h0m4 26h0m1-14h0m1 14h0m11-20h0m10-6h0m11-10h0m1 36h0m24-12h0m8-24h0m1 3h0m3 6h0m0 23h0m2-18h0m11 23h0m2-27h0m17 27h0m0 0h0m13-7h0m18 4h0m22-5h0m3-15h0m12 23h0m0-36h0m9 28h0m27 3h0m11-22h0m-482 39h0m11 22h0m18-29h0m4 11h0m2 1h0m2-14h0m2 15h0m10 2h0m8 15h0m7-18h0m13 16h0m17 6h0m4-2h0m5-31h0m3 35h0m2-10h0m6 10h0m8-2h0m4-19h0m14-7h0m3 2h0m4 9h0m3 1h0m6-18h0m12 12h0m2 4h0m1 17h0m1-22h0m11 0h0m4 11h0m2-23h0m1 3h0m5 1h0m6 2h0m2 4h0m0 11h0m2-12h0m2 19h0m7-29h0m7 25h0m7 12h0m0-16h0m6 15h0m1-24h0m2 22h0m5-1h0m4 0h0m16-32h0m16 1h0m9 23h0m14-13h0m5 0h0m4-7h0m8 10h0m1 2h0m5 9h0m3 6h0m4-34h0m18 4h0m5 27h0m0-31h0m16 1h0m3 33h0m10-16h0m5-7h0m5 20h0m3-4h0m4-7h0m2 8h0m2 2h0m9 6h0m41-35h0m10 12h0m-450 64h0m1 2h0m9-35h0m9 11h0m1 16h0m5-30h0m8 32h0m2-29h0m0 0h0m0 31h0m5-2h0m8 4h0m5 0h0m6-21h0m0 13h0m36-20h0m8 7h0m36-2h0m17-4h0m5 4h0m4-9h0m12 34h0m9-3h0m4 2h0m1-5h0m5-18h0m5 18h0m4-3h0m4-11h0m2-11h0m4 23h0m9-22h0m18-7h0m9 30h0m3-11h0m16 13h0m5-32h0m2 18h0m1 17h0m6-21h0m3-12h0m2 15h0m19 15h0m8-3h0m1 1h0m21 4h0m2-33h0m2 32h0m1-2h0m5-10h0m7 4h0m1-22h0m27 4h0m1 28h0m2-28h0m2-1h0m0 14h0m3-14h0m19 3h0m8 26h0m13-33h0m1 29h0m5-26h0m5 22h0m4 7h0m2-17h0m3 2h0m2-2h0m2-4h0m13 0h0m-460 48h0m4 9h0m17-6h0m8 1h0m5 5h0m3 7h0m0-19h0m13-7h0m9 19h0m2-23h0m8-3h0m3 24h0m0-9h0m15-13h0m12-6h0m9 4h0m1 5h0m3 0h0m14 14h0m3-15h0m13 10h0m3 19h0m4-17h0m2-17h0m9 32h0m4-17h0m8-11h0m1-9h0m8 23h0m7 16h0m6-21h0m1 8h0m4-17h0m5 7h0m14 3h0m18 10h0m16-16h0m3 7h0m2-7h0m3 3h0m4 21h0m0-37h0m3 6h0m2 2h0m6 30h0m4-11h0m8-2h0m10-13h0m13 3h0m1-4h0m2 25h0m8-36h0m4 11h0m4 21h0m16 4h0m2-5h0m21-21h0m1 29h0m12-20h0m0-4h0m4 3h0m1-18h0m2 30h0m7-30h0m2 17h0m16-10h0m3 26h0m8-10h0m12-1h0m6-11h0m2 13h0m15-1h0m1 1h0m5 1h0m-445 29h0m2 9h0m2-16h0m2 3h0m10-9h0m21 13h0m4 8h0m3 6h0m8 0h0m1-17h0m1 0h0m0 21h0m3-8h0m28 12h0m13-7h0m2 6h0m12-22h0m5-3h0m2-6h0m10 27h0m8 2h0m4-12h0m2 11h0m2 3h0m4-8h0m5-7h0m8-7h0m5-5h0m21 7h0m5-15h0m4 34h0m7-21h0m1 7h0m3-17h0m5 1h0m10 19h0m8 8h0m11 1h0m15-23h0m5 14h0m2-20h0m12 9h0m7 12h0m2-18h0m1 4h0m1 21h0m22 5h0m8-32h0m9 23h0m1-24h0m5 8h0m1-9h0m8 14h0m14 2h0m2 12h0m10-30h0m1 0h0m0 22h0m3-4h0m19 21h0m1-26h0m11-8h0m5 34h0m0-10h0m4-14h0m3 11h0m13-4h0m1 11h0m5-4h0m2-7h0m11 1h0m-448 24h0m26-7h0m3 18h0m5 0h0m2 9h0m18-16h0m49 21h0m1-10h0m4-8h0m7 1h0m2-5h0m4-8h0m1 2h0m15 27h0m5-30h0m18 25h0m16-13h0m5-5h0m88 11h0m10-12h0m6 0h0m26-5h0m1 2h0m1 8h0m3-1h0m6-4h0m57 31h0m4-32h0m29-5h0m2 18h0m19-8h0m-411 41h0m15-5h0m27-1h0m2-2h0m41 3h0" stroke="#d3952b" stroke-width="16"/></g>
<path d="M313.0 412.0L313.3 411.3L313.8 410.6L314.3 410.0L314.9 409.5L315.6 409.0L316.4 408.5L317.2 408.1L318.1 407.6L319.0 407.2L320.0 406.8L321.0 406.4L322.0 406.0L323.1 405.6L324.3 405.2L325.6 404.8L326.9 404.4L328.3 404.1L329.7 403.8L331.1 403.4L332.6 403.1L334.0 402.8L335.4 402.5L336.7 402.3L338.0 402.0L339.2 401.7L340.5 401.5L341.7 401.2L342.9 401.0L344.1 400.8L345.2 400.6L346.4 400.4L347.6 400.2L348.7 400.1L349.8 400.0L350.9 400.0L352.0 400.0L353.1 400.1L354.2 400.2L355.3 400.3L356.4 400.5L357.4 400.7L358.5 400.9L359.5 401.2L360.5 401.5L361.5 401.9L362.4 402.2L363.2 402.6L364.0 403.0L364.7 403.4L365.4 403.8L366.1 404.2L366.7 404.6L367.3 405.1L367.9 405.6L368.4 406.1L368.8 406.7L369.2 407.4L369.5 408.2L369.8 409.0L370.0 410.0L370.1 411.1L370.2 412.3L370.2 413.5L370.1 414.9L370.0 416.3L369.8 417.8L369.6 419.3L369.3 420.9L369.0 422.6L368.7 424.4L368.4 426.1L368.0 428.0L367.6 430.0L367.1 432.1L366.6 434.4L366.1 436.8L365.5 439.2L364.9 441.7L364.3 444.1L363.7 446.6L363.0 448.9L362.3 451.1L361.7 453.1L361.0 455.0L360.3 456.7L359.6 458.3L358.9 459.7L358.1 461.1L357.4 462.4L356.6 463.6L355.9 464.7L355.1 465.8L354.3 466.9L353.5 467.9L352.8 469.0L352.0 470.0L351.2 471.0L350.5 471.9L349.7 472.7L348.9 473.5L348.0 474.3L347.2 475.0L346.5 475.7L345.7 476.5L345.0 477.3L344.3 478.1L343.6 479.0L343.0 480.0L342.4 481.1L342.0 482.3L341.5 483.6L341.1 485.0L340.7 486.4L340.4 487.8L340.0 489.1L339.7 490.5L339.3 491.8L338.9 493.0L338.5 494.0L338.0 495.0L337.5 495.9L336.9 496.7L336.3 497.5L335.7 498.2L335.1 498.9L334.4 499.5L333.8 500.0L333.2 500.4L332.6 500.8L332.0 501.0L331.5 501.1L331.0 501.0L330.5 500.8L330.1 500.5L329.6 500.0L329.2 499.4L328.8 498.8L328.4 498.0L328.1 497.1L327.8 496.2L327.5 495.2L327.3 494.2L327.1 493.1L327.0 492.0L327.0 490.8L327.1 489.6L327.3 488.4L327.6 487.0L327.9 485.6L328.2 484.2L328.5 482.7L328.8 481.1L329.0 479.4L329.1 477.7L329.1 475.9L329.0 474.0L328.7 472.0L328.4 469.8L327.9 467.6L327.3 465.2L326.7 462.7L326.1 460.2L325.4 457.7L324.7 455.3L324.0 452.8L323.3 450.4L322.6 448.2L322.0 446.0L321.4 443.9L320.8 441.9L320.1 439.8L319.5 437.9L318.8 435.9L318.2 434.0L317.6 432.2L317.0 430.4L316.4 428.7L315.9 427.0L315.4 425.5L315.0 424.0L314.6 422.6L314.2 421.4L313.9 420.2L313.6 419.0L313.3 418.0L313.0 417.0L312.8 416.1L312.7 415.2L312.6 414.3L312.6 413.5L312.8 412.8Z" fill="#d3952b"/>
<g transform="scale(0.1290 0.1)" fill="none" stroke-linecap="round"><path d="M2660 3988h0m6 7h0m37-22h0m1 25h0m18-6h0m7-4h0m4 7h0m18 1h0m10-4h0m8-8h0m-251 50h0m11-4h0m2 6h0m3-3h0m11-1h0m8-6h0m2 10h0m7-2h0m4-1h0m6-9h0m22 8h0m15-12h0m7-6h0m14 15h0m9-15h0m2 16h0m12-19h0m1 14h0m6-15h0m3-4h0m0 16h0m0-6h0m2-6h0m24-2h0m2 1h0m4-3h0m10 0h0m21 19h0m10-18h0m4-3h0m2 1h0m7 11h0m12 4h0m9 1h0m13-3h0m3-9h0m5-5h0m6-3h0m9 7h0m6-1h0m5 30h0m7-16h0m24 15h0m-415 35h0m12 7h0m10-9h0m1 6h0m17-5h0m13-12h0m5 11h0m20-20h0m45-1h0m25 12h0m45-14h0m168 1h0m34 8h0m7 18h0m5-31h0m1 6h0m5 7h0m4-2h0m4-1h0m1-6h0m0 26h0m1 0h0m15 1h0m-449 42h0m7-6h0m0-6h0m9-1h0m17 0h0m0-5h0m6-12h0m21-2h0m382 28h0m7-15h0m1 8h0m1-7h0m3-6h0m-463 62h0m6-27h0m0 33h0m18-24h0m422-2h0m6-8h0m5 10h0m3-10h0m8 6h0m-451 57h0m1-5h0m1-11h0m1 14h0m424-8h0m15 15h0m0-4h0m0-16h0m-443 32h0m3-1h0m0-1h0m22 36h0m393-34h0m10 19h0m9-13h0m-434 34h0m3 28h0m5-19h0m2 6h0m6-7h0m2 10h0m4 6h0m3-20h0m6-8h0m375 27h0m1-23h0m8 30h0m3-7h0m13-12h0m7-4h0m-426 28h0m1 2h0m4 27h0m3-20h0m5 15h0m5-7h0m396 3h0m-410 38h0m18 0h0m2-10h0m2 3h0m369-10h0m1 37h0m1-6h0m2 2h0m2-30h0m4-1h0m-375 61h0m2 15h0m1-3h0m7-34h0m5 32h0m335 0h0m4-2h0m2-6h0m3-20h0m9 0h0m2 7h0m2 9h0m-364 24h0m4 13h0m11 3h0m328-20h0m2 27h0m4-20h0m1 1h0m-302 63h0m270-7h0m8-19h0m10 3h0m6-5h0m0 12h0m1 12h0m2-20h0m2-3h0m16 3h0m-343 58h0m0-5h0m4-10h0m1 27h0m1-6h0m277 5h0m1-9h0m12 10h0m0-29h0m3 20h0m6-20h0m6-3h0m8 7h0m12-8h0m-343 37h0m24 32h0m1-7h0m1-16h0m3 24h0m5-8h0m269 5h0m19-22h0m-295 37h0m0 7h0m2-6h0m0 7h0m2-1h0m0 6h0m2-21h0m7 18h0m0 3h0m1 9h0m0-2h0m7 9h0m243-16h0m4 12h0m4-27h0m-259 63h0m0-4h0m7 7h0m4-22h0m204 27h0m15 1h0m6-30h0m2 17h0m2 12h0m5-22h0m11-13h0m-247 74h0m2 1h0m188-11h0m6 2h0m9-16h0m3-4h0m1 11h0m11-10h0m-209 36h0m2 25h0m9 4h0m146-34h0m1 29h0m23-4h0m1-6h0m11-7h0m0 6h0m-195 25h0m2 2h0m2 27h0m2-20h0m129 21h0m4-4h0m15-5h0m13-4h0m3 9h0m-180 45h0m0 3h0m13 0h0m1-10h0m9-14h0m92 17h0m12-23h0m10 7h0m5-14h0m9 32h0m-147 24h0m11 7h0m80-11h0m4 11h0m2-16h0m15 15h0m7 17h0m-128 35h0m14-1h0m1-4h0m6-11h0m76 12h0m7-1h0m1-18h0m2 7h0m3 2h0m4-14h0m1 21h0m2-27h0m17 14h0m-145 44h0m6 6h0m5 8h0m2-18h0m2 16h0m10 8h0m1-9h0m4-27h0m67 20h0m8 17h0m11-33h0m0 22h0m10-12h0m-119 36h0m13 24h0m1-30h0m67 32h0m24-6h0m-117 16h0m21 8h0m7-1h0m36 10h0m24-22h0m3 11h0m13 1h0m-65 39h0m5-14h0m3 8h0m1 20h0m6-28h0m4 7h0m5 13h0m22-19h0" stroke="#d3952b" stroke-width="14"/></g>
<g transform="scale(0.1290 0.1)" fill="none" stroke-linecap="round"><path d="M2595 4032h0m25 5h0m57-26h0m1-4h0m24 29h0m36-27h0m12 10h0m58 17h0m-305 24h0m7-3h0m44 21h0m3-10h0m7 1h0m3-19h0m6 26h0m26-33h0m76 8h0m31-8h0m19 22h0m13-4h0m2-15h0m11-6h0m32 1h0m12 37h0m10-13h0m12-11h0m15 23h0m-395 27h0m17 1h0m8 0h0m0-14h0m19-1h0m5-3h0m56 24h0m63-25h0m16 12h0m37 7h0m21 9h0m55-8h0m3-6h0m24-17h0m0 17h0m7-10h0m5 4h0m7-7h0m20 5h0m2 24h0m45-28h0m-408 64h0m16-17h0m24 22h0m9-10h0m4-8h0m3 4h0m0-9h0m2-2h0m9 3h0m16 23h0m36-27h0m106 17h0m11 6h0m0 5h0m14-35h0m42 4h0m37-6h0m36 15h0m33-5h0m22 19h0m-398 36h0m53-16h0m13 7h0m28-18h0m1 15h0m32 5h0m21-8h0m10 5h0m14 8h0m8-19h0m14 24h0m1-1h0m25-7h0m25-2h0m23 9h0m4-13h0m18 13h0m5 7h0m9-6h0m75 5h0m8-30h0m2 15h0m11 18h0m6-27h0m-424 63h0m12-14h0m8-4h0m8-5h0m28 4h0m30-13h0m16 36h0m20-20h0m12 7h0m22 2h0m19-26h0m3 37h0m23-6h0m7-24h0m17 30h0m45-3h0m12-31h0m3 19h0m19-12h0m2 2h0m34-7h0m9 11h0m17-14h0m32 19h0m6-16h0m-343 34h0m16 8h0m5 5h0m8 20h0m62-31h0m36 10h0m28 6h0m1-9h0m1 25h0m36-12h0m33 5h0m46-23h0m30 14h0m7-5h0m5 14h0m22 11h0m-383 2h0m15 21h0m30-1h0m17-17h0m20-3h0m1 17h0m46-16h0m50 34h0m23-12h0m30-23h0m7 19h0m32 20h0m14-36h0m30 16h0m58 17h0m5-35h0m4 25h0m-369 44h0m59-19h0m24 6h0m54 18h0m6-15h0m14-18h0m4 10h0m5 20h0m3-25h0m40 7h0m8-6h0m23 31h0m5-19h0m13-20h0m6 28h0m6-20h0m1 23h0m3-23h0m43 17h0m27-21h0m-333 70h0m20-6h0m47-2h0m20-11h0m1-13h0m23 29h0m27-6h0m14 14h0m30-28h0m11 14h0m5 3h0m2-2h0m36-13h0m8 9h0m8-1h0m32-20h0m7 21h0m2-12h0m7 26h0m8-11h0m3-2h0m7-11h0m25-1h0m7 10h0m-344 39h0m6-3h0m8 20h0m1-34h0m12 24h0m35-23h0m18 26h0m3 6h0m14-19h0m5-6h0m43 20h0m94-19h0m12-9h0m21 13h0m0-11h0m9 8h0m12 10h0m24 0h0m-285 20h0m3 19h0m1-8h0m39 0h0m19-10h0m58 25h0m15 9h0m4-36h0m37 17h0m51 7h0m7-6h0m1-19h0m2 30h0m2 1h0m9-25h0m26 32h0m4-21h0m15 12h0m-302 33h0m12 13h0m6-4h0m10-23h0m32 22h0m28-27h0m29 9h0m9 10h0m42 0h0m15 9h0m29-9h0m84 7h0m-285 49h0m17-19h0m5-19h0m16 21h0m47-12h0m43 24h0m16-4h0m1-14h0m11 13h0m9 5h0m9-31h0m19 28h0m13-22h0m37 10h0m21 0h0m-259 39h0m29 7h0m55-13h0m0 13h0m15-14h0m3-7h0m55-2h0m38 34h0m9-4h0m6-6h0m24-21h0m12 31h0m6-9h0m11-13h0m-261 28h0m19-2h0m14 30h0m7-2h0m1-26h0m6 12h0m18 0h0m18-4h0m58 25h0m25-9h0m11-3h0m0-13h0m28 2h0m36 4h0m-198 26h0m3 1h0m1 14h0m24-13h0m4 20h0m26 0h0m11-14h0m0 2h0m1-7h0m2 16h0m48 15h0m26-11h0m5-20h0m4 20h0m-172 22h0m50 13h0m17-11h0m58 22h0m18-2h0m-128 23h0m7 14h0m69-13h0m26 1h0m17 16h0m-114 43h0m26-19h0m1-12h0m10 21h0m9 14h0m21-5h0m-53 19h0m4-2h0m14 1h0m14 11h0m9 3h0m-82 46h0m3 3h0m18-22h0m6-4h0m1 2h0m2 27h0m2-22h0m7-14h0m17 17h0m-62 34h0m32 21h0m45-5h0m-67 21h0m27-2h0m2 20h0m3-18h0m24 23h0m3-17h0m-48 27h0m3 31h0m14-2h0m23-18h0" stroke="#f3dfa4" stroke-width="14" opacity="0.9"/></g>
<path d="M338.0 291.0L338.3 290.2L338.7 289.5L339.2 288.9L339.9 288.3L340.5 287.8L341.2 287.2L342.0 286.8L342.8 286.4L343.6 286.0L344.4 285.6L345.2 285.3L346.0 285.0L346.8 284.7L347.6 284.4L348.5 284.2L349.3 284.0L350.2 283.8L351.1 283.6L352.0 283.5L352.9 283.5L353.7 283.5L354.5 283.6L355.3 283.8L356.0 284.0L356.7 284.3L357.3 284.8L358.0 285.3L358.6 285.9L359.2 286.5L359.8 287.2L360.3 288.0L360.7 288.8L361.2 289.6L361.5 290.4L361.8 291.2L362.0 292.0L362.1 292.8L362.2 293.7L362.2 294.7L362.2 295.7L362.1 296.7L362.0 297.7L361.8 298.7L361.6 299.7L361.2 300.6L360.9 301.5L360.5 302.3L360.0 303.0L359.4 303.7L358.8 304.3L358.1 304.9L357.3 305.4L356.4 306.0L355.5 306.4L354.6 306.9L353.6 307.2L352.7 307.5L351.8 307.8L350.9 307.9L350.0 308.0L349.1 308.0L348.2 308.0L347.3 307.8L346.4 307.7L345.4 307.4L344.5 307.1L343.6 306.8L342.7 306.3L341.9 305.8L341.2 305.3L340.6 304.7L340.0 304.0L339.5 303.2L339.1 302.3L338.7 301.2L338.4 300.1L338.1 298.9L337.9 297.6L337.7 296.4L337.6 295.1L337.6 294.0L337.7 292.9L337.8 291.9Z" fill="#d3952b" opacity="0.32" filter="url(#bl)"/>
<g transform="scale(0.1290 0.1)" fill="none" stroke-linecap="round"><path d="M2677 2829h0m45 7h0m1-2h0m24 0h0m5-22h0m-95 65h0m2-35h0m1 29h0m23 2h0m3 4h0m2-18h0m5 0h0m5-12h0m1 19h0m1 9h0m1-16h0m1 9h0m10 10h0m8-26h0m5-12h0m1 39h0m2-20h0m0 20h0m5-2h0m7-27h0m0 11h0m5-14h0m8 6h0m20 0h0m1 21h0m1 3h0m7-18h0m-179 55h0m17-31h0m4 31h0m2 5h0m0-5h0m18-29h0m2 11h0m1-7h0m3 22h0m2-22h0m9 18h0m0-12h0m1 2h0m3-10h0m8 32h0m11-18h0m4 10h0m29-29h0m3 27h0m2-25h0m10 21h0m2-12h0m6 12h0m6-5h0m2-5h0m3 1h0m4 0h0m0-15h0m1 38h0m4-32h0m0-6h0m5 36h0m5-3h0m4-34h0m2 8h0m8 12h0m10 3h0m3 2h0m0-2h0m1 13h0m11-24h0m2 27h0m-200 3h0m11 31h0m10-15h0m7-9h0m4 19h0m0 6h0m7 5h0m1-30h0m2 25h0m11-3h0m0-25h0m1-3h0m3 22h0m6-20h0m2 24h0m5-16h0m0 5h0m5 18h0m1-15h0m19 4h0m3-8h0m2-12h0m7 6h0m0 4h0m1 13h0m6-5h0m8-16h0m2 29h0m11-11h0m1 5h0m5-4h0m6 2h0m3-15h0m3-11h0m3 29h0m0 4h0m3-8h0m1-3h0m2 9h0m1-11h0m2-11h0m3 22h0m3 6h0m8-3h0m3-9h0m2-1h0m4-13h0m2 14h0m1 6h0m2-8h0m-181 45h0m6-18h0m1 7h0m8 18h0m4 0h0m8-5h0m2-4h0m20-19h0m2 7h0m4 1h0m2-10h0m4 10h0m14 10h0m0 6h0m4 2h0m9-5h0m2-10h0m4-9h0m2 21h0m11-25h0m0-2h0m3-2h0m7 13h0m0 13h0m7-6h0m7-16h0m0 7h0m7-7h0m1-5h0m2 21h0m6 1h0m8-20h0m0 23h0m2-17h0m3-10h0m15 4h0m3-2h0m-178 43h0m9 12h0m18 21h0m1-15h0m1-9h0m6-8h0m9-4h0m2 7h0m6 6h0m2 3h0m6 6h0m2-19h0m2 27h0m2 6h0m3-2h0m2 0h0m9-20h0m0 19h0m0-21h0m3-13h0m13 2h0m0 15h0m13 9h0m13-20h0m8 12h0m2 1h0m8-11h0m2 3h0m1 22h0m11-7h0m13-20h0m2 10h0m12-14h0m-171 38h0m6 16h0m3-15h0m11 6h0m16 15h0m7 2h0m2-21h0m8 6h0m0 25h0m0-23h0m12-1h0m7 5h0m2 4h0m2-20h0m3 17h0m9 8h0m0-10h0m4-15h0m3 15h0m2-4h0m5-2h0m5-7h0m3 8h0m8 7h0m4-14h0m9-2h0m2 25h0m3-15h0m-64 48h0m15-9h0" stroke="#d3952b" stroke-width="16"/></g>
<g transform="scale(0.1290 0.1)" fill="none" stroke-linecap="round"><path d="M2783 2797h0m119-3h0m1 3h0m12-23h0m30 8h0m-147 50h0m8-6h0m9 4h0m3 3h0m20-3h0m5 2h0m7-4h0m11-2h0m2 8h0m46-16h0m3 5h0m8-10h0m2 11h0m0-11h0m11 26h0m34-1h0m-197 30h0m17-22h0m13 11h0m20 19h0m1-13h0m12-1h0m4-8h0m27-5h0m1 11h0m11 11h0m11-22h0m4 11h0m23-3h0m23 19h0m4 2h0m2 0h0m6-33h0m12 24h0m10 6h0m1-11h0m-207 42h0m27 1h0m3-24h0m1 25h0m16-13h0m3-13h0m25 1h0m6 9h0m6 12h0m0-5h0m12 2h0m8 4h0m2-10h0m10 17h0m0-29h0m0 19h0m6 15h0m9-17h0m1-14h0m11 7h0m17 18h0m2-30h0m3 21h0m0-10h0m1 0h0m1 5h0m5-8h0m5 6h0m2 3h0m1 3h0m3 5h0m4 3h0m1-4h0m1-8h0m6-8h0m1 15h0m1-1h0m3-14h0m6-1h0m6 2h0m-208 58h0m2-11h0m14-13h0m17 31h0m3-17h0m3 19h0m14-16h0m35-15h0m9-1h0m9 15h0m3 8h0m11-5h0m28 1h0m9-9h0m1-8h0m1 17h0m14-2h0m10 0h0m1-5h0m1 22h0m6-27h0m7-4h0m-189 36h0m9 31h0m2-15h0m8-6h0m5 16h0m1 4h0m0-31h0m2-3h0m7 3h0m44 32h0m6-4h0m9-3h0m7-12h0m1 17h0m1 3h0m1-19h0m4-8h0m1 15h0m7 10h0m0-11h0m2-7h0m11-6h0m6 2h0m1 8h0m2-17h0m0 19h0m1-10h0m3 8h0m0 3h0m1-2h0m17-14h0m14 3h0m-156 38h0m8 15h0m32-23h0m8 8h0m6 21h0m2 0h0m8-28h0m10 29h0m8-19h0m11-11h0m2 2h0m1 1h0m2 2h0m0-3h0" stroke="#d3952b" stroke-width="16"/></g>
<g transform="scale(0.1290 0.1)" fill="none" stroke-linecap="round"><path d="M3028 3956h0m64-3h0m12-2h0m-201 47h0m7-22h0m15 14h0m18-20h0m30 16h0m53 6h0m15-1h0m2 3h0m2-19h0m4 4h0m7 1h0m54 15h0m4-18h0m10-4h0m10 22h0m41-13h0m22-10h0m-310 35h0m22 22h0m11-16h0m7-6h0m4 2h0m4 18h0m21-3h0m17 6h0m28 9h0m17-22h0m18 0h0m3-7h0m68 11h0m12 5h0m3-11h0m4-11h0m0 23h0m8 5h0m56-4h0m31-5h0m37-2h0m46 11h0m11 4h0m2-34h0m2 11h0m5 15h0m-450 31h0m42-13h0m1 16h0m12 13h0m33-35h0m1 16h0m2-16h0m7 3h0m7 14h0m10 22h0m4-9h0m11-29h0m19 28h0m25-5h0m0-4h0m2-14h0m3 4h0m0-5h0m5-1h0m32-3h0m11 24h0m10 13h0m9-29h0m2-5h0m3-3h0m16 37h0m2-17h0m6-19h0m0 34h0m2-4h0m27-2h0m17 0h0m6-7h0m1-22h0m6 38h0m26-39h0m5 31h0m23-10h0m9-19h0m8 24h0m9-13h0m47 1h0m12 17h0m-458 35h0m18-3h0m14-3h0m14 15h0m106-7h0m3-9h0m45 16h0m14-35h0m19 28h0m31 11h0m30-15h0m9 11h0m60 0h0m9 3h0m1-2h0m7-22h0m9-6h0m34 16h0m31-1h0m0-18h0m12 26h0m11-28h0m-491 54h0m13 22h0m15-15h0m11-5h0m5-10h0m6 15h0m5-24h0m15 9h0m34 23h0m32-5h0m13-14h0m1-13h0m16 28h0m20-2h0m20-19h0m4 26h0m8-32h0m16 0h0m9 10h0m5-7h0m11 33h0m15-5h0m2-12h0m14 11h0m5-11h0m2-18h0m1 28h0m10-10h0m18 9h0m2-12h0m9 10h0m14-26h0m23 28h0m2 9h0m6-33h0m43 31h0m17-14h0m3-14h0m1-7h0m4 7h0m1 26h0m22-2h0m14 3h0m-444 7h0m14 24h0m12 2h0m11-6h0m1-20h0m18 35h0m9-21h0m71 8h0m28-6h0m0-12h0m32 2h0m1 27h0m2-8h0m5-6h0m9-1h0m2 7h0m47-15h0m17 7h0m14-17h0m19 25h0m11-16h0m12 9h0m7 5h0m1-20h0m8 28h0m2-19h0m10 21h0m7-34h0m6 36h0m1-27h0m12 7h0m1 10h0m57-24h0m-510 51h0m15-1h0m6 0h0m28 11h0m7-16h0m15 29h0m8-29h0m5 16h0m3-21h0m2 27h0m46-19h0m7 24h0m4-26h0m9 13h0m8-9h0m10 7h0m12-7h0m15 8h0m56 15h0m0-32h0m15 30h0m63-3h0m19-20h0m5 8h0m7 13h0m1 2h0m7-22h0m7 20h0m2-6h0m1 7h0m4-5h0m30-22h0m15 3h0m10 15h0m16-13h0m-411 32h0m12 3h0m7-2h0m16-1h0m14 21h0m24-13h0m11 10h0m7-8h0m24 9h0m18 8h0m10-15h0m2 6h0m29 2h0m0-23h0m4 0h0m16 33h0m32-29h0m0 33h0m27-5h0m3-21h0m7 8h0m11 0h0m28 12h0m4-1h0m22-26h0m4 17h0m18-17h0m19 31h0m8 1h0m3-25h0m4 6h0m21 1h0m-372 32h0m60-5h0m28 34h0m34-17h0m17 2h0m1 7h0m5-15h0m3 22h0m11-24h0m31-7h0m30 3h0m4 24h0m40-15h0m2 20h0m24-31h0m3 3h0m10 3h0m53 16h0m14-4h0m6-20h0m21 2h0m-330 51h0m27-2h0m28-6h0m54-7h0m22-4h0m43 17h0m40 19h0m8-10h0m15-19h0m8 5h0m24 10h0m14 6h0m1-28h0m5 14h0m18 12h0m13-20h0m5 14h0m-49 26h0m12 3h0" stroke="#29b04a" stroke-width="16"/></g>
<g transform="scale(0.1290 0.1)" fill="none" stroke-linecap="round"><path d="M3106 3958h0m-221 35h0m162 6h0m68-32h0m97 20h0m46-4h0m28 10h0m-427 43h0m152-18h0m6 21h0m3-15h0m8-20h0m46 18h0m56 7h0m68-2h0m-305 30h0m22-5h0m40 10h0m3-17h0m20-5h0m160 22h0m84-4h0m44-10h0m39 13h0m-429 58h0m12-5h0m119-17h0m120 11h0m34-18h0m116 18h0m-361 20h0m257 14h0m-276 54h0m74-31h0m65 14h0m6-4h0m131-10h0m69 14h0m67-3h0m12 7h0m10 12h0m-384 44h0m137-21h0m27-18h0m141 16h0m42-13h0m-339 52h0m22 2h0m12 22h0m63-15h0m55-5h0m27 0h0m27 12h0m86 4h0m1-14h0m8 14h0m41-8h0m-266 46h0m36-19h0m118 21h0m58-25h0m-142 34h0m89 29h0m23 6h0m42-12h0m4-15h0m56 29h0" stroke="#ee6f69" stroke-width="14"/></g>
<path d="M386.0 431.0L386.5 430.1L387.0 429.2L387.7 428.4L388.4 427.7L389.3 427.0L390.1 426.4L391.0 425.8L392.0 425.3L393.0 424.9L394.0 424.5L395.0 424.2L396.0 424.0L397.0 423.8L398.1 423.8L399.1 423.8L400.2 423.9L401.3 424.1L402.5 424.3L403.7 424.6L404.9 424.9L406.1 425.1L407.4 425.4L408.7 425.7L410.0 426.0L411.4 426.3L412.8 426.5L414.3 426.8L415.9 427.1L417.4 427.4L419.0 427.8L420.6 428.1L422.1 428.4L423.7 428.8L425.2 429.2L426.6 429.6L428.0 430.0L429.3 430.4L430.7 430.7L432.0 431.1L433.4 431.4L434.7 431.7L435.9 432.1L437.1 432.5L438.3 433.0L439.4 433.5L440.3 434.2L441.2 435.0L442.0 436.0L442.6 437.1L443.2 438.5L443.6 439.9L443.9 441.5L444.2 443.2L444.4 444.9L444.5 446.7L444.6 448.5L444.7 450.2L444.8 451.9L444.9 453.5L445.0 455.0L445.1 456.3L445.2 457.6L445.2 458.7L445.2 459.7L445.2 460.8L445.1 461.8L445.1 462.9L445.0 464.0L445.0 465.3L445.0 466.7L445.0 468.2L445.0 470.0L445.1 472.0L445.1 474.2L445.2 476.7L445.3 479.3L445.4 481.9L445.5 484.7L445.6 487.4L445.7 490.2L445.8 492.9L445.9 495.4L445.9 497.8L446.0 500.0L446.0 502.0L446.1 504.0L446.2 505.9L446.2 507.7L446.3 509.5L446.3 511.2L446.3 512.8L446.3 514.4L446.3 515.9L446.2 517.3L446.1 518.7L446.0 520.0L445.8 521.3L445.6 522.4L445.4 523.5L445.1 524.6L444.8 525.5L444.4 526.4L444.1 527.3L443.7 528.1L443.3 528.9L442.9 529.6L442.5 530.3L442.0 531.0L441.6 531.6L441.1 532.2L440.7 532.7L440.3 533.2L439.9 533.7L439.4 534.1L438.8 534.4L438.3 534.8L437.6 535.1L436.8 535.4L436.0 535.7L435.0 536.0L433.9 536.3L432.6 536.6L431.2 536.8L429.7 537.1L428.1 537.3L426.5 537.5L424.8 537.7L423.2 537.8L421.5 537.9L420.0 538.0L418.4 538.0L417.0 538.0L415.6 537.9L414.3 537.8L412.9 537.7L411.6 537.5L410.3 537.3L409.0 537.0L407.7 536.7L406.5 536.4L405.3 536.1L404.2 535.7L403.1 535.4L402.0 535.0L401.0 534.6L400.0 534.2L399.1 533.7L398.1 533.3L397.3 532.8L396.4 532.2L395.6 531.7L394.9 531.2L394.1 530.6L393.4 530.1L392.7 529.5L392.0 529.0L391.3 528.5L390.7 528.1L390.1 527.7L389.5 527.3L388.9 526.9L388.4 526.5L387.9 526.0L387.4 525.5L387.0 524.8L386.6 524.0L386.3 523.1L386.0 522.0L385.8 520.7L385.6 519.3L385.5 517.7L385.5 516.1L385.5 514.3L385.5 512.4L385.6 510.5L385.6 508.5L385.7 506.4L385.8 504.3L385.9 502.2L386.0 500.0L386.1 497.8L386.3 495.4L386.5 492.9L386.7 490.3L386.9 487.7L387.1 485.1L387.3 482.4L387.6 479.8L387.7 477.2L387.9 474.7L388.0 472.3L388.0 470.0L388.0 467.8L387.9 465.7L387.7 463.6L387.6 461.6L387.3 459.6L387.1 457.6L386.9 455.7L386.7 453.9L386.5 452.1L386.3 450.3L386.1 448.6L386.0 447.0L385.9 445.4L385.8 443.8L385.6 442.3L385.5 440.8L385.4 439.4L385.2 438.0L385.2 436.7L385.2 435.4L385.2 434.2L385.4 433.1L385.6 432.0Z" fill="#29b04a" opacity="0.11" filter="url(#bl)"/>
<g transform="scale(0.1290 0.1)" fill="none" stroke-linecap="round"><path d="M3095 4235h0m20 2h0m12-9h0m-97 49h0m18-31h0m108 28h0m30 4h0m-192 16h0m20 16h0m13-27h0m6 24h0m6-19h0m3 21h0m12-18h0m7 5h0m3-8h0m5 4h0m11 27h0m2-27h0m22 3h0m50 20h0m14-3h0m11-8h0m30 15h0m5-33h0m2 3h0m4 17h0m3 11h0m23-5h0m32 5h0m2-19h0m37 15h0m4-7h0m16 3h0m55 6h0m-410 19h0m1-2h0m5-5h0m14 21h0m4-12h0m16-9h0m6 13h0m21-10h0m3-8h0m6 12h0m4-6h0m3 13h0m8-5h0m5 19h0m16-34h0m0 14h0m9 21h0m7-36h0m23 4h0m0 25h0m35-17h0m5 16h0m13-5h0m0 13h0m10 2h0m3-34h0m38 9h0m2 8h0m3-2h0m19-7h0m7 8h0m7-1h0m5-10h0m13 16h0m3-12h0m57 4h0m7 15h0m8 4h0m8-34h0m18 35h0m20 1h0m7-17h0m-452 42h0m31-5h0m8 3h0m0-3h0m1-14h0m5-1h0m4 9h0m16 7h0m9-14h0m3 0h0m31 13h0m8-3h0m11 14h0m38-4h0m8-24h0m3 13h0m12-14h0m21 10h0m33 20h0m52 4h0m12-16h0m18-7h0m2-3h0m5 12h0m7-5h0m7-4h0m1-2h0m5 1h0m0-2h0m12 8h0m3 4h0m6-3h0m2-13h0m4 18h0m3-7h0m3 9h0m13-16h0m2 24h0m4-2h0m9-11h0m0-12h0m4 32h0m2-33h0m1 20h0m14-12h0m19-10h0m1 33h0m-439 9h0m17-2h0m4 31h0m4-24h0m6-8h0m4 28h0m16 1h0m9-16h0m3 19h0m4-6h0m17 2h0m1-1h0m6-9h0m48-2h0m2 4h0m35 3h0m12-18h0m3 20h0m19 5h0m5-27h0m2 5h0m4-3h0m7 19h0m19 9h0m10-9h0m3-3h0m6 7h0m1-26h0m2 16h0m9-8h0m6 22h0m6-18h0m30 12h0m1-20h0m23 24h0m9-3h0m17-23h0m9-1h0m2 17h0m16 11h0m15-7h0m0-8h0m7 13h0m16-17h0m3-8h0m8 19h0m-440 51h0m2-18h0m13-6h0m2 23h0m4-33h0m7-3h0m35 24h0m7 13h0m7-9h0m9 9h0m1-21h0m16-3h0m3 22h0m3-17h0m40 16h0m5-31h0m4 34h0m6-7h0m7-15h0m14 21h0m18-24h0m1-12h0m14 33h0m35-9h0m3 14h0m0-20h0m1-3h0m5 7h0m1 7h0m7-26h0m1 15h0m5-8h0m16 9h0m12-9h0m3-8h0m6 20h0m5 10h0m14-23h0m8 0h0m10 20h0m3-13h0m4 2h0m9 5h0m0-10h0m9 15h0m28 9h0m21-34h0m4 1h0m1 21h0m12 5h0m4 6h0m2-6h0m5-11h0m3-6h0m-440 47h0m9-8h0m11 4h0m3 6h0m58-10h0m10-10h0m36 14h0m24-4h0m9-1h0m9-4h0m42 16h0m3-16h0m3 19h0m6-22h0m2-4h0m26 11h0m0 12h0m9 11h0m0-30h0m20 1h0m22 5h0m0 0h0m6 16h0m2 13h0m12-1h0m7-32h0m0 22h0m21 8h0m6-6h0m3-27h0m1 31h0m3-31h0m17 11h0m20 18h0m6-15h0m25-9h0m2 21h0m11-1h0m4-18h0m6-9h0m-462 74h0m18-28h0m5-1h0m17 29h0m25 0h0m44-25h0m8 22h0m1-12h0m3-8h0m1-8h0m5 5h0m24-3h0m2 4h0m16 3h0m1-10h0m3-1h0m17 28h0m0 5h0m19 4h0m1-10h0m27-8h0m2 16h0m1 1h0m0-27h0m1 27h0m2 0h0m17-19h0m10 6h0m4 10h0m19-17h0m5 4h0m3 9h0m5-10h0m23 2h0m5-8h0m5-1h0m2 0h0m24 17h0m1-22h0m3-1h0m51-8h0m10 37h0m20-8h0m-443 27h0m3 15h0m3-4h0m11-20h0m13 18h0m3-3h0m3-1h0m12-12h0m12 7h0m19 15h0m3-29h0m4 18h0m5 1h0m3-4h0m13 16h0m7-31h0m3 33h0m3-26h0m6-5h0m1 17h0m19-18h0m4 25h0m16-1h0m23-1h0m2 9h0m19-6h0m7-16h0m9-10h0m4 18h0m32-4h0m10 0h0m11-3h0m26 6h0m9 15h0m15-17h0m24-15h0m3 2h0m2 17h0m19-15h0m13 11h0m38 17h0m2 1h0m7-1h0m4-4h0m17-4h0m-441 39h0m9-19h0m36 2h0m7 19h0m10 6h0m3-1h0m1-24h0m12 15h0m6-5h0m1 4h0m6-6h0m6-1h0m25 8h0m12-19h0m10 19h0m4-8h0m18 18h0m22-3h0m35-1h0m6 7h0m30-24h0m2 26h0m21-20h0m10 11h0m3-22h0m5-6h0m2 18h0m11 10h0m2 2h0m16 1h0m3-27h0m11 26h0m6-10h0m33 7h0m19-18h0m13 19h0m-440 15h0m7 19h0m3-19h0m22 13h0m2 21h0m12-37h0m20 28h0m27-17h0m12-11h0m25 14h0m10 0h0m11-11h0m15 29h0m15 1h0m32-30h0m25 10h0m15 17h0m5 6h0m8-18h0m0 13h0m18-33h0m17 25h0m16-13h0m1 1h0m2 6h0m7-12h0m6 2h0m6 26h0m7-11h0m14 11h0m0-32h0m0 28h0m8-28h0m2 27h0m18-22h0m8-1h0m1-7h0m5 21h0m1-20h0m36 6h0m0 29h0m22-21h0m-444 39h0m0 7h0m13-15h0m2-1h0m3 16h0m20 0h0m6-19h0m20 26h0m8-17h0m1 19h0m11-11h0m7-9h0m24 16h0m2-17h0m21 0h0m1 0h0m39 12h0m31 1h0m69-4h0m10 20h0m3-32h0m5 19h0m8-21h0m9 31h0m5-35h0m53 27h0m0 6h0m2-18h0m8-4h0m18-7h0m13 34h0m-413 14h0m10 0h0m3-1h0m4 0h0m4 26h0m13-23h0m4 16h0m0-25h0m8 11h0m17 11h0m38-13h0m9 11h0m11 6h0m26-30h0m4 20h0m8-7h0m11 10h0m18 7h0m1-14h0m15-16h0m2 24h0m1-11h0m2-14h0m7 35h0m1-35h0m8 14h0m15 12h0m4-24h0m0 25h0m8 0h0m10-24h0m0-1h0m4 25h0m4 9h0m17-22h0m7 24h0m2-5h0m3-13h0m3-20h0m31 6h0m5 14h0m13 4h0m2-18h0m3 19h0m0 6h0m46-26h0m4 34h0m20-2h0m1-26h0m10 11h0m2-10h0m-423 31h0m22-3h0m2 30h0m1 5h0m6 3h0m16-5h0m13-4h0m2 0h0m20-8h0m7 9h0m8 5h0m1-35h0m1 0h0m7 7h0m1 0h0m39 3h0m10 13h0m21 2h0m16-10h0m2-4h0m31 3h0m14 13h0m6 7h0m13-3h0m5-21h0m18 25h0m4-5h0m14-21h0m4-8h0m19 9h0m7 26h0m5-10h0m1 8h0m2-29h0m8 24h0m5-29h0m7 24h0m7-15h0m1 6h0m0 7h0m9-2h0m9 7h0m3-2h0m-394 35h0m11 3h0m7-13h0m3 4h0m8 9h0m24-7h0m13-10h0m5-1h0m2 28h0m28-1h0m1 5h0m2-10h0m3-16h0m4 11h0m4 11h0m3-20h0m4 8h0m6-17h0m1 15h0m1-15h0m48-4h0m10 14h0m11 14h0m2-20h0m1 15h0m6-13h0m7 8h0m15 6h0m3 14h0m8-31h0m31 0h0m38 8h0m9-1h0m7-14h0m9 24h0m2 11h0m3-30h0m4 20h0m6 14h0m14-4h0m6-1h0m11-29h0m14 17h0m-424 20h0m11 10h0m16-1h0m1 0h0m2 16h0m5-16h0m18-7h0m1 8h0m0 11h0m2-10h0m7-1h0m3-5h0m7-3h0m5 28h0m21-14h0m5 19h0m27-15h0m2-4h0m12-3h0m10 11h0m5-13h0m1 0h0m1 24h0m38-25h0m3 5h0m13 11h0m2 1h0m1 6h0m8-11h0m5-4h0m5-1h0m16-5h0m14 11h0m22 3h0m7-6h0m17-7h0m15-8h0m3 14h0m19 7h0m10-4h0m6-23h0m16 4h0m13 3h0m19 29h0m4-32h0m16 13h0m12-15h0m-437 74h0m26-8h0m2-27h0m59 26h0m7-18h0m1 25h0m2-6h0m7-24h0m4 16h0m6 5h0m17-23h0m1 19h0m23 0h0m13-15h0m5 0h0m15 11h0m3 2h0m5 14h0m2-6h0m11-3h0m9-23h0m22 1h0m7 34h0m10-6h0m0-18h0m2-10h0m10 16h0m1 8h0m36-12h0m0 13h0m27-16h0m3-2h0m2 20h0m9-15h0m6 15h0m12-1h0m17-23h0m3 13h0m2-16h0m7 17h0m17 0h0m8-2h0m1 13h0m20-19h0m5 14h0m6-5h0m-457 28h0m14-9h0m4 18h0m9-16h0m6 7h0m10 11h0m7 3h0m2 15h0m10-27h0m2 0h0m4-8h0m3 31h0m3-27h0m4 31h0m1-31h0m0 8h0m3 13h0m14 2h0m27-5h0m3-2h0m1-8h0m7-11h0m3 1h0m9 5h0m7 22h0m4-31h0m14 38h0m16-38h0m5 26h0m4-5h0m10 3h0m43 3h0m10-4h0m14 0h0m0-6h0m13 10h0m27 3h0m9 6h0m9-25h0m9-8h0m10 19h0m7-1h0m18 17h0m7-39h0m2 6h0m3 9h0m6 12h0m23 4h0m8-7h0m6 3h0m17-10h0m0 6h0m-426 41h0m2 3h0m3-7h0m9 13h0m8-24h0m8 5h0m6 3h0m7 12h0m4 6h0m10-7h0m9 11h0m4-20h0m8 16h0m28-11h0m2-1h0m33-14h0m10 25h0m11-11h0m1 6h0m1-4h0m7 13h0m1-4h0m1-32h0m3 4h0m1-3h0m18 11h0m4-4h0m21 29h0m11-7h0m3-4h0m2-8h0m3-11h0m3-5h0m4 26h0m4-12h0m3-4h0m36 23h0m24-12h0m12-19h0m13 18h0m5-14h0m5 17h0m10-9h0m3 16h0m7-13h0m30 9h0m38-4h0m-466 19h0m21 24h0m4-15h0m30 2h0m7 0h0m22 2h0m1 19h0m11-24h0m10 25h0m13-10h0m9-17h0m24 22h0m6-6h0m15-5h0m1 11h0m1 5h0m4-18h0m5 12h0m7-25h0m12 23h0m46-24h0m5 27h0m8-22h0m2 11h0m2-21h0m1 18h0m25-7h0m4 24h0m25-13h0m1-22h0m10 2h0m28 13h0m19-6h0m13-3h0m3 0h0m10 1h0m6 8h0m0 4h0m15-6h0m17 4h0m14 15h0m4-23h0m13 17h0m-461 32h0m27 2h0m2-7h0m0-9h0m3 5h0m6 28h0m2-27h0m13-6h0m7 9h0m1-3h0m1 8h0m4 13h0m19-25h0m12 13h0m7 9h0m12 6h0m5-9h0m9-1h0m31-13h0m6 25h0m1-35h0m12 37h0m16-3h0m1-3h0m2-22h0m2 14h0m27-21h0m10 4h0m2 7h0m10 22h0m10-20h0m15 12h0m9-12h0m30 18h0m10 4h0m13-13h0m14 13h0m1-34h0m2 24h0m6 6h0m1 3h0m4-30h0m4 10h0m2 8h0m12 4h0m11-17h0m6-13h0m4 6h0m3 15h0m8-1h0m2-10h0m1 14h0m4 7h0m5-18h0m39 17h0m-482 33h0m11 7h0m1 3h0m0-27h0m6 12h0m5-15h0m0 15h0m12-10h0m2 3h0m30 11h0m15-17h0m16 8h0m1-4h0m1 17h0m3-23h0m2-3h0m7 28h0m9 2h0m5 0h0m7-19h0m18 22h0m1-6h0m4-5h0m0-10h0m6-10h0m6-2h0m4 20h0m5-2h0m22-15h0m6 26h0m7-4h0m7-20h0m12 18h0m3 13h0m30 2h0m20-3h0m11-22h0m8 6h0m2 15h0m3-29h0m1 3h0m9 21h0m1-23h0m2 22h0m19 4h0m11-32h0m24 30h0m5-23h0m13 18h0m1-5h0m11-19h0m21 33h0m4-7h0m6 4h0m1 2h0m2 3h0m0-24h0m2 25h0m7-16h0m8-5h0m20 7h0m-469 19h0m1 6h0m6 23h0m15-4h0m8-25h0m18 11h0m11 9h0m6-5h0m3-5h0m7 12h0m7-3h0m2 11h0m1-26h0m35 31h0m7-11h0m12-4h0m12 2h0m7 8h0m2-21h0m15 22h0m4-24h0m5 28h0m3-20h0m2 17h0m10-5h0m9 0h0m1-15h0m21 22h0m15-22h0m10 23h0m16-15h0m5 9h0m7-13h0m3-9h0m0-8h0m12 26h0m1-12h0m11-1h0m2 0h0m3 19h0m6-31h0m2 8h0m13-3h0m3-7h0m3 35h0m4-33h0m6 16h0m64-5h0m4 19h0m8-10h0m7 5h0m6-1h0m4-3h0m13 8h0m-468 44h0m7-26h0m16 2h0m39 6h0m1-3h0m2-7h0m2 10h0m0-15h0m8 30h0m0-19h0m1 25h0m13-1h0m0-13h0m5-12h0m16 4h0m4-4h0m2 25h0m5-32h0m6 14h0m1-9h0m14 22h0m5-15h0m20-3h0m4-10h0m3 18h0m2-14h0m5 12h0m2 0h0m15-13h0m2 16h0m5-3h0m7 14h0m7-29h0m3 11h0m4-14h0m0 20h0m15 2h0m0 10h0m0 1h0m18-24h0m4 28h0m10-24h0m3-6h0m6-8h0m3 14h0m6-14h0m2 11h0m14-3h0m6 28h0m2-12h0m10-24h0m15 28h0m8-27h0m11 28h0m1-6h0m7-2h0m6-7h0m18-11h0m9 26h0m1-10h0m3-20h0m8 6h0m0 5h0m5 11h0m5-6h0m2-9h0m4 23h0m9-19h0m2 23h0m7-28h0m11 25h0m12-18h0m-467 34h0m13 10h0m13 18h0m2-10h0m3-4h0m4 16h0m7-1h0m4-36h0m8 10h0m1 28h0m32-9h0m9 4h0m14 0h0m18-4h0m5-22h0m15-5h0m11 20h0m33-6h0m20 5h0m1 8h0m1-15h0m17-12h0m13 21h0m9 12h0m4-30h0m3 2h0m18 13h0m12-14h0m2 15h0m22-9h0m0 20h0m3-31h0m4 6h0m6-6h0m2 25h0m28-16h0m21 0h0m8 28h0m1-15h0m33 4h0m12 0h0m17-17h0m1 2h0m11 9h0m21-21h0m-444 52h0m9 1h0m5-3h0m16 29h0m13-30h0m5 27h0m4-29h0m28 17h0m6 5h0m7-10h0m9 4h0m16-3h0m8-9h0m5 7h0m1 16h0m1-20h0m4 14h0m0-20h0m39 27h0m1-8h0m2 7h0m14-26h0m3 29h0m12-19h0m0 11h0m9-20h0m1 26h0m14-11h0m9-3h0m6-1h0m9 15h0m2-7h0m5-4h0m8-19h0m9 25h0m2-21h0m35 10h0m2-3h0m4 5h0m4-1h0m4 14h0m3-23h0m0 5h0m1 20h0m6 0h0m7-24h0m8-11h0m49-1h0m-383 58h0m9 15h0m15-15h0m23-12h0m12 9h0m5 5h0m8 1h0m14 2h0m4-22h0m4 1h0m11 23h0m3-22h0m15 5h0m19 23h0m25-10h0m13 0h0m22-21h0m11 7h0m11 17h0m1-13h0m11 21h0m5 0h0m11-12h0m2 7h0m9 5h0m68-2h0m4-8h0m16 12h0m6-20h0m23 21h0m19-35h0m-315 65h0m15 9h0m2-28h0m4 24h0m8-30h0m3 28h0m3-7h0m54 12h0m25-33h0m4 8h0m32 3h0m3 12h0m3 16h0m17-18h0m8 13h0m7-31h0m10 18h0m1-17h0m2-2h0m3 26h0m10-24h0m10 31h0m11-31h0m16 27h0m7-29h0m21 1h0m11 9h0m-262 32h0m19 20h0m7-19h0m52 0h0m51 14h0" stroke="#29b04a" stroke-width="16"/></g>
<g transform="scale(0.1290 0.1)" fill="none" stroke-linecap="round"><path d="M3118 4316h0m-28 24h0m1 18h0m10-14h0m15 3h0m11 5h0m19-1h0m0 8h0m10-30h0m7 23h0m10-7h0m6 6h0m10-11h0m10 6h0m3 10h0m2-22h0m1 17h0m4-19h0m2 23h0m1-5h0m4-7h0m3-8h0m1 8h0m6-1h0m6 12h0m0-3h0m1-9h0m3 5h0m-150 38h0m1-20h0m9-1h0m6 22h0m14 3h0m5-10h0m1-14h0m3 30h0m6 0h0m1-13h0m13-21h0m2 0h0m1 28h0m9-8h0m2 12h0m0-15h0m7 6h0m0-8h0m2-4h0m1 27h0m3-34h0m0 11h0m6-5h0m2 28h0m2-23h0m6 10h0m1-6h0m1 5h0m3 5h0m1 7h0m19-28h0m10 29h0m1-2h0m0-29h0m0 6h0m8 21h0m6-13h0m3-11h0m11-1h0m6 20h0m7-3h0m9-14h0m11 14h0m1 13h0m-217 17h0m16-6h0m2 8h0m0 17h0m4 2h0m1-2h0m2-6h0m4 7h0m3-26h0m2 17h0m1-11h0m2-1h0m18-1h0m19-10h0m5 1h0m2 1h0m0 22h0m4-27h0m6 1h0m9 20h0m1 12h0m6-31h0m9 4h0m1 23h0m5-19h0m6 4h0m0 21h0m7-5h0m2-26h0m4 18h0m9 0h0m2 12h0m1-7h0m1 2h0m11-29h0m3 18h0m7-9h0m1 7h0m8 22h0m5-18h0m8-12h0m3 19h0m4 7h0m7-21h0m2 21h0m1-12h0m9 11h0m6-10h0m7-1h0m-215 27h0m6 29h0m10-11h0m1-7h0m8 11h0m6-20h0m9 8h0m5 17h0m2 2h0m1-23h0m8-10h0m0 29h0m11-10h0m6 12h0m1-26h0m5 21h0m5-2h0m10-24h0m4 6h0m0 25h0m4-10h0m1-9h0m3-2h0m1 17h0m5 5h0m12-22h0m17 6h0m2-1h0m12-18h0m2 15h0m5 19h0m5-14h0m4 10h0m10-21h0m0 19h0m3 5h0m7-36h0m4 23h0m5 15h0m7-23h0m-220 50h0m10-12h0m5 26h0m4-22h0m3 7h0m3 14h0m9-25h0m10 8h0m2-13h0m11 3h0m9 15h0m1 5h0m1-10h0m2-9h0m1 21h0m5 3h0m8-23h0m2 22h0m14-12h0m1-8h0m0 14h0m0-12h0m1-16h0m13 13h0m10-12h0m6 6h0m15-6h0m1 33h0m2-22h0m2-1h0m1-9h0m3 28h0m2-9h0m11-12h0m4 12h0m10-11h0m10 26h0m6-12h0m0-5h0m9 16h0m19-28h0m2 17h0m10-19h0m3 1h0m4 21h0m1-6h0m2 1h0m-236 20h0m7 23h0m8 12h0m1-23h0m1 13h0m4-24h0m4 12h0m8-5h0m0 12h0m3 11h0m3-17h0m8 16h0m14-30h0m2 15h0m5 2h0m0-17h0m1 3h0m0-1h0m5 17h0m24 11h0m5-29h0m5 6h0m3 15h0m1 2h0m0-3h0m7 0h0m1 2h0m0 13h0m1-28h0m0 18h0m1-23h0m0 26h0m3-19h0m6 21h0m4-17h0m0 17h0m2-15h0m1-1h0m1-11h0m3 18h0m3-18h0m8 9h0m2 0h0m13-15h0m0 22h0m3 4h0m4-14h0m4-9h0m5-4h0m4 8h0m7 3h0m6-6h0m4 26h0m2-27h0m14-4h0m2 33h0m-221 16h0m5 5h0m22 9h0m5 14h0m1-32h0m2 34h0m3-25h0m0-14h0m2 2h0m5 11h0m2 13h0m7-17h0m2 0h0m4 10h0m4 4h0m5-7h0m9 0h0m5 18h0m1-2h0m0-28h0m1-3h0m8 1h0m0 25h0m5 9h0m0-20h0m0 17h0m9-22h0m0-4h0m4 23h0m4-25h0m3 4h0m0 29h0m1-33h0m2 23h0m1-19h0m7 30h0m10-10h0m1-10h0m0-10h0m2 8h0m1 7h0m3 9h0m3-2h0m4-6h0m10-17h0m7 12h0m10 13h0m1-10h0m7-20h0m2 17h0m7 2h0m15-11h0m2 24h0m1-32h0m5-1h0m-194 75h0m9-36h0m1 8h0m1-4h0m2 31h0m1-36h0m0 11h0m2 16h0m5-7h0m10-9h0m2 19h0m9-9h0m2-15h0m1 32h0m0-2h0m2 0h0m1-10h0m2 0h0m0-24h0m6 24h0m7 12h0m0-5h0m5-30h0m12 26h0m2 5h0m11-26h0m11-8h0m1 22h0m7 11h0m8-6h0m7 2h0m1-21h0m1 23h0m2-27h0m5 32h0m2 0h0m1-26h0m0 24h0m1-28h0m2 2h0m1 13h0m12 3h0m4 9h0m3-15h0m1 13h0m6-19h0m0-2h0m2-2h0m10 14h0m-163 35h0m5 9h0m1-2h0m12-11h0m27 3h0m6-7h0m2 24h0m9-1h0m7-14h0m5 19h0m29-30h0m5 24h0m7-27h0m1 27h0m13-26h0m3 21h0m14-12h0m-109 35h0m22-6h0m9 2h0m18 15h0" stroke="#29b04a" stroke-width="16"/></g>
<g transform="scale(0.1290 0.1)" fill="none" stroke-linecap="round"><path d="M3092 4755h0m27-5h0m43-11h0m2 14h0m29 0h0m-149 22h0m40 16h0m9-11h0m16 17h0m2-29h0m5 7h0m2 16h0m11 3h0m22-18h0m1 13h0m12-17h0m23 9h0m21 8h0m3 3h0m-167 39h0m7-26h0m13 2h0m9 24h0m10-8h0m0 7h0m1-8h0m5 13h0m1-7h0m0 10h0m23-37h0m6 28h0m13-27h0m0 7h0m2 11h0m1-1h0m1 19h0m3-32h0m1 31h0m4-37h0m1 7h0m2 6h0m2-9h0m3 29h0m3-25h0m10-3h0m0 5h0m1-9h0m2 37h0m5-21h0m0-9h0m1 8h0m0-10h0m3-2h0m5 31h0m0 3h0m3-18h0m2-9h0m15 21h0m0-24h0m1 7h0m9 20h0m10-18h0m8 14h0m4-2h0m-218 14h0m12 21h0m3 1h0m3 13h0m9-13h0m1-20h0m8 31h0m3-4h0m3-8h0m2 10h0m1-13h0m2-11h0m2 4h0m3 15h0m6-23h0m0 12h0m0-16h0m4 23h0m2-25h0m10 16h0m16 12h0m4-7h0m1-11h0m11 4h0m0-7h0m4 32h0m19-26h0m2 22h0m4-27h0m5 6h0m0 10h0m6 13h0m0-28h0m7 24h0m3 4h0m1-29h0m2 9h0m4-1h0m7 19h0m7-30h0m1 23h0m7-23h0m1 23h0m14-5h0m10-23h0m1 32h0m2-11h0m6-17h0m4 32h0m1-31h0m7 33h0m8-4h0m-243 44h0m21-5h0m18-12h0m1-19h0m1 24h0m3-24h0m10 20h0m1-11h0m1 28h0m1-36h0m2 24h0m1 3h0m0-23h0m4 4h0m3 1h0m2 27h0m6-31h0m1 1h0m1 9h0m2 5h0m15 10h0m2-6h0m0 8h0m21-17h0m3 13h0m1-17h0m0 1h0m8 9h0m2-9h0m3 0h0m4 1h0m0-2h0m7 4h0m8 10h0m1 5h0m3-11h0m0-19h0m10 20h0m3-10h0m10-10h0m7 17h0m2 1h0m0-7h0m3 18h0m0-29h0m2 3h0m4-1h0m9 15h0m1-6h0m1 12h0m2-17h0m0 16h0m0 6h0m1-22h0m7 1h0m1-3h0m2 29h0m5-32h0m3 35h0m6-21h0m6 10h0m8 8h0m-249 38h0m11 0h0m6-32h0m5 29h0m7 4h0m4-23h0m4 11h0m7 12h0m5-16h0m4-7h0m0 23h0m6-19h0m14-2h0m2-10h0m7 1h0m5 22h0m7-27h0m1 4h0m10 33h0m0-4h0m7-10h0m3-12h0m3-3h0m9-7h0m0 30h0m1-6h0m0-25h0m2 19h0m8-11h0m3-6h0m29 32h0m8-23h0m3 6h0m6 4h0m27-13h0m13 0h0m14 14h0m14 1h0m1 3h0m-253 43h0m7-20h0m6 12h0m2 1h0m3-18h0m11 28h0m0-7h0m2-22h0m12 3h0m1 2h0m1-5h0m4 17h0m6-8h0m3 26h0m5-37h0m2 16h0m7 22h0m9-31h0m4 15h0m3-15h0m7 9h0m3 13h0m2-7h0m4 4h0m7-4h0m6-12h0m2 22h0m13-6h0m5-4h0m1 1h0m2-14h0m1-4h0m9 6h0m2 7h0m2-18h0m19 20h0m3 18h0m0-17h0m2-7h0m0-2h0m9 8h0m0 6h0m18-11h0m7-13h0m15 18h0m13 8h0m8-5h0m1-8h0m4-15h0m10 11h0m-271 50h0m3 10h0m1 0h0m30-1h0m10-30h0m3 21h0m9 13h0m6-12h0m0 13h0m3-29h0m2 20h0m11-7h0m9 11h0m7 1h0m0-11h0m6 13h0m2-9h0m1-25h0m2 32h0m1-9h0m2-4h0m4-17h0m0 26h0m7-20h0m1 7h0m2 24h0m3-15h0m6-14h0m4 20h0m1-11h0m12 5h0m18-14h0m0 16h0m3-11h0m10 21h0m9-34h0m9 31h0m3-18h0m3 14h0m5 3h0m28-30h0m6 4h0m1 17h0m8 13h0m1-23h0m17 17h0m4-9h0m-246 41h0m16 6h0m3-25h0m0 24h0m16 11h0m0-2h0m1-35h0m5 5h0m3-3h0m4 23h0m0 2h0m9 6h0m4-30h0m3 32h0m6-25h0m4 16h0m18-13h0m0-12h0m1 19h0m5 17h0m2-4h0m3-1h0m1-10h0m6 13h0m5-17h0m6 8h0m16 3h0m0-7h0m2-7h0m5-2h0m2-5h0m1-4h0m0 3h0m1 29h0m6-30h0m3 18h0m14-25h0m13 10h0m4-4h0m8 10h0m2 9h0m1-5h0m4-18h0m6 22h0m3-9h0m11 4h0m9-8h0m12 1h0m1 2h0m13-6h0m-286 47h0m2 21h0m26-8h0m0-16h0m0 1h0m3 24h0m1-36h0m3 24h0m3 12h0m4-32h0m8 17h0m2 9h0m8 5h0m2-26h0m1 1h0m1-1h0m3-3h0m2 19h0m1 6h0m1 0h0m14 2h0m0-30h0m2 20h0m9-3h0m0-6h0m3-6h0m3-9h0m3 16h0m0-10h0m11 8h0m0-6h0m3 14h0m6-20h0m5 8h0m2 4h0m8-2h0m1-4h0m0 20h0m1-24h0m3 9h0m6 7h0m4-6h0m1 10h0m0 10h0m1-23h0m19 6h0m0 18h0m1-35h0m11 21h0m7 1h0m7 1h0m16 0h0m13-10h0m2-9h0m1 8h0m8 20h0m13 4h0m1-25h0m24 11h0m1 0h0m21 4h0m-293 31h0m13 3h0m1-4h0m19-2h0m4-13h0m0 25h0m18 11h0m4-4h0m0-28h0m7 16h0m2-15h0m5 4h0m5 29h0m19-1h0m1-2h0m6-25h0m3-1h0m0 3h0m12 22h0m1-18h0m4 15h0m1-32h0m7 38h0m2-36h0m2 5h0m4 23h0m2 3h0m6-10h0m3-12h0m1 25h0m4-24h0m1-2h0m3 28h0m3-4h0m11-4h0m1-15h0m8 1h0m0 21h0m1-16h0m0 7h0m6-12h0m4 3h0m1-7h0m4-4h0m1 2h0m11 23h0m10-8h0m16-2h0m3-8h0m1 14h0m3-5h0m3 14h0m1-29h0m3 12h0m3-12h0m8-9h0m8 12h0m-249 42h0m7 2h0m1-1h0m7-13h0m4 21h0m0-1h0m2-7h0m4 13h0m2-6h0m8-14h0m1-3h0m0-1h0m4 32h0m3-19h0m4 3h0m4 7h0m4-11h0m13-1h0m13-12h0m6 10h0m12 1h0m8-12h0m4 4h0m0 33h0m3-6h0m9-7h0m2-10h0m3 14h0m3 3h0m7-2h0m17-15h0m14 16h0m3-8h0m4-1h0m1-1h0m3-19h0m0-3h0m7 7h0m1 7h0m1-7h0m4 20h0m2 5h0m9-23h0m2 23h0m8 3h0m2-10h0m2-4h0m4-4h0m2 17h0m1-19h0m41-6h0m-241 68h0m14-10h0m1 11h0m6-10h0m12-4h0m1-7h0m11-8h0m12-7h0m8 18h0m11 7h0m1-27h0m0 23h0m11-11h0m1 23h0m2-4h0m15 3h0m1 4h0m7-10h0m10-19h0m2 25h0m3-28h0m3 15h0m8 6h0m1 6h0m1-21h0m15 11h0m6-20h0m0 2h0m4 8h0m1 14h0m5-1h0m5-13h0m1 0h0m1-9h0m7 15h0m2-14h0m0 16h0m6-4h0m2-3h0m5 22h0m6-20h0m8 23h0m15-21h0m-237 45h0m0-15h0m4-8h0m3 16h0m14 5h0m5-6h0m0-9h0m2 9h0m3-12h0m8 34h0m21-37h0m6 11h0m6-10h0m0 35h0m4-2h0m2-25h0m5 5h0m3-8h0m1 5h0m4 0h0m12 22h0m11-29h0m30 14h0m11-6h0m0 2h0m4-1h0m2-3h0m4-8h0m2 36h0m0-16h0m1-13h0m6 13h0m2 9h0m13 0h0m13-22h0m14 24h0m2-12h0m0-6h0m0 14h0m2-3h0m3 9h0m2-25h0m-197 41h0m2 9h0m8 10h0m6-13h0m0-2h0m3 0h0m2 22h0m2-2h0m12-30h0m3 10h0m1 18h0m6 3h0m1-31h0m8 24h0m0-11h0m0-12h0m2 33h0m5-11h0m4-27h0m3 20h0m12 1h0m3-14h0m13 0h0m4 19h0m10-27h0m6 22h0m0-22h0m8 0h0m7 17h0m1-15h0m4 12h0m7 2h0m11 20h0m4 0h0m12-19h0m3 17h0m3-27h0m8 27h0m-172 15h0m10-3h0m19 14h0m1 8h0m2-28h0m14 26h0m11-10h0m20 8h0m0-13h0m14 24h0m3 2h0m1-11h0m2-19h0m3 0h0m4-7h0m5 7h0m2 5h0m3-10h0m2 29h0m16-27h0m3-3h0m2 8h0m1 4h0m0-8h0m1-2h0m5 5h0m3 15h0m4 13h0m-91 4h0m11 3h0m3 0h0m9 1h0m31 7h0" stroke="#29b04a" stroke-width="16"/></g>
<g transform="scale(0.1290 0.1)" fill="none" stroke-linecap="round"><path d="M3378 4399h0m1-20h0m6 0h0m14-15h0m3-3h0m13 8h0m14 21h0m-61 28h0m15 9h0m1 4h0m4-18h0m5 7h0m3 3h0m10 10h0m1-20h0m7 17h0m1-25h0m3 5h0m3 15h0m7-7h0m8 8h0m7-21h0m0-5h0m5 1h0m4 37h0m11-27h0m3 28h0m-91 12h0m17-3h0m20 8h0m7-14h0m1 30h0m4-5h0m5-10h0m1 12h0m2 6h0m1-24h0m5 25h0m0-17h0m13-1h0m4 8h0m-77 37h0m9 6h0m4 8h0m12-35h0m4 34h0m3-24h0m1-10h0m1 30h0m3-23h0m7 27h0m4-5h0m1-11h0m2 1h0m6 15h0m3-5h0m10 7h0m-90 24h0m33 12h0m3-25h0m2 13h0m0 7h0m3-23h0m4 32h0m2-8h0m2-25h0m2 27h0m1-14h0m4-17h0m1 34h0m3-21h0m3-4h0m1-10h0m2 34h0m11-4h0m1-8h0m7 5h0m0-22h0m2-2h0m6 5h0m6 23h0m6-17h0m3-12h0m1 12h0m-91 32h0m9 30h0m7-4h0m2-18h0m19-13h0m17 30h0m14-19h0m1-1h0m10 28h0m8-32h0m-66 66h0m2-3h0m4-23h0m22 11h0m5 18h0m1 2h0m3-34h0m1 13h0m12 15h0m8-3h0m-71 14h0m3 19h0m9-10h0m47 17h0m6 2h0m1-2h0m11-25h0m-20 41h0" stroke="#29b04a" stroke-width="16"/></g>
<g transform="scale(0.1290 0.1)" fill="none" stroke-linecap="round"><path d="M3386 5076h0m47-23h0m31 21h0m-84 38h0m16-5h0m0 6h0m3-33h0m7 37h0m2-25h0m3 11h0m14-3h0m2-11h0m3 13h0m3-15h0m21 2h0m5 8h0m10-9h0m-91 63h0m0-19h0m7 0h0m19 26h0m0-14h0m1-16h0m6 2h0m18 6h0m0-10h0m0 28h0m4 2h0m1-21h0m1 15h0m6-5h0m2-4h0m4 5h0m0-24h0m4 37h0m-72 31h0m8-9h0m9 3h0m0 9h0m6-22h0m3 24h0m0-7h0m1 1h0m9-10h0m4-10h0m10 5h0m1 23h0m19-10h0m4 8h0m-88 7h0m29 35h0m4-7h0m7-15h0m6-15h0m13 24h0m6 6h0m6-12h0m8-8h0m17 2h0m0-12h0m2 26h0m1 7h0m10 6h0m-90 25h0m15-5h0m0-4h0m2 18h0m14-28h0m5 7h0m25 2h0m2 17h0m1-8h0m20-23h0m-96 74h0m26-24h0m0 27h0m4-3h0m0-16h0m1 8h0m4-13h0m4 0h0m10-1h0m9 7h0m3-14h0m0 10h0m3-2h0m10-5h0m2-4h0m-52 37h0m12 2h0m18 9h0" stroke="#29b04a" stroke-width="16"/></g>
<path d="M374.0 480.0L374.3 478.7L374.5 477.4L374.8 476.2L375.0 474.9L375.3 473.7L375.6 472.6L375.9 471.5L376.3 470.4L376.7 469.4L377.1 468.5L377.5 467.7L378.0 467.0L378.5 466.3L379.1 465.7L379.8 465.1L380.4 464.6L381.2 464.2L381.9 463.8L382.6 463.5L383.3 463.4L384.0 463.3L384.7 463.4L385.4 463.6L386.0 464.0L386.6 464.5L387.2 465.3L387.8 466.1L388.3 467.1L388.9 468.2L389.4 469.4L390.0 470.7L390.4 472.1L390.9 473.5L391.3 475.0L391.7 476.5L392.0 478.0L392.3 479.6L392.4 481.2L392.6 483.0L392.7 484.8L392.7 486.7L392.8 488.6L392.8 490.6L392.8 492.5L392.8 494.5L392.8 496.4L392.9 498.2L393.0 500.0L393.1 501.8L393.3 503.5L393.4 505.3L393.5 507.0L393.7 508.8L393.8 510.5L394.0 512.2L394.1 513.9L394.3 515.5L394.5 517.0L394.8 518.5L395.0 520.0L395.3 521.4L395.7 522.8L396.2 524.2L396.7 525.6L397.2 526.9L397.7 528.2L398.2 529.4L398.6 530.5L398.9 531.6L399.1 532.5L399.1 533.3L399.0 534.0L398.7 534.6L398.2 535.0L397.6 535.4L396.9 535.6L396.1 535.8L395.2 535.9L394.3 535.9L393.3 535.8L392.4 535.7L391.5 535.5L390.7 535.3L390.0 535.0L389.3 534.7L388.7 534.2L388.1 533.8L387.5 533.2L386.9 532.6L386.4 531.9L385.8 531.1L385.3 530.4L384.7 529.6L384.1 528.7L383.6 527.9L383.0 527.0L382.4 526.1L381.8 525.2L381.2 524.2L380.6 523.1L379.9 522.1L379.3 521.0L378.7 519.9L378.1 518.7L377.5 517.6L377.0 516.4L376.5 515.2L376.0 514.0L375.5 512.8L375.1 511.5L374.6 510.3L374.2 509.0L373.8 507.6L373.4 506.3L373.1 505.0L372.8 503.6L372.5 502.2L372.3 500.8L372.1 499.4L372.0 498.0L372.0 496.6L372.0 495.1L372.0 493.5L372.1 492.0L372.3 490.4L372.5 488.8L372.7 487.2L373.0 485.7L373.2 484.2L373.5 482.7L373.7 481.3Z" fill="#ee6f69" opacity="0.14" filter="url(#bl)"/>
<g transform="scale(0.1290 0.1)" fill="none" stroke-linecap="round"><path d="M2934 4658h0m1 16h0m20-7h0m1-6h0m16-3h0m0 21h0m1-25h0m1 5h0m7-6h0m1 14h0m5-23h0m2 29h0m17-11h0m5 11h0m-83 22h0m2-6h0m0 12h0m16-9h0m4-12h0m0 15h0m19 9h0m13-7h0m10-8h0m0 15h0m20-7h0m14-2h0m-122 48h0m15-21h0m2 37h0m6-29h0m9 7h0m1 21h0m13-24h0m7 22h0m56-31h0m2 32h0m3-14h0m12 5h0m-129 13h0m8 3h0m6 23h0m0 9h0m6 2h0m14-8h0m3-12h0m10 5h0m24-23h0m3 2h0m1 23h0m16 4h0m2-27h0m2 1h0m3 22h0m15-4h0m5 7h0m-113 25h0m7-11h0m2 18h0m19-14h0m8 5h0m1 10h0m0-9h0m3 0h0m2 10h0m5 16h0m1-19h0m4 20h0m0-34h0m1 32h0m2-1h0m11-1h0m8-18h0m1-3h0m9-3h0m8 3h0m8 14h0m7 6h0m2-6h0m3 2h0m2-28h0m0 13h0m4 9h0m17 5h0m38-8h0m-189 22h0m2 14h0m15 19h0m7-30h0m6 9h0m10 15h0m8 1h0m1-2h0m5-22h0m5-6h0m1 3h0m5 17h0m5 18h0m7-32h0m0 10h0m21 1h0m1 21h0m10-15h0m5 1h0m10 9h0m7-1h0m4-28h0m22 6h0m-126 56h0m7-24h0m2 3h0m9 19h0m22 13h0m2-3h0m3 4h0m12-38h0m5 37h0m1-22h0m1 2h0m16-1h0m3-13h0m0 28h0m8-7h0m1 8h0m17-19h0m5 5h0m1 5h0m5-12h0m-149 40h0m9 8h0m1-18h0m8 3h0m7 25h0m4-23h0m13-1h0m25 7h0m14 5h0m5 7h0m15-7h0m0 13h0m10 7h0m9-28h0m14-10h0m1 29h0m1-29h0m1 11h0m-144 62h0m13-9h0m2 9h0m19-28h0m2 4h0m1 3h0m11 23h0m2-33h0m6 29h0m1-14h0m16-5h0m7 11h0m2-11h0m3-4h0m1 25h0m1 0h0m11-3h0m4-16h0m17 8h0m3 1h0m4-22h0m1 13h0m11 23h0m0-25h0m7-7h0m17 18h0m4-22h0m-147 55h0m4 9h0m1 0h0m13 2h0m4-20h0m2 22h0m8 2h0m6-2h0m0 0h0m5-3h0m4-20h0m0 29h0m3-8h0m3-17h0m5 4h0m13 11h0m12-21h0m9 5h0m6-6h0m8 36h0m15-28h0m2 25h0m18 1h0m4-19h0m-155 36h0m3-8h0m12-2h0m2 35h0m1-10h0m5-27h0m4 16h0m1-9h0m33 23h0m10-7h0m4 7h0m15 2h0m2-31h0m4 31h0m6-30h0m2 9h0m1 13h0m8-1h0m13-15h0m18 17h0m2-10h0m3 1h0m14 9h0m-155 27h0m7 25h0m6-22h0m4-9h0m7 23h0m5-31h0m3 10h0m12-6h0m1 16h0m3-6h0m10 0h0m2-6h0m1 8h0m11 22h0m1-4h0m16-20h0m11 3h0m4-7h0m14 27h0m4-10h0m17-4h0m16 11h0m-151 33h0m18 4h0m24-5h0m23 5h0m23-3h0m2 0h0m15-25h0m2 30h0m1-24h0m3 10h0m3-9h0m10-10h0m29 10h0m13 23h0m-159 19h0m30 14h0m5 11h0m11-18h0m2 4h0m5-13h0m1-5h0m5 27h0m25-20h0m13-12h0m4 0h0m6 0h0m14 34h0m7 2h0m8-24h0m8-9h0m1 28h0m2-5h0m-115 52h0m12-35h0m3 12h0m16 5h0m17-16h0m3 14h0m14 1h0m8 6h0m7-11h0m9-5h0m20 17h0m2 1h0m12 6h0m-91 15h0m6 22h0m16-19h0m5 22h0m15-15h0m6-12h0m6 18h0m2 6h0m12-12h0m1 1h0m1-17h0m1 0h0m2 24h0m1 11h0m2-29h0m-66 41h0m24 14h0m5-3h0m5-2h0m7-16h0m4 29h0m5-3h0m7-7h0m2-2h0m1 7h0m13-15h0m5 19h0m12 7h0m6-1h0m1 3h0m1-5h0m-81 16h0m23 0h0m2-5h0m6 16h0m3 6h0m21-6h0m19 4h0m-34 27h0" stroke="#ee6f69" stroke-width="16"/></g>
<path d="M149.0 176.0L149.8 175.9L150.6 175.9L151.4 175.9L152.1 175.9L152.8 176.0L153.6 176.2L154.3 176.4L155.0 176.6L155.7 176.9L156.5 177.2L157.2 177.6L158.0 178.0L158.8 178.4L159.6 179.0L160.5 179.5L161.3 180.1L162.2 180.8L163.1 181.4L163.9 182.2L164.8 182.9L165.6 183.6L166.4 184.4L167.2 185.2L168.0 186.0L168.7 186.8L169.5 187.7L170.2 188.6L170.9 189.5L171.5 190.5L172.2 191.4L172.8 192.4L173.5 193.4L174.1 194.3L174.7 195.2L175.4 196.1L176.0 197.0L176.6 197.8L177.2 198.7L177.8 199.5L178.3 200.3L178.9 201.0L179.4 201.8L180.0 202.6L180.6 203.3L181.1 204.0L181.7 204.7L182.3 205.4L183.0 206.0L183.7 206.6L184.4 207.2L185.1 207.7L185.9 208.2L186.6 208.7L187.4 209.2L188.1 209.7L188.9 210.1L189.7 210.6L190.5 211.0L191.2 211.5L192.0 212.0L192.8 212.5L193.5 213.0L194.3 213.5L195.1 214.1L196.0 214.6L196.8 215.1L197.5 215.6L198.3 216.1L199.0 216.6L199.7 217.1L200.4 217.6L201.0 218.0L201.6 218.4L202.2 218.8L202.9 219.1L203.5 219.4L204.1 219.7L204.6 220.0L205.1 220.3L205.5 220.6L205.8 220.9L206.0 221.2L206.1 221.6L206.0 222.0L205.7 222.4L205.3 222.9L204.8 223.4L204.1 223.9L203.4 224.5L202.6 225.0L201.7 225.5L200.7 226.1L199.8 226.6L198.8 227.1L197.9 227.6L197.0 228.0L196.1 228.4L195.2 228.8L194.2 229.1L193.3 229.4L192.3 229.7L191.2 230.0L190.2 230.3L189.2 230.6L188.1 230.9L187.1 231.2L186.0 231.6L185.0 232.0L184.0 232.4L182.9 232.9L181.9 233.4L180.8 233.9L179.8 234.4L178.7 234.9L177.6 235.5L176.5 236.0L175.4 236.5L174.3 237.0L173.2 237.5L172.0 238.0L170.8 238.5L169.6 238.9L168.4 239.4L167.1 239.8L165.9 240.3L164.6 240.7L163.4 241.1L162.1 241.5L160.8 241.9L159.5 242.3L158.3 242.7L157.0 243.0L155.8 243.3L154.5 243.6L153.3 243.9L152.0 244.1L150.8 244.4L149.6 244.6L148.3 244.9L147.1 245.1L145.8 245.3L144.6 245.5L143.3 245.8L142.0 246.0L140.7 246.3L139.4 246.6L138.0 246.9L136.6 247.2L135.3 247.5L133.9 247.8L132.5 248.1L131.1 248.4L129.8 248.6L128.5 248.8L127.2 248.9L126.0 249.0L124.8 249.0L123.6 249.0L122.4 248.9L121.3 248.9L120.2 248.7L119.1 248.6L118.0 248.4L116.9 248.1L115.9 247.9L114.9 247.6L113.9 247.3L113.0 247.0L112.1 246.6L111.2 246.2L110.3 245.8L109.4 245.3L108.6 244.8L107.8 244.3L107.1 243.8L106.3 243.2L105.7 242.7L105.0 242.1L104.5 241.5L104.0 241.0L103.6 240.5L103.2 239.9L102.9 239.4L102.6 238.8L102.4 238.3L102.2 237.7L102.1 237.1L102.0 236.5L102.0 235.9L102.0 235.3L102.0 234.7L102.0 234.0L102.1 233.3L102.2 232.7L102.3 232.0L102.5 231.3L102.7 230.5L103.0 229.8L103.3 229.1L103.6 228.3L103.9 227.5L104.3 226.7L104.6 225.9L105.0 225.0L105.4 224.1L105.8 223.2L106.2 222.2L106.7 221.2L107.2 220.2L107.7 219.2L108.2 218.2L108.7 217.1L109.3 216.1L109.8 215.0L110.4 214.0L111.0 213.0L111.6 212.0L112.2 211.0L112.8 210.0L113.5 209.0L114.1 207.9L114.8 206.9L115.5 205.9L116.2 204.9L116.9 203.9L117.6 202.9L118.3 202.0L119.0 201.0L119.7 200.0L120.4 199.1L121.2 198.1L121.9 197.2L122.6 196.2L123.4 195.3L124.1 194.4L124.9 193.5L125.7 192.6L126.4 191.7L127.2 190.8L128.0 190.0L128.8 189.2L129.6 188.3L130.4 187.5L131.2 186.7L132.0 185.9L132.9 185.1L133.7 184.4L134.6 183.6L135.4 182.9L136.3 182.2L137.1 181.6L138.0 181.0L138.9 180.4L139.8 179.9L140.7 179.3L141.7 178.8L142.6 178.3L143.6 177.8L144.5 177.4L145.4 177.0L146.4 176.7L147.3 176.4L148.2 176.2Z" fill="#93a93c" opacity="0.2" filter="url(#bl)"/>
<g transform="scale(0.1290 0.1)" fill="none" stroke-linecap="round"><path d="M1098 1758h0m58-33h0m39 11h0m-117 45h0m14 16h0m0-4h0m3 5h0m7-32h0m5 18h0m4-9h0m2 21h0m12-10h0m1 7h0m13-5h0m1-22h0m7 32h0m2-36h0m10 22h0m11-12h0m9 5h0m1 6h0m5 8h0m0-15h0m1 1h0m7-13h0m3 10h0m6 14h0m8-17h0m6 8h0m10 1h0m9 16h0m1-7h0m3-12h0m8 3h0m-212 57h0m5-18h0m14 16h0m6-30h0m5 26h0m11 2h0m0-9h0m3 9h0m1-4h0m0-12h0m1-10h0m12 32h0m3-13h0m0-20h0m19 9h0m2-4h0m1 20h0m2-31h0m2 39h0m7-30h0m11 23h0m1-22h0m2 13h0m2-6h0m2 10h0m4-15h0m0-4h0m1 3h0m0 2h0m1 7h0m3-12h0m3 19h0m1-25h0m9 34h0m2-24h0m5-8h0m3 35h0m5-26h0m3 16h0m6-1h0m2-13h0m2 13h0m3-27h0m1 7h0m4 16h0m1 12h0m13-3h0m1-22h0m0 26h0m8-15h0m6-15h0m4 27h0m2-2h0m1-2h0m11-24h0m2 1h0m3 17h0m2 6h0m3 8h0m23-14h0m0-1h0m-281 40h0m1 15h0m16-19h0m10 18h0m17-23h0m3 7h0m1-13h0m4-7h0m1 3h0m2 13h0m1-7h0m1 15h0m10-17h0m2 11h0m1 3h0m4 5h0m3-1h0m4 7h0m3-17h0m2 9h0m1-9h0m10 11h0m3-21h0m0 14h0m0-3h0m0-4h0m8 2h0m6 22h0m5-2h0m1-32h0m3 18h0m2 9h0m1-29h0m0 21h0m15 12h0m1-20h0m1 25h0m2-12h0m0-20h0m13 31h0m3-24h0m7 7h0m14-20h0m1 27h0m0-8h0m3-5h0m1 23h0m4-21h0m1-1h0m2 1h0m8 12h0m2-23h0m1 10h0m5 23h0m3-10h0m4-1h0m5-7h0m6-13h0m0 6h0m4 23h0m1-20h0m5-16h0m6 22h0m0 9h0m3 4h0m0-2h0m5-13h0m6 10h0m4-18h0m4-1h0m3 14h0m2 7h0m1-29h0m0 32h0m1-11h0m0-2h0m1 8h0m2-6h0m3-7h0m7-1h0m7 17h0m3-21h0m13 13h0m-316 50h0m1-18h0m7 11h0m1 6h0m4-16h0m0-8h0m1 22h0m1-10h0m8 4h0m10-2h0m1 1h0m1 13h0m3-20h0m3 4h0m2-22h0m2 33h0m10-18h0m0-13h0m1 12h0m7-11h0m0 3h0m2 14h0m0-18h0m13 15h0m1 1h0m1-1h0m1 21h0m4-5h0m4 1h0m6-5h0m1-17h0m6-13h0m2 22h0m15 11h0m2-32h0m9 13h0m5 14h0m0 5h0m3 5h0m1-38h0m0 21h0m3-20h0m1 13h0m5-14h0m1 3h0m14 21h0m1-11h0m2 16h0m2-1h0m2 2h0m6-17h0m5 6h0m5-6h0m4 10h0m3-23h0m4 33h0m0-13h0m1-4h0m18 21h0m0-35h0m2 13h0m0 7h0m3-22h0m3 17h0m5 16h0m4-2h0m8-25h0m8 26h0m5-5h0m5 4h0m0-18h0m2 16h0m3 6h0m11-33h0m11 34h0m4-24h0m4 7h0m4-18h0m5 33h0m1-20h0m2-1h0m2 18h0m1 2h0m17 2h0m6 0h0m13-15h0m-388 36h0m3 10h0m6-5h0m0-8h0m6 12h0m17 8h0m1-1h0m4-22h0m3-2h0m0 1h0m8 27h0m1 0h0m2-29h0m1 10h0m4-9h0m3 19h0m0 10h0m1-35h0m1 12h0m5 22h0m0-18h0m3 17h0m1-34h0m3 19h0m1 15h0m2-3h0m2-7h0m2-7h0m1 12h0m3-29h0m2 35h0m1-17h0m6 5h0m2 1h0m0-24h0m3 10h0m1 2h0m0-2h0m2 12h0m8 9h0m1-15h0m4-12h0m3-2h0m4-3h0m2 35h0m11-5h0m7 6h0m2-11h0m2-12h0m1 9h0m3 2h0m3 9h0m2-3h0m1-18h0m2 20h0m3-24h0m0 30h0m3-20h0m1 0h0m3-14h0m1 24h0m6-21h0m2-3h0m1 28h0m2-13h0m0-16h0m1 19h0m2-6h0m0-16h0m10 25h0m3-16h0m1-9h0m1 28h0m3-23h0m0 3h0m2 4h0m4-10h0m4 30h0m3-6h0m4-15h0m2 0h0m8-9h0m2-2h0m0 12h0m3 23h0m5-33h0m9 16h0m4-17h0m2 24h0m5-4h0m6-16h0m3 29h0m6-17h0m9 19h0m8-24h0m1 6h0m2-11h0m0 32h0m3-1h0m6-17h0m7-6h0m6-10h0m1 16h0m0-2h0m2 7h0m1-19h0m1 10h0m0-9h0m2 31h0m2-28h0m3 1h0m2 9h0m3-6h0m6 1h0m4 8h0m2-1h0m10-2h0m8-10h0m3 19h0m2-19h0m4 5h0m2-15h0m4 32h0m1-11h0m3-12h0m1 16h0m3-17h0m6 18h0m8-2h0m11 10h0m0-2h0m-432 16h0m3 21h0m2-9h0m0 13h0m8-4h0m5-14h0m6 10h0m3-2h0m2 11h0m7-9h0m6 7h0m1-18h0m2 14h0m1 1h0m0-22h0m1 26h0m5-18h0m10 4h0m3-8h0m7 24h0m1-2h0m4-17h0m3 8h0m5 12h0m6-28h0m7 12h0m2 1h0m5-10h0m3 24h0m2-28h0m2-8h0m0 11h0m4 15h0m1 3h0m2 9h0m2-7h0m7-25h0m9 11h0m0-9h0m5 27h0m6 1h0m0 2h0m3-23h0m0-13h0m2-1h0m4 6h0m0 31h0m7-22h0m3-5h0m2 11h0m1-17h0m2 26h0m6 7h0m4-24h0m0-13h0m3 10h0m0 12h0m3 8h0m4 5h0m4-5h0m0 1h0m4-28h0m9 20h0m3-19h0m13 17h0m5 5h0m2 6h0m4-19h0m1-13h0m4 15h0m5-7h0m3 23h0m2-6h0m2 6h0m4-16h0m7 7h0m1-11h0m4 21h0m5-26h0m7 31h0m2-6h0m1-3h0m1-25h0m10 30h0m5-24h0m5-3h0m1-6h0m5 13h0m10 22h0m0-4h0m2-29h0m4 25h0m6-4h0m3-14h0m1 28h0m3-30h0m4 5h0m8 6h0m8-9h0m2-4h0m2 25h0m8-31h0m1 8h0m2 7h0m1-11h0m6 13h0m1 22h0m4-9h0m1-13h0m0-1h0m7-4h0m0-4h0m0 27h0m5-26h0m4 16h0m4 3h0m1 1h0m4-14h0m2 1h0m3 13h0m3-19h0m4 6h0m4 4h0m0 5h0m12-5h0m6 7h0m7 11h0m-469 11h0m4 18h0m7 7h0m11-26h0m3 3h0m1 3h0m8 5h0m2-15h0m8-1h0m1-2h0m8 8h0m1 23h0m1 6h0m2-7h0m0-26h0m3 33h0m2-26h0m0 27h0m1-28h0m2 3h0m3-3h0m2 18h0m1 3h0m8-25h0m2 13h0m1-7h0m4 3h0m2-4h0m1 15h0m6 2h0m2 10h0m3-19h0m1-6h0m2 5h0m4 18h0m2-19h0m2-7h0m5 25h0m2-23h0m5-2h0m3-10h0m1 6h0m2 25h0m1-21h0m12 16h0m13-4h0m1 12h0m0-3h0m1-14h0m6 7h0m1-7h0m1-8h0m2-10h0m1 30h0m8-16h0m2-12h0m2 34h0m1-10h0m4-5h0m5 2h0m0 3h0m0-25h0m1 12h0m6 0h0m9 23h0m6-31h0m1 1h0m2 14h0m4 0h0m1-5h0m4 17h0m5-17h0m1 24h0m0-34h0m4 28h0m9-11h0m1-6h0m3 21h0m1-26h0m6 8h0m2 12h0m2-12h0m15 6h0m1-16h0m0 24h0m15-16h0m1 11h0m2-2h0m2-2h0m9-16h0m2 26h0m5 3h0m0-14h0m6-15h0m2 24h0m5 1h0m0-31h0m5 27h0m7-2h0m5 6h0m13-33h0m3 38h0m1-34h0m4 24h0m0-8h0m0-8h0m5 17h0m13-4h0m2-1h0m2-13h0m2 19h0m0-3h0m0 3h0m9-26h0m3 4h0m10 1h0m2-1h0m2 4h0m0-4h0m13 16h0m7 7h0m0-4h0m4 5h0m2-15h0m2-7h0m2 17h0m3 5h0m3-25h0m3 23h0m3-21h0m2 4h0m13 13h0m1 13h0m12-22h0m4 22h0m3-2h0m0-5h0m13 6h0m-525 16h0m2 20h0m3-7h0m3-11h0m3 14h0m4 3h0m7-8h0m1 1h0m8 3h0m1-26h0m16 5h0m2 21h0m1-7h0m9-14h0m3 0h0m5-8h0m6 37h0m4-20h0m10-1h0m1 18h0m6-25h0m2 8h0m5 1h0m0 0h0m32-16h0m8 4h0m3 29h0m4-29h0m4 14h0m4 13h0m4-13h0m4-7h0m0-6h0m8-3h0m2 31h0m1-32h0m3 18h0m0 9h0m0-2h0m3-6h0m2-12h0m2 8h0m3 12h0m9-2h0m7-20h0m2 30h0m7-34h0m1-3h0m0 0h0m2 3h0m2 9h0m3 10h0m3 15h0m5-20h0m5-14h0m3 10h0m1-13h0m4 15h0m1-9h0m2 30h0m1-2h0m2-7h0m4-25h0m1 5h0m9 29h0m0-37h0m3 10h0m2-9h0m0 25h0m1-20h0m4 12h0m4 5h0m12-20h0m7 12h0m2-5h0m1-10h0m3 38h0m10-23h0m1-4h0m5 6h0m7-13h0m1 4h0m1 29h0m1 2h0m3-12h0m7-16h0m3 4h0m2 9h0m7-2h0m3-3h0m9-12h0m9 12h0m0-14h0m1 33h0m1 1h0m1-31h0m4 11h0m4-9h0m0 18h0m8-4h0m1 14h0m4-37h0m7 36h0m2-14h0m3 6h0m0-8h0m2 15h0m2-7h0m5-12h0m0 13h0m4 5h0m4-19h0m1 17h0m10-29h0m7 5h0m2 14h0m0 5h0m0-14h0m4 24h0m4-25h0m1 21h0m1 2h0m0-25h0m0 8h0m10 2h0m2 9h0m2 3h0m1-26h0m2 2h0m1-5h0m1-4h0m1 6h0m7 20h0m0 0h0m2 7h0m1 6h0m8-6h0m10-13h0m5 7h0m2-4h0m1 15h0m6-30h0m3 8h0m0 23h0m1-26h0m4 10h0m4 13h0m0-2h0m5 5h0m10-18h0m-567 43h0m2 6h0m10-25h0m2 27h0m11 2h0m6-29h0m4 19h0m1 13h0m3-18h0m4-10h0m4 17h0m3-7h0m12-19h0m10 32h0m3-4h0m4 10h0m2-3h0m9-19h0m2-3h0m2 25h0m2-33h0m3 19h0m4-3h0m2-18h0m19 29h0m1-12h0m1 13h0m6 0h0m5-15h0m4-11h0m1 28h0m8-20h0m3 2h0m0 0h0m0-15h0m3 11h0m1 20h0m2-5h0m3-22h0m12 26h0m1-7h0m0-14h0m10 2h0m3-11h0m3 7h0m3 18h0m7-8h0m3 20h0m3-30h0m2-3h0m1-1h0m7 1h0m3 15h0m0-20h0m1 15h0m2 1h0m5 12h0m2-9h0m3 7h0m0-20h0m2 4h0m0 13h0m0 12h0m3-8h0m6-22h0m1 2h0m5 11h0m2 4h0m4 5h0m13-28h0m0 34h0m7-26h0m5 20h0m1-12h0m6 2h0m2 12h0m2-16h0m1-11h0m5 17h0m1 3h0m6-9h0m10-14h0m9 28h0m1-20h0m1 23h0m1-17h0m5 1h0m1-15h0m1 11h0m1 6h0m6-10h0m4 21h0m2-5h0m1-22h0m2 25h0m2 2h0m5-7h0m3 12h0m6 0h0m2-20h0m0-9h0m8 6h0m3 12h0m2-16h0m0 24h0m9 5h0m1-11h0m10-8h0m2 12h0m13-13h0m3 7h0m9-6h0m0-2h0m3-1h0m2-1h0m2 4h0m0-2h0m1 9h0m2-22h0m1 24h0m7-14h0m7 19h0m13-22h0m6-4h0m2 23h0m1 6h0m1-33h0m11 0h0m0 5h0m3 26h0m6-3h0m0 11h0m0-24h0m6 3h0m4 5h0m1 1h0m3-3h0m1-5h0m2 3h0m1-10h0m0 0h0m3 22h0m3 1h0m2-26h0m1 15h0m3 15h0m1-26h0m6 25h0m0-15h0m2 11h0m4-14h0m2-2h0m5 9h0m1-14h0m6 20h0m1-8h0m2 1h0m2 15h0m1-4h0m2-8h0m2-10h0m10-6h0m0 2h0m2-3h0m3 14h0m2-15h0m12 25h0m2-10h0m3 10h0m10-13h0m0 15h0m1 0h0m-625 35h0m2-12h0m5 4h0m7 14h0m1-4h0m2-12h0m5 10h0m4 5h0m5 2h0m16-25h0m9-9h0m4 33h0m1-1h0m3-8h0m6-13h0m2-3h0m1-8h0m1 7h0m2-8h0m0 30h0m3-13h0m4 7h0m1-20h0m2 10h0m2-6h0m2 13h0m0 6h0m1 5h0m1-13h0m4-15h0m0 31h0m4-17h0m16 14h0m3-1h0m2-17h0m3 17h0m1-26h0m6 31h0m0-24h0m4 8h0m1 4h0m1 2h0m21 4h0m4-22h0m0-7h0m4 0h0m4 21h0m3-3h0m14 12h0m6-10h0m6-12h0m4 8h0m6 19h0m2-30h0m5-5h0m2 10h0m2 9h0m6 5h0m9-19h0m2 15h0m1-16h0m4 31h0m1-25h0m2-2h0m0 11h0m1 9h0m3 1h0m3-24h0m0 2h0m6 11h0m1 0h0m6 9h0m1 8h0m1-26h0m1 19h0m2-31h0m2 4h0m1 1h0m1 7h0m4-5h0m2-3h0m4 26h0m5-18h0m9 26h0m4-4h0m9-11h0m5-6h0m12 10h0m2 9h0m4-33h0m10 25h0m3 0h0m1-7h0m1 3h0m9-7h0m1-17h0m15 5h0m2 0h0m3-3h0m0 1h0m18 8h0m2 23h0m2-24h0m11 11h0m3-5h0m1-2h0m8 25h0m7-2h0m2-33h0m2 6h0m1 19h0m3 6h0m5-31h0m2 4h0m3 5h0m10 26h0m7-17h0m4-3h0m1 2h0m2-19h0m2 3h0m8 24h0m3 5h0m1-9h0m1-8h0m1-11h0m7 19h0m1 11h0m6-6h0m2-2h0m0-20h0m1 17h0m2-25h0m2 0h0m0 33h0m2-3h0m2-14h0m4 22h0m1-29h0m10-7h0m14 20h0m1-6h0m0 0h0m4 21h0m1-22h0m9 3h0m2 13h0m7-16h0m3 4h0m2 11h0m8 3h0m6-29h0m2 23h0m2-24h0m0 27h0m1-16h0m2-5h0m1 1h0m3 1h0m0 21h0m6-32h0m4 6h0m0 19h0m1 0h0m2-17h0m1 19h0m9 4h0m3-23h0m4 7h0m8 21h0m3-4h0m8 0h0m7-17h0m3 2h0m5 5h0m1 11h0m3-5h0m7-7h0m6 0h0m11 16h0m3-18h0m7 8h0m0 6h0m-710 35h0m2 4h0m5 6h0m11-16h0m0 11h0m1-9h0m6-12h0m8 2h0m5 24h0m2-15h0m2 8h0m1-1h0m13-29h0m6 23h0m0-20h0m0 0h0m6 1h0m12 18h0m2-18h0m2 7h0m3 13h0m0-18h0m15 0h0m0-6h0m5 24h0m0-18h0m0-2h0m3 32h0m2-19h0m1 21h0m3-10h0m5-27h0m1 18h0m1 10h0m1 0h0m1 2h0m2 3h0m7-20h0m6 18h0m2-28h0m0 29h0m5-16h0m3 6h0m1 12h0m6-6h0m4-14h0m0 3h0m8-19h0m1 36h0m5-27h0m0-1h0m0 26h0m1-8h0m1-7h0m2 11h0m9 2h0m3 6h0m0-17h0m6-9h0m2 13h0m4-20h0m16 7h0m1 11h0m4-17h0m0 8h0m12-8h0m2 7h0m0 25h0m1-31h0m0 7h0m1-5h0m1 6h0m2-10h0m0 29h0m3-22h0m4-6h0m6 14h0m7-17h0m3 30h0m12-8h0m14 0h0m5 6h0m1-27h0m1 32h0m1-25h0m1 27h0m0-12h0m3-7h0m3-19h0m4 34h0m1-21h0m9 24h0m2-5h0m5-17h0m2 13h0m1 5h0m0-32h0m0 7h0m1 10h0m4-6h0m1-1h0m3 15h0m4-21h0m1 21h0m2 3h0m2-26h0m3 12h0m0 7h0m7 13h0m7-9h0m0-10h0m9 21h0m0-6h0m1-7h0m4-11h0m0 3h0m5 8h0m1 14h0m1-27h0m0 21h0m1-30h0m1 4h0m13 27h0m0-30h0m2 16h0m0 14h0m3-5h0m1-25h0m1 20h0m3 11h0m4-4h0m3-6h0m16-9h0m0-3h0m1 1h0m3-8h0m2 0h0m5-5h0m1 39h0m2-34h0m9 24h0m10-16h0m0 19h0m3-20h0m7 27h0m10-6h0m1-22h0m6 2h0m1 19h0m0-20h0m5 8h0m2-13h0m4 11h0m8 1h0m1-7h0m15-9h0m0 15h0m5-12h0m2 24h0m0 8h0m0-1h0m1-7h0m2-22h0m0 25h0m0 2h0m0-26h0m8 18h0m5 9h0m3-35h0m8 19h0m2-14h0m7-3h0m6 15h0m6-12h0m4 12h0m0-5h0m2-4h0m0 7h0m4-9h0m6 28h0m6-33h0m0 17h0m0 8h0m1 6h0m5-10h0m0-20h0m1 27h0m6-10h0m0-14h0m4 17h0m5-3h0m10-20h0m5 7h0m6 20h0m5 6h0m6 3h0m4-2h0m0-20h0m4-3h0m1-11h0m0 11h0m8 1h0m0 24h0m6-33h0m1 27h0m6 7h0m0-16h0m1 7h0m3-10h0m5 13h0m3-1h0m7-2h0m3-9h0m10 7h0m2-6h0m2 6h0m4 3h0m-772 48h0m14-20h0m15-2h0m1 18h0m0-16h0m13-3h0m3-4h0m4 10h0m1-1h0m1 4h0m3-23h0m5 34h0m0-20h0m3-14h0m3 21h0m0-10h0m2 3h0m0-6h0m5-2h0m2 20h0m0-24h0m1-2h0m2 0h0m0 32h0m1-26h0m0 7h0m4-11h0m1 24h0m0-14h0m1-5h0m7 29h0m0-4h0m1 4h0m0-35h0m8 1h0m3 11h0m3 19h0m1-28h0m0 17h0m0-10h0m2 28h0m2-12h0m1-19h0m11 25h0m1-4h0m2-25h0m3 33h0m2-33h0m10 16h0m4 1h0m7-21h0m4 39h0m1-37h0m3 22h0m2-6h0m9 1h0m1 2h0m7 18h0m2-25h0m9 14h0m5-10h0m2 8h0m1-5h0m4 17h0m4-29h0m3 7h0m5 6h0m12-14h0m4-2h0m0 21h0m0 4h0m3-5h0m2 0h0m3-14h0m6 4h0m8-11h0m2 11h0m2 22h0m4-32h0m5-4h0m1 12h0m7 0h0m0-7h0m1 26h0m2-22h0m7 7h0m2-5h0m1 2h0m5-9h0m6 11h0m4-5h0m8 5h0m3-3h0m7-6h0m5 26h0m6-7h0m4 2h0m1-1h0m2 4h0m5-8h0m4 14h0m1-30h0m0 13h0m10 3h0m0-4h0m1 18h0m0-16h0m4-14h0m1 13h0m16-7h0m10 16h0m6 1h0m7-7h0m1-12h0m2-1h0m5 9h0m1 5h0m1 11h0m4-16h0m2 16h0m7 0h0m7-24h0m6 5h0m1-14h0m8 18h0m4-13h0m6 1h0m12 0h0m4 21h0m2-22h0m5 18h0m4 1h0m4 2h0m3 9h0m7-1h0m1-11h0m0-4h0m3 4h0m12-2h0m1-10h0m4 16h0m0-8h0m1 12h0m1-33h0m0 8h0m10 19h0m5 9h0m2 0h0m1-32h0m2 20h0m4-18h0m1-2h0m5-4h0m7 26h0m1 7h0m5-7h0m1 2h0m3-3h0m1 0h0m2-23h0m1 28h0m4-21h0m1 5h0m1 1h0m0 10h0m16-5h0m4-5h0m2-15h0m3 36h0m1-28h0m1-7h0m0 19h0m10 2h0m3-1h0m1-9h0m4 26h0m4-2h0m1-29h0m4 13h0m4 8h0m3-14h0m2-4h0m1 23h0m4-3h0m2 6h0m1-6h0m4-23h0m20 3h0m6 24h0m7-32h0m2 23h0m4 4h0m5-13h0m0-4h0m5 9h0m4 7h0m7-9h0m7-9h0m7-11h0m4 14h0m5 24h0m7-27h0m6 11h0m6-11h0m1 26h0m2-21h0m13-7h0m1 10h0m1 8h0m2-16h0m10 10h0m1-2h0m18-4h0m-795 34h0m2 19h0m8 10h0m3-17h0m3 8h0m11-26h0m2-1h0m6 9h0m6-1h0m1-7h0m1 24h0m2 1h0m4-27h0m1 30h0m0-25h0m5 17h0m0 10h0m1 2h0m2-2h0m2-32h0m4 9h0m1 9h0m2 7h0m1-9h0m2 11h0m5-19h0m1 9h0m0 18h0m1-12h0m1-21h0m10 6h0m2 18h0m5-12h0m3 13h0m4 1h0m1-26h0m1 32h0m2-23h0m9 11h0m1 4h0m4-24h0m7 13h0m11 3h0m21-11h0m1 27h0m3-6h0m2 3h0m4-11h0m10-8h0m2 16h0m1 7h0m0-27h0m7 17h0m0-4h0m10-6h0m7-12h0m2 2h0m8 29h0m1-22h0m4 19h0m0-18h0m1-10h0m1 9h0m1-4h0m4 18h0m0-13h0m8 23h0m2-23h0m0-6h0m0 10h0m9-17h0m3 20h0m0-21h0m3 0h0m8 20h0m1 5h0m0-20h0m4 7h0m0 10h0m1 13h0m1-2h0m4-13h0m0 6h0m1 5h0m3-23h0m7-2h0m1 15h0m4 15h0m7-29h0m1 5h0m1-8h0m2 6h0m1-7h0m1-3h0m6 26h0m0-8h0m1-6h0m13 20h0m0-2h0m0-17h0m8 14h0m2-16h0m1 13h0m1 6h0m10-15h0m6 7h0m3 9h0m4-20h0m8-3h0m1-3h0m1-3h0m6 8h0m4 5h0m1 0h0m7 5h0m1 14h0m4-12h0m7-22h0m11 36h0m5-3h0m1-11h0m2-14h0m2 29h0m7-36h0m0-1h0m1 12h0m0 12h0m3-14h0m5 4h0m3 7h0m5-6h0m5 8h0m4 9h0m6-3h0m2 5h0m1-18h0m3 13h0m2-19h0m1-5h0m4 20h0m1-7h0m0 14h0m7-1h0m3-21h0m3-6h0m2 3h0m4 27h0m3-17h0m1 16h0m0-17h0m5-5h0m4 12h0m1-17h0m9-6h0m0 14h0m2 9h0m3 3h0m5 5h0m4-4h0m0-18h0m2 0h0m1-4h0m1 20h0m4-12h0m0 6h0m1 6h0m1-24h0m3 10h0m2 1h0m2 16h0m0-20h0m0 18h0m1-13h0m7 15h0m3-17h0m1-5h0m1-1h0m7 12h0m0 19h0m3-36h0m1 31h0m0-24h0m2 14h0m6-8h0m2 2h0m5-12h0m5 19h0m3 11h0m1-4h0m1 0h0m1-4h0m0 14h0m7-9h0m2-4h0m1 3h0m1 3h0m1 1h0m2 6h0m12-30h0m3 0h0m3-3h0m1-5h0m3 22h0m21 11h0m2-16h0m6-1h0m7-9h0m5 3h0m6 28h0m0-20h0m5-12h0m3 27h0m3-18h0m3 21h0m1-36h0m5 36h0m2-21h0m13 12h0m1 2h0m3-4h0m1-15h0m1 1h0m11 2h0m11 7h0m10-13h0m3 29h0m1-17h0m19-15h0m-793 49h0m12 6h0m4 18h0m20-16h0m2 12h0m1 1h0m25-13h0m2 3h0m5 5h0m3-13h0m1 16h0m0 5h0m4-3h0m2-12h0m2 7h0m3-17h0m2-5h0m0-4h0m1 29h0m0-14h0m1-18h0m2 28h0m13-28h0m6-1h0m5 24h0m3 1h0m0-24h0m1 7h0m1 16h0m2-19h0m3 10h0m9-6h0m6 0h0m0-8h0m5 22h0m4 13h0m5-13h0m2 5h0m1 3h0m6 7h0m1-10h0m8-1h0m1 7h0m11-14h0m1-19h0m2 28h0m20-8h0m0 6h0m2-3h0m4-17h0m0 26h0m10-29h0m8 31h0m0-10h0m8-7h0m0-3h0m1 17h0m2-22h0m1 27h0m0-22h0m2 9h0m5 2h0m1-5h0m3-4h0m7-8h0m4 29h0m13-6h0m7-4h0m1-5h0m4 7h0m0-30h0m1 39h0m1-6h0m0-2h0m3-19h0m6 5h0m1 12h0m1 10h0m0-19h0m5-5h0m3-4h0m3 20h0m2-26h0m1 18h0m0-2h0m1-18h0m1 0h0m1 2h0m1 15h0m1 11h0m1 3h0m1-19h0m7 6h0m1-10h0m4-10h0m4 21h0m4 2h0m4-1h0m3 8h0m0-13h0m2-14h0m2 12h0m7 22h0m2-29h0m1 30h0m3-2h0m0-13h0m6 12h0m1-35h0m2 21h0m5-16h0m7 5h0m3 19h0m1-6h0m1-20h0m0 21h0m1-23h0m1 10h0m3-8h0m8 30h0m7-6h0m2-17h0m4 10h0m4 15h0m1-10h0m3-26h0m9 31h0m1-30h0m1 17h0m2-15h0m4 35h0m4-13h0m4 13h0m2-20h0m7-17h0m1 37h0m1-32h0m0 23h0m1-22h0m1-7h0m1 1h0m4 5h0m3 0h0m4 16h0m1-21h0m9 15h0m2-9h0m1 4h0m4 16h0m3-1h0m2-21h0m5 4h0m4 0h0m10-6h0m1 15h0m3 13h0m0 7h0m7-15h0m2-3h0m3-16h0m1 6h0m1 19h0m0 4h0m3-14h0m1 20h0m1 0h0m0-15h0m0-22h0m0 8h0m1 5h0m2-8h0m10 21h0m2-19h0m5 5h0m1 2h0m1 15h0m1-16h0m1 24h0m1-9h0m1-24h0m2 24h0m1-26h0m2 31h0m4-2h0m4-32h0m2 28h0m2-14h0m1 4h0m0 15h0m4-31h0m4 27h0m2-23h0m3-7h0m6 19h0m0 18h0m2-20h0m8-14h0m6 28h0m0-17h0m10 11h0m8-25h0m1 4h0m4-1h0m6-3h0m7 33h0m0-29h0m15 33h0m2-36h0m4 7h0m0-1h0m1 32h0m21-20h0m19-14h0m1-2h0m-722 57h0m0-8h0m15 6h0m11-4h0m5 4h0m7-4h0m4-4h0m4 10h0m2-13h0m1 21h0m2-17h0m6 26h0m1-15h0m0-7h0m4 24h0m11-10h0m7-6h0m1 1h0m4-19h0m0 34h0m2-15h0m6-11h0m0 14h0m1-12h0m0 14h0m2-3h0m8 2h0m1 9h0m5-11h0m3 9h0m1-10h0m1-7h0m5 18h0m1 0h0m9-7h0m2-15h0m8-14h0m3 35h0m7-11h0m5 14h0m3-27h0m3-5h0m5-1h0m4 6h0m0 19h0m1-8h0m6 13h0m9-1h0m1-29h0m4 17h0m1-9h0m3 20h0m2 2h0m3-21h0m10 19h0m2-7h0m0-10h0m5-16h0m5 38h0m1-11h0m7-16h0m1 5h0m2-2h0m4-5h0m2-3h0m0 27h0m6-17h0m1-13h0m2 36h0m2-18h0m11-9h0m6 2h0m0-1h0m1 4h0m0 9h0m5-7h0m2 2h0m1 16h0m1-37h0m1 39h0m6-20h0m2-18h0m1 17h0m0 20h0m1-3h0m4-28h0m2 10h0m7 5h0m1 6h0m2-9h0m6-11h0m3 16h0m3-15h0m3 19h0m11-28h0m5 25h0m0-12h0m3 22h0m1-16h0m6 2h0m9 9h0m7 2h0m2-9h0m3-8h0m11 9h0m5 5h0m22-2h0m2 4h0m1-27h0m2 22h0m12-21h0m24 11h0m1 0h0m0-9h0m1-7h0m3 31h0m7-6h0m2-16h0m1 11h0m0-14h0m4 2h0m1 17h0m1-17h0m4 17h0m7-20h0m2 14h0m4 12h0m1-2h0m1 3h0m6 2h0m4-19h0m1-8h0m1 26h0m3 3h0m16-17h0m0-8h0m9 6h0m0-4h0m4-1h0m7 1h0m2 3h0m2-8h0m0 1h0m4 27h0m1-1h0m2-11h0m3 1h0m1-24h0m4 9h0m1 11h0m3-11h0m7 15h0m2-23h0m4 21h0m0-16h0m15 24h0m1-3h0m2-4h0m5 9h0m3-33h0m0 20h0m10-13h0m19 0h0m3-7h0m27 6h0m1-6h0m8 1h0m-658 41h0m1 14h0m2 6h0m2-1h0m2 6h0m0-16h0m1-10h0m1 12h0m2 3h0m1 15h0m3-19h0m1 5h0m2-11h0m0 12h0m4 21h0m4-28h0m14 17h0m1-15h0m0 5h0m0-18h0m2 27h0m2 12h0m1-6h0m4-30h0m2 17h0m1-3h0m1-14h0m0 17h0m4 2h0m6 7h0m6-4h0m5 9h0m10-16h0m10 21h0m5-34h0m5 28h0m0-25h0m0 19h0m2-16h0m1-9h0m4 12h0m9 16h0m3-6h0m1-2h0m10 8h0m1-8h0m1-13h0m11 14h0m15-18h0m0 25h0m3-19h0m2 10h0m2-21h0m3 17h0m0 14h0m0-9h0m8-13h0m3 15h0m1-23h0m0 5h0m4 30h0m1-18h0m0-13h0m1-3h0m10 27h0m1-16h0m3-7h0m1 33h0m1-14h0m1-12h0m5 1h0m4 13h0m3-11h0m0 16h0m0 1h0m3-1h0m0 0h0m2-26h0m4-3h0m3 3h0m4 20h0m0-12h0m8 1h0m3 16h0m7-14h0m1-3h0m2 6h0m3-2h0m12 9h0m1-22h0m12 19h0m1-15h0m2 5h0m4-9h0m6 17h0m5 8h0m0-14h0m2-6h0m1 25h0m1-26h0m10 30h0m8-5h0m3-27h0m6 1h0m4 21h0m12-22h0m4 30h0m4 0h0m0-6h0m2-19h0m3-4h0m3 6h0m2-7h0m1 29h0m2-7h0m6 10h0m6-38h0m4 1h0m1 13h0m3-13h0m1 14h0m6-15h0m2 4h0m8 27h0m9 1h0m2-33h0m6 23h0m7-1h0m2-15h0m2 9h0m0 8h0m5-3h0m5-15h0m1 25h0m7-23h0m5 6h0m3 20h0m20-11h0m17-11h0m1 17h0m2-13h0m8-9h0m2 21h0m0-3h0m12 0h0m4 0h0m2-17h0m5 5h0m13-2h0m1-4h0m-535 47h0m13 17h0m4 8h0m5-23h0m3-12h0m5 24h0m5-24h0m2 28h0m1-11h0m2-6h0m4 2h0m3 9h0m0-15h0m12-9h0m1 33h0m1-30h0m2 22h0m4-16h0m4-6h0m0 34h0m1-9h0m11-15h0m14 11h0m4 8h0m2-12h0m1 7h0m5-5h0m1-7h0m0-7h0m10 14h0m4 9h0m4-13h0m11-20h0m3 24h0m4 11h0m3-3h0m14-14h0m5 14h0m1-11h0m2-6h0m2-10h0m6 18h0m8-23h0m0 20h0m1 4h0m1 7h0m4-24h0m2 31h0m3-28h0m1 16h0m1-5h0m4-19h0m3 0h0m5 18h0m1 3h0m4 3h0m1 10h0m5-35h0m0 29h0m1-6h0m2-14h0m2-7h0m1 24h0m1-6h0m3-5h0m8-16h0m5 31h0m6-10h0m0 5h0m0-3h0m3 2h0m6-15h0m2 4h0m0-10h0m1 11h0m2-12h0m11 21h0m8-15h0m0 5h0m4-9h0m2 13h0m5-17h0m6 34h0m0-11h0m2-22h0m7 7h0m1-4h0m5 30h0m1 3h0m4-5h0m2-25h0m1 8h0m1 12h0m8-17h0m16 15h0m8-17h0m2 26h0m5-12h0m8 8h0m1-21h0m3 2h0m3-3h0m0 4h0m2-4h0m10 12h0m0-12h0m1 6h0m2 2h0m9-8h0m1-8h0m9 13h0m9 13h0m23 0h0m4-20h0m13 14h0m1-20h0m5 27h0m24-21h0m9-4h0m9 13h0m-466 25h0m0 1h0m8 10h0m2 5h0m11-1h0m5 11h0m1-7h0m6 13h0m2 1h0m0-34h0m7 33h0m12-5h0m5-5h0m8-14h0m18-9h0m4 20h0m0-3h0m7 1h0m2-4h0m4 23h0m1-35h0m2 12h0m1-7h0m4 20h0m3 1h0m2-26h0m2 26h0m4-14h0m3 13h0m2-4h0m1-20h0m1 31h0m15-27h0m2 18h0m2-16h0m6-7h0m4 29h0m3-17h0m10-9h0m5 10h0m0 5h0m2-4h0m0 20h0m2-14h0m2-21h0m4 27h0m16-28h0m3 23h0m4-12h0m0 8h0m7-1h0m15 5h0m8 9h0m3-17h0m0 24h0m8-32h0m5 24h0m29-30h0m12 37h0m9-27h0m4 23h0m3-19h0m27-4h0m10-2h0m5 1h0m-315 38h0m34 1h0m4 7h0m8-14h0m18-2h0m7 34h0m26-28h0m18 1h0m0-3h0m14 12h0m13 15h0m9-29h0m14-1h0" stroke="#93a93c" stroke-width="14"/></g>
<path d="M149.0 177.0L149.8 177.0L150.6 177.0L151.3 177.1L152.1 177.2L152.8 177.4L153.6 177.7L154.3 178.0L155.0 178.3L155.8 178.7L156.5 179.1L157.3 179.5L158.0 180.0L158.8 180.5L159.5 181.0L160.3 181.6L161.0 182.2L161.8 182.8L162.6 183.5L163.3 184.2L164.1 184.9L164.8 185.7L165.6 186.4L166.3 187.2L167.0 188.0L167.7 188.8L168.4 189.7L169.1 190.6L169.8 191.5L170.5 192.5L171.2 193.4L171.9 194.4L172.5 195.4L173.2 196.3L173.8 197.2L174.4 198.1L175.0 199.0L175.6 199.8L176.1 200.7L176.6 201.5L177.1 202.3L177.6 203.0L178.1 203.8L178.5 204.6L179.0 205.3L179.5 206.0L180.0 206.7L180.5 207.4L181.0 208.0L181.6 208.6L182.3 209.2L183.0 209.7L183.8 210.1L184.6 210.6L185.4 211.1L186.1 211.5L186.7 212.0L187.3 212.4L187.7 212.9L187.9 213.4L188.0 214.0L187.9 214.6L187.6 215.3L187.2 216.0L186.7 216.7L186.1 217.4L185.4 218.1L184.6 218.8L183.7 219.6L182.8 220.2L181.9 220.9L181.0 221.5L180.0 222.0L179.0 222.5L177.9 222.9L176.7 223.3L175.5 223.7L174.2 224.1L172.9 224.4L171.6 224.7L170.3 225.0L168.9 225.2L167.6 225.5L166.3 225.7L165.0 226.0L163.8 226.2L162.5 226.4L161.2 226.5L160.0 226.7L158.8 226.8L157.5 226.9L156.2 227.0L155.0 227.1L153.8 227.3L152.5 227.5L151.2 227.7L150.0 228.0L148.8 228.4L147.5 228.8L146.2 229.2L145.0 229.7L143.8 230.2L142.5 230.8L141.2 231.3L140.0 231.9L138.8 232.4L137.5 233.0L136.2 233.5L135.0 234.0L133.7 234.5L132.5 235.1L131.2 235.6L129.9 236.2L128.6 236.8L127.3 237.4L126.0 237.9L124.8 238.4L123.5 238.9L122.3 239.3L121.1 239.7L120.0 240.0L118.9 240.2L117.7 240.4L116.6 240.6L115.5 240.7L114.4 240.7L113.3 240.8L112.3 240.7L111.3 240.7L110.4 240.6L109.5 240.4L108.7 240.2L108.0 240.0L107.4 239.7L106.8 239.4L106.3 239.0L105.8 238.6L105.4 238.1L105.1 237.6L104.8 237.1L104.5 236.5L104.3 235.9L104.2 235.3L104.1 234.7L104.0 234.0L104.0 233.3L104.1 232.6L104.2 231.8L104.4 231.0L104.6 230.2L104.9 229.4L105.2 228.5L105.5 227.6L105.9 226.7L106.2 225.8L106.6 224.9L107.0 224.0L107.4 223.1L107.8 222.1L108.2 221.1L108.7 220.1L109.2 219.1L109.7 218.1L110.2 217.1L110.7 216.1L111.3 215.0L111.8 214.0L112.4 213.0L113.0 212.0L113.6 211.0L114.2 210.0L114.8 209.0L115.5 207.9L116.1 206.9L116.8 205.9L117.5 204.9L118.2 203.9L118.9 202.9L119.6 201.9L120.3 200.9L121.0 200.0L121.7 199.1L122.4 198.2L123.2 197.3L123.9 196.4L124.7 195.6L125.4 194.8L126.2 193.9L127.0 193.1L127.7 192.3L128.5 191.5L129.2 190.8L130.0 190.0L130.7 189.3L131.5 188.5L132.2 187.8L133.0 187.1L133.7 186.4L134.4 185.7L135.2 185.0L135.9 184.4L136.7 183.7L137.4 183.1L138.2 182.6L139.0 182.0L139.8 181.5L140.6 180.9L141.5 180.4L142.3 179.8L143.1 179.3L144.0 178.8L144.9 178.4L145.7 178.0L146.5 177.6L147.4 177.3L148.2 177.1Z" fill="#93a93c"/>
<g transform="scale(0.1290 0.1)" fill="none" stroke-linecap="round"><path d="M1138 1757h0m8-2h0m13 1h0m18-7h0m-69 30h0m12 7h0m1-23h0m10 5h0m1-4h0m4 15h0m1 3h0m5 6h0m5-23h0m0-4h0m21 9h0m2 9h0m2 11h0m2-18h0m3 8h0m2-14h0m5 11h0m1-7h0m1 15h0m5-2h0m4-9h0m11 8h0m8-2h0m2 9h0m5-2h0m4 6h0m4 5h0m-167 13h0m11 13h0m3-8h0m1 20h0m5-23h0m13-5h0m2 16h0m26-21h0m92 23h0m26-24h0m1 36h0m7-15h0m4 12h0m18-12h0m6 15h0m-261 39h0m10-12h0m7 5h0m5 0h0m7-21h0m40-7h0m175 16h0m4-2h0m3-2h0m7-11h0m5 15h0m6-11h0m-314 52h0m20 17h0m18-26h0m10 11h0m8-19h0m1 0h0m269 14h0m10-3h0m6 3h0m4 9h0m7 14h0m-356 32h0m1-14h0m8 4h0m1 4h0m3 0h0m1-3h0m16-17h0m2-3h0m309-1h0m19 37h0m0-36h0m2 37h0m3-15h0m1 13h0m14 0h0m6-8h0m-411 36h0m3-18h0m6 11h0m5 9h0m3-1h0m11-20h0m364 7h0m8-8h0m0 17h0m2-5h0m12 4h0m4 0h0m5-8h0m1 5h0m-457 52h0m12 4h0m22-15h0m417-6h0m0 3h0m0 13h0m13-1h0m-493 51h0m16-24h0m19-8h0m10 21h0m445-27h0m13 12h0m1-11h0m5 11h0m1-8h0m11 19h0m0 4h0m8 5h0m-537 38h0m0-22h0m1 23h0m10-29h0m10 2h0m4-4h0m499 11h0m1 1h0m9-2h0m18-4h0m3 18h0m2 11h0m13-11h0m4 10h0m-595 38h0m12-14h0m5-2h0m5-2h0m22-7h0m524-1h0m19 22h0m16-15h0m4 15h0m3 8h0m4-5h0m-644 44h0m39-1h0m1-29h0m1 1h0m560 21h0m9 5h0m2-2h0m1-1h0m6-12h0m2 17h0m5-5h0m-621 45h0m17-23h0m2-1h0m4-11h0m454 33h0m31 1h0m48-1h0m0-2h0m3-16h0m3 2h0m7-3h0m9 12h0m9-1h0m31-19h0m-638 73h0m8-32h0m3 24h0m3-18h0m7 6h0m1 0h0m4 5h0m313-2h0m20 17h0m9 0h0m18-4h0m5-2h0m7-6h0m27-1h0m9 0h0m2-14h0m8 6h0m1 7h0m1 0h0m12-11h0m8 8h0m2 12h0m1-11h0m0 13h0m19-14h0m2-9h0m24-6h0m2 1h0m27-4h0m8-1h0m17 10h0m-567 28h0m8 7h0m1-6h0m0 11h0m254 7h0m35 13h0m17-22h0m1 4h0m0 1h0m1 11h0m3-2h0m7 6h0m3-12h0m7-2h0m22-7h0m0 2h0m1 6h0m8-17h0m-369 54h0m3 11h0m15 9h0m184-1h0m0-16h0m9 18h0m8-20h0m0 9h0m11-14h0m8 14h0m5-15h0m2 11h0m3 4h0m13-6h0m7-19h0m7 11h0m10-9h0m8 2h0m-293 47h0m8 9h0m4-1h0m4 0h0m0-11h0m8 31h0m4-14h0m3 9h0m57-2h0m25 2h0m7-1h0m29 5h0m1-10h0m2-10h0m20 9h0m6 4h0m10-21h0m2 20h0m19-20h0m-189 41h0m11-9h0m4-1h0m6 3h0m19 23h0m7-5h0m1-16h0m0-6h0m6 16h0m2-7h0m1 14h0m3 1h0m13-13h0m46-11h0m7 1h0m19 2h0" stroke="#93a93c" stroke-width="14"/></g>
<g transform="scale(0.1290 0.1)" fill="none" stroke-linecap="round"><path d="M1215 1793h0m-119 41h0m18-17h0m25-7h0m15 1h0m5 5h0m33-5h0m9 14h0m8 10h0m-157 13h0m11 13h0m35 15h0m18-32h0m9 28h0m10-4h0m32-16h0m48 13h0m19-5h0m-214 56h0m7-12h0m10-21h0m16 2h0m17 29h0m38-29h0m5 17h0m9-10h0m2 8h0m59 17h0m34-8h0m22-20h0m23 30h0m11-33h0m23 19h0m2-6h0m-315 53h0m27-11h0m16-17h0m13-2h0m53 31h0m22-20h0m121 11h0m5-18h0m8-1h0m8 13h0m3 7h0m7-16h0m36 1h0m12-7h0m-311 46h0m14-6h0m57 17h0m26 17h0m4-16h0m8-13h0m111 29h0m78-32h0m48 20h0m-423 42h0m13 3h0m7-22h0m51-7h0m30 1h0m74 25h0m17 8h0m1-24h0m10-7h0m11 23h0m9-18h0m32 27h0m57-36h0m17 15h0m28-1h0m45-12h0m-365 60h0m3 15h0m21-19h0m45 19h0m37-8h0m14-13h0m16-5h0m14 22h0m12-11h0m23-19h0m2 15h0m6-7h0m38 19h0m0 8h0m17-12h0m3-7h0m40 0h0m4-3h0m5-7h0m7 24h0m6-8h0m61-16h0m1 0h0m-451 53h0m27-22h0m38 2h0m41 37h0m32-30h0m5 9h0m102-6h0m4 21h0m17-8h0m55-23h0m5 27h0m22-24h0m2-3h0m48 3h0m21 4h0m14 20h0m13-2h0m42 7h0m13-34h0m38 25h0m-545 47h0m28 5h0m97-28h0m3 16h0m8-8h0m5 0h0m46 22h0m44-27h0m14 27h0m37-10h0m6-6h0m120-5h0m21-9h0m47 26h0m4-31h0m8 22h0m6-16h0m43 19h0m-552 33h0m0 15h0m26-12h0m6 3h0m17-6h0m2 12h0m24-8h0m26-4h0m8 4h0m16-13h0m14-8h0m60 28h0m9-24h0m4 12h0m15-11h0m55 11h0m34 4h0m2 10h0m42-5h0m3 1h0m23-7h0m17 3h0m27 2h0m18 7h0m18-10h0m6 8h0m16-30h0m64 14h0m-578 45h0m5-15h0m62-4h0m14 27h0m37-2h0m4 10h0m62-31h0m23 17h0m58 0h0m4-12h0m16 10h0m21-1h0m10-22h0m16 25h0m128 12h0m4 2h0m11-3h0m8-2h0m25-2h0m39-30h0m2 18h0m10-10h0m-542 48h0m3-7h0m14 10h0m23-16h0m61 5h0m15 7h0m14-8h0m28 0h0m30-1h0m6-1h0m11 11h0m56 2h0m37-12h0m29 9h0m36 2h0m-378 23h0m15 23h0m10-21h0m8 10h0m11 15h0m66-12h0m21 22h0m25-18h0m24 5h0m0-22h0m6-1h0m2 18h0m10 2h0m25 15h0m3-8h0m45-19h0m-300 66h0m5-2h0m3-3h0m0-12h0m61-4h0m1-9h0m10 31h0m13-9h0m16-24h0m19 13h0m8 6h0m4 15h0m20-30h0m67 11h0m-224 24h0m13 30h0m22 2h0m44-30h0m9 19h0m53-22h0m37-2h0" stroke="#d3dc8c" stroke-width="14" opacity="0.9"/></g>
<g transform="scale(0.1290 0.1)" fill="none" stroke-linecap="round"><path d="M1127 2446h0m1 30h0m2-12h0m1 13h0m2-8h0m3 3h0m4-14h0m2 18h0m-12 23h0m11-8h0m3 24h0m3 1h0m2-16h0m1 10h0m4 1h0m2 3h0m4 0h0m-15 8h0m2 16h0m1-16h0m0 0h0m0 8h0m2 4h0m1 3h0m8-16h0m0 18h0m1 8h0m2-19h0m1 0h0m1 12h0m0-8h0m4 14h0m3 10h0m2-6h0m-10 19h0m5 16h0m0-2h0m6 3h0m1 8h0m4-2h0m-17 12h0m6 3h0m1-7h0m0 36h0m4-2h0m11-5h0m0 10h0m2-37h0m4 27h0m1 3h0m2-5h0m2 2h0m-13 29h0m6-5h0m5 4h0m3-1h0m0 11h0m3 8h0m4-12h0m-8 22h0m1 0h0m3 24h0m2-4h0m7-8h0m2 5h0m2 7h0m3-29h0m1 35h0m1-4h0m1 18h0" stroke="#93a93c" stroke-width="14"/></g>
<g transform="scale(0.1290 0.1)" fill="none" stroke-linecap="round"><path d="M1501 2275h0m21 2h0m74-14h0m27-11h0m0-6h0m4 7h0m-191 31h0m25 14h0m13-9h0m10-2h0m29-3h0m117 3h0m6 6h0m27 21h0m-430 26h0m30 0h0m28 2h0m247-20h0m8 22h0m-392 44h0m3 6h0m92-3h0m31-27h0m46 23h0m23-10h0m13-17h0m35 36h0m4 2h0m25-30h0m41 24h0m60-21h0m48 5h0m10 6h0m7 14h0m28-26h0m-589 42h0m6 3h0m20 2h0m38-10h0m67 29h0m47-18h0m30-3h0m12 20h0m116 0h0m17-35h0m103 17h0m62-17h0m9 6h0m25 0h0m54 7h0m25-2h0m-710 68h0m43-38h0m7 28h0m9 7h0m108-31h0m9 0h0m9 21h0m14-3h0m5-21h0m15 21h0m34 0h0m25-23h0m10 24h0m61-15h0m46 6h0m15 9h0m55-2h0m50 1h0m28-23h0m-542 45h0m60 23h0m25-2h0m31-22h0m29 11h0m10 22h0m140-29h0m24 9h0m9-5h0m94 6h0m74 20h0m19-22h0m68-9h0m-580 35h0m68 14h0m18-11h0m2 13h0m28 16h0m11-8h0m18 2h0m5 1h0m2-18h0m4 12h0m104-19h0m28 17h0m85 1h0m61 14h0m62-20h0m31 17h0m84-16h0m-481 34h0m23 8h0m56 12h0m5-28h0m22 11h0m60 5h0m15-9h0m39 28h0m15-36h0m98 16h0m6-11h0m1 29h0m7-21h0m12-4h0m14 17h0m46 4h0m14-27h0m62-3h0m-418 39h0m53 9h0m7 0h0m16 0h0m23-8h0m84 8h0m149 0h0" stroke="#93a93c" stroke-width="14"/></g>
<g transform="scale(0.1290 0.1)" fill="none" stroke-linecap="round"><path d="M1569 2277h0m-169 31h0m22 4h0m171-1h0m61-15h0m-240 35h0m80-2h0m97 6h0m-245 52h0m89-4h0m23 13h0m34-35h0m136 9h0m-564 60h0m59-11h0m24-14h0m212-3h0m161 16h0m53 13h0m73-9h0m3 13h0m-539 25h0m96 14h0m71-31h0m95 31h0m170-15h0m11 18h0m-625 10h0m16 13h0m102 8h0m18-2h0m70-12h0m44 18h0m42 1h0m22 1h0m12-9h0m1 10h0m75-15h0m32-13h0m9 1h0m127 29h0m-502 3h0m490 30h0m65-13h0m71-11h0m-558 42h0m47-7h0m114 19h0m159-1h0m80-2h0" stroke="#ee6f69" stroke-width="14"/></g>
<path d="M369.0 56.0L369.4 55.3L369.9 54.7L370.5 54.1L371.1 53.5L371.9 52.9L372.8 52.4L373.6 52.0L374.5 51.5L375.4 51.1L376.3 50.7L377.2 50.3L378.0 50.0L378.8 49.7L379.6 49.4L380.4 49.1L381.3 48.8L382.1 48.5L382.9 48.3L383.8 48.1L384.6 48.0L385.5 47.9L386.3 47.9L387.2 47.9L388.0 48.0L388.8 48.2L389.7 48.4L390.5 48.7L391.3 49.1L392.2 49.5L393.0 50.0L393.8 50.5L394.7 51.0L395.5 51.5L396.3 52.0L397.2 52.5L398.0 53.0L398.8 53.4L399.6 53.9L400.3 54.3L401.1 54.7L401.8 55.1L402.6 55.6L403.3 56.0L404.1 56.5L405.0 57.1L405.9 57.6L406.9 58.3L408.0 59.0L409.2 59.8L410.4 60.6L411.8 61.4L413.1 62.3L414.6 63.3L416.1 64.2L417.6 65.3L419.1 66.3L420.6 67.4L422.1 68.6L423.6 69.8L425.0 71.0L426.4 72.3L427.9 73.7L429.4 75.2L430.9 76.7L432.4 78.3L433.9 79.9L435.3 81.5L436.8 83.1L438.2 84.6L439.5 86.2L440.8 87.6L442.0 89.0L443.1 90.3L444.2 91.6L445.3 92.9L446.3 94.1L447.3 95.4L448.2 96.6L449.1 97.7L449.9 98.9L450.7 99.9L451.5 101.0L452.3 102.0L453.0 103.0L453.7 103.9L454.3 104.7L454.9 105.5L455.5 106.2L456.1 106.9L456.6 107.6L457.0 108.2L457.5 108.9L457.9 109.6L458.3 110.3L458.7 111.1L459.0 112.0L459.3 113.0L459.6 114.0L459.9 115.1L460.2 116.2L460.4 117.3L460.6 118.5L460.8 119.7L460.9 120.8L461.0 121.9L461.1 123.0L461.1 124.0L461.0 125.0L460.9 125.9L460.7 126.8L460.4 127.6L460.1 128.4L459.8 129.2L459.4 130.0L459.0 130.7L458.6 131.4L458.2 132.1L457.8 132.8L457.4 133.4L457.0 134.0L456.6 134.5L456.2 135.0L455.8 135.4L455.3 135.7L454.9 136.1L454.4 136.4L454.0 136.7L453.6 137.0L453.1 137.4L452.7 137.9L452.3 138.4L452.0 139.0L451.7 139.7L451.4 140.4L451.1 141.2L450.9 142.1L450.7 143.0L450.4 143.9L450.2 144.8L450.0 145.8L449.8 146.8L449.5 147.9L449.3 148.9L449.0 150.0L448.7 151.2L448.4 152.6L448.0 154.1L447.7 155.7L447.3 157.4L446.9 159.0L446.6 160.5L446.2 161.9L445.9 163.1L445.6 164.1L445.3 164.7L445.0 165.0L444.8 164.9L444.7 164.3L444.7 163.5L444.8 162.4L444.8 161.1L444.9 159.6L444.9 158.1L444.8 156.6L444.6 155.2L444.2 153.9L443.7 152.8L443.0 152.0L442.1 151.4L441.0 150.9L439.7 150.5L438.3 150.1L436.8 149.8L435.2 149.6L433.5 149.5L431.8 149.3L430.1 149.2L428.4 149.2L426.7 149.1L425.0 149.0L423.3 149.0L421.5 149.1L419.6 149.3L417.7 149.5L415.8 149.8L413.8 150.1L411.9 150.3L410.1 150.5L408.3 150.6L406.7 150.5L405.3 150.4L404.0 150.0L402.9 149.5L402.1 148.9L401.3 148.3L400.7 147.5L400.2 146.7L399.8 145.8L399.4 144.7L399.0 143.6L398.6 142.4L398.2 141.0L397.6 139.6L397.0 138.0L396.3 136.3L395.5 134.3L394.6 132.2L393.8 129.9L392.9 127.6L392.0 125.1L391.1 122.7L390.2 120.2L389.4 117.8L388.5 115.4L387.7 113.1L387.0 111.0L386.3 109.0L385.7 107.0L385.1 105.1L384.5 103.3L384.0 101.5L383.4 99.7L382.9 97.9L382.4 96.1L381.8 94.4L381.2 92.6L380.6 90.8L380.0 89.0L379.3 87.1L378.5 85.2L377.7 83.2L376.9 81.3L376.0 79.3L375.2 77.3L374.4 75.4L373.6 73.5L372.8 71.7L372.1 70.0L371.5 68.4L371.0 67.0L370.6 65.7L370.1 64.5L369.8 63.4L369.4 62.3L369.1 61.4L368.9 60.5L368.7 59.7L368.6 58.9L368.6 58.1L368.6 57.4L368.8 56.7Z" fill="#30b99d" opacity="0.11" filter="url(#bl)"/>
<g transform="scale(0.1290 0.1)" fill="none" stroke-linecap="round"><path d="M2891 504h0m31 6h0m20 4h0m16-30h0m8 29h0m7-11h0m4 3h0m12-22h0m0 15h0m6-6h0m1 16h0m31 3h0m13-10h0m18 3h0m33 9h0m-227 42h0m19-25h0m8 3h0m9 16h0m13-6h0m19 9h0m0-12h0m0-15h0m14 30h0m1-27h0m7-5h0m10 16h0m1 19h0m9-37h0m8 32h0m7-7h0m9 12h0m7-4h0m4-29h0m7-1h0m15 21h0m10 9h0m1-1h0m16 6h0m17-28h0m2 25h0m1-15h0m7-6h0m1-14h0m11 30h0m0-2h0m-235 22h0m17-1h0m3 15h0m16 10h0m15-21h0m37-12h0m4 20h0m4-15h0m1 22h0m16-8h0m6 1h0m36 0h0m5 7h0m4-18h0m8 12h0m2-23h0m0 11h0m1 28h0m10-30h0m5 9h0m7-6h0m20-11h0m3 0h0m18 9h0m12 24h0m7-4h0m5-17h0m1 20h0m2-17h0m52 21h0m24-5h0m-317 38h0m4-16h0m4 8h0m15 10h0m14-29h0m28 20h0m5 1h0m4 14h0m4-23h0m2-3h0m6 23h0m0-8h0m3 7h0m3-32h0m5 5h0m0 5h0m6 12h0m8 9h0m10-29h0m17 26h0m19-25h0m17 19h0m9-2h0m5-6h0m4 7h0m0-1h0m4 16h0m10-7h0m7-9h0m5 13h0m6-15h0m1 3h0m0 1h0m11-17h0m21 16h0m0-13h0m3 2h0m7-12h0m2 24h0m2-9h0m13-13h0m3 18h0m6-5h0m13 19h0m-327 24h0m15 19h0m12 2h0m17-25h0m1 4h0m4-6h0m24 9h0m3 14h0m5-28h0m20 31h0m17-27h0m12 20h0m6-24h0m4 25h0m6-10h0m5-6h0m16 10h0m10 13h0m10-11h0m17-5h0m1-15h0m4 27h0m0-5h0m3-14h0m1 15h0m2-1h0m10-2h0m0-7h0m1 10h0m5-14h0m1 3h0m2-9h0m9-5h0m8-1h0m1 21h0m1 12h0m1-26h0m1 7h0m10 4h0m23-6h0m8-1h0m0 9h0m12-23h0m6 13h0m8 2h0m33-2h0m13 13h0m1 3h0m10 6h0m-337 11h0m11 12h0m14-13h0m9 14h0m17-14h0m6 2h0m8 28h0m3-20h0m7 14h0m13-13h0m16-3h0m2-3h0m3 27h0m3-1h0m2-18h0m1 2h0m3 2h0m1 13h0m2-14h0m15-23h0m4 1h0m10 5h0m4 0h0m5 13h0m3 17h0m36-22h0m27 5h0m30-12h0m4 24h0m5-15h0m6 4h0m16 13h0m7-26h0m10 13h0m0-3h0m28-7h0m2 19h0m2-8h0m0-14h0m2 28h0m1-13h0m26 11h0m19-1h0m-404 34h0m4-7h0m12-10h0m9 23h0m38-11h0m19 1h0m32 1h0m0-12h0m7 22h0m10 2h0m12-34h0m5 32h0m3-16h0m32 4h0m1-14h0m8 10h0m1 7h0m8-11h0m8-6h0m2 15h0m0 16h0m9-16h0m14 4h0m10-10h0m18 13h0m4-27h0m28 14h0m12-9h0m6 2h0m7 25h0m9-27h0m4 29h0m0-22h0m2-14h0m16 33h0m9 3h0m0-26h0m2-7h0m0 4h0m14-7h0m6 32h0m5-8h0m60-10h0m-437 36h0m26 8h0m3-13h0m1 28h0m6 5h0m1-13h0m8 2h0m0 7h0m6-5h0m1-5h0m41-1h0m8-3h0m2 4h0m1-17h0m32 21h0m0-13h0m2 6h0m5 1h0m4-22h0m4 39h0m25-39h0m10 2h0m8-2h0m4 29h0m17-23h0m1 33h0m2-27h0m3 24h0m30-35h0m10 33h0m2-31h0m3 15h0m0-11h0m0 31h0m7-9h0m5 6h0m2-29h0m0 33h0m6-26h0m9 8h0m1 13h0m6 3h0m0-4h0m52-30h0m0-1h0m2 16h0m10-10h0m3 25h0m6-18h0m5 2h0m10-11h0m19 25h0m4-20h0m3 23h0m5-7h0m4 12h0m5-8h0m3-14h0m3 15h0m3-12h0m-406 25h0m0 25h0m17-2h0m21 11h0m5-14h0m3-11h0m7 20h0m14-6h0m0 4h0m4 6h0m13-31h0m18 21h0m0 6h0m14-2h0m0-32h0m1 1h0m3 29h0m9 9h0m1-25h0m4 5h0m3 10h0m2-28h0m5 4h0m4 29h0m3-6h0m1 9h0m1-31h0m3-6h0m2 11h0m8-1h0m1 27h0m8-1h0m3-6h0m4-26h0m14 13h0m1 8h0m9-11h0m0 5h0m0 6h0m5 10h0m3-13h0m2 4h0m11-12h0m6 13h0m40-15h0m1 2h0m4 15h0m9-12h0m4 13h0m3 9h0m1-29h0m24 17h0m2-9h0m1 20h0m4-22h0m2-14h0m4 3h0m5 13h0m12-18h0m18 29h0m23-20h0m7-3h0m22-2h0m1 3h0m3-7h0m4 18h0m10-1h0m22 21h0m-440 2h0m53 33h0m2-11h0m0 16h0m7-17h0m16-17h0m15-4h0m1 29h0m8-25h0m11 21h0m1-2h0m7-5h0m15 9h0m1-15h0m26-6h0m3 3h0m18 25h0m6-11h0m2-1h0m7 13h0m22-28h0m20 29h0m0-17h0m22 20h0m2-17h0m2 6h0m12-4h0m14 7h0m8-7h0m1 0h0m10-22h0m9 10h0m1-1h0m2-10h0m10 5h0m4 16h0m2-9h0m0 5h0m17 1h0m6-19h0m8 27h0m5-12h0m4-15h0m0 11h0m18 17h0m2-5h0m7-23h0m0 13h0m29 23h0m21-10h0m0 3h0m-435 49h0m12-33h0m3 28h0m5 1h0m26 5h0m5-15h0m17 8h0m2-16h0m6-14h0m4 2h0m9 0h0m8 17h0m2 10h0m10-30h0m2 6h0m0-3h0m15 27h0m2-12h0m1-16h0m0 4h0m7 20h0m6 0h0m1-14h0m1-13h0m2 35h0m1 2h0m0-10h0m12-6h0m23 12h0m5-10h0m3 13h0m6-31h0m0 4h0m22 7h0m6-15h0m6 2h0m19 18h0m6-17h0m12 33h0m4-29h0m27 0h0m0 2h0m1-9h0m2 7h0m1-2h0m9-4h0m7-1h0m23 16h0m32-13h0m2 34h0m9-21h0m4 1h0m4 15h0m1-25h0m5-4h0m7 3h0m5 4h0m8-11h0m3 30h0m3 5h0m1 4h0m4-11h0m3-1h0m2-16h0m2 13h0m5-3h0m2 1h0m1 7h0m0 5h0m26-13h0m-485 30h0m34 4h0m28 1h0m0 2h0m6 18h0m2-18h0m35-15h0m2 8h0m1 27h0m1-4h0m4-19h0m10-11h0m6 22h0m8 1h0m5-24h0m2 28h0m9 8h0m2-25h0m31 1h0m5 5h0m0-19h0m2 5h0m16 8h0m15-7h0m4 10h0m11-11h0m1 23h0m12-4h0m2 10h0m6-17h0m21 7h0m2-5h0m1-15h0m2 22h0m1-27h0m10 31h0m0-25h0m1-2h0m0 24h0m9-20h0m3 14h0m7-8h0m3-8h0m2 7h0m9-4h0m18 29h0m19-32h0m25 7h0m1 24h0m1-20h0m8-3h0m9-1h0m17 5h0m9 12h0m1-18h0m4-1h0m5 22h0m4-5h0m1 5h0m1-12h0m6 14h0m23-31h0m10 0h0m17-1h0m-494 41h0m14 1h0m7 11h0m4 13h0m2-7h0m6-17h0m0 15h0m4 2h0m1-20h0m4 14h0m1 5h0m2-10h0m9 6h0m7-16h0m1 1h0m13 30h0m0-15h0m5-5h0m20 4h0m21 6h0m5 8h0m3 5h0m32-14h0m11 0h0m15 11h0m26 5h0m3-20h0m6-14h0m9 8h0m13-9h0m11 28h0m11-30h0m4 5h0m22-5h0m4 1h0m2 31h0m10-31h0m10 7h0m6 21h0m16-18h0m1 11h0m6-16h0m4-6h0m4 34h0m8-12h0m11 16h0m3-36h0m2 28h0m2-23h0m4 23h0m3-17h0m5 8h0m1-11h0m7 4h0m7 19h0m10-27h0m1-4h0m6 13h0m11 23h0m36-3h0m3-31h0m23 32h0m31-4h0m-502 47h0m0-8h0m20-15h0m2 18h0m13-15h0m37-8h0m4 8h0m2-4h0m4 13h0m6-1h0m6-7h0m1-17h0m8 3h0m7 15h0m12 11h0m22-23h0m15 14h0m3-3h0m9 10h0m1-11h0m1 8h0m1 2h0m16-17h0m4-10h0m8 33h0m1 4h0m14-6h0m6-22h0m2 16h0m9-12h0m4 2h0m2 5h0m3 15h0m21-18h0m4-13h0m2 25h0m1-7h0m25-8h0m29 8h0m5-7h0m14 4h0m7-5h0m1-9h0m7-6h0m1 31h0m6-21h0m13 17h0m3-23h0m13 7h0m13 5h0m1 15h0m29-17h0m20 4h0m11 16h0m2-26h0m3 18h0m2-24h0m4 1h0m12 21h0m-502 30h0m19 15h0m8-28h0m5 0h0m5 31h0m20-1h0m9-25h0m0 31h0m1-30h0m3 13h0m15-11h0m6 6h0m2 0h0m18-6h0m10 1h0m3 20h0m26-2h0m8-3h0m1-22h0m20 14h0m4-1h0m26-11h0m5 29h0m1-33h0m1 10h0m4 23h0m45-25h0m6-7h0m1 32h0m18-6h0m2-22h0m2 2h0m1-9h0m8 19h0m9 4h0m4-1h0m4 2h0m1-8h0m1-15h0m20 29h0m12-12h0m12 14h0m9-30h0m5 27h0m19 0h0m4 0h0m2-21h0m8-1h0m10 12h0m11-17h0m17 6h0m6 6h0m1-5h0m11-5h0m10 33h0m1 1h0m10-35h0m9 16h0m29 20h0m4-22h0m-505 49h0m7-25h0m16 8h0m11 26h0m2-4h0m1-5h0m4-7h0m5-10h0m4 2h0m3-6h0m15 16h0m18-19h0m1 25h0m22 12h0m17-25h0m13 17h0m21-7h0m14-18h0m27-4h0m8 27h0m26 5h0m1-5h0m7-14h0m1 15h0m10-12h0m1 15h0m2-17h0m19-5h0m12 15h0m1-7h0m5-15h0m8 26h0m1-25h0m8-1h0m9 29h0m7-31h0m9 21h0m16 10h0m10-15h0m13 1h0m28 5h0m1 13h0m1-20h0m11 17h0m3-20h0m5-7h0m10 7h0m10 23h0m2-34h0m9-3h0m9 12h0m10 7h0m1 18h0m2-1h0m6-23h0m7 9h0m27-5h0m3 9h0m8 5h0m14-26h0m2 4h0m17 19h0m-565 16h0m7 20h0m3-12h0m5 1h0m7-7h0m2-6h0m3 11h0m5 12h0m3 1h0m7 10h0m3-19h0m7-15h0m7 18h0m4-1h0m0-5h0m12 3h0m4-3h0m2-9h0m10 6h0m4 13h0m4 1h0m2-3h0m9-10h0m9 16h0m2 13h0m7-24h0m11 23h0m1-35h0m3 27h0m15-16h0m34 15h0m3-11h0m4 10h0m19-4h0m2 14h0m7 1h0m16-32h0m6-7h0m4 12h0m13 26h0m1-5h0m12-15h0m3 11h0m3-29h0m3 38h0m0-2h0m14-17h0m5 13h0m11-28h0m3 27h0m7-10h0m7 5h0m12-1h0m1-9h0m11-13h0m1 7h0m11 5h0m1 19h0m0-21h0m2 0h0m1-4h0m6-1h0m12 19h0m5 11h0m0-14h0m3-7h0m0-13h0m4 18h0m15 12h0m5-13h0m11 14h0m2-28h0m6 5h0m2 10h0m5 4h0m9-17h0m1 28h0m2-5h0m12 1h0m2-10h0m12-19h0m7 20h0m15-8h0m4 7h0m8 14h0m0-23h0m1-3h0m1 22h0m0 5h0m7-28h0m-515 40h0m28 12h0m3-8h0m7-9h0m25 22h0m6 3h0m9 8h0m9-30h0m0 21h0m5-14h0m2 14h0m7-18h0m9 1h0m2-2h0m22 10h0m3-15h0m3 12h0m4 7h0m12-8h0m1 3h0m15 16h0m9-31h0m2 11h0m11 3h0m29 6h0m2-11h0m1 20h0m5-19h0m0-9h0m23 33h0m8-29h0m4 15h0m2 0h0m5-6h0m6 2h0m16-13h0m5 25h0m6-15h0m13-1h0m19 20h0m0-12h0m3-5h0m6-8h0m5-10h0m5 29h0m11-5h0m0 11h0m8-8h0m17 11h0m17-20h0m2-8h0m10 27h0m4 0h0m5-15h0m8-22h0m1 38h0m7-22h0m24 3h0m1-6h0m12 22h0m8-20h0m6 15h0m17-23h0m4 23h0m15-24h0m-510 69h0m2-28h0m8 16h0m8-14h0m2 15h0m14-12h0m3 8h0m10 5h0m30-21h0m8-4h0m25 4h0m24 26h0m3 2h0m9 0h0m5-15h0m7-5h0m0 21h0m2 1h0m9-32h0m22 19h0m15-17h0m3 14h0m7-7h0m5 13h0m3-22h0m6 20h0m13-14h0m11 11h0m5-6h0m6-2h0m46-5h0m0 32h0m0-20h0m2 10h0m11-4h0m13 2h0m10 0h0m15-18h0m4 15h0m22-24h0m5 7h0m3-3h0m18 12h0m0-1h0m5 7h0m13-10h0m1 17h0m0-22h0m6 0h0m1 18h0m3-1h0m7-23h0m8 31h0m2-8h0m17 12h0m3-17h0m8-9h0m18-3h0m4 26h0m4-3h0m1-10h0m8-7h0m-533 37h0m19 18h0m2-17h0m40 25h0m14-1h0m2 1h0m1-22h0m32 9h0m2-9h0m1 20h0m6-13h0m15-11h0m18 27h0m1-5h0m1-5h0m5 7h0m4-18h0m4 20h0m2-6h0m2-26h0m8 9h0m1 22h0m14-11h0m10 0h0m11-10h0m19-2h0m11 7h0m0-17h0m1 35h0m3-24h0m8-10h0m19 10h0m57-9h0m4 30h0m5-24h0m5 16h0m7-14h0m5 24h0m2-4h0m9-24h0m2 4h0m12 10h0m9 10h0m9-24h0m19 29h0m4-19h0m7-5h0m4 24h0m13 1h0m12 1h0m5-37h0m4 6h0m14 25h0m18 4h0m3-11h0m26-14h0m4 7h0m-517 35h0m15 2h0m6-8h0m2 18h0m19-24h0m9 18h0m4 12h0m2-19h0m3 23h0m1 3h0m6-33h0m15 27h0m16-21h0m2 20h0m9-14h0m6-9h0m7 20h0m6-9h0m2 9h0m1-8h0m0 18h0m13 0h0m12-18h0m13 6h0m5-23h0m10 2h0m13 22h0m0-24h0m18 2h0m1 1h0m1-7h0m0 29h0m1-15h0m0 23h0m2-11h0m1-26h0m5 23h0m1-3h0m7 17h0m5-4h0m5-5h0m9-14h0m10 24h0m1-31h0m9 22h0m5-27h0m8 36h0m1-1h0m5-9h0m22-20h0m10-7h0m5 30h0m5-6h0m3-15h0m13 2h0m8 7h0m2 19h0m27-5h0m11-21h0m34 11h0m5-6h0m40 13h0m10-9h0m8 2h0m11-12h0m-510 35h0m40 22h0m2-9h0m6-14h0m6 3h0m0-8h0m8 12h0m20 8h0m10 9h0m0 10h0m0-10h0m3-2h0m8-17h0m15-4h0m23 23h0m7 1h0m25-9h0m9 0h0m1-15h0m12 9h0m4 15h0m14-23h0m1 17h0m11 6h0m22-27h0m3 12h0m17-10h0m9-5h0m5 27h0m3 5h0m7-30h0m3 25h0m1-10h0m6 9h0m12-2h0m0 13h0m7-12h0m20-4h0m7-1h0m24 8h0m13 3h0m0-7h0m3-2h0m11-20h0m0 6h0m14 24h0m3-22h0m37 22h0m7-31h0m2 22h0m5 12h0m4-5h0m8 2h0m0-30h0m7 17h0m-480 29h0m27 3h0m3 17h0m11-19h0m5 0h0m0 30h0m10-8h0m5-6h0m26-25h0m15 3h0m2 32h0m4 4h0m3-23h0m7-6h0m1 9h0m6 8h0m1-27h0m9 6h0m6 21h0m3-26h0m3 21h0m4-11h0m23-10h0m12 13h0m23-5h0m0-5h0m1 4h0m3 12h0m10-19h0m2 7h0m5 25h0m10 6h0m2-32h0m1 4h0m7-1h0m1-2h0m0-7h0m21 13h0m6-4h0m3 21h0m6-20h0m11 1h0m0 13h0m5-9h0m13-4h0m10 8h0m15-13h0m2 30h0m2-10h0m4-21h0m19 33h0m18-10h0m1 10h0m6-5h0m6-10h0m5-7h0m4 2h0m3-11h0m4 27h0m2-10h0m5-12h0m6 15h0m7 5h0m-396 41h0m3-6h0m47-26h0m9 36h0m2-27h0m3 17h0m2-3h0m18-17h0m3 24h0m39-21h0m1-8h0m10 5h0m1 9h0m39-8h0m3 9h0m19-8h0m3 13h0m4-11h0m10 13h0m11-15h0m29-8h0m4 3h0m10 25h0m0-11h0m6-15h0m3 18h0m1 8h0m10-20h0m15 16h0m29 9h0m4-3h0m0 6h0m5-11h0m4 0h0m0-5h0m5-21h0m16 11h0m2-5h0m8 4h0m6 6h0m7 21h0m-406 19h0m31-12h0m7 30h0m0 4h0m4-34h0m8 1h0m18 25h0m2 3h0m1-20h0m3 2h0m2 16h0m1 7h0m0-2h0m5-32h0m6-2h0m2 36h0m17-20h0m11 17h0m6-34h0m2 11h0m5 13h0m8-14h0m0-10h0m2 33h0m50-13h0m19-15h0m11-2h0m2 5h0m12 20h0m13-7h0m9 15h0m1-14h0m2 14h0m27-37h0m7 1h0m5 7h0m5 9h0m4 0h0m1-6h0m2-10h0m3 37h0m7-19h0m4-17h0m2 26h0m2 0h0m8-28h0m8 24h0m36-18h0m4 11h0m1-7h0m0 27h0m4-23h0m6 11h0m-342 28h0m24 12h0m71-8h0m157-2h0m17-8h0m1 15h0m2 13h0m4-23h0m8-13h0m2 25h0m4-6h0m8-10h0m1 12h0m17-10h0m1 27h0m6-24h0m10-10h0m9 18h0m-83 23h0m49-4h0m4 17h0m7-18h0m32 8h0m-48 57h0m4-13h0m4 9h0m1 13h0m13-24h0m7-10h0m5 10h0m5-7h0m-38 47h0m8 27h0" stroke="#30b99d" stroke-width="14"/></g>
<path d="M369.0 56.0L369.3 55.3L369.8 54.7L370.4 54.1L371.1 53.6L371.8 53.0L372.7 52.5L373.6 52.0L374.5 51.6L375.4 51.1L376.3 50.7L377.2 50.3L378.0 50.0L378.8 49.7L379.6 49.4L380.4 49.1L381.3 48.8L382.1 48.5L382.9 48.3L383.8 48.1L384.6 48.0L385.5 47.9L386.3 47.9L387.2 47.9L388.0 48.0L388.8 48.2L389.7 48.4L390.5 48.7L391.3 49.1L392.2 49.5L393.0 50.0L393.8 50.5L394.7 51.0L395.5 51.5L396.3 52.0L397.2 52.5L398.0 53.0L398.8 53.4L399.6 53.9L400.3 54.3L401.1 54.7L401.8 55.1L402.6 55.6L403.3 56.0L404.1 56.5L405.0 57.1L405.9 57.6L406.9 58.3L408.0 59.0L409.2 59.8L410.4 60.6L411.8 61.4L413.1 62.3L414.6 63.3L416.1 64.2L417.6 65.3L419.1 66.3L420.6 67.4L422.1 68.6L423.6 69.8L425.0 71.0L426.4 72.3L427.9 73.7L429.4 75.2L430.9 76.7L432.4 78.3L433.9 79.9L435.3 81.5L436.8 83.1L438.2 84.6L439.5 86.2L440.8 87.6L442.0 89.0L443.1 90.3L444.2 91.6L445.3 92.9L446.3 94.1L447.3 95.4L448.2 96.6L449.1 97.7L449.9 98.9L450.7 99.9L451.5 101.0L452.3 102.0L453.0 103.0L453.7 103.9L454.3 104.7L454.9 105.5L455.5 106.2L456.1 106.9L456.6 107.6L457.0 108.2L457.5 108.9L457.9 109.6L458.3 110.3L458.7 111.1L459.0 112.0L459.3 113.0L459.6 114.0L459.9 115.1L460.2 116.2L460.4 117.3L460.6 118.5L460.8 119.7L460.9 120.8L461.0 121.9L461.1 123.0L461.1 124.0L461.0 125.0L460.9 125.9L460.7 126.8L460.5 127.6L460.2 128.4L459.9 129.2L459.5 129.9L459.1 130.7L458.7 131.4L458.3 132.1L457.9 132.7L457.4 133.4L457.0 134.0L456.6 134.6L456.1 135.3L455.6 136.0L455.1 136.7L454.6 137.3L454.1 137.9L453.6 138.5L453.1 139.0L452.5 139.4L452.0 139.7L451.5 139.9L451.0 140.0L450.5 139.9L450.0 139.8L449.5 139.5L449.0 139.2L448.4 138.8L447.9 138.2L447.4 137.7L446.9 137.0L446.4 136.3L445.9 135.6L445.5 134.8L445.0 134.0L444.6 133.1L444.1 132.2L443.7 131.1L443.3 130.0L442.9 128.8L442.5 127.6L442.1 126.4L441.7 125.1L441.3 123.8L440.9 122.5L440.4 121.3L440.0 120.0L439.5 118.7L439.1 117.4L438.7 116.1L438.2 114.7L437.8 113.4L437.3 112.0L436.8 110.6L436.3 109.3L435.8 107.9L435.2 106.6L434.6 105.3L434.0 104.0L433.3 102.8L432.6 101.5L431.9 100.3L431.1 99.1L430.3 97.9L429.5 96.8L428.7 95.6L427.8 94.4L426.9 93.3L425.9 92.2L425.0 91.1L424.0 90.0L423.0 88.9L421.9 87.8L420.8 86.8L419.6 85.7L418.5 84.7L417.2 83.6L416.0 82.6L414.8 81.6L413.6 80.7L412.4 79.7L411.2 78.9L410.0 78.0L408.8 77.2L407.7 76.4L406.5 75.6L405.3 74.8L404.2 74.1L403.0 73.4L401.8 72.7L400.7 72.1L399.5 71.5L398.3 70.9L397.2 70.4L396.0 70.0L394.8 69.6L393.6 69.3L392.4 69.1L391.2 68.9L390.0 68.7L388.8 68.6L387.5 68.5L386.4 68.4L385.2 68.4L384.1 68.3L383.0 68.1L382.0 68.0L381.0 67.9L380.0 67.8L379.1 67.7L378.1 67.6L377.2 67.6L376.3 67.5L375.5 67.4L374.7 67.3L373.9 67.1L373.2 66.8L372.6 66.4L372.0 66.0L371.5 65.4L371.0 64.8L370.5 64.0L370.0 63.1L369.6 62.2L369.3 61.2L369.0 60.3L368.9 59.3L368.7 58.4L368.7 57.5L368.8 56.7Z" fill="#30b99d"/>
<g transform="scale(0.1290 0.1)" fill="none" stroke-linecap="round"><path d="M2993 475h0m2 4h0m34-20h0m-138 42h0m8-8h0m14 19h0m8-20h0m20 8h0m5-16h0m7 2h0m11 0h0m8 8h0m1 1h0m0-13h0m1-1h0m12 4h0m4 7h0m12 8h0m4-1h0m2-13h0m6 12h0m4-10h0m12 8h0m19-13h0m14 18h0m-206 54h0m5-16h0m2 6h0m9-4h0m2 3h0m5 3h0m181-20h0m1-7h0m19 34h0m6-15h0m10 0h0m1 16h0m3-32h0m7 14h0m1-8h0m6 15h0m0-3h0m23 15h0m-284 13h0m2-1h0m8 27h0m3-30h0m242 0h0m22-1h0m18 10h0m3-3h0m1 25h0m1-10h0m20-9h0m-316 29h0m6-3h0m3 12h0m0 16h0m2-17h0m2 1h0m1 4h0m8 8h0m6 7h0m4-3h0m266-31h0m8 35h0m4-34h0m6 1h0m2 13h0m7-14h0m9 19h0m5 8h0m26-7h0m3-4h0m44 14h0m-394 12h0m8-2h0m10 7h0m10 31h0m4-9h0m3-5h0m2-6h0m4 18h0m3 0h0m17-3h0m11-11h0m25 7h0m37-1h0m31 9h0m2 1h0m191-23h0m12 21h0m1-37h0m18 27h0m-366 36h0m26-17h0m1 13h0m4-17h0m1 3h0m19 5h0m3 3h0m13-6h0m23-3h0m8 14h0m12-12h0m41 17h0m6 1h0m26 11h0m26 3h0m7-6h0m143-31h0m1-1h0m9 1h0m2 7h0m1 5h0m3-4h0m1-2h0m6 14h0m3-5h0m1 14h0m12-15h0m2 7h0m-219 34h0m13-4h0m28 1h0m5 15h0m2-21h0m2 7h0m2 6h0m11 12h0m18 1h0m5-7h0m122-19h0m2 29h0m14-21h0m0 5h0m11 14h0m25-19h0m3 16h0m-200 22h0m15-6h0m4 8h0m4-8h0m13 8h0m3-15h0m3 6h0m6 21h0m4-9h0m145-6h0m26 10h0m-188 21h0m5 4h0m11-7h0m10 34h0m8 1h0m2-6h0m2 8h0m2-18h0m8-9h0m3-5h0m9 25h0m2-15h0m29 18h0m91-14h0m6-13h0m-138 46h0m6-7h0m19 15h0m1-2h0m5-2h0m117-11h0m14 10h0m7-3h0m3 21h0m18-7h0m-142 39h0m2-20h0m3 2h0m2 4h0m2 12h0m9-19h0m3 24h0m103-22h0m17 8h0m7 0h0m5-11h0m1-3h0m0 18h0m4 6h0m16-2h0m3 15h0m-147 9h0m0 14h0m2 13h0m1-16h0m131-16h0m1 17h0m6-1h0m6 15h0m6-21h0m1-3h0m0 4h0m-138 31h0m8-3h0m2 24h0m1-1h0m5-16h0m2 28h0m2 0h0m5-9h0m118-15h0m11 27h0m0-27h0m0 8h0m1 7h0m0-19h0m9-2h0m0 33h0m12-4h0m-154 16h0m2 15h0m6-17h0m1 27h0m12-14h0m126-21h0m3 7h0m18 10h0m1 0h0m2 19h0m2-3h0m-160 11h0m31 9h0m141-11h0m1 27h0m1-5h0m1 1h0m5 3h0m3 3h0m12 6h0m-176 10h0m3 0h0m2-4h0m3 27h0m3-19h0m1 14h0m4 12h0m132-34h0m19 5h0m1 5h0m-155 54h0m2-12h0m1-9h0m1 10h0m3-10h0m1 17h0m0 1h0m7-16h0m6 20h0m135-19h0m5 21h0m4-25h0m6 30h0m0-2h0m1 1h0m3-23h0m4-10h0m-5 78h0m1-33h0m9 15h0m2 4h0m1-16h0m17 27h0m-194 16h0m3-12h0m4 32h0m2 0h0m10-18h0m2 11h0m2 2h0m1-24h0m1 34h0m127-24h0m15 26h0m0-20h0m1-13h0m-150 46h0m6-10h0m16 18h0m3 8h0m120 9h0m9-36h0m0 4h0m5 12h0m0-13h0m13 9h0m-168 30h0m6 7h0m2 26h0m2-27h0m19 30h0m85-12h0m22 5h0m1-11h0m7-7h0m3 13h0m6-21h0m3 29h0m-135 28h0m2-15h0m9 22h0m14 3h0m64-7h0m0 2h0m3-7h0m3-14h0m5 25h0m14-14h0m-100 50h0m1-21h0m7 5h0m3 25h0m5-18h0m6-5h0m2 15h0m1-29h0m16 17h0m12 7h0m1-12h0m2 20h0m11-11h0m6-12h0m13 6h0m2-15h0m-68 60h0" stroke="#30b99d" stroke-width="14"/></g>
<g transform="scale(0.1290 0.1)" fill="none" stroke-linecap="round"><path d="M2938 499h0m29 16h0m22-24h0m2-3h0m3 9h0m11-7h0m61 27h0m-196 41h0m36-1h0m13-23h0m22 22h0m48-33h0m8 2h0m15 27h0m5-4h0m12 6h0m3 1h0m-168 31h0m9 12h0m31-26h0m27 21h0m14-5h0m6 8h0m41-11h0m22-6h0m5 7h0m8 7h0m15-13h0m2-18h0m11 24h0m10 0h0m2 1h0m2-5h0m28-7h0m5-13h0m1 4h0m14 6h0m5 4h0m15 17h0m-246 28h0m8 7h0m167 5h0m5-15h0m13-12h0m44-1h0m3-4h0m6 31h0m2-14h0m13-15h0m8 8h0m5 23h0m4 5h0m6-4h0m-268 27h0m8 11h0m19-27h0m10 31h0m10-6h0m23-24h0m6 14h0m6-18h0m56 28h0m13-26h0m1 25h0m4-23h0m2 30h0m13-30h0m65-5h0m5 0h0m22 25h0m76-4h0m4 9h0m-172 27h0m4-10h0m6 16h0m18-14h0m14 20h0m1-21h0m78 0h0m10 10h0m9 13h0m6-29h0m9-2h0m48 23h0m-107 44h0m41-1h0m40-6h0m1-20h0m9 26h0m3 9h0m2-34h0m22 1h0m9 28h0m-65 46h0m3-3h0m21-32h0m10 12h0m0 6h0m2 3h0m8-3h0m4-16h0m19-3h0m23 22h0m7 2h0m19 5h0m-108 47h0m2-36h0m8 12h0m5 23h0m8-5h0m39-20h0m22 0h0m4 26h0m1-11h0m-77 31h0m31-16h0m6 8h0m48 15h0m35-6h0m3-8h0m3 6h0m4 22h0m3-7h0m-25 16h0m8 14h0m50 14h0m3-22h0m-109 45h0m15 16h0m47-4h0m2 2h0m3-10h0m50-21h0m15 22h0m-78 31h0m50 7h0m0-1h0m18-4h0m5 2h0m9 0h0m-16 30h0m2 23h0m5-29h0m4 7h0m-60 66h0m58-26h0m52-6h0m0 19h0m11-20h0m23 36h0m-141 17h0m27-8h0m51-3h0m14 12h0m17 20h0m0-19h0m-70 59h0m18-25h0m59-12h0m12 29h0m7-13h0m20 1h0m-126 58h0m1-1h0m2-15h0m24-15h0m6 18h0m36 10h0m20-5h0m22-17h0m6 24h0m23 5h0m2-27h0m-66 34h0m23 11h0m-70 34h0m6 13h0m19-16h0m31 7h0m37-1h0m4 19h0m-68 44h0m22-11h0m1 7h0m27-15h0m-49 53h0m12-22h0m9 26h0m1-13h0m-24 39h0m31 12h0" stroke="#dcf5ee" stroke-width="14" opacity="0.9"/></g>
<g transform="scale(0.1290 0.1)" fill="none" stroke-linecap="round"><path d="M3036 997h0m39 18h0m7 17h0m18 7h0m2-8h0m4-3h0m6-17h0m6-7h0m2-2h0m5 5h0m2 23h0m4-24h0m4 9h0m3 11h0m21-13h0m16 20h0m19-3h0m-184 32h0m16-11h0m21 25h0m10-23h0m27 1h0m10-9h0m10 3h0m13-8h0m0 9h0m15-9h0m6 22h0m11 14h0m3-7h0m3 1h0m4 6h0m30-10h0m0 5h0m1-6h0m6 0h0m8 1h0m22-9h0m-207 51h0m16-6h0m7 4h0m18 13h0m0-16h0m2-23h0m2 9h0m2 20h0m2-29h0m20 15h0m1-3h0m13 19h0m13 4h0m7-4h0m0-11h0m1 11h0m5 8h0m9-39h0m4 3h0m18 23h0m11-18h0m16-7h0m17 24h0m4 9h0m2-2h0m9 0h0m0-3h0m2-10h0m10-19h0m3 29h0m-204 27h0m7 19h0m4-35h0m3 0h0m17 25h0m7-19h0m7-3h0m4 4h0m1 28h0m13-26h0m21-7h0m6 24h0m10-12h0m7 24h0m21-8h0m4 7h0m9-36h0m4 12h0m1 17h0m1-8h0m4-17h0m3-1h0m15 15h0m10 4h0m4 12h0m1-12h0m13-22h0m2 31h0m3-32h0m5 10h0m0 28h0m3-1h0m5-25h0m3 14h0m13 1h0m4 0h0m2-6h0m1 15h0m2-13h0m-216 42h0m7 1h0m0-5h0m3 6h0m5 3h0m2-25h0m7 3h0m8 10h0m14 0h0m5-3h0m7 5h0m6 9h0m21-29h0m12 18h0m6 15h0m16 6h0m18-23h0m8 1h0m28-17h0m15 19h0m3-10h0m2-2h0m8 32h0m1-25h0m2 24h0m7-18h0m27 19h0m5-27h0m13 22h0m-266 6h0m38 10h0m29 29h0m1-38h0m16 19h0m16 9h0m4-7h0m6 1h0m7 14h0m6-25h0m28 25h0m5-30h0m8 8h0m9 24h0m2-25h0m1-11h0m0 20h0m6-12h0m30 18h0m10 4h0m6 4h0m5-12h0m4-20h0m3 26h0m5-3h0m7-3h0m3-19h0m13 0h0m4 19h0m-256 32h0m8-5h0m3 1h0m9 9h0m6-18h0m7 0h0m3 8h0m15 7h0m17-5h0m23 22h0m7-8h0m6-25h0m1 25h0m20-18h0m1-2h0m1 24h0m12-1h0m5 7h0m9-8h0m5-7h0m38-17h0m9 19h0m10-14h0m0 2h0m1 4h0m26 13h0m4 3h0m19-6h0m1-10h0m-233 49h0m12 9h0m11-18h0m5-6h0m5 6h0m5 5h0m0-11h0m18 27h0m34-18h0m9 18h0m23-14h0m5 11h0m16-2h0m3-29h0m2 12h0m0-8h0m4 22h0m13-26h0m26 0h0m27 28h0m9-11h0m-230 36h0m4 1h0m2-14h0m9 35h0m11-21h0m10 11h0m4-4h0m6-24h0m8 38h0m9 0h0m1-36h0m9 34h0m23-8h0m1 4h0m4 3h0m13-19h0m10-7h0m2 24h0m2-24h0m10 14h0m21 2h0m12-6h0m10-8h0m1 24h0m9-25h0m2-5h0m4 33h0m7-24h0m8-9h0m3 25h0m1-17h0m-196 58h0m6 2h0m5-13h0m19-1h0m15 14h0m2-16h0m15 7h0m15-19h0m11-3h0m12 18h0m11 6h0m4 10h0m9-34h0m1 4h0m1 18h0m9 1h0m6 13h0m4-36h0m1 17h0m1-5h0m1-6h0m0 4h0m9 5h0m20-5h0m-185 28h0m8 7h0m19 25h0m1-13h0m2 7h0m1-7h0m10 14h0m6-25h0m0 1h0m0 19h0m11-4h0m2 5h0m1-12h0m1-2h0m10 10h0m13 3h0m6-28h0m2 0h0m2 26h0m2-25h0m5 32h0m9-5h0m3-2h0m3-7h0m0-12h0m1 24h0m23-12h0m10-17h0m-124 39h0m24 33h0m1-8h0m1-7h0m7-8h0m4 17h0m6 8h0m6-33h0m-34 51h0" stroke="#3fae3c" stroke-width="14"/></g>
<g transform="scale(0.1290 0.1)" fill="none" stroke-linecap="round"><path d="M3148 1165h0m41 29h0m-26 14h0m14 14h0m2 5h0m0 2h0m4 7h0m1-7h0m5-10h0m2 1h0m2 11h0m0-1h0m22 4h0m8-23h0m12 7h0m17 15h0m0-31h0m-82 46h0m17 7h0m2-4h0m2 18h0m9 6h0m7-3h0m1-13h0m1 2h0m0 3h0m1 2h0m1 4h0m1-17h0m2 9h0m0-1h0m2-6h0m4-15h0m4 18h0m2-17h0m1 27h0m0-7h0m2 6h0m3-25h0m2 5h0m2 2h0m1 5h0m0 24h0m1-23h0m3-6h0m3 13h0m1-13h0m7 0h0m1 26h0m1-30h0m0 13h0m0-6h0m8 10h0m16-9h0m8 2h0m-64 30h0m7 7h0m6 1h0m1-1h0m6 2h0" stroke="#3fae3c" stroke-width="15"/></g>
<g transform="scale(0.1290 0.1)" fill="none" stroke-linecap="round"><path d="M3481 1434h0m0-18h0m2 3h0m3 20h0m-14 14h0m5 22h0m-17 40h0m3 4h0m4-20h0m0 20h0m4-12h0m1-17h0m0-2h0m8-7h0m-23 54h0m1 0h0m0 4h0m4 8h0m4 8h0m-16 18h0m2 12h0m0 14h0m1-30h0m5 30h0m3-11h0m4-16h0m9-4h0m-32 69h0m12-5h0m1 2h0" stroke="#30b99d" stroke-width="14"/></g>
<path d="M610.0 239.0L610.4 238.7L610.8 238.5L611.3 238.5L611.9 238.6L612.5 238.7L613.1 238.9L613.8 239.2L614.4 239.5L615.1 239.8L615.8 240.1L616.4 240.3L617.0 240.5L617.6 240.6L618.2 240.8L618.8 240.9L619.4 241.0L620.0 241.1L620.6 241.2L621.2 241.3L621.8 241.5L622.4 241.7L622.9 241.9L623.5 242.2L624.0 242.5L624.5 242.9L625.0 243.3L625.4 243.8L625.9 244.3L626.3 244.9L626.8 245.4L627.2 246.0L627.6 246.6L627.9 247.2L628.3 247.8L628.7 248.4L629.0 249.0L629.3 249.5L629.6 250.1L629.9 250.6L630.2 251.0L630.4 251.5L630.7 252.0L630.9 252.6L631.1 253.1L631.4 253.7L631.6 254.4L631.8 255.2L632.0 256.0L632.2 256.9L632.4 257.9L632.7 258.9L632.9 260.0L633.1 261.1L633.3 262.3L633.5 263.5L633.6 264.8L633.8 266.1L633.9 267.4L634.0 268.7L634.0 270.0L634.0 271.4L634.0 272.8L634.0 274.3L633.9 275.8L633.8 277.3L633.7 278.9L633.6 280.4L633.4 282.0L633.2 283.5L633.0 285.1L632.8 286.6L632.5 288.0L632.2 289.4L631.9 290.8L631.5 292.2L631.1 293.5L630.7 294.9L630.2 296.2L629.7 297.5L629.2 298.8L628.7 300.1L628.2 301.4L627.6 302.7L627.0 304.0L626.4 305.3L625.7 306.6L625.1 308.0L624.4 309.3L623.7 310.6L623.0 311.9L622.2 313.2L621.4 314.5L620.6 315.7L619.8 316.9L618.9 318.0L618.0 319.0L617.1 320.0L616.0 320.9L615.0 321.7L613.9 322.5L612.8 323.3L611.6 324.0L610.5 324.7L609.3 325.4L608.2 326.1L607.1 326.7L606.0 327.4L605.0 328.0L604.0 328.7L602.9 329.4L601.7 330.2L600.6 330.9L599.5 331.7L598.4 332.4L597.3 333.1L596.4 333.6L595.6 334.1L594.9 334.4L594.4 334.5L594.0 334.5L593.9 334.3L593.9 333.9L594.1 333.4L594.5 332.8L594.9 332.1L595.5 331.2L596.1 330.3L596.7 329.3L597.4 328.3L598.0 327.2L598.5 326.1L599.0 325.0L599.4 323.9L599.9 322.7L600.3 321.4L600.8 320.1L601.2 318.7L601.7 317.3L602.1 315.8L602.5 314.3L602.9 312.8L603.3 311.2L603.7 309.6L604.0 308.0L604.3 306.3L604.6 304.6L604.8 302.8L605.0 300.9L605.2 299.0L605.4 297.1L605.5 295.2L605.7 293.3L605.9 291.4L606.1 289.6L606.3 287.7L606.5 286.0L606.7 284.3L607.0 282.6L607.3 281.0L607.6 279.4L607.9 277.8L608.2 276.2L608.4 274.6L608.7 273.1L608.9 271.5L609.2 270.0L609.4 268.5L609.5 267.0L609.6 265.5L609.7 264.0L609.7 262.5L609.7 261.0L609.7 259.5L609.7 258.0L609.6 256.6L609.6 255.1L609.5 253.8L609.5 252.5L609.5 251.2L609.5 250.0L609.5 248.8L609.5 247.7L609.4 246.5L609.4 245.4L609.3 244.4L609.3 243.3L609.3 242.4L609.3 241.5L609.4 240.7L609.5 240.0L609.7 239.5Z" fill="#2baadb" opacity="0.17" filter="url(#bl)"/>
<g transform="scale(0.1290 0.1)" fill="none" stroke-linecap="round"><path d="M4731 2395h0m10 3h0m7-4h0m5-11h0m-32 43h0m13-17h0m2 16h0m1 4h0m18-11h0m2-12h0m16-2h0m6 19h0m12 9h0m1-15h0m7 18h0m3 2h0m2-6h0m15-4h0m3-9h0m8-3h0m-105 53h0m10-25h0m0 10h0m1 23h0m1-7h0m8-9h0m3-9h0m7 18h0m14-12h0m16-6h0m4-1h0m5 27h0m18-3h0m13-30h0m10 15h0m5-5h0m14-12h0m-124 55h0m16 4h0m2 16h0m4-9h0m5-10h0m4-17h0m3 5h0m7 9h0m1-2h0m2 25h0m1-34h0m3 15h0m7-9h0m5 4h0m5 18h0m8-32h0m21 1h0m5 23h0m6 0h0m1 15h0m5-39h0m2 34h0m0-22h0m5 4h0m5 20h0m4-15h0m10 16h0m1-14h0m1-22h0m9 35h0m9-15h0m-168 26h0m6 26h0m2-29h0m0 21h0m8 6h0m4-16h0m6 21h0m2-32h0m4 26h0m1 9h0m8-3h0m0-22h0m2 22h0m1-31h0m14 19h0m1 14h0m0-15h0m0 1h0m5-12h0m4 12h0m1 12h0m7 2h0m1-16h0m6-19h0m8 32h0m1 2h0m5-2h0m5-25h0m16 29h0m2-11h0m1-17h0m2-4h0m3 15h0m6-18h0m2 18h0m2 8h0m5-21h0m0 18h0m1 8h0m6-5h0m10 3h0m6-15h0m5 3h0m0 6h0m23 10h0m-179 15h0m6 11h0m12 16h0m0-5h0m8-3h0m4 0h0m1-23h0m4-1h0m6 16h0m5 8h0m4-14h0m1 17h0m1-18h0m3-9h0m0 25h0m2-18h0m1 18h0m7-1h0m3-11h0m14-9h0m5 6h0m1-1h0m1 10h0m0-2h0m9-3h0m11-18h0m1 6h0m1-7h0m10 28h0m9-15h0m4-3h0m1 15h0m0 9h0m6-12h0m4-4h0m4-14h0m15-3h0m10 36h0m-170 23h0m1-13h0m4 16h0m5-21h0m7 35h0m9-33h0m6 14h0m11 15h0m2-6h0m7-23h0m7 20h0m6 0h0m8 11h0m1-12h0m5 5h0m14-1h0m1-29h0m9 4h0m2-2h0m1 1h0m8 21h0m0-4h0m11-3h0m1 12h0m1 6h0m1-34h0m3 10h0m2 14h0m1 8h0m1-14h0m16 16h0m0-30h0m4 1h0m1-3h0m3 35h0m2-24h0m16 17h0m-192 19h0m2-3h0m3 10h0m1 3h0m3-5h0m3 12h0m3-15h0m4 7h0m4 10h0m2-24h0m4 6h0m7 27h0m2-9h0m17 1h0m4-12h0m0 12h0m1 5h0m0-35h0m3 32h0m7-3h0m0 0h0m5 9h0m0-19h0m9-14h0m10 4h0m12 12h0m18 7h0m7 6h0m0-23h0m1-5h0m3 7h0m5-11h0m7 1h0m1 11h0m6 15h0m1 2h0m0-14h0m2 21h0m25-11h0m3-21h0m6 0h0m0-5h0m1 29h0m1-2h0m3-9h0m-194 52h0m2-25h0m2 10h0m1 4h0m3 3h0m2-14h0m2 27h0m2-11h0m14-5h0m4-5h0m0-13h0m2 12h0m4 19h0m5-26h0m13 27h0m1-15h0m2 15h0m3-16h0m3 21h0m1-3h0m11-7h0m2 5h0m3-21h0m4 7h0m4-10h0m0 16h0m4 1h0m3 8h0m1-19h0m1-7h0m18 30h0m5-21h0m2-12h0m24 26h0m1-32h0m1 18h0m2 2h0m14-7h0m2-3h0m3 2h0m2 0h0m2 20h0m1-7h0m2-18h0m5 8h0m1-2h0m4 11h0m-197 29h0m1 22h0m9-33h0m5 17h0m2-4h0m10-3h0m0-3h0m3 29h0m6-24h0m1-7h0m4 28h0m2-9h0m0 7h0m1-33h0m2 3h0m2-2h0m1 19h0m0 3h0m10-2h0m1-4h0m8 22h0m4-39h0m3 27h0m2-11h0m1 15h0m1-2h0m11-4h0m0 7h0m25-9h0m9 4h0m5-15h0m0 9h0m7-20h0m2 6h0m0 11h0m1-17h0m8 31h0m1 1h0m2-29h0m8 13h0m11 12h0m2-12h0m3 13h0m5-10h0m3-19h0m2 36h0m7-26h0m1-4h0m3 27h0m9-2h0m-198 15h0m1-7h0m11 26h0m20-8h0m7 15h0m6-4h0m6-25h0m4-1h0m1 7h0m8 8h0m1-11h0m16 3h0m8-8h0m2-1h0m2 24h0m15-14h0m2 4h0m3 12h0m4 1h0m1-12h0m1 6h0m4 11h0m3-1h0m1-20h0m11 21h0m12 3h0m8 0h0m8 2h0m4-33h0m2 12h0m0 0h0m3-2h0m2 3h0m1 10h0m5-18h0m7 28h0m7-15h0m-215 50h0m4 5h0m5-23h0m6 21h0m6 2h0m8-28h0m2-7h0m19 27h0m7-10h0m1-11h0m6-6h0m2 30h0m1-17h0m3 18h0m9-24h0m10-7h0m7-2h0m3 4h0m3-4h0m3 27h0m3-22h0m22 33h0m0-23h0m0-2h0m6 23h0m9-25h0m2 13h0m2-5h0m7 10h0m7-25h0m1 31h0m12 3h0m14-27h0m4 15h0m3 5h0m2-9h0m4 12h0m1-32h0m-190 66h0m15-8h0m9 9h0m8-30h0m1 37h0m3-24h0m3 1h0m4 12h0m1-22h0m1 7h0m0 15h0m3-14h0m3 24h0m1-14h0m4 17h0m0-8h0m5-7h0m8-20h0m7 8h0m2 0h0m6-4h0m0 8h0m1 0h0m6-15h0m2 10h0m4 26h0m3-24h0m5 1h0m10 18h0m1-23h0m2 11h0m4-18h0m8 6h0m1 5h0m0 26h0m8 0h0m1-9h0m1-27h0m3 30h0m2-33h0m0 15h0m3 2h0m4 7h0m4-14h0m1 11h0m1-12h0m3 21h0m14-24h0m1-2h0m3-1h0m6 17h0m0 0h0m1-14h0m2 10h0m-206 58h0m0 3h0m4-11h0m3-25h0m2 34h0m6 1h0m13-23h0m3 2h0m6-7h0m1 27h0m6-12h0m8-12h0m1 26h0m4-25h0m0-4h0m4 3h0m7 2h0m1 4h0m1-15h0m9 25h0m1 11h0m1-19h0m3 15h0m1-6h0m2-22h0m1-6h0m11 31h0m5-7h0m7-10h0m4 4h0m9 9h0m1-12h0m0-7h0m10 20h0m7-14h0m6 2h0m1 18h0m4 0h0m1-21h0m6 14h0m3-11h0m2 5h0m10-11h0m2-5h0m6 24h0m10-5h0m-197 29h0m12 16h0m9-26h0m9 2h0m17 21h0m0-7h0m1-8h0m5 27h0m5-12h0m2 7h0m11-6h0m4-2h0m5 14h0m11-30h0m6 9h0m9-12h0m3 5h0m6-2h0m5 25h0m2-33h0m5 24h0m1-4h0m8-21h0m3 33h0m4-4h0m5-1h0m1-22h0m13-2h0m2 23h0m5 2h0m12 4h0m10-8h0m1 13h0m-196 27h0m3-13h0m1-12h0m3 39h0m1-36h0m1 20h0m30 5h0m5-16h0m1 17h0m13-16h0m2-3h0m5 18h0m1-19h0m2-5h0m7 20h0m3 7h0m6 2h0m0 5h0m1-23h0m2-14h0m3 30h0m9-25h0m4 18h0m2-21h0m5 12h0m5 8h0m6-9h0m4 6h0m0 4h0m4-24h0m6 19h0m0 13h0m4-13h0m5-11h0m5-5h0m0 23h0m4-22h0m1 3h0m4 19h0m4-19h0m6 31h0m6-26h0m1 10h0m4 9h0m-174 45h0m1-34h0m1 7h0m0 3h0m1 19h0m15-27h0m4 14h0m7-6h0m0 18h0m4-3h0m12-12h0m3-10h0m1 19h0m0-19h0m1 33h0m4-26h0m9 22h0m3-2h0m6-8h0m3-19h0m5 9h0m2 17h0m11-12h0m2-11h0m10 19h0m0-8h0m10-19h0m16 38h0m7-37h0m1 27h0m0 7h0m1-2h0m2-18h0m5 15h0m0-27h0m3 4h0m8-6h0m3 3h0m2 2h0m2 19h0m11-15h0m1-7h0m-186 40h0m2 31h0m2-23h0m4 5h0m0 20h0m0-8h0m3-16h0m1 14h0m4 1h0m6-26h0m0 34h0m4-35h0m5 16h0m1 14h0m2 4h0m2-5h0m1-16h0m1 14h0m3 9h0m9-28h0m2 21h0m2-21h0m2 18h0m16-11h0m1-10h0m0-3h0m4 32h0m0-28h0m3-4h0m1 22h0m4-21h0m1 7h0m1 12h0m5-17h0m3 9h0m2-14h0m9 3h0m5 28h0m2 8h0m2-13h0m1 13h0m4-15h0m1 5h0m7 10h0m7-9h0m8 5h0m1-4h0m8-16h0m0 18h0m2-5h0m3-20h0m-152 33h0m0-1h0m1 6h0m1-4h0m5 1h0m3 26h0m1-14h0m3 14h0m3 0h0m1 1h0m1-12h0m4 5h0m2 10h0m3-33h0m4 21h0m2-5h0m8 14h0m4-15h0m1 16h0m15 6h0m0-21h0m5 13h0m1-22h0m0 7h0m2-3h0m3 21h0m2-14h0m17 15h0m5-14h0m9-2h0m2-17h0m0 5h0m0 5h0m4 22h0m13-6h0m2-26h0m1 24h0m2-24h0m10 15h0m4-9h0m4 10h0m-163 60h0m9 3h0m5-19h0m0-17h0m1 2h0m4 13h0m1-12h0m1 18h0m1-10h0m3 19h0m4 5h0m1-38h0m8 1h0m2 25h0m1 4h0m5-30h0m14 15h0m2-11h0m4 12h0m3 15h0m6-28h0m1 35h0m0-15h0m1-4h0m1-10h0m10-3h0m18 25h0m11-17h0m2 10h0m2-14h0m4 3h0m2 20h0m12-19h0m1-12h0m1 9h0m-157 50h0m3 1h0m14 14h0m2-1h0m4-12h0m0 15h0m3-3h0m2 0h0m2 2h0m6-3h0m9-25h0m1 27h0m2-6h0m8-17h0m5-1h0m0 13h0m5-16h0m0 13h0m25 16h0m0-13h0m5 14h0m3-10h0m6-25h0m2 11h0m1-5h0m6-1h0m3-6h0m12 15h0m2-10h0m7-4h0m-121 56h0m17-3h0m4 3h0m6 10h0m8-23h0m6 15h0m8-21h0m3 25h0m1-19h0m3 18h0m3-11h0m1 4h0m3-14h0m9 24h0m11-7h0m-133 49h0m7-13h0m12-4h0m3 25h0m4-23h0m0 23h0m2-7h0m10 3h0m6-17h0m1 5h0m0-12h0m7 23h0m6-11h0m9-8h0m0 20h0m10-26h0m0 25h0m6-32h0m-89 77h0m6-10h0m1-26h0m4 12h0m3 12h0m2-21h0m2 20h0m5-11h0m1 25h0m2-20h0m11-9h0m-43 44h0m18-2h0m3-10h0m4 1h0" stroke="#2baadb" stroke-width="14"/></g>
<path d="M611.0 240.0L611.4 239.7L612.0 239.6L612.7 239.5L613.4 239.6L614.3 239.7L615.1 239.9L616.0 240.2L616.9 240.4L617.8 240.7L618.6 241.0L619.3 241.3L620.0 241.5L620.6 241.7L621.2 241.9L621.7 242.1L622.3 242.3L622.8 242.5L623.2 242.8L623.7 243.1L624.2 243.4L624.6 243.7L625.1 244.1L625.5 244.5L626.0 245.0L626.5 245.5L626.9 246.1L627.4 246.7L627.8 247.3L628.3 248.0L628.7 248.7L629.1 249.5L629.6 250.3L629.9 251.1L630.3 252.0L630.7 253.0L631.0 254.0L631.3 255.1L631.6 256.2L631.9 257.5L632.2 258.7L632.4 260.1L632.7 261.4L632.9 262.8L633.1 264.3L633.2 265.7L633.3 267.1L633.4 268.6L633.5 270.0L633.5 271.4L633.5 272.9L633.5 274.4L633.5 275.9L633.4 277.5L633.3 279.0L633.1 280.5L633.0 282.1L632.8 283.6L632.6 285.1L632.3 286.6L632.0 288.0L631.7 289.4L631.3 290.8L630.9 292.2L630.4 293.6L630.0 294.9L629.5 296.2L628.9 297.6L628.4 298.9L627.8 300.2L627.2 301.5L626.6 302.7L626.0 304.0L625.4 305.3L624.7 306.5L624.0 307.8L623.3 309.0L622.6 310.3L621.8 311.5L621.0 312.7L620.3 313.9L619.5 315.0L618.7 316.0L617.8 317.0L617.0 318.0L616.1 319.0L615.1 320.0L614.0 321.0L612.8 322.0L611.6 323.0L610.5 323.9L609.4 324.7L608.4 325.3L607.5 325.8L606.8 326.1L606.3 326.2L606.0 326.0L606.0 325.5L606.1 324.8L606.5 323.8L607.0 322.6L607.7 321.2L608.4 319.8L609.2 318.2L610.1 316.5L610.9 314.8L611.7 313.2L612.4 311.5L613.0 310.0L613.6 308.5L614.1 306.9L614.7 305.2L615.3 303.6L615.8 301.8L616.4 300.1L616.9 298.4L617.4 296.7L617.9 295.0L618.3 293.3L618.7 291.6L619.0 290.0L619.3 288.4L619.5 286.8L619.7 285.3L619.9 283.7L620.0 282.2L620.1 280.6L620.2 279.1L620.2 277.6L620.2 276.2L620.2 274.7L620.1 273.4L620.0 272.0L619.8 270.7L619.6 269.4L619.4 268.1L619.1 266.8L618.7 265.6L618.4 264.4L618.0 263.2L617.6 262.1L617.2 261.0L616.8 259.9L616.4 258.9L616.0 258.0L615.6 257.1L615.2 256.3L614.7 255.6L614.2 255.0L613.7 254.3L613.2 253.8L612.8 253.2L612.3 252.6L611.9 252.0L611.6 251.4L611.2 250.7L611.0 250.0L610.8 249.2L610.6 248.3L610.4 247.4L610.3 246.4L610.2 245.4L610.1 244.4L610.1 243.5L610.1 242.6L610.2 241.7L610.4 241.0L610.7 240.4Z" fill="#2baadb"/>
<g transform="scale(0.1290 0.1)" fill="none" stroke-linecap="round"><path d="M4737 2399h0m2-3h0m7-5h0m15 1h0m3-3h0m4 10h0m-53 22h0m5 17h0m8-9h0m3-9h0m4 10h0m1-25h0m8 2h0m1 4h0m18-11h0m17 18h0m3-8h0m1 3h0m5-11h0m4 2h0m5 3h0m11 18h0m13 1h0m20 1h0m-117 15h0m6 5h0m0 24h0m101-31h0m8 5h0m4 23h0m0-21h0m1-7h0m8 6h0m10 23h0m5 4h0m10-5h0m-148 46h0m6-6h0m3-10h0m136-9h0m1-5h0m-144 46h0m14 7h0m5-11h0m8 7h0m7 18h0m1-16h0m0 16h0m4 1h0m2 3h0m113-3h0m6-23h0m3 11h0m1-9h0m1 23h0m1-5h0m-145 11h0m11 37h0m7-28h0m3 19h0m3-11h0m3 13h0m13-2h0m99-24h0m1 8h0m11-10h0m1 34h0m10-5h0m-137 11h0m3 12h0m3 7h0m3 1h0m4 17h0m106 0h0m11-7h0m1-30h0m8 10h0m-126 39h0m7-10h0m11 37h0m92-36h0m4 13h0m5-2h0m-117 55h0m5-8h0m2 3h0m1-23h0m1 34h0m2-30h0m8 28h0m90-12h0m3 0h0m5 0h0m6-14h0m3 26h0m-118 46h0m3-28h0m2-9h0m3 28h0m2-4h0m2-7h0m5-5h0m96-6h0m2-2h0m-113 63h0m4 11h0m0-8h0m3-10h0m4 5h0m85-11h0m5-5h0m4-6h0m1 31h0m1-6h0m1-2h0m4-17h0m5 26h0m-115 40h0m3-14h0m1 0h0m20 2h0m63 14h0m7-7h0m0-15h0m2 11h0m4-17h0m2 17h0m0-5h0m3-22h0m-115 45h0m2-1h0m11 4h0m77-5h0m14 21h0m2-16h0m3-5h0m1 10h0m4 21h0m-119 17h0m4 25h0m3-12h0m1 10h0m4-21h0m84 24h0m12-25h0m-114 60h0m2-19h0m1 17h0m8-3h0m80 2h0m-105 41h0m3-20h0m6 9h0m1 6h0m1 10h0m7-35h0m4 4h0m2 6h0m76 8h0m0 1h0m0 19h0m4-1h0m-103 40h0m1-17h0m7-12h0m2 9h0m72 15h0m4-19h0m0-6h0m4 9h0m1 3h0m3-15h0m4 3h0m8 3h0m-123 44h0m1 25h0m3-19h0m0-3h0m1 17h0m8-7h0m8-16h0m56 24h0m5 3h0m6-13h0m8-1h0m5-19h0m-116 59h0m5-8h0m5 2h0m11-5h0m2-5h0m57 6h0m1-5h0m4 4h0m8-3h0m1-9h0m4 9h0m12 0h0m-43 67h0m8-11h0m1-10h0m8-9h0m-108 42h0m19 6h0m5-14h0m26 19h0m5 8h0m3-1h0m0 11h0m1-27h0m5 21h0m5-25h0m2 18h0m4-16h0m3 8h0m5-15h0m2 12h0m-104 44h0m4-5h0m10 8h0m4-17h0m2-2h0m2 37h0m18-13h0m5-8h0m1 12h0m3-6h0m7 3h0m-67 36h0m10-22h0m5 15h0m4-13h0m0-2h0m3 14h0m5-4h0m7 17h0m2-17h0m0 1h0m14-11h0" stroke="#2baadb" stroke-width="14"/></g>
<g transform="scale(0.1290 0.1)" fill="none" stroke-linecap="round"><path d="M4735 2413h0m57 8h0m-56 30h0m2-3h0m30 1h0m27 26h0m5-31h0m-55 54h0m9-4h0m44 8h0m67-2h0m-66 44h0m6-3h0m31 7h0m-54 50h0m73-23h0m-41 40h0m43 2h0m11 7h0m10 1h0m-69 22h0m4 7h0m16-9h0m14 16h0m14 15h0m33-5h0m-78 35h0m8 8h0m8-6h0m2 2h0m58 2h0m-72 14h0m17-2h0m20 16h0m-14 38h0m14 53h0m13-30h0m22 4h0m6 16h0m9-13h0m-60 54h0m8 4h0m17-6h0m4-1h0m-62 27h0m43 5h0m16 2h0m12 14h0m-91 44h0m-5 27h0m12-16h0m77 9h0m-74 52h0m39-22h0m20 12h0m-87 39h0m43 4h0m12 9h0m-66 20h0m39 20h0m3-3h0m1-3h0m-50 48h0m25 2h0m-57 48h0m33-5h0m21-5h0m-64 43h0" stroke="#d8f1f9" stroke-width="14" opacity="0.9"/></g>
<g transform="scale(0.1290 0.1)" fill="none" stroke-linecap="round"><path d="M4671 3278h0m-39 38h0m3 2h0m6 0h0m2-7h0m1 0h0m2-1h0m3-6h0m7-2h0m2-10h0m0 6h0m4-2h0m9 0h0m4-7h0m-78 57h0m3 8h0m1-14h0m1 12h0m2-3h0m12-5h0m0-11h0m8-7h0m2-4h0m3 7h0m2-8h0m2-1h0m1 8h0m1 0h0m8-7h0m2 2h0" stroke="#2baadb" stroke-width="14"/></g>
<g transform="scale(0.1290 0.1)" fill="none" stroke-linecap="round"><path d="M2527 4986h0m6 2h0m8 0h0m5-5h0m5-21h0m1 16h0m-31 33h0m0 25h0m4-17h0m2-19h0m4 20h0m0 0h0m0 0h0m2-20h0m1 26h0m1 8h0m1 1h0m0-31h0m3 13h0m6-15h0m2 19h0m3-1h0m-26 21h0m9 8h0m3-9h0" stroke="#d3952b" stroke-width="15"/></g>
<g transform="scale(0.1290 0.1)" fill="none" stroke-linecap="round"><path d="M2493 5048h0m0 22h0m11-24h0m2 27h0m7-9h0m1 12h0m0-8h0m2-14h0m2 1h0m21 13h0m6-1h0m7 8h0m4-32h0m10 24h0m1 0h0m6-8h0m2 3h0m5-5h0m16 13h0m2-22h0m4 18h0m6 5h0m-135 42h0m12-8h0m6-25h0m9 29h0m5-6h0m1 2h0m5-5h0m4 6h0m1 12h0m3-26h0m0 8h0m2-8h0m4-3h0m3-2h0m2-5h0m1 7h0m0-8h0m4 24h0m18 12h0m2-37h0m1 33h0m1-32h0m0 23h0m5-11h0m7-11h0m0 17h0m0 8h0m6-22h0m4 20h0m14 8h0m3-19h0m3-4h0m8 1h0m8 9h0m-153 52h0m3-30h0m4 23h0m0 8h0m2 0h0m2-8h0m2-7h0m1-18h0m10 26h0m3 13h0m1-10h0m1-6h0m7 0h0m21 1h0m5 12h0m0-21h0m1-15h0m9 15h0m2-7h0m15 31h0m3-34h0m3 0h0m1 24h0m1-1h0m4-28h0m6 6h0m5 18h0m2 7h0m13-23h0m3 2h0m16 2h0m-157 47h0m2 8h0m3-11h0m0-14h0m2 36h0m4-30h0m2-7h0m3 24h0m4-23h0m1 12h0m7-8h0m8 22h0m0-16h0m4 23h0m0-24h0m1 17h0m1-25h0m1 6h0m8-2h0m17 19h0m12 13h0m9-38h0m3 18h0m6-13h0m3-4h0m2 36h0m8-3h0m5-1h0m7-14h0m2 11h0m2-28h0m0 22h0m4-19h0m2-4h0m-131 48h0m1 3h0m4-4h0m10 9h0m2 7h0m6 5h0m24 2h0m5-14h0m25 16h0m2-22h0m0 12h0m4-4h0m4 19h0m3-10h0m9-19h0m-99 44h0m9 7h0m15-15h0m3 18h0m16-14h0m4 26h0m9-9h0m6-12h0m11 5h0m1-8h0m13-11h0" stroke="#6c94d8" stroke-width="15"/></g>
<g transform="scale(0.1290 0.1)" fill="none" stroke-linecap="round"><path d="M2555 5029h0m-69 24h0m56 21h0m26-25h0m10-1h0m1 40h0m-106 70h0m5-9h0m21-8h0m18 18h0m20-18h0m43-17h0m18 29h0m-65 34h0m12-26h0m15 7h0m-73 48h0m6-10h0m10 4h0m37-9h0m-58 41h0" stroke="#b9a0e0" stroke-width="15"/></g>
<g transform="scale(0.1290 0.1)" fill="none" stroke-linecap="round"><path d="M2496 5058h0m77 1h0m17-18h0m-98 40h0m55 2h0m42 33h0m-48 6h0m4 1h0m49 13h0m-120 27h0m53 18h0m7 17h0m47-35h0m-119 50h0m81 10h0m-81 38h0m31-13h0" stroke="#d9c83a" stroke-width="15"/></g>
<path d="M325.0 526.0L325.1 526.7L325.1 527.3L325.0 528.0L324.7 528.7L324.5 529.4L324.1 530.1L323.8 530.7L323.4 531.4L323.0 532.1L322.6 532.7L322.3 533.4L322.0 534.0L321.8 534.6L321.5 535.3L321.3 535.9L321.1 536.6L320.9 537.3L320.7 537.9L320.5 538.5L320.2 539.1L320.0 539.7L319.7 540.2L319.4 540.6L319.0 541.0L318.6 541.3L318.2 541.6L317.7 541.8L317.2 542.0L316.6 542.2L316.1 542.3L315.5 542.4L315.0 542.5L314.5 542.5L313.9 542.5L313.5 542.5L313.0 542.5L312.6 542.5L312.1 542.4L311.7 542.4L311.2 542.3L310.8 542.2L310.4 542.1L310.0 541.9L309.6 541.7L309.3 541.5L309.0 541.2L308.7 540.9L308.5 540.5L308.3 540.1L308.1 539.6L308.0 539.0L307.9 538.5L307.8 537.8L307.7 537.2L307.7 536.5L307.7 535.8L307.7 535.1L307.8 534.4L307.9 533.7L308.0 533.0L308.2 532.3L308.4 531.6L308.6 530.8L308.9 530.0L309.2 529.2L309.6 528.4L310.0 527.6L310.4 526.8L310.8 526.1L311.2 525.3L311.6 524.6L312.0 524.0L312.4 523.4L312.9 522.7L313.3 522.0L313.8 521.3L314.3 520.6L314.8 519.9L315.3 519.4L315.9 518.9L316.4 518.4L316.9 518.2L317.5 518.0L318.0 518.0L318.6 518.2L319.2 518.5L319.9 519.0L320.6 519.6L321.4 520.3L322.1 521.1L322.7 522.0L323.4 522.8L323.9 523.7L324.4 524.5L324.8 525.3Z" fill="#6c94d8"/>
<g transform="scale(0.1290 0.1)" fill="none" stroke-linecap="round"><path d="M2437 5196h0m6-23h0m3 14h0m9-6h0m16 16h0m4-3h0m4-14h0m2 17h0m6-11h0m-77 46h0m14-7h0m1-8h0m3 16h0m6-18h0m8-12h0m40 5h0m3 13h0m5-20h0m6 18h0m2-16h0m6 19h0m5 0h0m12 11h0m8 6h0m-134 27h0m11-7h0m3-13h0m10 19h0m4-22h0m86 26h0m2-15h0m1 15h0m1-13h0m2 6h0m-132 46h0m2-16h0m3-4h0m7 17h0m1 3h0m1-8h0m2 18h0m3-17h0m3-12h0m2 13h0m10-12h0m92 14h0m5-8h0m2-5h0m3-8h0m3-3h0m5 7h0m-148 66h0m3-17h0m5 4h0m1-7h0m4-4h0m96 26h0m16-17h0m6-7h0m-132 54h0m0-3h0m5 5h0m5-2h0m2-18h0m0 3h0m13 26h0m71-3h0m14-6h0m1 4h0m4-15h0m-81 40h0m3 21h0m2-23h0m33 3h0m17-5h0m3 5h0m2 0h0m-41 28h0" stroke="#6c94d8" stroke-width="14"/></g>
<g transform="scale(0.1290 0.1)" fill="none" stroke-linecap="round"><path d="M2449 5195h0m-10 19h0m1 0h0m9-9h0m6 32h0m26-13h0m-59 51h0m4-27h0m4 9h0m18 18h0m9-30h0m17 16h0m17 17h0m3-33h0m19 23h0m-116 30h0m3 18h0m62-5h0m5-7h0m1 8h0m6 6h0m20-18h0m-92 33h0m4 13h0m12 8h0m6-19h0m28 1h0m7 6h0m26 1h0m4-3h0m-60 58h0m28 0h0m9-5h0m1 5h0m10-37h0m-64 42h0m6 17h0m26-16h0m12 6h0" stroke="#dfe8f8" stroke-width="14" opacity="0.9"/></g>
<g transform="scale(0.1290 0.1)" fill="none" stroke-linecap="round"><path d="M2177 5367h0m4 8h0m2 1h0m4 2h0m0-10h0m0 25h0m1-16h0m0 10h0m0 0h0m5 6h0m3-15h0m3 20h0m2-3h0m4 2h0m1-3h0m0-2h0m2 5h0m2 2h0m9-7h0m16 6h0m1-1h0m10 2h0m75-2h0m11-2h0m2 2h0m3 2h0m7-1h0m0-3h0m9 0h0m1 4h0m17-3h0m15-7h0m4 7h0m-192 5h0m1 1h0m6 8h0m3-3h0m8-4h0m3 9h0m0-1h0m7 2h0m4 6h0m17-18h0m3 29h0m1-15h0m4-1h0m2-10h0m2 3h0m0 0h0m3 7h0m14-7h0m3-5h0m2 2h0m2 18h0m7-7h0m2-12h0m3-1h0m2 6h0m1 1h0m1-6h0m17 7h0m4 7h0m0-2h0m2-10h0m1 5h0m0-8h0m1 6h0m12 3h0m0-5h0m7 10h0m2-14h0m2 5h0m3 6h0m1-7h0m1-4h0m0 1h0m3 19h0m2-15h0m1-3h0m1 9h0m6-9h0m7-2h0m1-1h0m0 7h0m3-3h0m3 3h0m4-7h0m6 4h0m1-1h0m11 6h0" stroke="#6c94d8" stroke-width="14"/></g>
<g transform="scale(0.1290 0.1)" fill="none" stroke-linecap="round"><path d="M2742 4949h0m5-10h0m9 5h0m4 15h0m2-2h0m-15 7h0m5 27h0m2-3h0m5-25h0m0 10h0m-10 54h0m6 9h0m3-13h0m2 1h0m12-24h0m-12 63h0m3-22h0m6 6h0m1 32h0m1-38h0m-20 73h0m5-32h0m1 24h0m5 4h0m2-3h0" stroke="#93a93c" stroke-width="14"/></g>
<g transform="scale(0.1290 0.1)" fill="none" stroke-linecap="round"><path d="M2761 5077h0m-1 30h0m2-21h0m9 32h0m1-2h0m-41 9h0m7 5h0m7-4h0m2 28h0m1-27h0m1 11h0m0-13h0m0 3h0m3 14h0m0-8h0m1 0h0m1-1h0m2 16h0m2 9h0m1-4h0m1-3h0m2 1h0m1-31h0m0 0h0m3 27h0m2-15h0m4 12h0m5 2h0m2-16h0m-53 32h0m4 18h0m0 4h0m7-3h0m2 6h0m0 2h0m4-8h0m0 4h0m3 13h0m0-28h0m1-4h0m1 2h0m1 3h0m2 26h0m2-13h0m1 4h0m1 2h0m3-31h0m1 27h0m1-13h0m0-8h0m2 20h0m3 13h0m2-6h0m1-20h0m9-3h0m14 6h0m-69 26h0m7 33h0m1-18h0m2 18h0m3-2h0m0-27h0m2 8h0m1-13h0m1 16h0m2 5h0m0-18h0m1 20h0m0-18h0m4 16h0m0-22h0m1 13h0m4-9h0m1 8h0m0-12h0m0 24h0m2 12h0m1-24h0m0 14h0m6-5h0m0 15h0m2-18h0m1 0h0m0-2h0m1 18h0m4-25h0m0 10h0m6-5h0m1 22h0m2-16h0m1 8h0m6-16h0m-57 47h0m1-15h0m3 3h0m2 4h0m2-4h0m2 25h0m1-31h0m1 32h0m1-7h0m3-13h0m3 10h0m1 15h0m1-14h0m2-1h0m2-12h0m3 0h0m2-9h0m3 20h0m7-15h0m1 23h0m8-24h0m4 11h0m4-2h0m-85 62h0m15-18h0m0-16h0m3 20h0m0-20h0m1 34h0m4 1h0m1 1h0m2-38h0m4 2h0m1 35h0m0-10h0m0-27h0m1 32h0m3 6h0m0-26h0m3-1h0m0-4h0m1 26h0m1-2h0m1-19h0m0 0h0m1 0h0m0-5h0m0 31h0m2-1h0m1-11h0m3-3h0m0-11h0m5 6h0m0-1h0m1 1h0m0 5h0m1-13h0m1-7h0m3 6h0m0 13h0m0 12h0m3-33h0m1 23h0m4-20h0m2 15h0m-67 39h0m1-7h0m5 26h0m0 0h0m7-22h0m2 12h0m0 6h0m0 0h0m0-23h0m0-2h0m1 12h0m1 18h0m2-28h0m1-2h0m2 11h0m1-7h0m1 20h0m0 4h0m2-8h0m1-12h0m3 17h0m0 1h0m0-26h0m2 3h0m2 1h0m0 5h0m1 12h0m2-8h0m3 3h0m2 0h0m2 0h0m0 8h0m4 6h0m1-3h0m2 2h0m1-36h0m-66 64h0m2-8h0m9 13h0m2-5h0m2 7h0m1-20h0m3 0h0m7 5h0m2 4h0m0 3h0m1 13h0m1-27h0m0 7h0m1-7h0m0 11h0m1 15h0m0 2h0m2-1h0m0-14h0m1 6h0m1-25h0m2-4h0m0 6h0m2 11h0m0 3h0m2-8h0m1 3h0m1-3h0m0 14h0m1 2h0m0 6h0m0-25h0m1 14h0m4 15h0m8-11h0m1 10h0m-52 23h0m2 12h0m6-15h0m1-11h0m1 5h0m1 17h0m6-7h0m1-2h0m0-15h0m1 0h0m2 26h0m1-17h0m1 0h0m0 16h0m1-13h0m1-6h0m0-10h0m1 28h0m0-13h0m1 19h0m4-31h0m8 20h0m2-11h0m6 24h0m12-37h0m-59 54h0m3-8h0m3-2h0m2 15h0m15 9h0m2-25h0" stroke="#93a93c" stroke-width="14"/></g>
<g transform="scale(0.1290 0.1)" fill="none" stroke-linecap="round"><path d="M2711 5432h0m7-11h0m-19 32h0m3 26h0m2-15h0m2-23h0m0 38h0m1-1h0m0-37h0m0 12h0m2 4h0m2-11h0m0 5h0m0 11h0m1 2h0m0-10h0m1 19h0m0-32h0m4 19h0m0 16h0m2-29h0m2 11h0m2 1h0m-30 34h0m2-7h0m3 20h0m1-15h0m0-2h0m3 8h0m5-17h0m2 36h0m2-1h0m4-22h0m-27 37h0m5-7h0m0 12h0m6-14h0m1 10h0m4-9h0m1 1h0" stroke="#93a93c" stroke-width="14"/></g>
<g transform="scale(0.1290 0.1)" fill="none" stroke-linecap="round"><path d="M2703 5188h0m3-2h0m-18 40h0m11-11h0m3 0h0m1-12h0m3 2h0m2-2h0m-18 60h0m-7 22h0m-8 59h0m7-21h0m3 26h0m17-26h0" stroke="#f3b5ae" stroke-width="14"/></g>
<g transform="scale(0.1290 0.1)" fill="none" stroke-linecap="round"><path d="M2162 7318h0m5 1h0m3-17h0m7-9h0m2 0h0m3 24h0m0-21h0m4-11h0m13-1h0m0-4h0m3 18h0m-59 46h0m14 7h0m2-12h0m0 20h0m7-15h0m2-11h0m-27 65h0m0-26h0m3 26h0m3-3h0m3-29h0m0 20h0m13-18h0m-46 51h0m3 17h0m2-2h0m3-22h0m5 19h0m2-14h0m2 9h0m2-3h0m1-1h0m3-18h0m1 13h0m3-4h0m1-1h0m-40 65h0m1-32h0m1 30h0m1-10h0m1 9h0m1-29h0m4 19h0m0-2h0m2 0h0m0-7h0m4 3h0m1-9h0m1-4h0m2 19h0m3-3h0m2-11h0m4-1h0m0-5h0m0 0h0m-48 54h0m6-12h0m1 5h0m2 20h0m2-18h0m1-13h0m1 20h0m2-10h0m3-7h0m0 0h0m2 29h0m-41 44h0m6-18h0m3 2h0m0 5h0m4 4h0m4 4h0m11-25h0m4-7h0m4 9h0m1-8h0m6-1h0m-60 70h0m5-15h0m0 7h0m3-2h0m8-5h0m1 3h0m0 11h0m3-7h0m1 7h0m4-16h0m1-11h0m-46 71h0m11-33h0m2 15h0m2 12h0m3-14h0m0-2h0m0-1h0m2 12h0m3 11h0m0-32h0m2 14h0m0-4h0m3 15h0m5-22h0m-49 68h0m6-9h0m6 15h0m4-21h0m0-14h0m2-4h0m0 33h0m1-24h0m3 26h0m1-24h0m-44 68h0m7-12h0m2-12h0m6-4h0m3-4h0m1 19h0m2-9h0m0 12h0m1-29h0m1 5h0m0 18h0m1 1h0m1-21h0m1 18h0m0-8h0m-20 35h0m9-8h0" stroke="#b777c3" stroke-width="14"/></g>
<g transform="scale(0.1290 0.1)" fill="none" stroke-linecap="round"><path d="M2529 7157h0m-65 42h0m7-4h0m1 1h0m1-22h0m1 12h0m5 11h0m0-17h0m2 10h0m5-9h0m3 2h0m4 13h0m4-23h0m2 23h0m1 0h0m2-21h0m1-13h0m8-1h0m3 21h0m3-10h0m23 19h0m-158 48h0m26-1h0m2-3h0m6-7h0m5 5h0m1 0h0m4 0h0m2 1h0m5-19h0m2 13h0m1 10h0m1-12h0m7 0h0m3 8h0m1-7h0m2-6h0m0-1h0m1 2h0m2 1h0m2-3h0m1-8h0m1 10h0m6 17h0m1-16h0m0-23h0m1 38h0m1-17h0m0 18h0m0-12h0m4-2h0m1 2h0m2-16h0m0 8h0m0 2h0m1-21h0m1 20h0m3-9h0m4-3h0m3 6h0m0-14h0m3 14h0m0 14h0m1-13h0m10-13h0m25 1h0m-336 69h0m6-5h0m1-18h0m7 16h0m3 14h0m5-26h0m11 11h0m0-5h0m2 16h0m1-6h0m2-1h0m0-1h0m7 7h0m5-15h0m1 16h0m4 1h0m6-4h0m1-7h0m2 13h0m4-37h0m3 35h0m2 0h0m0-2h0m1 0h0m1-8h0m0 10h0m1-8h0m6 3h0m3-21h0m2 27h0m3-12h0m1-4h0m2 10h0m3-2h0m2-18h0m3 8h0m3 20h0m1-9h0m5-29h0m1 12h0m5 18h0m5-12h0m3 4h0m10 15h0m2-13h0m4 11h0m1-3h0m1 0h0m9-3h0m7 5h0m3-8h0m2 5h0m1 1h0m3-19h0m5 17h0m2 3h0m3-24h0m7 26h0m0-20h0m1 1h0m1 20h0m0-19h0m1 11h0m0-5h0m0 0h0m1-1h0m0-9h0m2 8h0m2-4h0m0 11h0m5-20h0m0 30h0m1-10h0m1-6h0m2 9h0m3 5h0m0-36h0m1 35h0m2-26h0m0 19h0m2-16h0m1-5h0m2 7h0m1 5h0m0 9h0m1-15h0m1 10h0m1 6h0m2-5h0m1-2h0m0 1h0m6-1h0m0-19h0m0 16h0m2 17h0m1-9h0m2-7h0m1 0h0m1-3h0m0 10h0m2-11h0m1 0h0m0 9h0m4-19h0m2 9h0m1-8h0m0 1h0m3 21h0m2-20h0m8-5h0m16 3h0m0 8h0m2-13h0m5 2h0m1 5h0m2 16h0m4-17h0m-307 34h0m8 0h0m9 21h0m0-20h0m12 26h0m0-21h0m6-4h0m7 16h0m1 3h0m1-17h0m0 1h0m0 7h0m0-5h0m2-9h0m4 1h0m0 11h0m3-2h0m5 2h0m0-3h0m2 9h0m1-19h0m15 12h0m2 5h0m0-8h0m5 6h0m4 1h0m11 3h0m1-13h0m1 3h0m14-9h0m1 12h0m7 20h0m0-7h0m3-6h0m12-1h0m0-6h0m7-9h0m1 0h0m6-2h0m0 21h0m1-8h0m2-9h0m2 3h0m1 5h0m2 1h0m4 7h0m1-15h0m3-6h0m1 22h0m4-16h0m1 0h0m1 19h0m1-15h0m0 6h0m3 8h0m1-13h0m0-5h0m3-2h0m1 20h0m2-24h0m1 12h0m0-6h0m3 18h0m1-8h0m1-4h0m2-10h0m15 25h0m2-19h0m2-6h0m2 0h0m2 12h0m9-2h0m10-8h0m3-4h0m3 4h0m15-1h0m4 5h0" stroke="#b777c3" stroke-width="14"/></g>
<g transform="scale(0.1290 0.1)" fill="none" stroke-linecap="round"><path d="M2806 7784h0m19 9h0m0 5h0m-25 20h0m1-5h0m3-4h0m0-7h0m5 11h0m0 0h0m3-10h0m2 1h0m0 17h0m1-16h0m0 8h0m1-5h0m1 22h0m0-13h0m1 18h0m0-23h0m0 8h0m3-17h0m3 22h0m0-1h0m1-5h0m1-10h0m1-9h0m0 15h0m1 23h0m1-5h0m0 4h0m0-4h0m4-4h0m6 9h0m-18 12h0m2-9h0m2 1h0m1 9h0m2-10h0m1 21h0m2-5h0m2-5h0m1 10h0m4-12h0m0-1h0m3-7h0m0 25h0m0-8h0m2-5h0m1 11h0m0-14h0m1-9h0m1 33h0m1-32h0m2 34h0m0-20h0m2 10h0m1 5h0m0-22h0m1 11h0m0-8h0m1 20h0m1-13h0m0 1h0m1 12h0m0-10h0m2 7h0m1-23h0m7 25h0m0-16h0m1 8h0m0 13h0m1 2h0m0-1h0m3 0h0m23-10h0m-45 23h0m6-10h0m0 3h0m2 0h0m2 0h0m6-3h0m0 12h0m2-10h0m0 4h0m0-1h0m4 5h0m2-5h0m1-4h0m1-1h0m2 18h0" stroke="#dc589f" stroke-width="14"/></g>
<g transform="scale(0.1290 0.1)" fill="none" stroke-linecap="round"><path d="M2889 7870h0m5 1h0m11 2h0m3-2h0m1 5h0m15 1h0m-9 9h0m1-2h0m4 6h0m5-8h0m3 11h0m4-4h0" stroke="#dc589f" stroke-width="14"/></g>
<g transform="scale(0.1290 0.1)" fill="none" stroke-linecap="round"><path d="M3098 7958h0m3-1h0m-6 6h0m1 11h0m0 9h0m2-18h0m3 9h0m3 4h0m1 7h0m1-3h0m0 2h0m0-4h0m2-13h0m4 13h0m1 17h0m3 0h0m0-11h0m2 12h0m0-20h0m1 19h0m5-11h0m-4 14h0m3 13h0m0 3h0m1-6h0m1-7h0m4 29h0m0-4h0m1-12h0m2 13h0m2 10h0m1 0h0m0-16h0m2 6h0m0 7h0m2-16h0m-7 29h0m1-5h0m2 5h0m1-5h0m1 3h0m1 2h0m1 5h0m1 14h0m3-19h0m5 19h0m2-10h0m3 6h0m1-6h0m-10 22h0" stroke="#dc589f" stroke-width="14"/></g>
</g>
<g font-size="12.42" fill="#2a2a2a" stroke="#2a2a2a" stroke-width="0.15" text-anchor="middle" opacity="0.82">
<text transform="translate(427.3 95.3) scale(1.2464 1)">NKT cells</text>
<text transform="translate(150.6 224.2) scale(1.2464 1)">CD4 Treg</text>
<text transform="translate(252.6 348.0) scale(1.2464 1)">T<tspan textLength="7.25" lengthAdjust="spacingAndGlyphs">-</tspan>cells</text>
<text transform="translate(370.4 380.8) scale(1.2464 1)">CD8+ T<tspan textLength="7.25" lengthAdjust="spacingAndGlyphs">-</tspan>cells</text>
<text transform="translate(620.3 277.4) scale(1.2464 1)">B<tspan textLength="7.25" lengthAdjust="spacingAndGlyphs">-</tspan>cells</text>
<text transform="translate(412.5 480.0) scale(1.2464 1)">Unknown</text>
<text transform="translate(314.8 537.6) scale(1.2464 1)">NK cells</text>
<text transform="translate(285.8 732.5) scale(1.2464 1)">DCs</text>
<text transform="translate(398.8 800.4) scale(1.2464 1)">ILC2</text>
</g>
<ellipse cx="691.8" cy="366.3" rx="5.3" ry="4.2" fill="#ee6f68"/>
<ellipse cx="691.8" cy="382.6" rx="5.3" ry="4.2" fill="#d2922a"/>
<ellipse cx="691.8" cy="398.9" rx="5.3" ry="4.2" fill="#93a83a"/>
<ellipse cx="691.8" cy="415.2" rx="5.3" ry="4.2" fill="#2bae48"/>
<ellipse cx="691.8" cy="431.5" rx="5.3" ry="4.2" fill="#2fb89c"/>
<ellipse cx="691.8" cy="447.8" rx="5.3" ry="4.2" fill="#2aabdc"/>
<ellipse cx="691.8" cy="464.1" rx="5.3" ry="4.2" fill="#6b93d6"/>
<ellipse cx="691.8" cy="480.4" rx="5.3" ry="4.2" fill="#b873c4"/>
<ellipse cx="691.8" cy="496.7" rx="5.3" ry="4.2" fill="#e8589f"/>
<text transform="translate(712.30 371.20) scale(1.2286 1)" font-size="13.55" fill="#4d4d4d" stroke="#4d4d4d" stroke-width="0.3">T<tspan textLength="7.91" lengthAdjust="spacingAndGlyphs"><tspan textLength="7.91" lengthAdjust="spacingAndGlyphs">-</tspan></tspan>cells</text>
<text transform="translate(712.30 387.50) scale(1.2286 1)" font-size="13.55" fill="#4d4d4d" stroke="#4d4d4d" stroke-width="0.3">CD8+ T<tspan textLength="7.91" lengthAdjust="spacingAndGlyphs"><tspan textLength="7.91" lengthAdjust="spacingAndGlyphs">-</tspan></tspan>cells</text>
<text transform="translate(712.30 403.80) scale(1.2286 1)" font-size="13.55" fill="#4d4d4d" stroke="#4d4d4d" stroke-width="0.3">CD4 Treg</text>
<text transform="translate(712.30 420.10) scale(1.2286 1)" font-size="13.55" fill="#4d4d4d" stroke="#4d4d4d" stroke-width="0.3">Unknown</text>
<text transform="translate(712.30 436.40) scale(1.2286 1)" font-size="13.55" fill="#4d4d4d" stroke="#4d4d4d" stroke-width="0.3">NKT cells</text>
<text transform="translate(712.30 452.70) scale(1.2286 1)" font-size="13.55" fill="#4d4d4d" stroke="#4d4d4d" stroke-width="0.3">B<tspan textLength="7.91" lengthAdjust="spacingAndGlyphs"><tspan textLength="7.91" lengthAdjust="spacingAndGlyphs">-</tspan></tspan>cells</text>
<text transform="translate(712.30 469.00) scale(1.2286 1)" font-size="13.55" fill="#4d4d4d" stroke="#4d4d4d" stroke-width="0.3">NK cells</text>
<text transform="translate(712.30 485.30) scale(1.2286 1)" font-size="13.55" fill="#4d4d4d" stroke="#4d4d4d" stroke-width="0.3">DCs</text>
<text transform="translate(712.30 501.60) scale(1.2286 1)" font-size="13.55" fill="#4d4d4d" stroke="#4d4d4d" stroke-width="0.3">ILC2</text>
</g>
<g id="panelB">
<text x="940" y="25.6" font-size="32.5" font-weight="bold" fill="#111" stroke="#111" stroke-width="0.4">B</text>
<path d="M1068.2 10V823.6M1067.1 822.5H1526" fill="none" stroke="#333" stroke-width="2.2"/>
<path d="M1062.5 63.9H1067.5M1062.5 152.2H1067.5M1062.5 240.4H1067.5M1062.5 328.7H1067.5M1062.5 417.0H1067.5M1062.5 505.2H1067.5M1062.5 593.5H1067.5M1062.5 681.8H1067.5M1062.5 770.1H1067.5M1296.8 823V828.3" fill="none" stroke="#333" stroke-width="2.2"/>
<text transform="translate(1057.00 71.50) scale(0.9662 1)" font-size="22.36" fill="#282828" stroke="#282828" stroke-width="0.4" text-anchor="end">ILC2</text>
<text transform="translate(1057.00 159.77) scale(0.9662 1)" font-size="22.36" fill="#282828" stroke="#282828" stroke-width="0.4" text-anchor="end">DCs</text>
<text transform="translate(1057.00 248.04) scale(0.9662 1)" font-size="22.36" fill="#282828" stroke="#282828" stroke-width="0.4" text-anchor="end">NK cells</text>
<text transform="translate(1057.00 336.31) scale(0.9662 1)" font-size="22.36" fill="#282828" stroke="#282828" stroke-width="0.4" text-anchor="end">B<tspan textLength="13.06" lengthAdjust="spacingAndGlyphs"><tspan textLength="13.06" lengthAdjust="spacingAndGlyphs">-</tspan></tspan>cells</text>
<text transform="translate(1057.00 424.58) scale(0.9662 1)" font-size="22.36" fill="#282828" stroke="#282828" stroke-width="0.4" text-anchor="end">NKT cells</text>
<text transform="translate(1057.00 512.85) scale(0.9662 1)" font-size="22.36" fill="#282828" stroke="#282828" stroke-width="0.4" text-anchor="end">Unknown</text>
<text transform="translate(1057.00 601.12) scale(0.9662 1)" font-size="22.36" fill="#282828" stroke="#282828" stroke-width="0.4" text-anchor="end">CD4 Treg</text>
<text transform="translate(1057.00 689.39) scale(0.9662 1)" font-size="22.36" fill="#282828" stroke="#282828" stroke-width="0.4" text-anchor="end">CD8+ T<tspan textLength="13.06" lengthAdjust="spacingAndGlyphs"><tspan textLength="13.06" lengthAdjust="spacingAndGlyphs">-</tspan></tspan>cells</text>
<text transform="translate(1057.00 777.66) scale(0.9662 1)" font-size="22.36" fill="#282828" stroke="#282828" stroke-width="0.4" text-anchor="end">T<tspan textLength="13.06" lengthAdjust="spacingAndGlyphs"><tspan textLength="13.06" lengthAdjust="spacingAndGlyphs">-</tspan></tspan>cells</text>
<text transform="translate(1296.60 849.80) scale(0.9662 1)" font-size="22.36" fill="#282828" stroke="#282828" stroke-width="0.3" text-anchor="middle">PDCD1</text>
<text transform="translate(1296.80 878.80) scale(0.9662 1)" font-size="25.77" fill="#1f1f1f" stroke="#1f1f1f" stroke-width="0.3" text-anchor="middle">Features</text>
<text transform="translate(915.6 416.8) scale(1.0350 0.9662) rotate(-90)" text-anchor="middle" font-size="25.77" fill="#1f1f1f" stroke="#1f1f1f" stroke-width="0.3">Identity</text>
<circle cx="1296.8" cy="63.9" r="6.6" fill="#a81e23"/>
<circle cx="1296.8" cy="152.2" r="6.8" fill="#a81e23"/>
<circle cx="1296.8" cy="240.4" r="1.9" fill="#8e1c24"/>
<circle cx="1296.8" cy="328.7" r="1.3" fill="#962830"/>
<circle cx="1296.8" cy="417.0" r="1.6" fill="#8e1c24"/>
<circle cx="1296.8" cy="505.2" r="6.5" fill="#ea5f45"/>
<circle cx="1296.8" cy="593.5" r="5.6" fill="#da352d"/>
<circle cx="1296.8" cy="681.8" r="12.6" fill="#fadfd5"/>
<circle cx="1296.8" cy="770.1" r="8.4" fill="#ec6549"/>
<defs><linearGradient id="cb" x1="0" y1="1" x2="0" y2="0">
<stop offset="0" stop-color="#a3161f"/><stop offset="0.1667" stop-color="#c42024"/><stop offset="0.3333" stop-color="#e2402f"/>
<stop offset="0.5" stop-color="#ef6b4c"/><stop offset="0.6667" stop-color="#f29273"/><stop offset="0.8333" stop-color="#f6baa2"/>
<stop offset="1" stop-color="#fbe2d7"/></linearGradient></defs>
<rect x="1549.7" y="281" width="28" height="137" fill="url(#cb)"/>
<path d="M1549.7 288.1h5.5M1577.7 288.1h-5.5M1549.7 333.5h5.5M1577.7 333.5h-5.5M1549.7 379.1h5.5M1577.7 379.1h-5.5" stroke="#fff" stroke-width="1" opacity="0.8" fill="none"/>
<text transform="translate(1589.80 295.60) scale(0.9662 1)" font-size="22.36" fill="#282828" stroke="#282828" stroke-width="0.3">2</text>
<text transform="translate(1589.80 341.00) scale(0.9662 1)" font-size="22.36" fill="#282828" stroke="#282828" stroke-width="0.3">1</text>
<text transform="translate(1589.80 386.60) scale(0.9662 1)" font-size="22.36" fill="#282828" stroke="#282828" stroke-width="0.3">0</text>
<text transform="translate(1589.80 500.00) scale(0.9662 1)" font-size="22.36" fill="#282828" stroke="#282828" stroke-width="0.3">5</text>
<text transform="translate(1589.80 527.30) scale(0.9662 1)" font-size="22.36" fill="#282828" stroke="#282828" stroke-width="0.3">10</text>
<text transform="translate(1589.80 554.60) scale(0.9662 1)" font-size="22.36" fill="#282828" stroke="#282828" stroke-width="0.3">15</text>
<text transform="translate(1589.80 581.90) scale(0.9662 1)" font-size="22.36" fill="#282828" stroke="#282828" stroke-width="0.3">20</text>
<circle cx="1563.9" cy="492.2" r="2.3" fill="#1c1c1c"/>
<circle cx="1563.9" cy="519.5" r="5.6" fill="#1c1c1c"/>
<circle cx="1563.9" cy="546.8" r="8.8" fill="#1c1c1c"/>
<circle cx="1563.9" cy="574.1" r="12.1" fill="#1c1c1c"/>
<text transform="translate(1549.80 266.40) scale(0.9662 1)" font-size="25.77" fill="#1f1f1f" stroke="#1f1f1f" stroke-width="0.3">Average Expression</text>
<text transform="translate(1549.80 463.60) scale(0.9662 1)" font-size="25.77" fill="#1f1f1f" stroke="#1f1f1f" stroke-width="0.3">Percent Expressed</text>
</g>
</svg>
</body></html>
